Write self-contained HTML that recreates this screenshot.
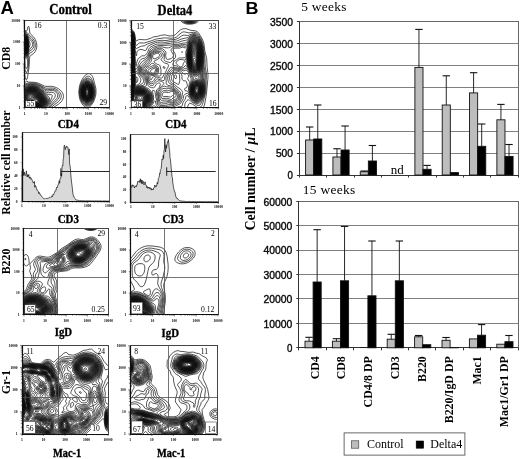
<!DOCTYPE html>
<html><head><meta charset="utf-8"><title>Figure</title>
<style>html,body{margin:0;padding:0;background:#fff}svg{display:block}</style>
</head><body>
<svg width="520" height="459" viewBox="0 0 520 459">
<defs><clipPath id="c1"><rect x="24.70" y="20.20" width="84.90" height="87.60"/></clipPath>
<clipPath id="c2"><rect x="131.00" y="20.60" width="87.70" height="87.00"/></clipPath>
<clipPath id="c3"><rect x="23.90" y="228.30" width="84.60" height="86.20"/></clipPath>
<clipPath id="c4"><rect x="130.80" y="228.60" width="87.20" height="85.90"/></clipPath>
<clipPath id="c5"><rect x="22.00" y="345.40" width="86.00" height="88.60"/></clipPath>
<clipPath id="c6"><rect x="130.10" y="345.80" width="86.90" height="88.20"/></clipPath></defs>
<rect width="520" height="459" fill="#fff"/>
<g clip-path="url(#c1)" fill="none" stroke="#111" stroke-width="0.72" stroke-linejoin="round">
<path d="M19.6 42.5 19.9 40.0 20.6 36.7 21.8 33.4 22.5 32.1 23.4 31.0 24.1 30.5 24.7 30.4 26.6 30.9 26.9 30.7 27.3 30.2 27.9 27.0 28.5 26.2 29.2 27.5 29.7 32.1 30.1 33.4 30.5 34.0 33.4 36.7 35.2 39.3 36.5 42.6 36.9 45.9 36.7 47.9 36.3 49.2 35.1 51.8 33.6 53.5 30.5 55.6 29.8 56.6 29.4 59.1 29.3 64.3 28.9 68.3 27.7 76.2 27.3 78.0 26.6 79.7 26.0 79.6 25.2 77.5 23.8 67.6 23.3 61.0 21.2 55.1 19.9 49.2 19.6 46.7M88.5 107.2 87.3 107.4 85.3 107.0 83.4 105.6 82.0 103.8 80.6 101.2 79.8 99.2 79.1 95.9 78.8 92.0 79.4 86.7 80.5 82.8 81.7 80.1 83.4 77.4 85.3 75.1 87.3 73.9 88.5 73.6 89.8 73.8 91.1 74.6 92.4 76.2 93.0 77.5 95.3 86.1 95.9 88.7 96.0 91.3 95.9 94.0 95.4 96.6 94.6 99.2 93.5 101.9 92.3 103.8 91.1 105.5 89.8 106.6 88.5 107.2zM19.6 87.0 20.9 85.9 24.2 83.4 26.0 81.4 26.6 81.1 26.9 81.4 28.5 82.1 34.3 82.3 37.5 82.9 39.4 83.6 44.5 86.1 45.8 86.4 51.5 86.3 54.7 87.0 56.6 87.7 58.5 88.8 60.1 90.0 61.4 91.3 62.4 92.6 63.0 94.0 63.4 95.3 63.5 96.6 63.3 97.9 62.8 99.2 62.1 100.5 61.1 101.9 58.5 104.1 49.6 110.1 45.8 112.1 42.6 113.1M31.0 113.1 28.5 112.6 24.7 111.4 22.2 110.1 19.6 108.1M26.6 72.8 26.0 72.6 25.0 69.6 24.4 66.3 24.1 61.0 23.7 59.7 21.9 55.8 21.3 53.8 20.5 49.8 20.1 45.9 20.1 43.3 20.4 40.0 21.3 36.0 21.8 34.7 22.8 32.7 23.4 31.9 24.1 31.5 24.7 31.3 26.0 31.7 27.2 32.7 28.5 34.0 29.4 35.4 31.7 37.3 33.0 38.6 34.6 41.3 35.2 43.3 35.4 44.6 35.2 47.2 34.8 48.5 34.2 49.8 33.6 50.6 32.4 51.7 29.8 53.1 29.2 54.0 28.8 55.1 28.4 57.7 28.5 63.0 28.4 66.3 27.6 70.3 26.6 72.8zM88.5 105.8 87.3 106.1 85.3 105.6 83.4 104.1 82.2 102.5 81.1 100.5 80.0 97.3 79.5 94.0 79.4 92.0 79.8 88.0 80.4 85.4 81.1 83.4 82.5 80.8 84.1 78.6 85.3 77.4 87.3 76.3 88.5 76.2 89.8 76.6 90.4 77.1 91.2 78.2 92.5 80.8 94.5 86.7 95.1 90.0 95.2 92.0 94.6 96.6 93.3 100.5 92.2 102.5 91.1 104.0 89.8 105.2 88.5 105.8zM19.6 88.4 22.2 86.0 26.0 83.6 27.3 83.2 31.7 83.0 34.9 83.2 36.8 83.7 38.8 84.4 44.1 87.4 45.8 88.1 47.0 88.2 52.2 88.0 54.1 88.3 56.0 89.1 57.9 90.3 59.6 92.0 60.9 94.0 61.3 95.9 61.2 97.3 60.5 99.2 59.5 100.5 58.2 101.9 54.7 104.5 50.2 108.3 48.3 109.6 45.1 111.3 42.6 112.2 40.0 112.6 36.8 112.8 33.6 112.6 29.2 111.9 26.6 111.2 24.1 110.2 21.5 108.6 19.6 106.9M26.6 68.4 26.0 68.3 25.3 66.7 25.1 65.0 24.9 60.4 22.9 57.1 21.8 54.5 21.1 51.8 20.4 46.6 20.5 41.9 21.3 37.3 21.9 35.4 22.8 33.5 24.1 32.2 24.7 32.1 25.3 32.2 26.1 32.7 27.2 34.0 29.2 37.2 31.1 38.7 32.3 40.0 33.4 41.9 34.0 44.6 33.8 46.6 33.0 48.4 31.7 49.7 29.8 50.7 29.2 51.5 28.5 53.3 27.3 58.4 27.7 63.0 27.6 65.6 27.3 67.2 26.6 68.4zM89.2 104.6 87.9 105.1 86.0 104.9 84.7 104.3 82.9 102.5 81.7 100.5 80.7 97.9 79.9 93.3 79.9 90.7 80.4 87.4 81.8 83.4 82.9 81.4 84.7 79.4 86.0 78.5 87.9 78.0 89.2 78.3 89.8 78.8 91.1 80.2 92.2 82.1 93.3 84.7 93.9 86.7 94.6 91.3 94.6 93.3 94.2 95.9 93.3 99.2 92.7 100.5 91.5 102.5 90.4 103.7 89.2 104.6zM19.6 89.6 22.2 87.0 24.1 85.6 26.0 84.6 27.3 84.2 30.5 83.8 34.3 83.9 36.8 84.4 38.8 85.2 40.7 86.2 44.5 88.8 45.8 89.5 47.7 89.7 52.2 89.3 54.1 89.7 55.3 90.2 57.0 91.3 58.2 92.6 59.0 94.0 59.4 95.9 59.0 97.9 57.9 99.6 54.1 103.1 50.1 107.1 47.7 109.0 45.8 110.1 41.9 111.5 38.8 112.0 35.6 112.0 31.1 111.5 27.9 110.9 25.3 110.0 23.4 109.0 21.5 107.7 19.6 105.9M26.0 58.8 25.3 58.9 24.1 58.1 22.6 55.8 21.9 53.8 21.2 51.2 20.6 45.9 20.6 43.3 21.0 40.0 21.7 36.7 22.9 34.0 24.1 32.8 24.7 32.7 25.3 32.8 26.6 34.0 29.2 38.8 31.6 41.3 32.3 42.6 32.6 44.6 32.4 45.9 31.8 47.2 29.8 48.8 29.2 49.7 27.2 56.4 26.6 57.8 26.0 58.8zM89.2 103.9 87.9 104.3 86.0 104.2 84.7 103.5 83.4 102.3 82.2 100.5 81.3 98.6 80.6 95.9 80.3 94.0 80.3 91.3 80.5 88.7 81.2 86.1 82.0 84.1 83.1 82.1 84.7 80.3 86.0 79.5 87.3 79.1 88.5 79.3 89.2 79.6 90.4 80.7 91.5 82.1 92.5 84.1 93.2 86.1 93.9 88.7 94.1 90.7 94.1 93.3 93.9 95.3 92.8 99.2 91.1 102.2 89.2 103.9zM19.6 90.7 20.7 89.4 22.2 87.9 24.1 86.4 26.0 85.4 27.3 84.9 30.5 84.4 34.3 84.5 36.8 85.1 38.8 85.9 40.7 87.0 44.5 89.9 46.4 90.9 47.7 91.0 52.2 90.5 53.4 90.7 54.7 91.2 56.0 92.1 57.0 93.3 57.6 94.6 57.7 95.9 57.4 97.3 56.7 98.6 53.4 101.9 50.7 105.2 48.9 107.1 45.8 109.4 43.9 110.3 41.9 110.9 38.8 111.4 35.6 111.4 31.1 111.0 27.9 110.3 25.3 109.4 23.4 108.3 21.5 106.9 19.6 105.0M26.0 57.2 25.3 57.6 24.7 57.6 24.1 57.2 23.0 55.8 21.8 52.5 21.0 47.2 21.0 41.9 21.9 37.3 23.0 34.7 24.1 33.6 24.7 33.4 25.3 33.6 26.0 34.1 26.9 35.4 29.6 41.9 30.1 43.9 30.1 44.6 29.2 47.0 27.6 53.8 26.8 55.8 26.0 57.2zM88.5 103.3 87.3 103.6 86.0 103.4 84.7 102.6 83.4 101.3 82.5 99.9 81.6 97.9 81.1 95.9 80.7 93.3 80.7 90.7 81.1 88.0 81.7 86.1 82.6 84.1 83.4 82.7 84.7 81.3 86.0 80.5 87.3 80.2 88.5 80.4 89.8 81.2 91.5 83.4 92.9 86.7 93.4 88.7 93.6 90.7 93.7 92.6 93.4 95.3 92.5 98.6 91.5 100.5 90.6 101.9 89.8 102.6 88.5 103.3zM19.6 92.3 20.6 90.7 22.2 88.9 24.1 87.4 26.0 86.3 27.9 85.6 29.8 85.2 31.7 85.1 33.6 85.1 36.2 85.7 38.8 86.8 41.3 88.6 44.5 91.4 46.4 92.5 48.3 92.8 51.5 92.3 53.4 92.6 54.4 93.3 55.0 94.0 55.4 95.3 55.3 95.9 54.8 97.3 52.2 100.7 49.8 104.5 48.2 106.5 46.6 107.8 45.1 108.8 43.2 109.7 41.3 110.3 38.8 110.7 35.6 110.7 31.1 110.3 27.9 109.6 26.0 108.9 23.4 107.5 21.4 105.8 19.6 103.7M25.3 56.8 24.7 56.9 24.1 56.5 23.0 55.1 22.5 53.8 21.6 50.5 21.1 45.9 21.2 41.9 21.9 38.0 22.6 36.0 23.4 34.7 24.1 34.2 24.7 34.0 25.3 34.2 26.0 34.7 27.2 36.7 28.3 40.0 29.0 43.9 28.8 46.6 27.6 52.5 26.6 55.3 26.0 56.3 25.3 56.8zM88.5 102.7 87.3 103.0 86.0 102.8 84.7 102.0 83.9 101.2 82.9 99.9 82.0 97.9 81.3 95.3 81.0 93.3 81.2 89.4 81.9 86.7 82.7 84.7 83.5 83.4 84.7 82.0 86.0 81.2 87.3 80.9 88.5 81.2 89.2 81.5 90.4 82.7 91.4 84.1 92.7 87.4 93.3 91.3 93.2 94.6 92.8 96.6 92.1 98.6 91.5 99.9 90.4 101.3 89.8 101.9 88.5 102.7zM19.6 93.6 20.5 92.0 22.0 90.0 23.4 88.6 25.3 87.3 27.3 86.4 29.2 85.9 31.1 85.7 33.0 85.7 35.6 86.1 38.1 87.1 40.4 88.7 44.5 92.5 46.4 93.9 48.3 94.6 51.5 94.7 52.3 95.3 52.4 95.9 49.8 102.5 48.8 104.5 47.7 105.8 45.8 107.6 43.9 108.8 41.9 109.5 40.0 110.0 37.5 110.2 34.3 110.1 30.5 109.6 27.3 108.8 24.7 107.6 22.8 106.3 20.9 104.5 19.6 102.6M25.3 56.2 24.7 56.3 24.1 56.0 23.4 55.1 22.5 53.1 21.7 49.8 21.2 45.2 21.3 42.6 21.7 40.0 22.3 37.3 23.4 35.2 24.1 34.6 24.7 34.4 25.3 34.6 26.0 35.2 27.2 37.3 28.3 41.3 28.5 43.9 28.3 47.9 27.6 51.8 26.6 54.6 26.0 55.7 25.3 56.2zM89.2 101.9 87.9 102.4 86.6 102.4 85.3 101.9 84.4 101.2 83.3 99.9 82.3 97.9 81.7 95.9 81.4 94.0 81.3 92.0 81.4 90.0 81.8 88.0 82.4 86.1 84.1 83.3 85.3 82.1 86.6 81.6 87.9 81.5 88.5 81.7 89.8 82.6 90.5 83.4 91.9 86.1 92.6 88.0 92.9 90.0 93.0 94.0 92.3 97.3 91.1 99.9 90.0 101.2 89.2 101.9zM19.6 95.0 20.7 92.6 22.1 90.7 23.4 89.3 25.3 87.9 27.3 87.0 29.2 86.4 31.7 86.1 33.6 86.2 36.8 87.1 38.1 87.7 40.0 89.1 45.1 94.0 48.6 96.6 49.4 97.9 49.6 99.2 49.3 101.2 48.7 103.2 47.5 105.2 46.3 106.5 44.5 107.8 42.6 108.8 40.7 109.4 38.1 109.7 34.9 109.7 31.7 109.4 29.2 108.9 26.6 108.0 24.1 106.7 22.2 105.2 20.5 103.2 19.6 101.4M24.7 55.9 24.1 55.5 23.4 54.8 22.4 52.5 21.7 49.2 21.4 44.6 21.7 40.6 22.5 37.3 23.4 35.6 24.1 35.0 24.7 34.8 25.3 35.0 26.0 35.6 26.9 37.3 27.6 39.3 28.0 41.3 28.3 44.6 28.2 47.2 27.8 49.8 27.0 53.1 26.0 55.2 25.3 55.7 24.7 55.9zM87.9 102.0 86.6 102.0 85.3 101.5 83.7 99.9 82.6 97.9 81.9 95.9 81.5 92.6 81.6 90.7 81.9 88.7 83.0 85.4 84.7 83.1 86.0 82.2 87.3 81.9 88.5 82.2 89.2 82.6 90.0 83.4 91.0 84.7 92.3 88.0 92.7 90.0 92.8 92.0 92.5 95.3 91.5 98.6 90.7 99.9 89.8 101.0 89.2 101.5 87.9 102.0zM19.6 96.8 20.2 94.6 21.2 92.6 22.8 90.6 24.7 88.9 26.6 87.7 28.5 87.0 31.1 86.6 33.6 86.6 35.6 87.0 37.5 87.9 40.4 90.0 47.5 97.3 48.3 98.6 48.6 100.5 48.2 102.5 47.3 104.5 46.2 105.8 44.7 107.1 42.6 108.3 40.7 109.0 38.8 109.3 36.2 109.4 33.6 109.2 29.8 108.6 27.9 108.1 25.3 107.0 23.4 105.7 21.5 103.8 20.3 101.9 19.6 99.8M25.3 55.3 24.7 55.5 24.1 55.1 23.4 54.3 22.9 53.1 22.0 49.8 21.6 45.9 21.7 41.3 22.5 38.0 23.4 36.0 24.1 35.4 24.7 35.2 25.3 35.4 26.0 36.0 27.0 38.0 27.7 40.6 28.1 43.9 28.1 46.6 27.5 50.5 26.5 53.8 26.0 54.7 25.3 55.3zM88.5 101.4 87.3 101.7 86.0 101.5 84.7 100.6 84.1 99.9 82.6 97.3 82.0 95.3 81.7 93.3 81.7 91.3 82.0 89.4 83.0 86.1 83.7 84.7 84.7 83.6 86.0 82.6 87.3 82.3 87.9 82.4 89.2 83.0 90.7 84.7 91.4 86.1 92.1 88.0 92.6 91.3 92.4 94.6 91.5 97.9 90.4 99.9 89.2 101.1 88.5 101.4zM40.7 108.6 38.1 109.0 35.6 109.0 32.4 108.7 29.2 108.1 27.3 107.5 25.3 106.5 23.4 105.2 22.0 103.8 21.0 102.5 20.2 100.5 19.9 99.2 19.9 97.3 20.4 95.3 21.3 93.3 22.7 91.3 24.1 89.9 26.6 88.2 29.8 87.1 33.0 86.9 35.6 87.5 37.5 88.3 39.8 90.0 46.0 96.6 47.4 98.6 47.8 99.9 47.8 101.2 47.4 103.2 46.2 105.2 44.9 106.5 43.2 107.6 40.7 108.6zM25.3 55.0 24.7 55.1 24.1 54.8 23.0 53.1 22.0 49.2 21.6 45.9 21.8 41.9 22.4 38.6 23.4 36.4 24.1 35.7 24.7 35.5 25.3 35.7 26.0 36.4 26.8 38.0 27.6 40.6 27.9 43.9 27.8 47.9 27.2 51.2 26.3 53.8 25.3 55.0zM87.9 101.3 87.3 101.4 86.0 101.1 84.7 100.2 83.9 99.2 83.1 97.9 82.4 95.9 81.9 92.6 82.0 90.7 82.3 88.7 83.4 85.7 84.1 84.7 85.3 83.4 86.0 83.0 87.3 82.7 88.5 83.0 89.2 83.4 90.8 85.4 91.4 86.7 92.0 88.7 92.4 92.0 92.1 95.3 91.3 97.9 89.8 100.2 89.2 100.7 87.9 101.3zM39.4 108.5 36.8 108.8 34.3 108.6 31.1 108.2 28.5 107.6 26.6 106.8 24.7 105.8 23.1 104.5 21.9 103.2 21.1 101.9 20.4 99.9 20.2 98.6 20.4 96.6 21.0 94.6 21.7 93.3 23.2 91.3 24.7 89.8 27.3 88.3 29.8 87.5 33.0 87.3 35.6 87.8 37.5 88.7 39.4 90.2 45.8 97.3 46.7 98.6 47.2 100.5 47.2 101.9 46.5 103.8 45.6 105.2 43.9 106.8 41.9 107.8 39.4 108.5zM25.3 54.6 24.7 54.8 24.1 54.4 23.2 53.1 22.3 50.5 21.7 45.9 21.9 41.9 22.5 38.6 23.4 36.7 24.1 36.0 24.7 35.8 25.3 36.0 26.0 36.7 26.9 38.6 27.6 41.3 27.8 43.9 27.7 47.9 27.1 51.2 26.4 53.1 26.0 53.9 25.3 54.6zM88.5 100.8 87.3 101.1 86.0 100.8 85.3 100.4 84.1 99.2 82.8 96.6 82.1 93.3 82.1 91.3 82.3 89.4 83.4 86.2 84.3 84.7 85.3 83.7 86.6 83.1 87.3 83.0 87.9 83.1 89.2 83.8 90.5 85.4 91.6 88.0 92.2 91.3 92.1 94.6 91.4 97.3 90.3 99.2 89.2 100.4 88.5 100.8zM37.5 108.5 34.9 108.4 32.4 108.1 29.8 107.6 27.3 106.8 25.3 105.8 23.6 104.5 22.3 103.2 21.4 101.9 20.7 99.9 20.6 98.6 20.6 97.3 21.1 95.3 22.1 93.3 23.4 91.5 25.1 90.0 26.6 89.0 29.2 88.0 31.7 87.6 34.3 87.8 36.2 88.4 38.1 89.6 40.1 91.3 44.7 96.6 46.1 98.6 46.6 99.9 46.7 101.9 46.1 103.8 45.1 105.2 43.7 106.5 41.9 107.5 40.0 108.1 37.5 108.5zM24.7 54.5 24.1 54.1 23.4 53.3 22.6 51.2 22.0 47.9 21.8 44.6 22.0 41.9 22.7 38.6 23.4 37.0 24.1 36.3 24.7 36.1 25.3 36.3 26.0 37.0 26.8 38.6 27.6 41.9 27.7 44.6 27.6 47.9 26.7 51.8 26.0 53.6 25.3 54.3 24.7 54.5zM87.9 100.7 86.6 100.7 86.0 100.5 85.1 99.9 84.1 98.8 83.2 97.3 82.8 95.9 82.2 92.6 82.5 89.4 83.1 87.4 83.7 86.1 84.6 84.7 85.3 84.1 86.0 83.7 87.3 83.4 88.5 83.7 89.2 84.1 90.7 86.1 91.6 88.7 92.1 92.0 91.8 95.3 90.9 97.9 89.4 99.9 87.9 100.7zM40.0 107.8 38.1 108.2 35.6 108.2 33.0 107.9 29.8 107.3 27.9 106.7 26.0 105.8 24.1 104.5 22.8 103.3 21.8 101.9 21.2 100.5 20.9 99.2 21.0 97.3 21.3 95.9 22.1 94.0 23.4 92.0 24.7 90.7 26.6 89.3 28.5 88.5 31.1 87.9 33.0 87.9 34.9 88.3 36.8 89.1 38.8 90.5 40.9 92.6 45.2 97.9 46.1 99.9 46.3 101.2 45.9 103.2 44.7 105.2 42.6 106.8 40.0 107.8zM25.3 54.0 24.7 54.2 24.1 53.8 23.2 52.5 22.4 49.8 21.9 45.9 22.0 42.6 22.6 39.3 23.4 37.3 24.1 36.6 24.7 36.4 25.3 36.6 26.0 37.3 26.6 38.6 27.3 41.3 27.6 43.9 27.5 47.2 27.0 50.5 26.4 52.5 25.3 54.0zM88.5 100.2 87.9 100.5 86.6 100.5 85.4 99.9 84.7 99.2 83.7 97.9 83.1 96.6 82.4 93.3 82.5 90.0 83.0 88.0 83.6 86.7 84.4 85.4 85.3 84.4 86.6 83.7 87.3 83.6 88.5 84.0 89.2 84.4 90.4 86.1 91.5 88.7 91.9 91.3 91.8 94.0 91.2 96.6 90.3 98.6 89.2 99.8 88.5 100.2zM38.8 107.8 36.8 108.0 34.3 107.8 29.2 106.9 27.3 106.2 25.3 105.1 24.1 104.2 22.8 102.8 21.8 101.2 21.3 99.9 21.2 98.6 21.4 96.6 21.8 95.3 22.9 93.3 24.1 91.8 25.3 90.6 27.3 89.4 29.8 88.4 32.4 88.2 34.9 88.6 36.8 89.5 38.8 90.9 41.0 93.3 44.3 97.3 45.5 99.2 45.8 100.5 45.7 102.5 45.2 103.8 44.2 105.2 42.6 106.5 40.7 107.4 38.8 107.8zM24.7 53.9 24.1 53.6 23.4 52.6 22.8 50.9 22.3 48.5 22.0 44.6 22.2 41.3 22.8 39.0 23.4 37.5 24.1 36.8 24.7 36.6 25.3 36.9 26.0 37.6 26.7 39.3 27.3 41.9 27.5 44.6 27.3 47.9 26.7 51.2 26.0 52.9 25.3 53.7 24.7 53.9zM88.5 99.9 87.9 100.2 86.6 100.2 85.3 99.6 84.7 99.0 83.3 96.6 82.6 93.3 82.7 90.0 83.2 88.0 83.8 86.7 84.6 85.4 85.3 84.7 86.0 84.2 87.3 83.9 88.5 84.3 89.2 84.8 90.2 86.1 91.3 88.7 91.7 91.3 91.7 94.0 91.0 96.6 90.0 98.6 88.5 99.9zM40.0 107.3 38.1 107.7 35.6 107.7 30.5 106.9 26.6 105.6 24.9 104.5 23.5 103.2 22.5 101.9 21.8 100.5 21.5 99.2 21.5 97.9 21.7 96.6 22.4 94.6 23.4 93.0 24.7 91.5 26.6 90.0 28.5 89.1 30.5 88.6 32.4 88.5 34.3 88.7 36.2 89.5 38.0 90.7 39.4 92.0 44.3 97.9 45.3 99.9 45.5 101.2 45.1 103.2 43.9 105.1 42.0 106.5 40.0 107.3zM25.3 53.4 24.7 53.6 24.1 53.3 23.2 51.8 22.5 49.2 22.1 45.2 22.2 41.9 22.8 39.3 23.4 37.8 24.1 37.1 24.7 36.8 25.3 37.1 26.4 38.6 27.0 40.6 27.4 43.9 27.4 46.6 26.9 49.8 26.1 52.5 25.3 53.4zM87.9 100.0 87.3 100.0 86.0 99.7 84.6 98.6 83.8 97.3 83.2 95.9 82.7 92.6 83.0 89.4 84.0 86.7 85.3 85.0 86.0 84.5 87.3 84.2 88.5 84.6 89.2 85.0 90.4 86.7 91.3 89.4 91.6 92.0 91.4 94.6 90.6 97.3 89.2 99.2 87.9 100.0zM39.4 107.2 37.5 107.5 34.9 107.5 29.8 106.5 27.9 105.9 26.0 104.9 24.5 103.8 23.4 102.7 22.4 101.2 21.9 99.9 21.8 98.6 21.9 97.3 22.4 95.3 23.1 94.0 24.1 92.6 25.3 91.4 27.3 90.0 29.2 89.2 31.1 88.8 33.0 88.8 34.9 89.2 36.8 90.2 38.3 91.3 40.2 93.3 43.0 96.6 44.4 98.6 44.9 99.9 45.1 101.9 44.4 103.8 43.4 105.2 41.5 106.5 39.4 107.2zM25.3 53.2 24.7 53.4 24.1 53.0 23.4 52.0 22.6 49.2 22.2 45.9 22.2 42.6 22.7 40.0 23.4 38.1 24.1 37.3 24.7 37.1 25.3 37.3 25.9 38.0 26.5 39.3 27.0 41.3 27.3 43.9 27.2 47.2 26.8 49.8 26.2 51.8 25.3 53.2zM88.5 99.4 87.9 99.7 86.6 99.7 86.0 99.5 84.9 98.6 83.6 96.6 83.2 95.3 82.8 93.3 83.0 90.0 83.8 87.4 84.6 86.1 85.3 85.2 86.0 84.8 87.3 84.4 88.5 84.8 89.2 85.4 90.2 86.7 91.0 88.7 91.5 91.3 91.4 94.0 90.7 96.6 89.8 98.3 88.5 99.4zM38.1 107.2 36.2 107.3 33.6 107.1 31.1 106.6 28.5 105.8 26.6 105.0 25.3 104.2 24.2 103.2 23.1 101.9 22.4 100.5 22.1 99.2 22.1 97.9 22.5 95.9 23.1 94.6 24.1 93.1 25.3 91.7 26.6 90.7 28.5 89.7 31.1 89.1 33.6 89.1 35.6 89.8 37.1 90.7 38.8 92.1 41.6 95.3 43.6 97.9 44.6 99.9 44.8 101.2 44.7 102.5 44.1 103.8 43.0 105.2 41.9 105.9 40.0 106.8 38.1 107.2zM25.3 52.9 24.7 53.1 24.1 52.8 23.4 51.8 22.6 49.2 22.2 45.9 22.3 42.6 22.8 40.0 23.4 38.3 24.1 37.5 24.7 37.3 25.3 37.6 26.4 39.3 26.9 41.3 27.2 43.9 27.2 46.6 26.9 49.2 26.1 51.8 25.3 52.9zM87.9 99.5 86.6 99.5 86.0 99.2 84.6 97.9 83.8 96.6 83.3 95.3 82.9 92.6 83.1 90.0 84.1 87.3 85.3 85.5 86.0 85.0 87.3 84.7 88.5 85.1 89.2 85.6 90.0 86.7 91.0 89.4 91.4 92.0 91.1 94.6 90.4 96.9 89.2 98.7 87.9 99.5zM40.0 106.6 38.1 107.0 36.2 107.1 31.7 106.5 27.9 105.3 26.0 104.3 24.7 103.3 23.0 101.2 22.5 99.9 22.3 98.6 22.4 97.3 23.1 95.3 24.8 92.6 26.3 91.3 27.9 90.3 29.8 89.6 31.7 89.3 33.6 89.4 34.9 89.8 36.6 90.7 38.1 91.9 40.1 94.0 42.8 97.3 44.0 99.2 44.4 100.5 44.4 102.5 43.8 103.8 43.2 104.5 41.9 105.6 40.0 106.6zM25.3 52.6 24.7 52.9 24.1 52.5 23.4 51.5 22.7 49.2 22.3 45.9 22.4 42.6 22.9 40.0 23.4 38.6 24.1 37.7 24.7 37.5 25.3 37.8 26.3 39.3 26.8 41.3 27.1 43.9 27.1 46.6 26.8 49.2 26.0 51.7 25.3 52.6zM87.9 99.2 87.3 99.3 86.0 99.0 84.7 97.8 84.0 96.6 83.5 95.3 83.1 92.6 83.3 90.0 84.2 87.4 85.3 85.8 86.0 85.3 87.3 84.9 88.5 85.4 89.8 86.7 90.9 89.4 91.2 92.0 91.0 94.6 90.4 96.6 89.2 98.5 87.9 99.2zM39.4 106.5 37.5 106.9 35.6 106.9 31.1 106.2 27.3 104.8 24.7 103.0 23.7 101.9 23.0 100.5 22.7 99.2 22.6 97.9 22.9 96.6 23.4 95.3 24.1 94.0 25.3 92.5 26.7 91.3 28.5 90.3 30.5 89.7 32.4 89.5 34.3 89.8 35.6 90.4 37.1 91.3 38.5 92.6 42.9 97.9 44.0 99.9 44.2 101.2 43.8 103.2 42.9 104.5 41.3 105.8 39.4 106.5zM24.7 52.6 24.1 52.3 23.8 51.8 23.0 49.8 22.5 47.2 22.3 44.6 22.5 41.9 23.0 40.0 23.4 38.8 24.0 38.0 24.7 37.7 25.3 38.0 26.0 38.9 26.4 40.0 27.0 42.6 27.1 45.2 26.9 47.9 26.3 50.5 26.0 51.5 25.3 52.4 24.7 52.6zM88.5 98.7 87.9 99.0 86.6 99.0 85.3 98.3 84.5 97.3 83.8 95.9 83.2 93.3 83.3 90.7 84.1 88.0 85.3 86.0 86.0 85.5 87.3 85.2 88.5 85.6 89.8 87.0 90.5 88.7 91.1 91.3 91.0 94.0 90.5 95.9 89.8 97.4 88.5 98.7zM38.8 106.5 36.8 106.7 34.9 106.6 30.5 105.8 27.3 104.5 26.0 103.7 24.6 102.5 23.3 100.5 22.9 99.2 22.9 97.9 23.1 96.6 23.7 95.3 24.7 93.6 26.0 92.3 27.3 91.3 29.2 90.3 31.1 89.8 33.0 89.8 34.9 90.4 36.2 91.0 37.5 92.0 39.4 93.9 41.7 96.6 43.0 98.6 43.8 100.5 43.9 101.9 43.5 103.2 42.6 104.5 40.7 105.8 38.8 106.5zM25.3 52.2 24.7 52.4 24.1 52.0 23.4 50.9 22.8 48.5 22.4 45.9 22.5 43.3 22.9 40.6 23.7 38.6 24.1 38.2 24.7 37.9 25.3 38.2 26.3 40.0 26.8 41.9 27.0 43.9 27.0 46.6 26.6 49.0 26.0 51.2 25.3 52.2zM87.9 98.8 86.6 98.8 86.0 98.5 84.7 97.3 83.8 95.3 83.3 92.6 83.5 90.0 84.5 87.4 85.3 86.3 86.0 85.8 87.3 85.4 88.5 85.9 89.8 87.4 90.6 89.4 91.0 92.0 90.7 94.6 90.1 96.6 89.2 98.0 87.9 98.8zM36.8 106.5 33.0 106.2 30.5 105.5 28.5 104.8 25.7 103.2 23.9 101.2 23.4 99.9 23.1 98.6 23.3 97.3 23.7 95.9 24.4 94.6 25.3 93.3 26.6 92.1 27.9 91.2 29.8 90.4 31.7 90.0 33.6 90.2 35.0 90.7 36.2 91.3 38.1 93.0 40.8 95.9 42.8 98.6 43.4 99.9 43.6 101.2 43.5 102.5 42.8 103.8 41.4 105.2 40.2 105.8 38.8 106.3 36.8 106.5zM25.3 51.9 24.7 52.2 24.1 51.8 23.4 50.6 22.8 48.5 22.5 45.9 22.5 43.3 23.0 40.6 23.4 39.3 23.9 38.6 24.7 38.1 25.3 38.4 26.2 40.0 26.7 41.9 26.9 43.9 26.9 46.6 26.6 48.5 26.0 50.9 25.3 51.9zM87.9 98.6 86.6 98.6 86.0 98.3 84.9 97.3 83.9 95.3 83.4 92.6 83.7 90.0 84.7 87.4 86.0 86.0 87.3 85.7 88.5 86.1 89.8 87.7 90.6 90.0 90.8 92.0 90.6 94.6 89.9 96.6 89.2 97.7 87.9 98.6zM39.4 105.9 38.1 106.2 36.2 106.3 34.3 106.2 31.7 105.7 27.9 104.3 25.3 102.5 23.9 100.5 23.5 99.2 23.4 97.9 24.1 95.7 25.7 93.3 27.2 92.0 28.5 91.2 29.8 90.7 31.7 90.3 33.6 90.5 34.9 90.9 36.2 91.7 37.5 92.7 41.6 97.3 42.8 99.2 43.3 100.5 43.2 102.5 42.5 103.8 41.0 105.2 39.4 105.9zM24.7 51.9 24.1 51.5 23.3 49.8 22.7 47.2 22.5 44.6 22.8 41.9 23.3 40.0 24.1 38.6 24.7 38.3 25.3 38.7 26.0 39.7 26.3 40.6 26.7 42.6 26.9 45.2 26.7 47.9 26.2 49.8 25.3 51.7 24.7 51.9zM88.5 98.0 87.9 98.4 86.6 98.4 85.3 97.5 84.3 95.9 83.6 93.3 83.7 90.7 84.5 88.0 85.3 86.8 86.0 86.3 87.3 85.9 88.5 86.4 89.4 87.4 90.3 89.4 90.7 91.3 90.7 93.3 90.3 95.3 89.7 96.6 88.5 98.0zM38.8 105.9 35.6 106.1 31.7 105.5 27.9 104.0 26.5 103.2 25.3 102.2 24.6 101.2 23.9 99.9 23.7 97.9 24.0 96.6 24.6 95.3 26.1 93.3 27.7 92.0 29.2 91.2 30.9 90.7 32.4 90.6 33.6 90.8 35.1 91.3 36.8 92.5 38.1 93.7 41.8 97.9 42.8 99.9 43.1 101.2 42.9 102.5 41.9 104.1 40.6 105.2 38.8 105.9zM25.3 51.4 24.7 51.7 24.1 51.3 23.6 50.5 23.0 48.5 22.6 45.9 22.7 43.3 23.1 40.6 23.4 39.8 24.1 38.8 24.7 38.5 25.3 38.9 26.0 40.0 26.5 41.9 26.8 43.9 26.7 46.6 26.5 48.5 26.0 50.3 25.3 51.4zM87.9 98.1 86.6 98.2 85.3 97.3 84.2 95.3 83.7 92.6 83.9 90.0 84.7 88.0 86.0 86.5 87.3 86.1 88.5 86.6 89.6 88.0 90.3 90.0 90.6 92.0 90.5 94.0 89.9 95.9 89.2 97.2 87.9 98.1zM37.5 105.9 35.6 105.9 33.6 105.7 29.8 104.6 26.9 103.2 26.0 102.4 24.9 101.2 24.1 99.2 24.1 97.3 24.6 95.9 25.3 94.6 27.3 92.6 28.5 91.8 30.5 91.0 32.4 90.8 34.3 91.2 35.7 92.0 37.4 93.3 41.0 97.3 41.9 98.6 42.6 99.9 42.8 101.2 42.6 102.5 41.9 103.8 40.7 104.9 39.4 105.5 37.5 105.9zM25.3 51.2 24.7 51.5 24.1 51.1 23.8 50.5 23.1 48.5 22.7 45.9 22.7 43.3 23.2 40.6 24.1 39.0 24.7 38.7 25.3 39.1 26.0 40.2 26.5 41.9 26.7 43.9 26.7 46.6 26.4 48.5 26.0 50.0 25.3 51.2zM87.9 97.9 86.6 97.9 85.3 97.0 84.3 95.3 83.8 92.6 83.9 90.7 84.7 88.4 86.0 86.8 87.3 86.4 88.5 86.9 89.4 88.0 90.2 90.0 90.5 92.0 90.3 94.0 89.8 95.8 89.2 96.9 87.9 97.9zM39.4 105.3 36.8 105.8 34.9 105.7 33.0 105.4 29.2 104.1 26.5 102.5 25.3 101.4 24.8 100.5 24.3 98.6 24.6 96.6 26.0 94.3 27.3 93.0 28.5 92.1 29.8 91.5 31.1 91.2 33.0 91.2 34.3 91.5 35.6 92.2 36.8 93.2 40.7 97.3 42.0 99.2 42.5 100.5 42.5 101.9 42.0 103.2 40.8 104.5 39.4 105.3zM24.7 51.3 24.1 50.8 23.3 49.2 22.8 46.6 22.7 44.6 22.9 42.6 23.4 40.3 24.1 39.2 24.7 38.9 25.3 39.3 26.0 40.6 26.5 42.6 26.7 45.2 26.4 47.9 26.0 49.7 25.3 50.9 24.7 51.3zM88.5 97.3 87.3 97.8 86.6 97.7 85.8 97.3 84.7 95.8 84.0 93.3 84.1 90.7 84.7 88.7 85.3 87.7 86.0 87.0 87.3 86.6 87.9 86.7 88.5 87.2 89.2 87.9 89.9 89.4 90.3 91.3 90.3 93.3 90.0 94.6 89.6 95.9 88.5 97.3zM38.8 105.3 37.5 105.5 35.6 105.6 32.4 105.0 29.1 103.8 27.3 102.8 26.2 101.9 25.3 100.9 24.9 99.9 24.6 97.9 25.2 95.9 26.7 94.0 27.9 92.9 29.4 92.0 31.1 91.5 32.4 91.4 33.6 91.6 34.9 92.1 37.5 94.1 39.9 96.6 41.3 98.4 42.0 99.9 42.3 101.2 42.1 102.5 41.3 103.8 40.0 104.7 38.8 105.3zM25.3 50.7 24.7 51.0 24.0 50.5 23.3 48.5 22.9 45.9 22.9 43.3 23.2 41.3 24.1 39.4 24.7 39.1 25.3 39.5 26.0 40.7 26.6 43.9 26.3 47.9 26.0 49.4 25.3 50.7zM87.9 97.5 86.6 97.5 85.3 96.5 84.4 94.6 84.1 92.6 84.2 90.7 84.9 88.7 86.0 87.3 87.3 86.9 88.5 87.4 89.2 88.2 89.9 90.0 90.2 92.0 90.1 94.0 89.7 95.3 89.0 96.6 87.9 97.5zM38.1 105.2 35.6 105.4 32.4 104.8 29.2 103.6 26.6 101.9 25.9 101.2 25.2 99.9 25.0 97.9 25.6 95.9 27.3 93.8 28.8 92.6 30.2 92.0 31.7 91.7 33.0 91.8 34.3 92.1 35.6 92.8 38.8 95.7 41.1 98.6 41.8 99.9 42.1 101.2 41.8 102.5 40.9 103.8 39.4 104.8 38.1 105.2zM24.7 50.8 24.1 50.3 23.4 48.9 23.0 46.6 22.9 44.6 23.0 42.6 23.4 40.8 24.1 39.6 24.7 39.3 25.3 39.7 26.0 41.0 26.4 43.3 26.5 45.2 26.0 49.1 25.3 50.5 24.7 50.8zM87.3 97.4 86.6 97.3 86.0 96.9 85.2 95.9 84.4 94.0 84.2 92.0 84.5 90.0 85.3 88.3 86.3 87.4 87.3 87.1 87.9 87.3 88.5 87.7 89.2 88.7 89.9 90.7 90.1 92.6 89.8 94.4 89.2 96.0 88.5 96.8 87.9 97.2 87.3 97.4zM36.8 105.2 33.6 104.9 30.3 103.8 27.8 102.5 26.0 100.7 25.3 99.2 25.4 97.3 26.0 95.9 26.6 95.0 28.5 93.2 29.8 92.5 31.7 92.0 33.0 92.1 34.3 92.5 35.6 93.2 37.5 94.8 39.4 96.7 40.9 98.6 41.5 99.9 41.8 101.2 41.6 102.5 41.2 103.2 40.6 103.8 39.4 104.6 38.1 105.0 36.8 105.2zM24.7 50.6 24.1 50.1 23.4 48.6 23.1 46.6 23.0 44.6 23.4 41.1 24.1 39.9 24.7 39.6 25.3 40.0 26.0 41.3 26.3 43.3 26.4 45.2 26.0 48.8 25.3 50.2 24.7 50.6zM87.9 97.0 87.3 97.1 86.6 97.0 86.0 96.6 85.3 95.9 84.7 94.6 84.3 92.6 84.5 90.7 85.3 88.7 86.0 87.9 86.6 87.5 87.3 87.4 87.9 87.5 88.5 88.0 89.2 88.9 89.8 90.7 89.9 92.0 89.8 93.8 89.4 95.3 88.5 96.5 87.9 97.0zM38.8 104.7 36.2 105.0 33.0 104.6 29.8 103.4 27.4 101.9 26.3 100.5 25.9 99.9 25.6 98.6 26.0 96.6 27.3 94.7 29.2 93.2 30.5 92.6 31.7 92.3 33.0 92.4 34.3 92.8 36.8 94.5 40.1 97.9 41.0 99.2 41.5 100.5 41.5 101.9 40.9 103.2 40.0 104.0 38.8 104.7zM25.3 49.9 24.7 50.3 24.1 49.8 23.4 48.3 23.1 45.9 23.1 43.3 23.4 41.4 24.1 40.1 24.7 39.8 25.3 40.2 25.8 41.3 26.3 43.9 26.3 45.9 26.1 47.9 25.3 49.9zM87.9 96.7 87.3 96.9 86.6 96.8 85.6 95.9 84.9 94.6 84.5 92.6 84.7 90.7 85.3 88.9 86.1 88.0 87.3 87.6 87.9 87.8 88.5 88.3 89.2 89.3 89.8 92.0 89.6 94.0 89.2 95.3 88.5 96.2 87.9 96.7zM38.1 104.6 35.6 104.8 32.4 104.1 29.2 102.7 27.3 101.3 26.3 99.9 26.1 99.2 26.0 97.9 26.6 96.3 27.9 94.6 29.2 93.6 30.5 92.9 31.7 92.7 33.0 92.7 34.3 93.1 35.6 93.9 38.1 96.1 39.8 97.9 40.7 99.1 41.0 99.9 41.3 101.2 41.0 102.5 40.6 103.2 39.4 104.1 38.1 104.6zM24.7 50.1 24.1 49.6 23.4 47.9 23.1 44.6 23.4 41.7 24.1 40.3 24.7 40.0 25.3 40.4 26.0 41.9 26.3 45.2 25.8 48.5 25.3 49.7 24.7 50.1zM87.3 96.6 86.6 96.5 86.0 96.1 85.3 95.3 84.7 93.4 84.6 92.0 84.8 90.7 85.3 89.3 86.0 88.5 86.6 88.0 87.3 87.9 87.9 88.1 88.5 88.6 89.0 89.4 89.4 90.7 89.6 92.6 89.4 94.0 89.0 95.3 88.5 95.9 87.9 96.4 87.3 96.6zM37.5 104.6 34.9 104.6 32.4 103.9 29.4 102.5 27.7 101.2 26.7 99.9 26.5 99.2 26.5 97.9 27.3 96.0 28.4 94.6 29.8 93.6 31.1 93.1 32.4 93.0 33.6 93.3 34.9 93.9 36.2 94.7 39.0 97.3 40.1 98.6 40.8 99.9 41.0 101.2 41.0 101.9 40.3 103.2 39.5 103.8 37.5 104.6zM25.3 49.4 24.7 49.8 24.1 49.3 23.4 47.5 23.2 45.9 23.2 43.9 23.4 42.1 24.1 40.6 24.7 40.2 25.3 40.7 25.6 41.3 26.0 42.5 26.2 43.9 26.0 47.2 25.3 49.4zM87.9 96.2 87.3 96.3 86.6 96.2 86.0 95.8 85.2 94.6 84.8 92.6 84.9 91.3 85.3 89.7 86.1 88.7 86.6 88.3 87.3 88.2 87.9 88.4 88.7 89.4 89.2 90.3 89.5 92.0 89.2 94.4 88.5 95.6 87.9 96.2zM38.8 104.0 36.8 104.4 34.3 104.2 31.1 103.2 28.9 101.9 27.6 100.5 27.0 99.2 26.9 97.9 27.3 96.9 27.8 95.9 28.5 95.1 29.8 94.1 31.7 93.5 33.6 93.7 36.2 95.1 39.4 98.1 40.2 99.2 40.7 100.5 40.7 101.9 40.4 102.5 39.9 103.2 38.8 104.0zM24.7 49.5 24.1 49.0 23.7 47.9 23.4 46.6 23.2 44.6 23.6 41.9 24.1 40.8 24.7 40.4 25.3 41.0 25.7 41.9 26.0 43.3 26.1 45.2 26.0 47.0 25.6 48.5 25.3 49.1 24.7 49.5zM87.3 96.1 86.6 95.9 85.9 95.3 85.3 94.4 85.0 92.6 85.1 91.3 85.5 90.0 86.0 89.2 86.6 88.7 87.3 88.5 87.9 88.8 88.5 89.4 89.2 91.0 89.3 92.6 89.1 94.0 88.5 95.2 87.9 95.9 87.3 96.1zM38.1 104.0 36.2 104.3 33.6 103.9 31.7 103.2 29.5 101.9 28.1 100.5 27.5 99.2 27.5 97.9 27.9 96.8 28.5 95.9 29.2 95.2 30.5 94.3 32.4 93.9 33.6 94.1 34.9 94.6 37.5 96.5 38.9 97.9 39.9 99.2 40.5 100.5 40.5 101.2 40.0 102.7 39.4 103.3 38.1 104.0zM24.7 49.3 24.1 48.7 23.8 47.9 23.4 46.5 23.3 44.6 23.4 43.0 23.7 41.9 24.1 41.1 24.7 40.7 25.3 41.2 25.6 41.9 26.0 43.6 26.1 45.2 26.0 46.6 25.4 48.5 24.7 49.3zM87.9 95.5 87.3 95.7 86.6 95.6 86.0 95.1 85.4 94.0 85.2 92.6 85.2 91.3 85.7 90.0 86.6 89.0 87.3 88.9 87.9 89.2 88.5 89.9 89.1 92.0 88.9 94.0 88.5 94.8 87.9 95.5zM37.5 103.9 35.6 104.0 33.6 103.6 31.1 102.5 29.3 101.2 28.3 99.9 28.0 98.6 28.3 97.3 29.3 95.9 31.1 94.6 33.0 94.4 34.3 94.8 35.6 95.4 38.1 97.4 39.6 99.2 40.0 100.0 40.2 101.2 40.0 102.1 39.4 103.0 38.8 103.5 37.5 103.9zM24.7 49.0 24.1 48.4 23.9 47.9 23.4 45.9 23.4 44.6 23.8 41.9 24.1 41.3 24.7 40.9 25.3 41.5 25.5 41.9 25.8 43.3 26.0 45.2 25.8 46.6 25.3 48.4 24.7 49.0zM87.3 95.4 86.6 95.2 86.0 94.6 85.4 92.6 85.5 91.3 86.0 90.1 86.6 89.5 87.3 89.3 87.9 89.6 88.5 90.5 88.9 92.6 88.5 94.3 87.9 95.1 87.3 95.4zM36.2 103.9 34.3 103.6 32.4 102.9 30.6 101.9 29.3 100.5 28.7 99.2 28.8 97.9 29.6 96.6 31.1 95.4 31.7 95.1 33.0 95.0 34.9 95.5 37.5 97.2 39.4 99.2 39.9 100.5 40.0 101.2 39.5 102.5 38.8 103.2 38.1 103.5 36.2 103.9zM24.7 48.7 24.0 47.9 23.6 45.9 23.5 44.6 24.0 41.9 24.1 41.7 24.7 41.2 25.3 41.9 25.6 42.6 25.8 45.2 25.3 48.1 24.7 48.7zM87.9 94.7 87.3 95.0 86.6 94.8 85.9 94.0 85.7 92.6 86.0 90.7 86.6 90.0 87.3 89.8 87.9 90.1 88.5 91.3 88.6 92.0 88.5 93.4 87.9 94.7zM38.1 103.3 36.8 103.6 34.9 103.5 33.0 102.9 31.2 101.9 30.5 101.2 29.6 99.9 29.5 98.6 29.8 97.8 31.1 96.4 32.4 95.7 33.0 95.6 34.3 95.7 36.2 96.6 38.5 98.6 39.4 99.8 39.6 100.5 39.7 101.2 39.4 102.1 38.8 102.9 38.1 103.3zM24.7 48.3 24.1 47.6 23.6 44.6 24.1 42.0 24.7 41.5 25.4 42.6 25.7 45.2 25.3 47.6 24.7 48.3zM87.9 94.0 87.3 94.4 86.6 94.2 86.0 92.8 86.0 92.0 86.2 91.3 86.6 90.7 87.3 90.5 87.9 90.9 88.2 92.0 88.2 93.3 87.9 94.0zM37.5 103.2 36.2 103.4 34.6 103.2 32.9 102.5 31.8 101.9 31.1 101.2 30.3 99.9 30.4 98.6 30.8 97.9 32.2 96.6 33.6 96.2 35.6 96.7 37.5 97.9 38.8 99.3 39.3 100.5 39.4 101.2 39.2 101.9 38.7 102.5 37.5 103.2zM24.7 47.9 24.1 47.2 23.7 44.6 24.1 42.4 24.7 41.8 25.3 42.7 25.6 44.6 25.3 47.2 24.7 47.9zM87.3 93.5 87.0 93.3 86.6 92.6 86.9 92.0 87.3 91.8 87.6 92.6 87.3 93.5zM38.1 102.6 36.8 103.1 35.6 103.1 34.3 102.8 33.0 102.2 31.7 101.2 31.2 100.5 31.0 99.2 31.3 98.6 32.4 97.4 33.6 96.8 34.9 96.9 36.2 97.4 37.8 98.6 38.8 99.9 39.0 101.2 38.8 101.9 38.1 102.6zM24.7 47.5 24.1 46.6 23.9 44.6 24.1 42.9 24.7 42.2 25.3 43.2 25.5 44.6 25.3 46.5 24.7 47.5zM37.5 102.6 35.6 102.8 34.3 102.5 33.0 101.9 31.9 100.5 31.7 99.9 31.8 99.2 32.1 98.6 33.0 97.7 34.3 97.3 35.6 97.5 36.8 98.2 38.0 99.2 38.6 100.5 38.7 101.2 38.4 101.9 37.5 102.6zM24.7 46.9 24.1 45.8 24.0 44.6 24.1 43.6 24.7 42.7 25.4 44.6 25.2 45.9 24.7 46.9zM36.2 102.5 34.9 102.4 33.7 101.9 33.0 101.2 32.5 100.5 32.4 99.9 32.6 99.2 33.0 98.6 33.6 98.1 34.3 97.9 35.6 98.0 36.8 98.6 38.0 99.9 38.2 100.5 38.2 101.2 37.9 101.9 36.8 102.5 36.2 102.5zM24.7 46.0 24.4 44.6 24.7 43.4 24.9 44.6 24.7 46.0zM36.8 102.0 36.2 102.1 34.9 102.0 33.6 101.2 33.2 100.5 33.1 99.9 33.4 99.2 34.3 98.6 34.9 98.5 35.7 98.6 36.8 99.2 37.5 99.9 37.8 100.5 37.7 101.2 37.5 101.6 36.8 102.0zM36.8 101.4 36.2 101.6 34.9 101.4 34.0 100.5 34.0 99.9 34.9 99.2 36.2 99.4 36.9 99.9 37.2 100.5 37.0 101.2 36.8 101.4z"/>
</g>
<line x1="66.50" y1="20.20" x2="66.50" y2="107.80" stroke="#505050" stroke-width="0.8"/>
<line x1="24.70" y1="73.50" x2="109.60" y2="73.50" stroke="#505050" stroke-width="0.8"/>
<rect x="24.50" y="20.50" width="85.00" height="87.00" fill="none" stroke="#444" stroke-width="1"/>
<line x1="24.50" y1="20.20" x2="24.50" y2="107.80" stroke="#111" stroke-width="1.2"/>
<line x1="24.70" y1="107.50" x2="109.60" y2="107.50" stroke="#111" stroke-width="1.1"/>
<line x1="24.70" y1="107.80" x2="24.70" y2="109.80" stroke="#111" stroke-width="0.5"/>
<line x1="31.09" y1="107.80" x2="31.09" y2="109.00" stroke="#111" stroke-width="0.5"/>
<line x1="34.83" y1="107.80" x2="34.83" y2="109.00" stroke="#111" stroke-width="0.5"/>
<line x1="37.48" y1="107.80" x2="37.48" y2="109.00" stroke="#111" stroke-width="0.5"/>
<line x1="39.54" y1="107.80" x2="39.54" y2="109.00" stroke="#111" stroke-width="0.5"/>
<line x1="41.22" y1="107.80" x2="41.22" y2="109.00" stroke="#111" stroke-width="0.5"/>
<line x1="42.64" y1="107.80" x2="42.64" y2="109.00" stroke="#111" stroke-width="0.5"/>
<line x1="43.87" y1="107.80" x2="43.87" y2="109.00" stroke="#111" stroke-width="0.5"/>
<line x1="44.95" y1="107.80" x2="44.95" y2="109.00" stroke="#111" stroke-width="0.5"/>
<line x1="45.92" y1="107.80" x2="45.92" y2="109.80" stroke="#111" stroke-width="0.5"/>
<line x1="52.31" y1="107.80" x2="52.31" y2="109.00" stroke="#111" stroke-width="0.5"/>
<line x1="56.05" y1="107.80" x2="56.05" y2="109.00" stroke="#111" stroke-width="0.5"/>
<line x1="58.70" y1="107.80" x2="58.70" y2="109.00" stroke="#111" stroke-width="0.5"/>
<line x1="60.76" y1="107.80" x2="60.76" y2="109.00" stroke="#111" stroke-width="0.5"/>
<line x1="62.44" y1="107.80" x2="62.44" y2="109.00" stroke="#111" stroke-width="0.5"/>
<line x1="63.86" y1="107.80" x2="63.86" y2="109.00" stroke="#111" stroke-width="0.5"/>
<line x1="65.09" y1="107.80" x2="65.09" y2="109.00" stroke="#111" stroke-width="0.5"/>
<line x1="66.18" y1="107.80" x2="66.18" y2="109.00" stroke="#111" stroke-width="0.5"/>
<line x1="67.15" y1="107.80" x2="67.15" y2="109.80" stroke="#111" stroke-width="0.5"/>
<line x1="73.54" y1="107.80" x2="73.54" y2="109.00" stroke="#111" stroke-width="0.5"/>
<line x1="77.28" y1="107.80" x2="77.28" y2="109.00" stroke="#111" stroke-width="0.5"/>
<line x1="79.93" y1="107.80" x2="79.93" y2="109.00" stroke="#111" stroke-width="0.5"/>
<line x1="81.99" y1="107.80" x2="81.99" y2="109.00" stroke="#111" stroke-width="0.5"/>
<line x1="83.67" y1="107.80" x2="83.67" y2="109.00" stroke="#111" stroke-width="0.5"/>
<line x1="85.09" y1="107.80" x2="85.09" y2="109.00" stroke="#111" stroke-width="0.5"/>
<line x1="86.32" y1="107.80" x2="86.32" y2="109.00" stroke="#111" stroke-width="0.5"/>
<line x1="87.40" y1="107.80" x2="87.40" y2="109.00" stroke="#111" stroke-width="0.5"/>
<line x1="88.38" y1="107.80" x2="88.38" y2="109.80" stroke="#111" stroke-width="0.5"/>
<line x1="94.76" y1="107.80" x2="94.76" y2="109.00" stroke="#111" stroke-width="0.5"/>
<line x1="98.50" y1="107.80" x2="98.50" y2="109.00" stroke="#111" stroke-width="0.5"/>
<line x1="101.15" y1="107.80" x2="101.15" y2="109.00" stroke="#111" stroke-width="0.5"/>
<line x1="103.21" y1="107.80" x2="103.21" y2="109.00" stroke="#111" stroke-width="0.5"/>
<line x1="104.89" y1="107.80" x2="104.89" y2="109.00" stroke="#111" stroke-width="0.5"/>
<line x1="106.31" y1="107.80" x2="106.31" y2="109.00" stroke="#111" stroke-width="0.5"/>
<line x1="107.54" y1="107.80" x2="107.54" y2="109.00" stroke="#111" stroke-width="0.5"/>
<line x1="108.63" y1="107.80" x2="108.63" y2="109.00" stroke="#111" stroke-width="0.5"/>
<line x1="109.60" y1="107.80" x2="109.60" y2="109.80" stroke="#111" stroke-width="0.5"/>
<line x1="22.70" y1="107.80" x2="24.70" y2="107.80" stroke="#111" stroke-width="0.5"/>
<line x1="23.50" y1="101.21" x2="24.70" y2="101.21" stroke="#111" stroke-width="0.5"/>
<line x1="23.50" y1="97.35" x2="24.70" y2="97.35" stroke="#111" stroke-width="0.5"/>
<line x1="23.50" y1="94.61" x2="24.70" y2="94.61" stroke="#111" stroke-width="0.5"/>
<line x1="23.50" y1="92.49" x2="24.70" y2="92.49" stroke="#111" stroke-width="0.5"/>
<line x1="23.50" y1="90.76" x2="24.70" y2="90.76" stroke="#111" stroke-width="0.5"/>
<line x1="23.50" y1="89.29" x2="24.70" y2="89.29" stroke="#111" stroke-width="0.5"/>
<line x1="23.50" y1="88.02" x2="24.70" y2="88.02" stroke="#111" stroke-width="0.5"/>
<line x1="23.50" y1="86.90" x2="24.70" y2="86.90" stroke="#111" stroke-width="0.5"/>
<line x1="22.70" y1="85.90" x2="24.70" y2="85.90" stroke="#111" stroke-width="0.5"/>
<line x1="23.50" y1="79.31" x2="24.70" y2="79.31" stroke="#111" stroke-width="0.5"/>
<line x1="23.50" y1="75.45" x2="24.70" y2="75.45" stroke="#111" stroke-width="0.5"/>
<line x1="23.50" y1="72.71" x2="24.70" y2="72.71" stroke="#111" stroke-width="0.5"/>
<line x1="23.50" y1="70.59" x2="24.70" y2="70.59" stroke="#111" stroke-width="0.5"/>
<line x1="23.50" y1="68.86" x2="24.70" y2="68.86" stroke="#111" stroke-width="0.5"/>
<line x1="23.50" y1="67.39" x2="24.70" y2="67.39" stroke="#111" stroke-width="0.5"/>
<line x1="23.50" y1="66.12" x2="24.70" y2="66.12" stroke="#111" stroke-width="0.5"/>
<line x1="23.50" y1="65.00" x2="24.70" y2="65.00" stroke="#111" stroke-width="0.5"/>
<line x1="22.70" y1="64.00" x2="24.70" y2="64.00" stroke="#111" stroke-width="0.5"/>
<line x1="23.50" y1="57.41" x2="24.70" y2="57.41" stroke="#111" stroke-width="0.5"/>
<line x1="23.50" y1="53.55" x2="24.70" y2="53.55" stroke="#111" stroke-width="0.5"/>
<line x1="23.50" y1="50.81" x2="24.70" y2="50.81" stroke="#111" stroke-width="0.5"/>
<line x1="23.50" y1="48.69" x2="24.70" y2="48.69" stroke="#111" stroke-width="0.5"/>
<line x1="23.50" y1="46.96" x2="24.70" y2="46.96" stroke="#111" stroke-width="0.5"/>
<line x1="23.50" y1="45.49" x2="24.70" y2="45.49" stroke="#111" stroke-width="0.5"/>
<line x1="23.50" y1="44.22" x2="24.70" y2="44.22" stroke="#111" stroke-width="0.5"/>
<line x1="23.50" y1="43.10" x2="24.70" y2="43.10" stroke="#111" stroke-width="0.5"/>
<line x1="22.70" y1="42.10" x2="24.70" y2="42.10" stroke="#111" stroke-width="0.5"/>
<line x1="23.50" y1="35.51" x2="24.70" y2="35.51" stroke="#111" stroke-width="0.5"/>
<line x1="23.50" y1="31.65" x2="24.70" y2="31.65" stroke="#111" stroke-width="0.5"/>
<line x1="23.50" y1="28.91" x2="24.70" y2="28.91" stroke="#111" stroke-width="0.5"/>
<line x1="23.50" y1="26.79" x2="24.70" y2="26.79" stroke="#111" stroke-width="0.5"/>
<line x1="23.50" y1="25.06" x2="24.70" y2="25.06" stroke="#111" stroke-width="0.5"/>
<line x1="23.50" y1="23.59" x2="24.70" y2="23.59" stroke="#111" stroke-width="0.5"/>
<line x1="23.50" y1="22.32" x2="24.70" y2="22.32" stroke="#111" stroke-width="0.5"/>
<line x1="23.50" y1="21.20" x2="24.70" y2="21.20" stroke="#111" stroke-width="0.5"/>
<line x1="22.70" y1="20.20" x2="24.70" y2="20.20" stroke="#111" stroke-width="0.5"/>
<text x="24.70" y="115.10" font-family='"Liberation Serif", serif' font-size="3.6" font-weight="bold" text-anchor="middle">1</text>
<text x="20.30" y="109.10" font-family='"Liberation Serif", serif' font-size="3.6" font-weight="bold" text-anchor="end">1</text>
<text x="45.92" y="115.10" font-family='"Liberation Serif", serif' font-size="3.6" font-weight="bold" text-anchor="middle">10</text>
<text x="20.30" y="87.20" font-family='"Liberation Serif", serif' font-size="3.6" font-weight="bold" text-anchor="end">10</text>
<text x="67.15" y="115.10" font-family='"Liberation Serif", serif' font-size="3.6" font-weight="bold" text-anchor="middle">100</text>
<text x="20.30" y="65.30" font-family='"Liberation Serif", serif' font-size="3.6" font-weight="bold" text-anchor="end">100</text>
<text x="88.38" y="115.10" font-family='"Liberation Serif", serif' font-size="3.6" font-weight="bold" text-anchor="middle">1000</text>
<text x="20.30" y="43.40" font-family='"Liberation Serif", serif' font-size="3.6" font-weight="bold" text-anchor="end">1000</text>
<text x="109.60" y="115.10" font-family='"Liberation Serif", serif' font-size="3.6" font-weight="bold" text-anchor="middle">10000</text>
<text x="20.30" y="21.50" font-family='"Liberation Serif", serif' font-size="3.6" font-weight="bold" text-anchor="end">10000</text>
<text x="33.90" y="28.10" font-family='"Liberation Serif", serif' font-size="7.6" font-weight="normal" text-anchor="start">16</text>
<text x="107.30" y="28.10" font-family='"Liberation Serif", serif' font-size="7.6" font-weight="normal" text-anchor="end">0.3</text>
<rect x="25.60" y="100.60" width="9.80" height="6.40" fill="#fff" stroke="#222" stroke-width="0.5"/>
<text x="30.50" y="106.30" font-family='"Liberation Serif", serif' font-size="7.6" font-weight="normal" text-anchor="middle">55</text>
<text x="107.10" y="104.80" font-family='"Liberation Serif", serif' font-size="7.6" font-weight="normal" text-anchor="end">29</text>
<g clip-path="url(#c2)" fill="none" stroke="#111" stroke-width="0.72" stroke-linejoin="round">
<path d="M192.3 24.0 189.7 24.2 187.0 24.1 185.1 23.6 183.1 22.8 181.8 21.9 180.8 20.6 180.6 19.3 180.9 18.6 182.2 17.3 183.7 16.5 186.4 15.7 188.4 15.5 191.0 15.4 193.6 15.7 195.6 16.3 197.4 17.3 198.2 18.0 198.8 19.3 198.7 20.6 198.3 21.3 197.6 21.9 196.3 22.8 194.3 23.6 192.3 24.0zM125.7 72.1 126.3 67.0 126.3 61.8 125.9 55.3 126.5 50.0 126.8 37.6 127.2 34.3 127.8 32.4 128.5 31.1 129.7 29.9 131.0 29.6 132.3 29.9 133.0 30.5 133.9 31.7 134.8 34.3 135.6 39.9 136.3 41.0 138.3 39.8 139.6 39.4 144.2 39.8 146.5 39.6 150.7 38.3 152.8 37.2 154.1 36.8 157.4 36.4 160.7 35.4 164.0 34.9 165.3 34.9 167.9 35.7 169.9 36.0 173.4 35.7 175.2 34.8 177.2 32.8 180.5 29.9 181.8 29.2 183.1 28.8 184.4 28.7 186.4 28.7 190.8 30.4 195.0 30.7 196.9 31.5 198.3 32.6 199.9 35.0 201.9 38.3 203.3 41.5 204.0 44.2 204.9 51.3 206.7 58.5 207.1 67.0 207.8 72.3 208.0 75.5 207.8 79.5 206.4 94.5 204.5 105.0 203.3 107.6 201.5 109.8 200.2 110.6 198.9 110.8 197.6 110.8 195.6 110.1 192.3 108.3 191.7 108.0 191.0 108.0 189.7 108.7 185.9 112.8M152.0 112.8 146.8 112.0 140.9 112.2 138.3 111.9 135.0 111.1 131.7 109.9 129.0 108.4 127.4 106.9 125.7 104.7M193.0 23.3 191.0 23.6 189.0 23.6 187.0 23.4 185.1 22.8 183.7 22.2 182.5 21.3 182.1 20.6 181.9 19.3 182.2 18.6 183.1 17.7 184.4 17.0 186.4 16.3 190.3 15.9 193.0 16.2 194.3 16.5 195.6 17.0 197.0 18.0 197.5 18.6 197.8 20.0 197.1 21.3 196.3 21.9 194.3 22.9 193.0 23.3zM125.7 92.8 126.2 89.9 126.4 83.8 126.4 75.5 126.7 67.0 126.6 54.6 127.2 37.6 127.5 35.0 128.0 33.0 128.6 31.7 129.7 30.6 131.0 30.1 132.3 30.6 133.4 31.7 134.0 33.0 134.7 35.7 135.6 44.2 136.3 45.4 136.9 45.2 138.9 43.2 139.6 42.9 143.5 43.0 144.9 42.8 151.1 40.9 155.4 39.3 157.4 38.8 164.0 37.9 171.2 38.2 174.5 37.9 176.5 37.0 178.6 35.0 181.8 32.5 183.1 31.9 184.4 31.9 189.0 32.9 193.6 32.3 195.6 32.5 196.9 33.2 197.6 33.8 199.1 35.7 200.8 38.3 202.5 42.2 203.4 46.1 205.1 59.2 205.1 63.8 205.4 67.7 206.5 73.6 206.2 80.8 206.2 84.7 205.9 90.6 205.4 93.9 202.5 104.3 201.9 105.6 200.9 106.9 199.6 107.6 198.9 107.7 197.6 107.5 196.3 106.8 192.6 104.3 191.0 103.5 189.7 103.2 189.0 103.7 187.5 106.9 185.4 110.2 184.4 111.6 183.1 112.8M137.2 82.1 137.8 80.1 137.9 78.8 136.9 77.1 136.3 76.8 136.0 78.8 136.3 82.6 136.9 82.5 137.2 82.1zM159.3 112.8 157.4 111.9 155.0 110.2 153.4 109.6 152.1 109.6 144.2 111.0 141.6 111.2 138.3 110.9 134.3 110.0 131.0 108.7 129.0 107.5 127.3 105.6 125.7 102.8M167.0 112.8 163.3 112.5 160.8 112.8M175.0 112.8 173.2 112.6 168.6 112.8M193.6 22.6 192.3 23.0 190.3 23.1 188.4 23.1 186.4 22.7 185.1 22.2 183.6 21.3 182.8 20.0 182.8 19.3 183.1 18.6 184.4 17.6 187.0 16.6 190.3 16.3 193.6 16.8 195.0 17.3 196.1 18.0 196.7 18.6 196.9 19.3 196.9 20.0 196.7 20.6 196.2 21.3 195.0 22.1 193.6 22.6zM125.7 95.7 126.4 92.6 126.7 89.3 127.4 38.3 128.1 33.7 128.6 32.4 129.7 31.1 130.4 30.7 131.0 30.6 131.7 30.7 132.3 31.1 133.4 32.4 133.9 33.7 134.6 37.6 135.0 43.5 135.4 46.8 135.6 48.1 136.3 48.6 140.2 46.6 141.6 46.2 144.2 45.8 147.5 44.0 156.1 41.0 157.4 40.7 162.0 40.3 166.0 40.6 169.9 39.8 175.2 39.5 178.2 38.3 181.8 35.8 183.1 35.2 185.1 35.2 187.7 35.5 189.0 35.2 192.3 33.8 194.3 33.4 196.3 34.0 198.3 35.8 200.0 38.3 201.0 40.2 202.0 42.8 202.7 45.5 203.2 48.7 204.1 56.6 204.2 59.8 204.0 64.4 204.2 67.0 205.4 73.6 205.2 79.5 205.4 86.0 205.3 89.9 205.0 92.5 204.5 95.2 203.8 97.1 201.2 103.0 200.0 105.0 198.9 105.5 198.3 105.5 196.9 105.1 193.0 102.9 189.7 100.3 188.4 99.9 187.7 100.1 187.0 100.5 185.5 102.4 185.0 103.7 184.7 106.9 184.1 108.9 183.1 110.4 181.8 111.2 180.5 111.3 177.8 110.6 173.9 110.4 169.2 110.9 164.0 110.5 160.0 110.9 158.7 110.6 155.4 108.3 153.4 107.7 152.1 107.9 148.2 109.3 145.5 110.0 142.9 110.5 140.2 110.5 135.6 109.8 132.3 108.7 129.7 107.4 128.4 106.3 127.4 105.0 126.2 102.4 125.7 100.6M137.9 84.7 139.1 84.0 140.1 82.7 140.8 80.8 140.8 79.5 140.4 78.2 138.7 75.5 136.9 71.9 136.3 71.0 135.6 71.4 135.4 72.9 135.4 83.4 135.6 84.8 136.3 85.1 137.9 84.7zM191.7 22.6 188.4 22.7 185.7 22.0 184.5 21.3 183.9 20.6 183.6 20.0 183.6 19.3 184.0 18.6 185.1 17.8 186.4 17.2 188.4 16.8 190.3 16.7 192.3 16.9 193.6 17.2 195.2 18.0 195.9 18.6 196.2 19.3 196.2 20.0 195.9 20.6 195.3 21.3 194.3 21.9 191.7 22.6zM144.2 109.6 141.6 109.9 138.3 109.8 135.0 109.0 130.4 107.3 129.0 106.4 127.9 105.0 126.7 102.4 126.2 100.4 126.1 97.1 127.0 91.2 127.1 89.3 127.2 55.3 127.5 39.6 128.0 35.0 128.6 33.0 129.0 32.3 129.7 31.5 130.4 31.1 131.0 31.0 131.7 31.1 132.3 31.5 133.0 32.3 133.8 34.3 134.5 39.6 135.0 48.3 135.4 50.7 135.6 53.5 136.3 55.8 136.7 54.6 136.9 52.0 137.2 51.3 138.3 50.4 139.6 49.7 140.9 49.4 142.2 49.6 144.9 50.6 145.5 50.5 146.2 50.0 147.5 47.1 148.2 46.1 152.1 44.1 155.4 42.8 157.4 42.3 162.0 42.0 164.6 42.4 166.0 42.3 170.6 41.4 176.5 41.0 177.8 40.6 181.8 38.9 187.7 37.6 191.0 35.4 193.0 34.6 195.0 34.5 196.3 35.0 197.6 36.1 199.3 38.3 200.4 40.2 201.3 42.2 202.6 47.4 203.4 54.0 203.6 59.8 203.3 67.0 204.3 72.9 204.1 77.5 204.8 84.7 204.8 89.9 204.4 93.2 203.7 95.8 202.5 98.4 200.6 101.7 199.6 103.0 198.9 103.6 198.3 103.8 196.9 103.6 195.0 102.9 193.6 102.2 192.2 101.0 189.7 98.4 187.9 95.8 187.7 95.6 187.0 95.5 186.4 95.8 185.9 96.5 185.3 99.1 183.1 102.2 182.1 105.6 181.8 106.2 181.1 106.6 178.5 106.8 175.8 107.9 169.9 109.3 164.0 109.0 160.7 109.4 159.4 109.2 154.7 106.1 154.1 105.9 153.4 105.9 148.2 108.5 144.2 109.6zM136.6 86.0 139.1 85.4 141.9 84.0 143.1 82.7 143.5 81.5 143.6 80.8 143.5 80.0 143.0 78.8 139.6 74.5 138.4 72.3 137.4 69.7 136.9 68.8 136.3 68.2 135.6 68.3 135.0 71.5 134.9 82.7 135.0 84.5 135.3 85.4 135.6 85.9 136.6 86.0zM175.9 78.8 176.5 77.6 176.6 76.2 176.4 75.5 175.8 75.0 175.2 74.9 174.3 75.5 174.2 76.2 174.3 76.9 175.2 78.5 175.9 78.8zM193.0 22.0 190.3 22.4 188.4 22.3 187.0 22.0 185.7 21.5 184.6 20.6 184.3 20.0 184.4 19.3 184.8 18.6 185.6 18.0 187.7 17.2 190.3 17.0 193.0 17.4 194.3 18.0 195.1 18.6 195.5 19.3 195.5 20.0 195.2 20.6 194.5 21.3 193.0 22.0zM144.9 109.0 141.6 109.4 138.3 109.3 135.0 108.6 131.0 107.2 129.7 106.5 128.3 105.0 127.3 103.0 126.8 101.0 126.5 97.8 127.3 89.3 127.5 55.3 127.8 38.9 128.2 35.0 128.6 33.7 129.3 32.4 130.4 31.4 131.0 31.3 131.7 31.4 132.3 31.9 133.4 33.7 134.1 37.0 135.5 63.8 135.4 65.7 135.0 67.9 134.7 71.6 134.7 83.4 135.0 86.0 135.6 86.7 136.5 86.7 143.0 85.4 144.2 84.8 144.7 84.0 145.1 81.4 144.8 79.5 143.5 77.3 140.9 74.7 139.7 72.9 138.0 68.4 136.7 65.7 136.5 65.1 136.4 63.8 137.6 59.8 138.3 58.6 141.6 56.0 142.2 55.8 144.2 55.9 145.5 55.1 147.5 52.5 149.1 48.7 150.1 47.3 152.1 46.1 156.1 44.4 157.4 44.1 164.6 44.0 173.9 42.8 177.2 42.9 182.4 40.9 185.7 40.4 186.4 40.1 187.7 39.2 190.3 36.8 191.7 35.9 193.0 35.4 195.0 35.3 196.3 35.9 197.6 37.0 199.2 38.9 199.9 40.2 201.0 42.8 201.8 45.5 202.4 48.7 203.1 54.6 203.2 59.8 202.7 67.7 203.3 72.3 203.2 77.5 204.4 85.4 204.5 89.9 204.0 93.2 203.3 95.8 202.3 97.8 200.9 100.1 199.6 101.7 198.3 102.6 196.9 102.7 195.0 102.1 193.0 100.8 191.2 99.1 189.9 97.1 188.4 94.0 187.7 93.4 187.0 93.3 185.1 94.1 184.0 95.2 183.7 95.8 183.1 99.1 180.5 103.5 179.1 104.4 175.2 106.1 171.2 107.5 169.9 107.7 160.0 108.0 158.7 107.4 156.6 105.6 156.0 104.3 155.4 101.0 154.7 100.7 154.1 101.5 152.7 104.3 151.5 105.6 148.2 107.8 144.9 109.0zM179.0 84.0 179.8 80.3 179.5 74.9 179.2 74.2 178.6 73.6 177.6 72.9 175.8 72.4 174.5 72.6 173.9 73.0 172.6 74.2 171.4 76.2 171.3 77.5 171.9 80.2 172.5 81.4 173.3 82.1 175.8 83.0 177.8 84.3 178.5 84.4 179.0 84.0zM191.7 21.9 189.0 22.0 187.0 21.6 185.4 20.6 185.0 20.0 185.1 19.3 185.5 18.6 186.4 18.1 188.4 17.5 191.0 17.4 193.0 17.8 194.4 18.6 194.8 19.3 194.8 20.0 194.5 20.6 193.6 21.3 191.7 21.9zM142.2 109.0 139.6 109.0 136.9 108.7 130.4 106.6 129.0 105.5 127.9 103.7 127.3 101.7 126.9 99.7 126.8 97.1 127.5 88.6 127.9 38.9 128.1 36.3 128.6 34.3 129.6 32.4 130.4 31.8 131.0 31.6 131.7 31.8 132.3 32.3 133.4 34.3 134.0 37.6 134.8 61.2 134.5 72.9 134.5 83.4 134.6 85.4 134.9 86.7 135.6 87.2 140.9 86.4 144.9 86.4 146.0 86.0 146.4 85.4 146.5 84.0 146.1 80.8 145.5 78.5 144.2 76.4 141.0 73.6 140.2 72.3 139.4 70.3 138.2 65.7 138.1 64.4 138.3 63.8 139.5 61.8 140.1 60.5 140.9 59.5 142.2 58.7 144.9 58.2 146.2 57.2 147.5 55.4 150.1 50.1 151.4 48.4 152.8 47.5 157.4 45.8 162.0 45.4 164.6 45.5 167.9 45.1 170.6 45.1 173.9 44.5 177.2 44.6 183.1 43.1 185.7 42.9 186.4 42.6 187.0 41.9 188.1 40.2 189.7 38.3 191.7 36.7 193.0 36.1 194.3 35.9 195.6 36.3 196.9 37.1 198.1 38.3 199.0 39.6 200.6 42.8 201.9 47.4 202.7 54.0 202.8 59.8 202.2 67.0 202.5 72.3 202.3 76.9 204.0 85.4 204.1 89.9 203.8 92.5 203.1 95.2 201.8 97.8 200.5 99.7 198.9 101.3 197.6 101.9 196.9 101.9 195.6 101.6 194.3 101.1 193.0 100.1 191.9 99.1 190.6 97.1 188.4 92.1 187.7 91.3 187.0 90.9 185.7 90.9 185.1 90.7 184.7 89.9 184.7 88.6 185.1 88.2 186.4 87.8 187.0 87.0 187.3 86.0 187.3 84.7 186.3 81.4 185.7 80.9 183.7 80.8 183.1 80.5 182.4 79.7 181.9 78.2 182.0 76.2 181.8 74.9 181.2 73.6 180.5 72.7 179.1 71.8 177.2 71.1 175.8 70.8 174.5 70.8 173.2 71.7 170.1 74.9 169.3 76.9 169.4 78.2 170.3 81.4 171.2 82.7 172.2 83.4 174.8 84.7 177.2 86.9 180.5 89.1 181.7 90.6 182.5 91.9 182.6 92.5 181.7 97.8 180.4 101.0 179.8 102.2 178.5 103.2 175.2 104.6 171.2 106.0 167.9 106.3 165.3 106.7 160.0 106.7 158.3 105.6 157.4 104.3 156.7 100.3 155.6 96.5 155.1 92.5 154.8 91.2 154.1 90.5 152.8 90.3 152.4 90.6 152.3 91.2 153.2 94.5 153.7 97.8 153.3 100.4 152.0 103.7 150.4 105.6 148.2 107.2 144.9 108.5 142.2 109.0zM192.3 21.4 190.3 21.7 187.7 21.4 186.1 20.6 185.7 20.0 185.8 19.3 186.4 18.6 188.4 17.8 190.3 17.6 192.3 18.0 193.7 18.6 194.2 19.3 194.2 20.0 193.6 20.7 192.3 21.4zM144.2 108.2 141.6 108.6 138.3 108.5 135.6 108.0 131.0 106.5 129.7 105.8 128.5 104.3 127.9 103.0 127.3 100.4 127.1 96.5 127.7 89.3 127.8 55.3 128.0 38.9 128.4 35.7 129.0 33.7 129.7 32.6 130.4 32.1 131.0 31.9 131.7 32.1 132.3 32.6 133.0 33.7 133.5 35.7 134.0 38.9 134.6 60.5 134.3 71.6 134.3 82.7 134.3 85.1 134.6 86.7 135.0 87.5 135.6 87.7 139.6 87.1 141.6 87.0 145.5 87.5 148.2 88.4 149.5 89.5 150.8 91.2 151.8 93.2 152.6 95.8 152.8 97.8 152.7 99.7 152.3 101.0 151.2 103.7 150.1 105.0 148.2 106.6 146.2 107.6 144.2 108.2zM161.3 105.7 160.0 105.4 159.4 105.0 158.3 103.7 157.9 102.4 157.4 99.1 156.8 96.5 156.4 93.2 156.4 91.2 156.6 89.9 158.7 88.2 159.4 87.3 160.3 84.7 160.4 84.0 160.1 83.4 159.4 83.0 158.7 83.0 157.4 83.5 156.0 84.7 154.5 87.3 153.4 87.8 151.4 87.6 149.5 86.9 148.8 86.5 148.1 85.4 146.3 78.2 145.7 76.9 144.6 75.5 141.6 73.1 140.6 71.6 140.0 69.7 139.6 67.0 139.5 65.7 139.8 64.4 142.6 61.2 145.5 59.5 146.8 58.3 148.2 56.5 149.4 53.3 150.1 52.0 152.1 49.8 154.1 48.5 157.4 47.2 160.0 46.9 162.7 47.0 166.0 47.9 168.6 47.8 169.2 47.7 172.5 46.1 173.9 45.8 177.8 45.7 182.4 44.6 185.7 44.6 186.4 44.3 187.0 43.7 189.4 39.6 191.0 37.9 192.3 37.0 193.6 36.6 195.0 36.7 195.6 36.9 196.9 37.8 198.1 38.9 199.0 40.2 200.0 42.2 201.3 46.1 202.3 52.0 202.6 59.2 201.9 67.0 201.9 72.3 201.6 76.9 203.6 85.4 203.9 88.6 203.8 90.6 203.4 93.2 202.5 95.8 201.4 97.8 200.2 99.4 198.9 100.6 198.3 101.0 196.9 101.3 195.6 101.1 194.3 100.5 193.0 99.5 192.0 98.4 190.8 96.5 189.4 93.2 188.5 89.9 188.5 88.0 189.5 82.7 189.2 81.4 187.6 78.8 187.7 78.2 188.4 77.2 188.6 76.2 188.4 74.9 188.0 74.2 187.0 73.4 186.4 73.5 185.1 74.1 184.4 74.1 183.7 73.9 181.5 71.6 180.5 71.0 175.8 69.6 173.9 69.7 172.7 70.3 171.1 72.3 169.2 73.9 168.3 75.5 167.8 76.9 167.6 78.2 168.3 81.4 168.9 82.7 169.5 83.4 173.9 85.7 175.8 87.8 177.6 89.3 180.0 91.9 180.5 93.2 180.7 95.2 180.7 96.5 180.4 97.8 179.3 100.4 178.5 101.6 174.5 103.7 171.2 104.7 168.6 104.6 165.3 105.4 161.3 105.7zM191.0 21.3 189.0 21.3 187.7 21.0 187.0 20.6 186.5 20.0 186.6 19.3 187.7 18.4 189.7 18.0 191.7 18.2 192.8 18.6 193.4 19.3 193.4 20.0 192.9 20.6 191.0 21.3zM140.9 108.3 136.9 107.9 130.4 105.9 129.3 105.0 128.5 103.7 128.0 102.4 127.4 99.7 127.3 96.5 127.7 92.6 127.9 88.6 127.9 55.9 128.2 39.6 128.5 36.3 128.9 34.3 129.7 33.0 130.4 32.4 131.0 32.2 131.7 32.4 132.3 33.0 133.0 34.3 133.5 36.3 133.8 39.6 134.3 57.2 134.1 82.7 134.3 86.7 135.0 88.0 135.6 88.2 138.9 87.6 141.6 87.6 144.9 88.2 146.8 88.9 148.8 90.2 150.3 91.9 151.3 93.9 152.1 96.5 152.2 98.4 151.7 101.0 150.5 103.7 149.4 105.0 147.5 106.4 145.5 107.4 143.5 108.0 140.9 108.3zM165.3 103.7 163.3 103.8 161.3 104.2 160.0 103.8 159.4 103.1 158.7 101.5 157.5 93.9 157.4 92.5 157.7 91.2 161.3 86.3 163.7 84.0 163.9 83.4 163.6 82.7 162.7 82.1 161.3 81.4 159.4 80.8 158.0 80.8 157.4 81.1 154.1 84.4 152.8 85.4 151.4 85.6 150.1 85.2 149.5 84.6 148.2 82.1 147.5 80.1 146.8 76.9 146.5 76.2 145.2 74.9 142.2 72.7 141.4 71.6 140.9 70.3 140.6 69.0 140.6 67.0 140.9 65.7 141.6 64.9 143.5 63.3 147.6 59.2 148.9 57.2 150.0 54.0 150.8 52.5 152.1 51.3 154.7 49.5 156.7 48.8 159.4 48.3 161.3 48.3 162.7 48.8 164.9 50.7 165.8 52.0 166.0 52.7 165.7 55.3 165.8 56.6 166.0 57.9 166.6 59.1 167.3 59.4 167.9 59.5 171.2 58.5 171.9 58.2 172.8 57.2 173.2 56.2 173.4 55.3 173.1 54.0 171.3 51.3 171.0 50.7 171.1 49.4 172.1 48.1 173.2 47.4 174.5 46.9 178.5 46.8 181.8 45.9 183.1 45.8 185.1 46.3 185.7 46.3 186.4 45.9 187.0 45.1 189.3 40.9 191.0 38.6 192.3 37.7 193.6 37.3 195.0 37.4 195.6 37.6 196.9 38.4 198.0 39.6 199.9 42.8 201.1 46.8 202.0 52.0 202.3 59.8 200.7 76.9 200.9 78.2 203.1 84.7 203.6 88.6 203.2 92.5 202.1 95.8 201.0 97.8 199.9 99.1 198.9 100.0 197.6 100.6 196.9 100.7 195.6 100.5 194.3 99.9 193.2 99.1 192.0 97.8 190.6 95.2 189.9 93.2 189.3 90.6 189.2 88.6 189.3 87.3 190.8 82.1 191.1 78.8 189.7 74.6 188.4 72.2 187.0 70.6 186.4 70.2 185.7 70.2 183.7 70.9 180.5 69.7 178.5 69.4 175.8 68.5 174.5 68.4 172.5 68.7 171.8 69.0 171.0 69.7 168.0 73.6 166.0 76.9 165.9 78.2 166.2 80.1 166.2 83.4 166.5 84.0 167.3 85.0 168.0 85.4 169.9 85.7 171.9 86.3 173.2 87.2 176.5 89.9 178.2 91.9 178.9 93.2 179.5 95.2 179.5 97.1 178.7 99.1 177.8 100.3 173.9 102.8 172.5 103.2 171.2 103.3 168.6 102.8 167.9 102.9 165.3 103.7zM191.7 20.7 190.3 21.0 188.4 20.7 187.3 20.0 187.4 19.3 188.4 18.7 189.0 18.5 190.3 18.4 191.7 18.6 192.6 19.3 192.6 20.0 191.7 20.7zM143.5 107.6 140.9 107.9 138.3 107.8 136.3 107.4 131.0 105.9 129.7 105.1 129.1 104.3 128.4 103.0 127.9 101.0 127.5 97.1 128.0 88.6 128.3 40.2 128.5 37.0 128.9 35.0 129.7 33.3 130.4 32.7 131.0 32.5 131.7 32.7 132.0 33.0 132.8 34.3 133.4 36.3 133.7 40.2 134.2 60.5 134.0 83.4 134.3 87.5 135.0 88.5 135.6 88.6 138.9 88.0 141.6 88.0 144.2 88.5 146.8 89.6 148.8 91.0 150.1 92.5 151.1 94.5 151.6 96.5 151.7 98.4 151.4 100.4 150.6 102.4 149.9 103.7 148.7 105.0 147.5 106.0 145.5 107.0 143.5 107.6zM198.3 99.8 197.6 100.1 196.3 100.2 194.3 99.5 192.3 97.6 190.7 94.5 189.9 91.2 189.7 88.0 190.5 84.7 192.2 80.1 192.4 78.8 192.0 77.5 189.7 73.0 187.7 69.8 186.4 68.3 185.7 68.2 183.7 69.1 183.1 69.2 178.5 68.5 175.8 67.4 171.2 67.3 170.6 67.5 169.9 68.2 166.6 73.6 165.2 75.5 164.7 76.9 164.6 79.5 164.4 80.1 164.0 80.5 162.7 80.5 157.4 78.9 156.7 79.1 156.3 79.5 154.7 81.9 153.4 83.1 152.1 83.7 151.4 83.8 150.8 83.7 150.1 83.4 148.8 81.6 148.2 80.1 147.8 76.9 147.5 76.1 146.4 74.9 142.9 72.3 142.3 71.6 141.6 70.1 141.3 68.4 141.6 67.0 142.2 66.2 144.9 64.1 148.5 59.8 149.6 57.9 150.7 54.0 151.4 52.8 154.1 51.0 155.4 50.3 160.0 49.7 161.7 50.0 162.7 50.7 163.9 52.0 164.4 53.3 164.5 56.6 164.0 59.2 164.1 59.8 164.5 60.5 165.4 61.2 166.6 61.6 169.9 62.6 170.6 62.5 171.2 62.0 173.0 59.8 175.2 57.9 175.5 57.2 175.6 55.9 174.9 53.3 174.5 52.5 173.1 50.7 173.0 50.0 173.2 49.4 173.8 48.7 174.5 48.4 175.8 48.1 179.8 48.1 182.4 47.2 183.1 47.2 185.1 47.9 185.7 47.8 186.4 47.4 187.0 46.5 189.8 40.9 190.8 39.6 191.7 38.7 193.0 38.0 194.3 37.8 195.6 38.2 196.9 39.0 198.5 40.9 200.0 44.2 201.1 48.1 201.8 52.0 202.1 57.2 201.9 61.2 200.7 72.3 199.7 76.9 200.0 78.2 201.5 81.2 202.6 84.0 203.2 86.7 203.3 88.6 203.1 91.9 202.1 95.2 201.4 96.5 200.2 98.2 198.3 99.8zM162.0 102.4 161.3 102.6 160.7 102.5 160.0 101.9 159.6 101.0 158.7 97.1 158.4 93.2 158.6 91.9 159.0 91.2 161.3 88.0 162.7 86.7 164.0 86.1 164.6 86.1 166.6 86.9 169.2 86.9 170.6 87.2 172.5 88.2 175.8 90.4 176.6 91.2 178.0 93.9 178.4 95.2 178.6 96.5 178.0 98.4 176.9 99.7 173.7 101.7 172.5 102.2 171.2 102.3 167.9 101.5 165.3 102.0 163.3 102.0 162.0 102.4zM191.0 20.1 190.3 20.3 189.0 20.1 188.7 20.0 188.8 19.3 189.7 19.1 191.0 19.2 191.2 19.3 191.3 20.0 191.0 20.1zM144.2 107.0 141.6 107.5 138.3 107.4 131.0 105.6 129.7 104.7 129.0 103.7 128.4 102.4 127.9 100.4 127.7 97.1 128.2 88.6 128.2 56.6 128.5 39.6 128.8 36.3 129.3 34.3 130.4 33.0 131.0 32.8 131.7 33.1 132.6 34.3 133.2 36.3 133.5 38.9 134.0 60.5 133.8 84.0 134.0 86.7 134.3 88.3 135.0 89.0 135.6 89.0 138.9 88.5 141.6 88.5 144.2 89.1 146.2 89.9 148.2 91.1 149.4 92.5 150.5 94.5 151.1 96.5 151.2 98.4 151.0 99.7 150.4 101.7 149.7 103.0 148.7 104.3 147.5 105.4 146.2 106.2 144.2 107.0zM198.3 99.3 197.6 99.6 196.3 99.7 194.3 98.9 193.0 97.8 192.3 96.9 190.9 93.9 190.2 90.6 190.2 88.0 190.6 86.0 191.3 84.0 193.5 79.5 193.6 78.2 188.0 69.0 186.4 65.7 185.7 65.3 185.1 65.8 184.1 67.0 183.1 67.7 181.8 67.9 179.8 67.8 178.5 67.5 176.5 65.9 175.8 65.6 173.9 65.6 173.2 65.4 172.9 65.1 172.7 64.4 173.4 62.5 174.2 61.2 174.9 60.5 176.5 59.8 178.5 58.3 179.8 57.9 181.8 58.0 184.4 57.7 185.1 57.6 185.4 57.2 185.7 56.7 185.9 55.9 185.8 52.7 186.1 50.7 188.2 45.5 190.0 41.5 190.9 40.2 192.3 39.0 193.6 38.5 195.0 38.6 196.3 39.2 197.6 40.4 198.8 42.2 199.7 44.2 200.5 46.8 201.2 50.0 201.6 53.3 201.7 59.8 200.4 70.3 199.9 72.9 198.4 76.2 198.2 77.5 198.5 78.2 200.9 81.1 202.0 83.4 202.9 86.7 203.0 89.9 202.6 92.5 201.8 95.2 200.2 97.6 198.3 99.3zM151.4 82.1 150.8 82.0 150.1 81.5 149.1 80.1 148.8 78.8 148.8 76.9 148.5 75.5 147.9 74.9 145.1 72.9 143.1 71.0 142.5 69.7 142.4 68.4 143.2 67.0 146.2 64.7 148.3 62.5 149.3 61.2 150.5 58.5 151.2 54.6 152.1 53.3 154.7 51.7 156.1 51.2 160.2 51.3 161.3 51.9 162.2 52.7 163.0 54.0 163.2 55.3 163.1 56.6 162.8 57.2 161.2 59.2 161.0 59.8 161.5 60.5 164.6 63.0 167.3 63.7 167.9 64.2 168.5 65.1 168.5 65.7 167.9 67.4 166.6 69.7 165.5 72.3 163.7 74.9 162.5 77.5 162.0 78.0 161.3 78.1 160.0 78.0 157.4 77.2 156.1 77.3 155.0 78.2 153.7 80.8 153.1 81.4 152.1 82.0 151.4 82.1zM182.4 52.2 181.5 52.0 182.4 51.9 182.6 52.0 182.4 52.2zM164.8 68.4 165.0 67.7 164.6 66.9 164.0 66.5 163.3 66.6 163.1 67.0 163.3 67.9 164.0 68.4 164.8 68.4zM171.2 101.1 167.3 100.0 164.0 100.1 161.3 100.4 160.7 99.9 160.1 98.4 159.8 97.1 159.5 94.5 159.6 93.2 160.5 91.2 162.0 89.3 162.7 88.8 164.0 88.3 166.6 88.9 168.6 88.4 169.9 88.5 171.9 89.1 173.9 90.1 175.2 91.0 176.0 91.9 176.6 93.2 177.4 95.8 177.4 97.1 177.1 97.8 176.5 98.6 175.8 99.0 172.5 100.8 171.2 101.1zM142.9 107.0 140.9 107.2 138.3 107.1 136.3 106.7 133.0 105.6 131.0 105.3 130.4 104.9 129.2 103.7 128.6 102.4 128.1 100.4 127.9 97.1 128.3 88.0 128.6 39.6 128.8 37.0 129.3 35.0 130.0 33.7 130.4 33.4 131.0 33.2 131.9 33.7 132.7 35.0 133.2 37.0 133.4 39.6 133.8 60.5 133.7 84.0 133.8 86.7 134.2 88.6 135.0 89.4 138.9 88.8 140.9 88.8 142.9 89.1 145.5 90.0 147.5 91.2 148.9 92.5 150.0 94.5 150.6 96.5 150.7 98.4 150.4 100.4 149.9 101.7 148.8 103.5 147.5 104.9 146.2 105.8 144.2 106.6 142.9 107.0zM195.6 77.1 194.3 76.6 193.0 75.5 190.5 72.3 188.0 67.7 186.4 63.0 185.7 61.8 185.1 61.2 184.4 61.7 183.5 63.1 183.2 63.8 182.8 65.7 182.4 66.3 181.1 66.9 179.8 66.8 178.9 66.4 176.5 63.8 176.0 63.1 176.0 62.5 176.3 61.8 177.1 61.2 179.1 59.7 179.8 59.5 181.1 59.5 185.1 60.2 185.7 59.2 186.4 57.3 186.7 52.7 187.1 50.0 188.2 46.8 189.2 44.2 190.5 41.5 191.6 40.2 193.0 39.3 194.3 39.1 195.6 39.4 196.9 40.4 198.3 42.0 199.3 44.2 200.0 46.1 200.8 49.4 201.3 52.7 201.5 55.9 201.3 61.8 199.7 71.6 198.9 73.6 198.3 74.7 196.9 76.2 195.6 77.1zM151.4 79.7 150.8 79.9 150.1 79.3 150.0 78.2 150.1 76.9 149.7 75.5 148.5 74.2 146.3 72.9 144.9 71.6 143.7 69.7 143.6 69.0 143.7 68.4 144.1 67.7 144.9 67.1 146.9 65.7 148.8 64.0 151.2 61.2 151.7 59.8 151.7 56.6 151.9 55.3 152.1 54.6 152.7 54.0 154.7 52.8 156.1 52.3 157.4 52.2 159.4 52.5 160.6 53.3 161.1 54.0 161.5 55.3 161.3 56.1 160.4 57.2 157.4 59.6 155.1 60.5 154.1 61.2 154.0 61.8 154.5 62.5 156.7 64.0 157.4 64.4 159.4 65.0 160.0 65.7 161.1 70.3 160.8 72.3 161.2 73.6 161.0 74.9 160.6 75.5 160.0 76.0 159.4 76.1 157.4 75.9 156.1 75.9 153.4 76.9 152.4 77.5 151.4 79.7zM196.9 99.2 195.6 99.1 194.3 98.4 193.5 97.8 192.5 96.5 191.2 93.9 190.7 91.9 190.5 89.9 190.7 87.3 191.2 85.4 192.0 83.4 193.0 81.7 195.0 79.1 195.6 78.6 196.3 78.5 197.6 79.1 198.9 79.9 200.2 81.1 200.9 82.1 202.3 85.4 202.6 86.7 202.8 88.6 202.3 92.5 201.7 94.5 201.1 95.8 200.2 97.1 198.9 98.4 198.3 98.8 196.9 99.2zM171.9 99.2 171.2 99.5 170.6 99.5 167.9 98.4 166.6 98.2 163.3 98.6 162.0 98.4 161.3 97.8 160.8 95.8 160.7 93.9 161.3 92.5 162.7 91.0 164.0 90.6 167.3 90.8 169.9 90.2 171.2 90.1 172.5 90.4 174.3 91.2 175.0 91.9 175.7 93.2 176.0 95.2 175.9 96.5 175.2 97.1 173.9 97.2 173.2 97.7 171.9 99.2zM143.5 106.5 140.9 106.9 138.3 106.7 136.3 106.3 133.6 105.5 131.0 105.0 130.0 104.3 129.1 103.0 128.6 101.7 128.2 99.7 128.0 97.1 128.4 88.6 128.7 40.2 128.9 37.6 129.5 35.0 130.4 33.7 131.0 33.4 131.7 33.7 132.5 35.0 133.1 37.6 133.3 40.2 133.7 60.5 133.6 84.7 133.6 86.8 134.0 88.6 134.3 89.4 135.0 89.9 138.3 89.2 140.2 89.1 142.9 89.5 145.5 90.5 147.5 91.7 148.8 93.2 149.6 94.5 150.2 96.5 150.3 98.4 150.1 99.7 149.7 101.0 148.7 103.0 146.7 105.0 145.5 105.7 143.5 106.5zM195.6 75.6 194.3 75.5 193.0 74.6 191.7 73.1 190.2 71.0 188.8 68.4 188.0 66.4 186.6 60.5 187.4 51.3 188.8 46.1 190.3 42.8 191.6 40.9 193.0 39.9 194.3 39.6 195.6 40.0 196.9 41.0 198.3 42.7 199.3 44.8 200.1 47.4 200.7 50.0 201.1 52.7 201.3 56.6 201.1 61.8 199.4 71.0 198.7 72.9 197.7 74.2 196.9 75.0 195.6 75.6zM155.4 58.6 154.1 58.8 153.4 58.5 152.7 57.2 152.7 55.9 152.9 55.3 153.5 54.6 156.1 53.5 157.4 53.3 158.7 53.7 159.5 54.6 159.7 55.3 159.4 56.2 158.0 57.4 155.4 58.6zM152.8 75.6 151.4 75.6 150.8 75.3 148.8 73.6 146.6 72.3 145.5 71.0 145.1 69.7 145.1 69.0 145.3 68.4 146.0 67.7 149.9 65.1 151.4 63.6 152.1 63.4 152.8 63.4 154.1 64.0 158.0 67.0 158.5 67.7 158.7 69.0 158.4 72.3 158.0 73.7 157.6 74.2 156.7 74.6 152.8 75.6zM197.6 98.6 196.9 98.8 195.6 98.6 194.3 98.0 193.4 97.1 192.4 95.8 191.5 93.9 190.8 90.6 190.9 88.0 191.3 86.0 192.1 84.0 193.0 82.5 194.3 81.0 195.0 80.4 196.3 79.8 196.9 79.8 198.3 80.3 199.6 81.2 200.2 81.9 201.8 84.7 202.3 86.7 202.5 88.0 202.3 91.2 201.4 94.5 200.7 95.8 199.6 97.3 198.9 97.9 197.6 98.6zM171.2 96.7 170.6 97.0 169.9 97.0 166.0 96.4 163.3 96.7 162.7 96.3 162.4 95.8 162.2 95.2 162.3 93.9 163.3 92.6 164.6 92.1 168.6 92.5 169.2 92.4 171.2 91.5 171.9 91.4 173.2 91.7 174.3 92.5 174.6 93.2 174.5 94.0 174.2 94.5 172.5 95.5 171.2 96.7zM142.9 106.3 140.9 106.6 138.3 106.4 136.3 106.0 133.6 105.1 131.0 104.8 130.3 104.3 129.3 103.0 128.5 100.4 128.2 97.1 128.5 88.6 128.5 65.1 128.8 40.2 129.0 37.6 129.4 35.7 129.7 34.9 130.4 34.0 131.0 33.7 131.7 34.0 132.6 35.7 133.0 37.6 133.2 40.2 133.6 60.5 133.5 84.7 133.6 87.3 133.8 88.6 134.3 89.8 135.0 90.2 138.3 89.6 140.2 89.5 142.9 89.9 145.5 90.9 147.1 91.9 148.4 93.2 149.2 94.5 149.8 96.5 150.0 98.4 149.8 99.7 149.0 101.7 148.2 103.0 147.5 103.9 146.1 105.0 144.2 105.9 142.9 106.3zM196.3 74.6 195.0 74.8 193.6 74.3 192.3 73.2 190.6 71.0 189.5 69.0 188.6 67.0 187.4 62.5 187.1 60.5 187.6 52.7 188.0 50.0 189.2 46.1 190.7 42.8 191.7 41.4 193.0 40.4 194.3 40.1 195.6 40.5 196.9 41.5 197.9 42.8 198.9 44.7 199.7 46.8 200.3 49.4 200.8 52.0 201.1 55.3 201.1 58.5 201.0 61.2 199.4 69.7 198.9 71.3 198.3 72.7 197.5 73.6 196.3 74.6zM154.7 74.3 153.4 74.7 152.1 74.8 150.8 74.3 146.8 71.4 146.4 70.3 146.4 69.7 146.7 69.0 147.5 68.3 149.5 67.2 152.8 65.7 154.1 65.7 155.4 66.3 157.1 67.7 157.5 69.0 157.5 70.3 157.2 72.3 156.9 72.9 156.3 73.6 154.7 74.3zM198.3 97.9 196.9 98.4 195.6 98.3 194.3 97.6 193.6 97.0 192.7 95.8 192.0 94.5 191.4 92.5 191.1 91.2 191.1 88.0 192.1 84.7 193.0 83.2 194.3 81.6 195.0 81.1 196.3 80.6 196.9 80.5 198.3 80.9 199.9 82.1 200.8 83.4 201.5 84.7 202.2 87.3 202.2 90.6 201.4 93.9 200.2 96.1 199.3 97.1 198.3 97.9zM140.2 106.3 137.6 106.0 133.6 104.8 131.0 104.5 130.4 104.2 129.4 103.0 128.9 101.7 128.5 99.7 128.3 96.5 128.6 88.6 128.6 65.1 128.9 40.9 129.1 37.6 129.5 35.7 130.4 34.3 131.0 34.0 131.7 34.3 132.4 35.7 132.9 37.6 133.1 40.9 133.5 60.5 133.4 84.7 133.6 88.7 134.3 90.3 135.0 90.6 138.3 89.9 140.2 89.8 142.9 90.2 145.5 91.2 147.3 92.5 148.4 93.9 149.1 95.2 149.6 97.1 149.6 98.4 149.2 100.4 148.3 102.4 147.2 103.7 146.2 104.6 144.2 105.6 142.2 106.1 140.2 106.3zM196.3 73.9 195.0 74.2 193.6 73.7 192.3 72.6 190.6 70.3 189.5 68.4 188.5 65.7 187.9 63.1 187.4 59.8 188.0 52.0 188.7 48.7 189.5 46.1 190.7 43.5 191.7 42.0 193.0 40.9 194.3 40.6 195.6 41.0 196.9 42.1 198.0 43.5 198.6 44.8 199.4 46.8 200.1 49.4 200.8 54.6 200.9 57.9 200.8 61.2 199.3 69.0 198.3 71.8 197.5 72.9 196.3 73.9zM154.1 73.7 152.8 74.0 151.4 73.8 148.6 71.6 148.0 71.0 147.9 70.3 148.4 69.7 149.4 69.0 153.4 67.2 154.7 67.1 155.4 67.4 156.1 67.9 156.5 69.0 156.4 71.0 156.0 72.3 155.5 72.9 154.1 73.7zM197.6 97.9 196.9 98.0 195.6 97.9 194.3 97.2 193.6 96.6 192.6 95.2 192.0 93.9 191.3 90.6 191.4 88.0 192.5 84.7 193.2 83.4 194.3 82.2 195.0 81.6 196.3 81.1 196.9 81.1 198.3 81.4 198.9 81.8 200.0 82.7 201.5 85.4 202.1 88.0 201.9 91.2 201.2 93.9 200.5 95.2 199.6 96.5 198.3 97.6 197.6 97.9zM142.9 105.7 140.9 106.0 138.3 105.9 136.3 105.4 133.6 104.5 131.0 104.3 130.4 103.9 129.6 103.0 128.7 100.4 128.4 96.5 128.7 88.6 128.7 65.1 129.0 40.9 129.5 36.3 130.4 34.5 131.0 34.3 131.7 34.6 132.5 36.3 132.8 38.3 133.0 40.9 133.4 60.5 133.3 84.7 133.6 89.3 134.3 90.6 135.0 90.9 137.6 90.2 139.6 90.0 142.2 90.3 144.2 90.9 146.2 92.0 147.5 93.2 148.5 94.5 149.2 96.5 149.3 98.4 149.1 99.7 148.6 101.0 147.9 102.4 146.0 104.3 144.2 105.3 142.9 105.7zM195.0 73.6 193.6 73.2 192.3 72.1 191.0 70.4 189.9 68.4 188.5 64.4 187.9 61.8 187.7 59.2 188.2 52.0 188.8 49.4 189.8 46.1 191.0 43.6 192.0 42.2 193.0 41.4 194.3 41.1 195.6 41.5 196.9 42.6 198.0 44.2 198.9 46.1 199.7 48.7 200.3 51.3 200.8 57.2 200.7 59.8 200.4 62.5 198.8 69.7 197.9 71.6 196.9 72.8 196.3 73.3 195.0 73.6zM153.4 73.0 152.1 73.1 151.4 72.8 150.5 71.6 150.4 71.0 150.8 70.3 152.6 69.0 154.1 68.3 154.7 68.3 155.4 69.0 155.5 69.7 155.3 71.0 154.6 72.3 153.4 73.0zM198.3 97.2 197.6 97.5 196.3 97.7 195.0 97.3 194.3 96.8 193.4 95.8 192.6 94.5 192.0 93.2 191.6 91.2 191.5 89.3 191.6 88.0 191.9 86.7 192.7 84.7 194.3 82.6 195.6 81.8 196.3 81.6 197.6 81.6 198.3 81.8 199.6 82.8 200.9 84.7 201.8 87.3 201.9 89.9 201.2 93.2 200.6 94.5 199.8 95.8 198.3 97.2zM141.6 105.7 138.3 105.6 136.3 105.2 133.6 104.2 131.0 104.1 130.4 103.7 129.7 102.8 129.2 101.7 128.7 99.7 128.5 96.5 128.8 88.6 128.8 65.1 129.1 40.9 129.2 38.3 129.6 36.3 130.4 34.8 131.0 34.5 131.7 34.9 132.3 36.3 132.9 40.2 133.3 60.5 133.2 84.7 133.3 87.3 133.6 89.8 134.3 91.0 135.0 91.2 138.3 90.4 140.2 90.3 142.9 90.8 144.9 91.6 146.4 92.5 147.7 93.9 148.4 95.2 149.0 97.1 149.0 98.4 148.6 100.4 148.0 101.7 147.0 103.0 146.2 103.8 144.9 104.7 143.5 105.2 141.6 105.7zM195.6 73.0 194.3 73.0 193.0 72.2 191.7 70.8 190.5 69.0 189.6 67.0 188.9 65.1 188.2 61.8 188.0 59.8 188.1 55.9 188.4 52.7 188.8 50.7 189.9 46.8 191.0 44.2 191.9 42.8 193.0 41.9 194.3 41.6 195.6 42.0 196.7 42.8 197.6 44.1 198.6 46.1 199.3 48.1 200.0 50.7 200.6 56.6 200.6 59.2 200.3 61.8 198.7 69.0 197.6 71.5 196.9 72.3 195.6 73.0zM197.6 97.2 196.9 97.3 195.6 97.2 194.3 96.5 193.7 95.8 192.8 94.5 192.2 93.2 191.7 90.6 191.8 88.6 192.0 87.3 193.0 84.7 194.0 83.4 195.0 82.5 195.6 82.2 196.9 81.9 198.3 82.2 198.9 82.6 200.2 84.1 201.2 86.0 201.7 88.6 201.5 91.2 200.7 93.9 199.5 95.8 198.3 96.9 197.6 97.2zM142.9 105.2 140.9 105.5 138.9 105.4 136.9 105.1 133.6 103.9 131.7 104.0 131.0 103.9 130.4 103.4 129.7 102.6 128.8 99.7 128.6 96.5 128.9 89.9 129.0 80.1 128.9 65.7 129.2 40.9 129.3 38.3 129.7 36.5 130.4 35.1 131.0 34.8 131.7 35.2 132.3 36.7 132.8 40.9 133.2 60.5 133.1 85.4 133.2 88.0 133.6 90.3 134.3 91.4 135.0 91.6 137.6 90.8 139.6 90.6 142.2 90.9 144.2 91.5 145.9 92.5 147.3 93.9 148.1 95.2 148.7 97.1 148.7 98.4 148.5 99.7 148.0 101.0 147.2 102.4 145.5 104.0 144.2 104.7 142.9 105.2zM195.6 72.5 194.3 72.5 193.0 71.7 191.7 70.3 190.8 69.0 189.6 66.4 188.9 64.4 188.4 61.8 188.2 59.2 188.6 52.7 189.2 50.0 190.2 46.8 191.0 44.8 192.3 42.9 193.0 42.4 194.3 42.0 195.1 42.2 196.3 42.9 197.3 44.2 198.3 46.1 199.1 48.1 199.7 50.7 200.4 56.6 200.4 59.2 200.1 61.8 198.7 68.4 197.5 71.0 196.9 71.7 195.6 72.5zM198.3 96.5 197.6 96.9 196.3 97.0 195.0 96.6 194.3 96.1 193.5 95.2 192.7 93.9 192.0 91.2 191.9 89.3 192.1 88.0 193.0 85.4 194.3 83.4 195.0 82.9 196.3 82.3 197.6 82.4 198.3 82.6 199.3 83.4 200.7 85.4 201.4 87.3 201.5 89.9 200.9 92.9 199.7 95.2 198.3 96.5zM142.2 105.1 138.9 105.2 136.9 104.8 133.6 103.6 131.7 103.8 131.0 103.7 130.4 103.2 129.7 102.3 129.0 99.7 128.7 96.5 129.0 88.0 129.0 65.7 129.2 41.5 129.7 36.9 130.4 35.4 131.0 35.1 131.7 35.5 132.3 37.0 132.7 40.9 133.1 60.5 133.0 85.4 133.1 88.0 133.6 90.6 134.3 91.7 135.0 91.9 137.6 91.0 139.6 90.8 142.2 91.1 144.2 91.8 145.5 92.6 146.9 93.9 147.8 95.2 148.4 97.1 148.4 98.4 148.2 99.7 147.7 101.0 146.8 102.4 144.9 104.1 142.2 105.1zM196.3 71.7 195.0 72.2 193.6 71.8 192.3 70.7 191.5 69.7 190.3 67.6 189.4 65.1 188.7 62.5 188.4 59.8 188.4 57.2 188.8 53.3 189.3 50.7 190.2 47.4 191.0 45.5 192.3 43.4 193.0 42.8 194.3 42.5 195.5 42.8 196.3 43.5 197.3 44.8 198.3 46.6 199.5 50.7 200.1 55.3 200.1 60.5 199.3 65.1 197.9 69.7 197.1 71.0 196.3 71.7zM197.6 96.5 196.9 96.7 195.6 96.6 194.3 95.7 193.3 94.5 192.7 93.2 192.1 90.6 192.2 88.6 192.4 87.3 193.6 84.7 195.0 83.3 195.6 82.9 196.9 82.6 198.3 83.0 198.9 83.4 200.0 84.7 201.0 86.7 201.3 88.6 201.1 91.2 200.3 93.9 198.9 95.7 197.6 96.5zM140.2 105.0 137.6 104.7 133.6 103.3 131.7 103.6 131.0 103.5 130.4 103.0 129.7 102.0 129.0 99.1 128.8 96.5 129.1 88.6 129.1 65.1 129.3 41.5 129.5 38.9 129.8 37.0 130.4 35.7 131.0 35.3 131.7 35.8 132.1 37.0 132.7 40.9 133.0 60.5 132.9 85.4 133.0 88.0 133.5 90.6 133.6 91.1 134.3 92.1 135.0 92.2 137.6 91.3 139.6 91.1 141.6 91.2 143.7 91.9 145.5 92.9 146.6 93.9 147.5 95.2 148.1 97.1 148.1 98.4 147.9 99.7 147.4 101.0 146.2 102.7 144.9 103.8 143.5 104.4 142.2 104.8 140.2 105.0zM195.6 71.6 195.0 71.8 193.6 71.4 192.3 70.2 191.0 68.3 190.1 66.4 189.4 64.4 188.9 61.8 188.6 59.2 189.0 53.3 189.5 50.7 190.3 48.0 191.4 45.5 192.3 44.0 193.0 43.4 194.3 43.0 195.6 43.4 196.3 44.0 197.4 45.5 198.3 47.2 199.5 51.3 200.0 56.6 199.9 61.2 198.6 67.0 197.9 69.0 197.2 70.3 196.3 71.3 195.6 71.6zM198.3 95.9 197.6 96.2 196.3 96.4 194.8 95.8 194.1 95.2 193.2 93.9 192.4 91.2 192.4 88.6 193.1 86.0 194.5 84.0 195.6 83.2 196.3 83.0 197.6 83.1 198.3 83.3 199.2 84.0 200.5 86.0 201.1 88.0 201.1 89.9 200.6 92.5 199.6 94.6 198.3 95.9zM142.9 104.4 140.9 104.7 138.9 104.7 136.9 104.3 133.6 103.1 131.7 103.4 131.0 103.3 130.4 102.8 129.7 101.7 129.2 99.7 128.9 96.5 129.2 88.6 129.1 65.1 129.4 41.5 129.8 37.6 130.4 36.0 131.0 35.6 131.7 36.1 132.2 37.6 132.6 41.5 132.9 60.5 132.8 85.4 133.1 89.3 133.6 91.5 134.3 92.4 135.0 92.5 137.6 91.6 138.9 91.3 141.6 91.5 143.5 92.1 144.9 92.8 146.2 93.8 146.8 94.6 147.5 95.8 147.8 97.1 147.8 99.1 147.4 100.4 146.6 101.7 145.5 102.9 144.2 103.8 142.9 104.4zM195.6 71.2 194.3 71.3 193.0 70.5 192.2 69.7 191.0 67.8 190.0 65.7 189.4 63.8 188.8 59.2 188.8 56.6 189.2 53.3 190.3 48.7 191.4 46.1 192.3 44.6 193.0 43.9 193.6 43.5 194.3 43.4 195.6 43.9 196.3 44.5 197.4 46.1 198.3 47.9 199.4 52.0 199.9 56.6 199.8 61.2 198.6 66.4 197.3 69.7 196.3 70.8 195.6 71.2zM197.6 95.9 196.3 96.1 195.6 95.9 194.3 95.0 193.1 93.2 192.5 90.6 192.7 88.0 193.6 85.5 195.0 84.0 195.6 83.6 196.9 83.3 198.3 83.7 199.6 84.8 200.6 86.7 200.9 88.6 200.7 91.2 200.1 93.2 198.9 95.0 197.6 95.9zM141.6 104.4 139.6 104.5 137.6 104.2 133.6 102.7 131.7 103.2 131.0 103.1 130.4 102.6 129.8 101.7 129.2 99.7 129.0 96.5 129.3 80.1 129.2 65.7 129.5 42.2 129.9 37.6 130.4 36.3 131.0 35.9 131.7 36.5 132.1 37.6 132.5 41.5 132.8 60.5 132.7 85.4 132.9 88.6 133.3 90.6 133.6 91.9 134.3 92.7 135.0 92.8 137.6 91.8 139.6 91.5 141.6 91.7 143.5 92.3 145.0 93.2 146.4 94.5 147.2 95.8 147.5 97.1 147.6 98.4 147.3 99.7 146.2 101.9 145.5 102.6 144.2 103.5 142.9 104.1 141.6 104.4zM196.3 70.4 195.6 70.8 194.3 70.9 193.0 70.1 191.7 68.5 190.5 66.4 189.8 64.4 189.3 62.5 189.0 59.8 189.0 57.2 189.3 54.0 190.3 49.5 191.4 46.8 192.3 45.2 193.0 44.5 193.6 44.1 194.3 44.0 195.1 44.2 196.3 45.1 197.8 47.4 199.1 51.3 199.7 55.9 199.7 59.8 199.1 63.8 197.7 68.4 196.9 69.7 196.3 70.4zM198.3 95.2 197.6 95.6 196.3 95.8 195.0 95.3 193.6 93.8 193.1 92.5 192.8 91.2 192.7 88.6 193.3 86.7 194.5 84.7 195.6 83.9 196.3 83.6 197.6 83.7 198.9 84.5 200.1 86.0 200.7 88.0 200.7 89.9 200.2 92.4 199.5 93.9 198.3 95.2zM142.9 103.8 141.6 104.2 139.6 104.2 136.9 103.8 134.3 102.5 133.6 102.4 131.7 103.0 131.0 102.9 130.4 102.3 130.0 101.7 129.3 99.7 129.1 96.5 129.4 80.1 129.3 65.7 129.6 42.2 129.7 39.6 130.0 37.6 130.4 36.7 131.0 36.2 131.7 36.8 131.9 37.6 132.4 41.5 132.7 60.5 132.7 85.4 133.0 90.0 133.6 92.3 134.3 93.1 135.0 93.1 138.3 91.9 140.9 91.8 142.9 92.3 144.2 93.0 145.5 93.9 146.2 94.6 146.9 95.8 147.3 97.1 147.3 98.4 147.0 99.7 146.4 101.0 145.4 102.4 144.2 103.2 142.9 103.8zM195.6 70.4 195.0 70.6 193.6 70.2 192.4 69.0 191.5 67.7 190.5 65.7 189.8 63.8 189.2 59.2 189.4 54.6 190.3 50.3 191.5 47.4 192.3 45.8 193.4 44.8 194.3 44.5 195.2 44.8 196.3 45.7 197.1 46.8 198.0 48.7 199.0 52.0 199.6 57.2 199.4 61.2 198.3 66.2 196.9 69.2 196.3 70.0 195.6 70.4zM197.6 95.3 196.3 95.5 195.6 95.3 194.5 94.5 193.3 92.5 192.9 90.6 193.1 88.0 193.8 86.0 195.0 84.6 195.6 84.2 196.9 83.9 198.3 84.3 199.6 85.6 200.2 86.9 200.6 88.6 200.5 90.6 199.9 92.5 198.9 94.3 197.6 95.3zM142.2 103.8 140.2 104.0 138.3 103.8 136.3 103.2 134.3 102.2 133.6 102.1 131.7 102.8 131.0 102.7 130.1 101.7 129.6 100.4 129.3 99.1 129.2 95.8 129.5 80.1 129.4 65.7 129.6 42.2 130.0 38.3 130.4 37.0 131.0 36.5 131.7 37.2 131.8 37.6 132.3 41.5 132.7 60.5 132.6 85.4 133.0 90.5 133.6 92.7 134.3 93.5 135.0 93.5 136.9 92.5 138.3 92.2 140.9 92.1 142.7 92.5 144.1 93.2 145.5 94.3 146.2 95.2 146.8 96.5 147.1 97.8 146.9 99.1 146.5 100.4 145.6 101.7 144.9 102.5 143.5 103.3 142.2 103.8zM195.6 70.0 195.0 70.2 193.6 69.8 192.3 68.5 191.4 67.0 190.0 63.8 189.3 59.2 189.6 54.6 190.5 50.7 191.7 47.7 192.3 46.5 193.3 45.5 194.3 45.1 195.3 45.5 196.3 46.3 197.8 48.7 198.9 52.5 199.4 57.2 199.3 61.2 198.3 65.6 196.9 68.7 196.3 69.5 195.6 70.0zM196.9 95.2 195.6 95.0 194.3 93.9 193.3 91.9 193.0 89.9 193.3 88.0 194.3 85.7 195.6 84.5 196.9 84.2 198.3 84.6 199.6 86.0 200.2 87.3 200.4 89.3 200.1 91.2 199.4 93.2 198.3 94.6 196.9 95.2zM140.9 103.7 138.9 103.7 137.6 103.4 136.3 102.9 134.3 101.8 133.6 101.8 131.7 102.6 131.0 102.5 130.4 101.9 129.9 101.0 129.4 99.1 129.2 95.8 129.6 80.1 129.4 65.7 129.7 42.8 130.1 38.3 130.4 37.4 131.0 36.8 131.7 37.6 131.9 38.3 132.3 42.2 132.6 61.2 132.5 85.4 132.7 88.6 133.0 91.0 133.6 93.1 134.3 93.8 135.0 93.8 136.9 92.8 138.9 92.3 140.9 92.3 142.9 92.9 144.2 93.6 145.4 94.5 146.3 95.8 146.7 97.1 146.8 98.4 146.5 99.7 145.3 101.7 143.5 103.0 142.2 103.5 140.9 103.7zM195.0 69.8 194.2 69.7 193.0 68.8 191.7 67.1 191.0 65.9 190.0 63.1 189.5 58.5 189.9 54.0 190.3 52.0 191.0 49.9 191.7 48.4 192.7 46.8 193.6 45.9 194.3 45.7 195.0 45.9 196.3 46.9 197.6 49.0 198.7 52.7 199.3 57.9 199.0 61.8 197.8 66.4 196.9 68.2 196.3 69.0 195.6 69.6 195.0 69.8zM197.6 94.7 196.3 94.9 195.0 94.3 193.7 92.5 193.3 90.6 193.3 88.6 194.0 86.7 195.0 85.3 196.3 84.5 197.6 84.6 198.7 85.4 199.6 86.4 200.1 88.0 200.2 89.9 199.6 92.4 198.9 93.5 197.6 94.7zM142.9 103.0 140.9 103.5 138.3 103.3 136.3 102.6 134.3 101.4 133.6 101.4 131.7 102.4 131.0 102.3 130.4 101.7 130.0 101.0 129.5 99.1 129.3 95.8 129.7 80.1 129.5 65.7 129.8 42.8 130.2 38.3 130.4 37.8 131.0 37.1 131.7 38.3 132.2 42.2 132.5 61.2 132.4 85.4 132.8 90.6 133.6 93.5 134.3 94.2 135.0 94.2 137.6 92.9 138.9 92.6 140.2 92.5 141.6 92.7 143.0 93.2 144.2 93.9 145.5 95.1 146.0 95.8 146.4 97.1 146.5 98.4 146.2 99.7 144.9 101.7 144.1 102.4 142.9 103.0zM195.6 69.1 195.0 69.3 194.3 69.3 193.6 69.0 192.9 68.4 191.7 66.6 190.9 65.1 190.3 63.5 189.7 59.2 189.9 54.6 190.3 52.6 191.0 50.7 191.7 49.1 193.0 47.1 193.6 46.6 194.3 46.4 195.0 46.5 196.3 47.6 197.6 49.7 198.5 52.7 199.1 57.2 199.0 60.5 198.3 64.2 196.9 67.7 196.3 68.6 195.6 69.1zM196.9 94.6 195.6 94.3 194.4 93.2 193.6 91.6 193.4 89.9 193.6 88.1 194.3 86.5 195.6 85.1 196.9 84.8 198.3 85.3 199.0 86.0 199.7 87.3 200.0 89.3 199.7 91.2 198.9 93.1 198.3 93.9 196.9 94.6zM141.6 103.1 139.6 103.2 137.6 102.9 136.3 102.3 134.3 101.0 133.6 101.0 131.7 102.2 131.0 102.1 130.2 101.0 129.6 99.1 129.4 95.8 129.7 79.5 129.6 65.1 129.9 42.8 130.2 38.9 130.4 38.3 131.0 37.4 131.7 38.5 132.1 42.2 132.4 61.2 132.4 86.0 132.7 90.6 133.6 93.9 134.3 94.7 135.0 94.6 137.6 93.1 138.9 92.8 140.2 92.8 141.6 93.0 142.9 93.4 144.2 94.2 145.2 95.2 145.7 95.8 146.1 97.1 146.2 98.4 145.9 99.7 145.1 101.0 144.2 102.0 142.9 102.7 141.6 103.1zM195.6 68.7 195.0 68.9 194.3 68.8 193.6 68.5 193.0 67.9 191.7 66.2 191.0 64.9 190.4 63.1 189.9 59.2 189.9 57.2 190.1 54.6 191.0 51.3 191.7 49.8 193.0 47.9 193.6 47.3 194.3 47.1 195.0 47.2 196.3 48.2 197.6 50.5 198.4 53.3 198.9 57.2 198.9 60.5 198.3 63.6 196.9 67.1 196.3 68.1 195.6 68.7zM197.6 94.0 196.3 94.2 195.0 93.5 194.2 92.5 193.6 90.6 193.7 88.6 194.3 87.0 195.0 86.0 196.3 85.2 197.6 85.2 198.3 85.6 199.2 86.7 199.7 88.0 199.8 89.3 199.5 91.2 198.9 92.7 198.3 93.5 197.6 94.0zM142.9 102.4 140.9 102.9 138.3 102.7 136.3 101.9 134.3 100.5 133.6 100.6 132.3 101.7 131.7 102.0 131.0 101.9 130.3 101.0 129.7 99.1 129.4 95.8 129.8 79.5 129.6 65.1 130.0 43.5 130.3 38.9 131.0 37.8 131.7 39.0 132.0 42.2 132.0 50.0 132.4 61.2 132.3 86.0 132.8 91.2 133.6 94.3 134.3 95.2 135.0 95.1 136.7 93.9 137.6 93.4 139.6 93.0 140.9 93.1 142.2 93.4 143.5 94.1 144.9 95.2 145.5 96.2 145.8 97.1 145.8 99.1 144.8 101.0 144.1 101.7 142.9 102.4zM195.0 68.5 194.3 68.4 193.0 67.5 191.3 65.1 190.5 62.5 190.0 58.5 190.3 54.6 191.0 52.0 192.3 49.4 193.6 48.1 194.3 47.9 195.0 48.0 196.3 48.9 197.6 51.2 198.3 54.0 198.8 57.9 198.6 61.2 197.6 65.0 196.3 67.6 195.6 68.2 195.0 68.5zM196.9 93.9 196.3 93.9 195.6 93.6 195.0 93.1 194.2 91.9 193.8 89.9 194.1 88.0 194.8 86.7 195.6 85.8 196.9 85.4 198.3 86.0 198.9 86.7 199.5 88.0 199.6 89.3 199.4 90.6 198.9 92.1 198.1 93.2 196.9 93.9zM142.2 102.4 140.2 102.7 138.0 102.4 136.5 101.7 134.3 99.9 133.6 100.1 132.3 101.5 131.7 101.8 131.0 101.7 130.4 101.0 129.8 99.1 129.5 95.8 129.9 79.5 129.7 65.7 130.1 50.0 130.1 43.5 130.4 39.5 131.0 38.2 131.7 39.7 131.9 42.8 131.9 50.0 132.3 61.2 132.2 86.0 132.7 91.2 133.6 94.9 134.3 95.8 135.0 95.6 136.2 94.5 137.3 93.9 139.6 93.3 140.9 93.4 142.2 93.7 143.5 94.4 144.4 95.2 145.0 95.8 145.5 97.1 145.5 99.1 144.9 100.4 144.4 101.0 143.5 101.7 142.2 102.4zM195.6 67.7 195.0 68.0 194.3 67.9 193.6 67.6 192.0 65.7 190.8 63.1 190.2 59.2 190.3 55.9 191.0 52.7 192.3 50.1 193.0 49.3 193.6 48.8 194.3 48.6 195.0 48.7 195.6 49.0 196.9 50.6 197.9 53.3 198.6 57.2 198.6 59.8 198.2 62.5 196.9 66.0 196.3 67.1 195.6 67.7zM197.6 93.2 196.9 93.5 196.3 93.5 195.6 93.2 195.0 92.7 194.5 91.9 194.1 90.6 194.1 89.3 194.4 88.0 195.1 86.7 196.3 85.8 196.9 85.7 197.6 85.9 198.3 86.3 199.0 87.3 199.3 88.6 199.3 89.9 198.9 91.5 198.3 92.6 197.6 93.2zM140.2 102.4 138.3 102.1 136.9 101.6 135.6 100.4 134.3 98.9 132.3 101.2 131.7 101.6 131.0 101.5 130.2 100.4 129.7 98.4 129.6 95.8 129.9 89.3 130.0 78.8 129.8 64.4 130.2 50.0 130.2 43.5 130.4 40.3 131.0 38.7 131.7 40.6 131.8 42.8 131.8 50.0 132.2 61.2 132.1 86.0 132.5 90.6 133.6 95.5 134.3 96.8 135.0 96.4 136.0 95.2 136.9 94.4 138.3 93.8 139.6 93.6 140.9 93.7 142.2 94.0 143.5 94.8 144.6 95.8 145.0 96.5 145.3 97.8 145.1 99.1 144.5 100.4 142.9 101.8 141.6 102.2 140.2 102.4zM195.6 67.2 195.0 67.5 194.3 67.5 193.0 66.6 192.3 65.7 191.7 64.7 191.1 63.1 190.4 59.2 190.5 55.9 191.3 52.7 192.3 50.8 193.0 50.1 193.6 49.6 194.3 49.4 195.0 49.5 195.6 49.8 196.9 51.4 197.7 53.3 198.4 57.2 198.4 59.8 198.0 62.5 196.9 65.4 196.3 66.5 195.6 67.2zM197.6 92.8 196.9 93.1 196.3 93.1 195.6 92.8 194.8 91.9 194.3 90.6 194.3 89.3 194.6 88.0 195.5 86.7 196.3 86.2 196.9 86.1 197.6 86.3 198.3 86.7 199.0 88.0 199.1 89.3 198.9 90.7 198.3 92.1 197.6 92.8zM131.7 101.4 131.0 101.3 130.3 100.4 129.8 98.4 129.7 96.5 130.1 79.5 129.9 65.1 130.3 50.0 130.3 43.5 130.4 41.5 131.0 39.3 131.7 42.0 131.7 50.7 132.1 58.5 132.0 87.3 132.5 91.2 133.9 97.8 133.2 99.7 132.3 100.9 131.7 101.4zM195.6 66.7 195.0 67.0 194.3 67.0 193.0 66.1 192.3 65.3 191.7 64.1 191.1 62.5 190.6 59.2 190.6 57.2 190.8 55.3 191.6 52.7 193.0 50.8 194.3 50.2 195.0 50.2 195.6 50.6 196.3 51.2 196.9 52.2 197.6 54.0 198.3 57.8 198.2 60.5 197.6 63.1 196.8 65.1 196.3 66.0 195.6 66.7zM196.9 92.6 196.3 92.6 195.2 91.9 194.8 91.2 194.6 89.9 194.7 88.6 195.3 87.3 196.3 86.6 196.9 86.5 197.6 86.6 198.3 87.3 198.6 88.0 198.8 89.3 198.3 91.5 197.6 92.2 196.9 92.6zM142.2 101.7 140.9 102.0 138.9 101.9 137.6 101.5 136.1 100.4 135.3 99.1 135.1 97.8 135.5 96.5 136.5 95.2 138.3 94.2 140.2 93.9 141.6 94.1 142.5 94.5 144.2 95.8 144.8 97.1 144.9 98.4 144.8 99.1 144.1 100.4 143.4 101.0 142.2 101.7zM131.7 101.1 131.0 101.1 130.4 100.2 129.9 98.4 129.7 95.8 130.1 88.0 130.2 78.2 130.0 64.4 130.1 56.6 130.5 49.4 130.4 44.2 130.6 41.5 131.0 39.9 131.4 41.5 131.6 43.5 131.5 49.4 132.0 59.2 132.0 87.3 132.3 90.6 133.5 97.1 133.3 99.1 132.6 100.4 131.7 101.1zM195.0 66.5 194.3 66.5 193.6 66.2 193.0 65.7 192.1 64.4 191.2 61.8 190.8 58.5 191.0 55.6 191.7 53.4 192.3 52.2 193.0 51.5 194.3 50.9 195.6 51.3 196.3 52.0 196.9 53.1 197.6 55.3 198.1 58.5 197.9 61.2 196.9 64.2 196.3 65.4 195.6 66.2 195.0 66.5zM196.9 92.0 196.3 92.1 195.6 91.7 195.0 90.6 194.9 89.9 195.0 88.6 195.6 87.5 196.3 87.0 196.9 86.9 197.6 87.1 198.3 87.9 198.5 89.3 198.3 90.6 197.6 91.6 196.9 92.0zM140.2 101.7 138.9 101.6 137.5 101.0 136.2 99.7 135.7 98.4 135.8 97.1 136.5 95.8 137.6 94.9 138.3 94.5 139.6 94.3 141.6 94.5 143.0 95.2 144.2 96.5 144.5 97.8 144.4 99.1 143.5 100.4 142.2 101.3 140.2 101.7zM131.7 100.9 131.0 100.8 130.4 99.9 129.9 97.8 129.8 95.8 130.1 89.3 130.3 79.5 130.1 67.7 130.2 58.5 130.4 53.5 130.7 50.0 130.7 43.5 131.0 40.8 131.3 43.5 131.3 50.0 131.7 53.7 131.9 59.8 131.9 87.3 132.2 90.6 133.3 97.1 133.2 98.4 132.7 99.7 132.3 100.4 131.7 100.9zM195.0 66.0 194.3 66.0 193.6 65.7 192.3 64.2 191.4 61.8 191.0 58.5 191.2 55.9 191.8 54.0 192.3 52.9 193.0 52.2 194.3 51.7 195.6 52.1 196.3 52.8 196.9 54.0 197.6 56.3 197.9 58.5 197.7 61.2 196.9 63.5 196.1 65.1 195.6 65.6 195.0 66.0zM196.9 91.3 196.3 91.3 195.6 90.8 195.3 89.3 195.9 88.0 196.3 87.6 196.9 87.4 197.7 88.0 198.1 89.3 197.7 90.6 196.9 91.3zM141.6 101.1 140.2 101.3 138.9 101.1 137.6 100.6 136.8 99.7 136.2 98.4 136.3 97.1 136.9 96.0 137.9 95.2 139.6 94.6 140.9 94.7 142.3 95.2 143.7 96.5 144.1 97.8 143.9 99.1 143.0 100.4 141.6 101.1zM131.0 48.7 130.9 44.8 131.0 42.3 131.0 48.7zM131.7 100.7 131.0 100.6 130.4 99.6 130.0 97.8 129.9 95.8 130.2 89.3 130.4 78.8 130.1 67.7 130.3 57.9 130.4 55.2 130.9 51.3 131.0 49.1 131.1 51.3 131.7 55.2 131.8 59.2 131.8 88.0 133.1 97.1 132.8 99.1 132.3 100.1 131.7 100.7zM195.0 65.4 194.3 65.5 193.6 65.2 193.0 64.6 192.3 63.6 191.7 61.7 191.3 58.5 191.5 55.9 192.2 54.0 193.0 52.9 193.6 52.6 194.3 52.5 195.0 52.6 195.6 53.0 196.3 53.8 197.2 55.9 197.6 58.5 197.6 60.5 196.9 62.8 196.1 64.4 195.6 65.0 195.0 65.4zM196.3 90.0 196.1 89.3 196.2 88.6 196.9 88.4 197.2 88.6 197.2 89.3 196.9 89.9 196.3 90.0zM141.6 100.6 139.6 100.8 138.3 100.4 137.5 99.7 136.9 98.9 136.8 97.8 137.2 96.5 137.8 95.8 139.2 95.2 140.9 95.1 142.2 95.7 143.1 96.5 143.6 97.8 143.4 99.1 142.9 99.8 141.6 100.6zM131.7 100.4 131.0 100.4 130.4 99.2 130.0 95.8 130.6 78.8 130.2 69.0 130.3 58.5 130.5 55.9 131.0 52.4 131.7 56.9 131.8 59.8 131.5 78.2 131.7 88.0 132.0 90.6 132.8 95.2 132.9 97.1 132.6 99.1 132.3 99.7 131.7 100.4zM195.6 64.4 195.0 64.9 194.3 64.9 193.6 64.6 193.0 64.0 192.3 62.8 191.7 60.3 191.5 57.9 191.8 55.9 192.3 54.5 193.0 53.7 193.6 53.4 195.0 53.5 195.6 54.0 196.3 54.8 197.2 57.2 197.4 59.2 197.2 61.2 196.3 63.5 195.6 64.4zM141.6 100.0 140.9 100.2 139.6 100.1 138.3 99.5 137.6 98.5 137.5 97.8 137.7 97.1 138.3 96.3 139.1 95.8 140.2 95.6 141.3 95.8 142.3 96.5 142.9 97.3 143.0 98.4 142.2 99.6 141.6 100.0zM131.7 100.2 131.0 100.1 130.4 98.8 130.1 95.8 130.5 88.0 130.8 78.8 130.4 70.8 130.4 61.1 130.6 56.6 131.0 53.9 131.5 57.2 131.7 61.2 131.6 70.3 131.3 78.2 131.4 86.7 131.9 90.6 132.8 96.5 132.6 98.4 132.3 99.3 131.7 100.2zM195.0 64.2 194.3 64.3 193.6 64.0 193.0 63.2 192.3 61.8 191.9 59.8 191.8 57.9 192.2 55.9 193.0 54.6 193.6 54.3 195.0 54.5 195.6 55.0 196.3 55.9 197.0 57.9 197.1 59.8 196.9 61.2 196.3 62.8 195.6 63.7 195.0 64.2zM140.9 99.2 139.6 99.1 139.0 98.4 138.9 97.5 139.1 97.1 139.6 96.7 140.2 96.5 140.9 96.6 141.7 97.1 142.0 97.8 141.9 98.4 141.6 98.9 140.9 99.2zM195.0 63.5 194.3 63.5 193.6 63.1 193.0 62.3 192.3 60.3 192.2 58.5 192.3 57.0 193.0 55.6 193.6 55.3 194.3 55.4 195.6 56.1 196.3 57.1 196.7 58.5 196.7 59.8 196.3 61.8 195.6 62.9 195.0 63.5zM131.7 99.9 131.0 99.8 130.4 98.4 130.1 95.8 130.8 88.0 131.0 79.5 130.4 65.7 130.6 59.2 131.0 55.3 131.5 62.5 131.4 70.3 131.0 78.2 131.2 86.7 131.4 88.6 132.5 94.5 132.7 96.5 132.5 98.4 131.7 99.9zM195.0 62.5 194.3 62.6 193.6 62.1 192.9 60.5 192.7 59.2 192.8 57.9 193.0 57.1 193.6 56.5 195.0 56.9 195.6 57.4 196.3 58.9 196.3 60.2 196.0 61.2 195.6 61.9 195.0 62.5zM131.0 73.9 130.7 65.1 131.0 57.0 131.3 63.8 131.0 73.9zM131.7 99.6 131.0 99.6 130.8 99.1 130.4 97.9 130.2 96.5 130.4 92.8 131.0 87.0 131.2 89.3 131.7 90.8 132.5 95.8 132.3 98.4 131.7 99.6zM195.0 61.2 194.3 61.2 193.7 60.5 193.5 59.8 193.6 58.5 194.3 58.2 195.0 58.4 195.4 59.2 195.5 59.8 195.0 61.2zM131.0 70.7 130.9 64.4 131.0 59.9 131.1 64.4 131.0 70.7zM131.7 99.3 131.0 99.3 130.4 97.1 130.4 93.9 131.0 89.6 131.7 91.5 132.4 95.8 132.3 97.8 131.7 99.3zM131.7 98.9 131.0 98.9 130.4 96.5 130.5 93.9 131.0 90.8 131.7 92.1 132.3 95.8 132.1 97.8 131.7 98.9zM131.7 98.5 131.0 98.5 130.6 96.5 130.6 94.5 131.0 91.7 131.7 92.8 132.0 95.2 132.1 97.1 131.7 98.5zM131.7 98.0 131.0 98.1 130.7 96.5 130.7 94.5 131.0 92.5 131.7 93.5 131.8 94.5 132.0 96.5 131.7 98.0zM131.7 97.4 131.0 97.5 130.9 97.1 130.8 95.2 131.0 93.4 131.7 94.4 131.8 95.8 131.7 97.4z"/>
</g>
<line x1="173.50" y1="20.60" x2="173.50" y2="107.60" stroke="#505050" stroke-width="0.8"/>
<line x1="131.00" y1="73.50" x2="218.70" y2="73.50" stroke="#505050" stroke-width="0.8"/>
<rect x="131.50" y="20.50" width="87.00" height="87.00" fill="none" stroke="#444" stroke-width="1"/>
<line x1="131.50" y1="20.60" x2="131.50" y2="107.60" stroke="#111" stroke-width="1.2"/>
<line x1="131.00" y1="107.50" x2="218.70" y2="107.50" stroke="#111" stroke-width="1.1"/>
<line x1="131.00" y1="107.60" x2="131.00" y2="109.60" stroke="#111" stroke-width="0.5"/>
<line x1="137.60" y1="107.60" x2="137.60" y2="108.80" stroke="#111" stroke-width="0.5"/>
<line x1="141.46" y1="107.60" x2="141.46" y2="108.80" stroke="#111" stroke-width="0.5"/>
<line x1="144.20" y1="107.60" x2="144.20" y2="108.80" stroke="#111" stroke-width="0.5"/>
<line x1="146.32" y1="107.60" x2="146.32" y2="108.80" stroke="#111" stroke-width="0.5"/>
<line x1="148.06" y1="107.60" x2="148.06" y2="108.80" stroke="#111" stroke-width="0.5"/>
<line x1="149.53" y1="107.60" x2="149.53" y2="108.80" stroke="#111" stroke-width="0.5"/>
<line x1="150.80" y1="107.60" x2="150.80" y2="108.80" stroke="#111" stroke-width="0.5"/>
<line x1="151.92" y1="107.60" x2="151.92" y2="108.80" stroke="#111" stroke-width="0.5"/>
<line x1="152.93" y1="107.60" x2="152.93" y2="109.60" stroke="#111" stroke-width="0.5"/>
<line x1="159.53" y1="107.60" x2="159.53" y2="108.80" stroke="#111" stroke-width="0.5"/>
<line x1="163.39" y1="107.60" x2="163.39" y2="108.80" stroke="#111" stroke-width="0.5"/>
<line x1="166.13" y1="107.60" x2="166.13" y2="108.80" stroke="#111" stroke-width="0.5"/>
<line x1="168.25" y1="107.60" x2="168.25" y2="108.80" stroke="#111" stroke-width="0.5"/>
<line x1="169.99" y1="107.60" x2="169.99" y2="108.80" stroke="#111" stroke-width="0.5"/>
<line x1="171.45" y1="107.60" x2="171.45" y2="108.80" stroke="#111" stroke-width="0.5"/>
<line x1="172.73" y1="107.60" x2="172.73" y2="108.80" stroke="#111" stroke-width="0.5"/>
<line x1="173.85" y1="107.60" x2="173.85" y2="108.80" stroke="#111" stroke-width="0.5"/>
<line x1="174.85" y1="107.60" x2="174.85" y2="109.60" stroke="#111" stroke-width="0.5"/>
<line x1="181.45" y1="107.60" x2="181.45" y2="108.80" stroke="#111" stroke-width="0.5"/>
<line x1="185.31" y1="107.60" x2="185.31" y2="108.80" stroke="#111" stroke-width="0.5"/>
<line x1="188.05" y1="107.60" x2="188.05" y2="108.80" stroke="#111" stroke-width="0.5"/>
<line x1="190.17" y1="107.60" x2="190.17" y2="108.80" stroke="#111" stroke-width="0.5"/>
<line x1="191.91" y1="107.60" x2="191.91" y2="108.80" stroke="#111" stroke-width="0.5"/>
<line x1="193.38" y1="107.60" x2="193.38" y2="108.80" stroke="#111" stroke-width="0.5"/>
<line x1="194.65" y1="107.60" x2="194.65" y2="108.80" stroke="#111" stroke-width="0.5"/>
<line x1="195.77" y1="107.60" x2="195.77" y2="108.80" stroke="#111" stroke-width="0.5"/>
<line x1="196.77" y1="107.60" x2="196.77" y2="109.60" stroke="#111" stroke-width="0.5"/>
<line x1="203.38" y1="107.60" x2="203.38" y2="108.80" stroke="#111" stroke-width="0.5"/>
<line x1="207.24" y1="107.60" x2="207.24" y2="108.80" stroke="#111" stroke-width="0.5"/>
<line x1="209.98" y1="107.60" x2="209.98" y2="108.80" stroke="#111" stroke-width="0.5"/>
<line x1="212.10" y1="107.60" x2="212.10" y2="108.80" stroke="#111" stroke-width="0.5"/>
<line x1="213.84" y1="107.60" x2="213.84" y2="108.80" stroke="#111" stroke-width="0.5"/>
<line x1="215.30" y1="107.60" x2="215.30" y2="108.80" stroke="#111" stroke-width="0.5"/>
<line x1="216.58" y1="107.60" x2="216.58" y2="108.80" stroke="#111" stroke-width="0.5"/>
<line x1="217.70" y1="107.60" x2="217.70" y2="108.80" stroke="#111" stroke-width="0.5"/>
<line x1="218.70" y1="107.60" x2="218.70" y2="109.60" stroke="#111" stroke-width="0.5"/>
<line x1="129.00" y1="107.60" x2="131.00" y2="107.60" stroke="#111" stroke-width="0.5"/>
<line x1="129.80" y1="101.05" x2="131.00" y2="101.05" stroke="#111" stroke-width="0.5"/>
<line x1="129.80" y1="97.22" x2="131.00" y2="97.22" stroke="#111" stroke-width="0.5"/>
<line x1="129.80" y1="94.51" x2="131.00" y2="94.51" stroke="#111" stroke-width="0.5"/>
<line x1="129.80" y1="92.40" x2="131.00" y2="92.40" stroke="#111" stroke-width="0.5"/>
<line x1="129.80" y1="90.68" x2="131.00" y2="90.68" stroke="#111" stroke-width="0.5"/>
<line x1="129.80" y1="89.22" x2="131.00" y2="89.22" stroke="#111" stroke-width="0.5"/>
<line x1="129.80" y1="87.96" x2="131.00" y2="87.96" stroke="#111" stroke-width="0.5"/>
<line x1="129.80" y1="86.85" x2="131.00" y2="86.85" stroke="#111" stroke-width="0.5"/>
<line x1="129.00" y1="85.85" x2="131.00" y2="85.85" stroke="#111" stroke-width="0.5"/>
<line x1="129.80" y1="79.30" x2="131.00" y2="79.30" stroke="#111" stroke-width="0.5"/>
<line x1="129.80" y1="75.47" x2="131.00" y2="75.47" stroke="#111" stroke-width="0.5"/>
<line x1="129.80" y1="72.76" x2="131.00" y2="72.76" stroke="#111" stroke-width="0.5"/>
<line x1="129.80" y1="70.65" x2="131.00" y2="70.65" stroke="#111" stroke-width="0.5"/>
<line x1="129.80" y1="68.93" x2="131.00" y2="68.93" stroke="#111" stroke-width="0.5"/>
<line x1="129.80" y1="67.47" x2="131.00" y2="67.47" stroke="#111" stroke-width="0.5"/>
<line x1="129.80" y1="66.21" x2="131.00" y2="66.21" stroke="#111" stroke-width="0.5"/>
<line x1="129.80" y1="65.10" x2="131.00" y2="65.10" stroke="#111" stroke-width="0.5"/>
<line x1="129.00" y1="64.10" x2="131.00" y2="64.10" stroke="#111" stroke-width="0.5"/>
<line x1="129.80" y1="57.55" x2="131.00" y2="57.55" stroke="#111" stroke-width="0.5"/>
<line x1="129.80" y1="53.72" x2="131.00" y2="53.72" stroke="#111" stroke-width="0.5"/>
<line x1="129.80" y1="51.01" x2="131.00" y2="51.01" stroke="#111" stroke-width="0.5"/>
<line x1="129.80" y1="48.90" x2="131.00" y2="48.90" stroke="#111" stroke-width="0.5"/>
<line x1="129.80" y1="47.18" x2="131.00" y2="47.18" stroke="#111" stroke-width="0.5"/>
<line x1="129.80" y1="45.72" x2="131.00" y2="45.72" stroke="#111" stroke-width="0.5"/>
<line x1="129.80" y1="44.46" x2="131.00" y2="44.46" stroke="#111" stroke-width="0.5"/>
<line x1="129.80" y1="43.35" x2="131.00" y2="43.35" stroke="#111" stroke-width="0.5"/>
<line x1="129.00" y1="42.35" x2="131.00" y2="42.35" stroke="#111" stroke-width="0.5"/>
<line x1="129.80" y1="35.80" x2="131.00" y2="35.80" stroke="#111" stroke-width="0.5"/>
<line x1="129.80" y1="31.97" x2="131.00" y2="31.97" stroke="#111" stroke-width="0.5"/>
<line x1="129.80" y1="29.26" x2="131.00" y2="29.26" stroke="#111" stroke-width="0.5"/>
<line x1="129.80" y1="27.15" x2="131.00" y2="27.15" stroke="#111" stroke-width="0.5"/>
<line x1="129.80" y1="25.43" x2="131.00" y2="25.43" stroke="#111" stroke-width="0.5"/>
<line x1="129.80" y1="23.97" x2="131.00" y2="23.97" stroke="#111" stroke-width="0.5"/>
<line x1="129.80" y1="22.71" x2="131.00" y2="22.71" stroke="#111" stroke-width="0.5"/>
<line x1="129.80" y1="21.60" x2="131.00" y2="21.60" stroke="#111" stroke-width="0.5"/>
<line x1="129.00" y1="20.60" x2="131.00" y2="20.60" stroke="#111" stroke-width="0.5"/>
<text x="131.00" y="114.90" font-family='"Liberation Serif", serif' font-size="3.6" font-weight="bold" text-anchor="middle">1</text>
<text x="126.60" y="108.90" font-family='"Liberation Serif", serif' font-size="3.6" font-weight="bold" text-anchor="end">1</text>
<text x="152.93" y="114.90" font-family='"Liberation Serif", serif' font-size="3.6" font-weight="bold" text-anchor="middle">10</text>
<text x="126.60" y="87.15" font-family='"Liberation Serif", serif' font-size="3.6" font-weight="bold" text-anchor="end">10</text>
<text x="174.85" y="114.90" font-family='"Liberation Serif", serif' font-size="3.6" font-weight="bold" text-anchor="middle">100</text>
<text x="126.60" y="65.40" font-family='"Liberation Serif", serif' font-size="3.6" font-weight="bold" text-anchor="end">100</text>
<text x="196.77" y="114.90" font-family='"Liberation Serif", serif' font-size="3.6" font-weight="bold" text-anchor="middle">1000</text>
<text x="126.60" y="43.65" font-family='"Liberation Serif", serif' font-size="3.6" font-weight="bold" text-anchor="end">1000</text>
<text x="218.70" y="114.90" font-family='"Liberation Serif", serif' font-size="3.6" font-weight="bold" text-anchor="middle">10000</text>
<text x="126.60" y="21.90" font-family='"Liberation Serif", serif' font-size="3.6" font-weight="bold" text-anchor="end">10000</text>
<text x="136.20" y="29.00" font-family='"Liberation Serif", serif' font-size="7.6" font-weight="normal" text-anchor="start">15</text>
<text x="216.40" y="29.20" font-family='"Liberation Serif", serif' font-size="7.6" font-weight="normal" text-anchor="end">33</text>
<rect x="131.50" y="100.90" width="11.10" height="6.10" fill="#fff" stroke="#222" stroke-width="0.5"/>
<text x="137.50" y="106.60" font-family='"Liberation Serif", serif' font-size="7.6" font-weight="normal" text-anchor="middle">36</text>
<text x="216.60" y="106.00" font-family='"Liberation Serif", serif' font-size="7.6" font-weight="normal" text-anchor="end">16</text>
<g clip-path="url(#c3)" fill="none" stroke="#111" stroke-width="0.72" stroke-linejoin="round">
<path d="M92.6 230.3 90.0 230.4 87.5 230.1 86.2 229.7 85.0 229.2 83.8 228.3 83.5 227.7 83.5 227.0 84.3 226.1 85.6 225.4 87.5 224.8 90.0 224.5 93.9 224.7 95.8 225.3 97.4 226.4 97.8 227.0 97.8 227.7 97.5 228.3 97.0 228.8 95.1 229.8 92.6 230.3zM18.8 296.2 20.7 294.4 24.7 291.2 25.8 289.9 26.5 288.6 28.0 284.7 31.3 279.5 31.7 278.2 31.6 276.3 29.7 271.1 29.7 270.4 30.3 269.1 30.5 267.8 29.9 264.6 29.9 263.9 34.6 258.8 36.0 257.5 37.3 256.6 39.2 256.1 40.4 256.1 46.8 257.2 48.7 257.1 50.0 256.8 56.4 252.9 62.1 248.2 67.2 245.1 72.9 240.9 74.8 239.8 76.1 239.3 78.0 239.0 81.8 239.5 83.7 239.5 85.0 239.1 89.4 237.2 91.3 236.9 93.2 237.1 95.8 238.3 97.0 239.3 98.2 240.6 100.4 243.9 101.1 245.8 101.0 247.7 100.5 249.7 99.5 251.6 95.1 258.1 90.0 264.6 87.5 266.1 84.3 267.4 80.5 267.9 74.8 267.9 72.9 268.1 71.6 268.6 68.4 270.2 67.2 270.7 59.5 271.7 56.6 272.4 55.3 273.0 54.4 274.0 54.1 275.6 54.4 276.9 56.3 280.1 56.8 282.1 56.8 285.3 57.0 289.9 56.6 291.2 55.7 293.1 55.3 295.1 55.7 297.5 57.2 302.8 57.6 308.7 57.5 311.9 57.1 314.5 56.4 317.1 55.3 319.7M27.1 265.6 26.5 265.9 25.8 265.8 24.5 264.7 23.3 262.7 22.5 260.1 22.7 258.1 23.5 256.2 24.5 255.0 25.8 254.5 26.5 254.6 27.1 255.0 28.0 256.2 28.5 257.5 28.9 259.4 29.2 263.3 29.0 263.9 28.4 264.6 27.1 265.6zM93.9 229.7 92.0 230.0 90.0 230.0 86.9 229.5 85.7 229.0 84.8 228.3 84.4 227.7 84.5 227.0 85.0 226.4 86.1 225.7 88.8 225.0 92.0 224.8 94.5 225.3 96.4 226.4 96.9 227.0 97.0 227.7 96.6 228.3 95.8 228.9 93.9 229.7zM18.8 297.5 21.4 294.9 25.4 291.8 26.8 290.5 27.7 289.2 30.0 284.0 32.9 279.5 33.5 277.6 33.3 274.3 33.5 273.1 35.2 270.4 35.4 269.8 35.2 268.5 33.7 265.2 33.7 263.3 34.9 260.7 36.6 258.6 37.9 257.8 39.8 257.4 46.8 258.6 48.7 258.6 50.4 258.1 51.9 257.2 62.7 249.2 66.8 246.5 71.6 242.9 75.4 241.0 78.0 240.4 82.4 240.6 84.3 240.4 85.7 240.0 88.8 238.5 90.7 238.0 93.2 238.3 95.1 239.2 96.1 240.0 97.2 241.3 99.1 244.5 99.8 246.5 99.7 248.4 99.2 249.7 98.5 251.0 96.4 253.6 94.3 256.8 89.6 262.7 88.3 263.9 85.6 265.5 83.1 266.4 79.2 267.0 74.1 266.9 72.2 267.1 70.3 267.8 67.8 269.3 66.5 269.8 64.6 270.2 60.2 270.6 55.7 271.4 54.4 271.8 53.6 272.4 53.1 273.0 52.5 274.7 52.6 276.9 53.1 278.9 54.7 282.1 55.3 288.6 55.2 289.9 53.9 293.1 53.8 294.4 54.4 297.0 56.2 302.8 56.8 308.7 56.7 311.9 56.1 315.1 55.5 317.1 54.1 319.7M25.8 259.5 25.2 259.9 24.9 259.4 25.2 258.3 25.8 258.5 25.8 259.5zM23.5 319.7 21.4 318.3 18.8 316.2M92.0 229.6 89.4 229.6 86.9 229.0 85.7 228.3 85.2 227.7 85.3 227.0 85.9 226.4 87.5 225.6 88.8 225.3 90.7 225.1 92.6 225.2 93.9 225.5 95.6 226.4 96.1 227.0 96.2 227.7 95.8 228.3 95.1 228.8 93.9 229.3 92.0 229.6zM18.8 298.6 22.0 295.3 26.8 291.8 28.2 290.5 29.4 288.6 31.2 284.0 34.9 278.9 35.2 277.6 35.5 275.0 36.0 273.8 37.3 272.1 37.8 270.4 37.6 268.5 35.9 264.6 35.7 263.3 36.1 261.4 36.9 260.1 37.6 259.4 38.5 258.8 39.8 258.6 41.1 258.7 44.9 259.5 46.8 259.7 49.3 259.5 51.3 258.8 52.5 258.0 55.7 255.2 65.9 248.1 71.0 244.2 72.9 243.0 74.8 242.2 78.0 241.3 83.7 241.3 85.0 241.1 86.2 240.7 88.8 239.4 90.7 238.9 92.6 239.1 94.5 239.9 95.4 240.6 96.4 241.9 98.0 245.2 98.6 247.1 98.4 249.0 97.8 250.3 95.8 252.9 92.7 257.5 89.4 261.3 87.5 263.1 85.6 264.3 82.4 265.6 79.2 266.2 73.5 266.1 71.6 266.3 70.3 266.7 67.2 268.4 65.2 269.1 60.0 269.8 54.4 270.8 53.2 271.3 52.5 271.7 51.9 272.5 51.4 273.7 51.2 275.0 51.1 282.1 51.5 283.4 53.1 286.0 53.6 287.9 53.7 289.2 52.6 292.5 52.5 294.4 53.1 296.3 54.6 300.2 55.4 302.8 55.8 305.4 56.0 309.3 55.9 312.5 55.4 315.1 54.3 317.7 53.0 319.7M24.8 319.7 21.4 317.5 18.8 315.2M93.2 229.1 90.7 229.4 88.1 229.1 86.5 228.3 86.0 227.7 86.1 227.0 86.8 226.4 87.5 226.0 89.4 225.5 91.3 225.4 93.2 225.7 94.8 226.4 95.4 227.0 95.5 227.7 95.0 228.3 93.2 229.1zM18.8 299.5 20.7 297.4 22.6 295.6 28.2 291.8 29.6 290.5 30.3 289.2 31.6 285.3 32.7 283.4 34.1 281.8 37.0 279.5 38.0 278.2 38.4 275.6 39.2 272.8 39.4 271.1 39.2 267.8 37.7 263.9 37.5 262.7 37.8 261.4 38.5 260.4 39.2 260.0 40.4 259.9 44.3 260.5 47.4 260.6 49.3 260.4 51.3 259.8 52.9 258.8 57.0 255.0 64.6 250.1 71.0 244.9 72.9 243.8 74.8 242.9 76.7 242.3 78.6 242.0 85.0 241.8 86.9 241.3 89.4 240.1 90.7 239.8 92.6 240.0 93.9 240.6 95.3 241.9 96.7 244.5 97.5 247.1 97.3 249.0 96.7 250.3 91.9 257.5 89.4 260.3 86.9 262.5 83.7 264.3 81.1 265.2 78.6 265.6 72.9 265.4 71.0 265.5 69.7 265.9 66.5 267.7 64.6 268.4 53.8 270.1 52.7 270.4 51.7 271.1 50.6 272.4 50.2 273.7 49.6 277.6 48.0 281.4 47.7 283.4 48.1 284.7 48.7 285.3 51.3 287.2 52.0 288.6 52.0 289.9 51.2 293.1 51.3 294.4 52.0 296.3 54.1 300.9 54.7 302.8 55.1 305.4 55.4 309.3 55.3 312.5 54.7 315.1 53.4 317.7 51.7 319.7M44.0 292.5 45.0 291.2 45.5 289.9 45.7 288.6 45.4 287.3 44.9 286.9 44.3 286.8 43.0 287.2 41.7 288.2 40.9 289.2 40.4 290.5 40.4 291.2 40.7 291.8 41.7 292.6 43.0 292.9 44.0 292.5zM26.1 319.7 23.9 318.6 22.0 317.3 20.2 315.8 18.8 314.3M92.0 229.0 90.0 229.1 88.1 228.7 87.3 228.3 86.7 227.7 86.8 227.0 88.1 226.2 90.7 225.7 93.2 226.0 94.0 226.4 94.7 227.0 94.8 227.7 94.2 228.3 92.0 229.0zM46.8 277.6 45.5 277.5 43.6 276.6 42.3 275.6 41.3 274.3 40.8 271.7 40.6 265.9 40.0 262.7 40.3 262.0 41.1 261.8 43.6 261.7 48.7 261.2 50.6 260.8 51.9 260.3 53.2 259.4 56.4 256.2 57.6 255.1 59.5 253.9 64.6 251.1 71.0 245.6 72.9 244.3 74.8 243.5 76.7 242.9 79.2 242.4 85.6 242.3 87.0 241.9 89.4 240.8 90.7 240.6 92.0 240.6 93.2 241.1 94.8 242.6 95.8 244.5 96.4 247.1 96.5 248.4 96.0 249.7 91.7 256.8 89.4 259.5 86.9 261.8 83.7 263.6 80.5 264.7 78.0 265.1 72.2 264.7 70.3 264.8 68.9 265.2 65.9 267.0 64.0 267.7 57.6 268.9 53.8 269.4 52.3 269.8 51.0 270.4 49.7 271.7 49.1 273.0 48.2 276.3 47.4 277.3 46.8 277.6zM18.8 300.4 21.2 297.6 23.3 295.8 25.8 294.0 28.6 292.5 30.4 291.2 30.9 290.5 31.4 289.2 32.5 285.3 33.1 284.0 34.1 282.9 35.4 282.0 37.3 281.3 39.2 281.3 40.4 281.7 41.7 282.7 42.2 283.4 42.3 284.7 41.7 286.0 39.3 289.9 39.1 291.2 39.7 292.5 40.4 293.1 41.7 293.8 43.0 294.2 44.3 294.0 45.6 293.1 48.1 289.5 48.7 289.0 49.3 289.0 50.0 289.9 49.6 292.5 49.9 294.4 53.1 300.2 54.1 302.8 54.6 305.4 54.8 308.7 54.8 311.2 54.6 313.2 54.0 315.1 53.2 316.9 51.9 318.5 50.4 319.7M27.5 319.7 25.2 318.7 22.6 317.2 20.3 315.1 18.8 313.4M92.6 228.4 90.7 228.6 88.9 228.3 88.0 227.7 88.1 227.0 89.4 226.4 90.0 226.3 92.3 226.4 93.5 227.0 93.6 227.7 92.6 228.4zM46.2 272.6 45.5 272.8 44.3 272.5 43.4 271.7 43.0 270.4 43.0 269.1 43.3 267.8 44.4 265.2 45.2 263.9 46.0 263.3 46.8 262.9 51.3 261.8 53.4 260.7 54.4 259.8 56.8 256.8 58.3 255.6 60.2 254.4 64.0 253.1 65.2 252.3 69.6 247.7 72.2 245.6 74.8 244.3 78.0 243.4 80.5 243.1 86.2 243.1 90.7 241.9 92.0 242.0 92.6 242.3 93.9 243.6 94.7 245.8 94.9 247.7 94.7 249.0 93.7 251.6 92.1 254.9 90.2 257.5 88.1 259.7 85.6 261.6 81.8 263.5 78.6 264.3 76.1 264.2 70.3 263.5 68.4 263.6 67.2 264.3 64.9 265.9 62.7 266.8 57.6 268.0 52.9 268.5 50.4 269.1 48.2 270.4 46.2 272.6zM18.8 301.7 21.4 298.6 24.5 295.8 26.5 294.6 30.0 293.1 32.3 291.8 33.2 290.5 33.3 287.3 33.5 286.0 34.1 284.9 34.7 284.1 35.4 283.7 36.6 283.3 37.9 283.3 38.5 283.6 39.2 284.1 39.7 285.3 39.4 286.6 37.3 290.5 37.3 291.2 37.9 292.5 39.3 293.8 41.7 295.2 44.3 295.9 47.4 296.2 48.7 296.8 50.6 298.7 51.9 300.4 52.8 302.2 53.4 304.1 53.8 307.4 54.0 310.6 53.8 312.5 53.3 314.5 52.5 316.0 51.3 317.5 49.3 318.9 47.5 319.7M30.5 319.7 26.5 318.5 23.3 316.8 20.7 314.5 18.8 311.9M92.0 227.8 90.7 228.0 89.4 227.7 89.6 227.0 91.3 226.8 92.1 227.0 92.3 227.7 92.0 227.8zM50.0 267.9 47.4 268.2 46.7 267.8 46.4 266.5 46.8 265.2 47.2 264.6 48.1 263.9 52.5 262.3 54.1 261.4 55.1 260.5 57.7 256.8 59.5 255.4 60.8 254.8 62.1 254.5 64.6 254.5 65.2 254.3 65.9 253.7 68.1 250.3 69.8 248.4 71.6 246.7 73.5 245.5 76.7 244.2 80.5 243.6 86.2 243.9 90.7 243.1 92.0 243.5 92.9 244.5 93.5 246.5 93.6 248.4 93.0 251.0 91.7 254.2 90.5 256.2 88.3 258.8 86.2 260.5 84.3 261.7 81.1 263.1 79.2 263.6 77.3 263.7 72.2 262.9 70.3 262.4 67.8 261.4 67.2 261.4 65.8 263.3 64.6 264.6 62.3 265.9 57.0 267.3 50.0 267.9zM36.0 288.7 35.4 288.6 34.8 287.9 34.7 286.5 35.3 285.3 36.0 284.9 36.6 284.8 37.3 284.9 37.9 285.7 37.9 286.6 37.3 287.8 36.6 288.4 36.0 288.7zM18.8 302.9 19.7 301.5 21.4 299.5 23.3 297.6 25.2 296.1 27.7 294.8 34.7 292.5 36.0 292.6 39.8 295.1 42.4 296.4 47.4 298.1 48.7 298.8 50.0 299.7 51.0 300.9 52.4 303.5 52.9 305.4 53.1 307.4 53.2 310.6 53.1 312.5 52.7 313.8 52.1 315.1 50.6 316.9 48.7 318.2 45.2 319.7M33.1 319.7 29.0 318.8 27.1 318.2 23.9 316.5 22.1 315.1 20.9 313.8 19.9 312.5 18.8 310.5M80.5 262.8 78.0 263.2 74.8 262.9 71.6 262.0 69.3 260.7 67.7 258.8 67.0 257.5 66.7 256.2 66.9 254.2 68.0 251.6 69.9 249.0 71.6 247.4 73.5 246.0 76.7 244.7 79.2 244.2 81.1 244.0 86.9 244.5 90.0 244.4 91.3 244.9 92.0 245.7 92.3 246.5 92.5 249.0 91.9 252.3 90.7 254.9 88.9 257.5 86.2 259.9 83.1 261.8 80.5 262.8zM57.0 266.6 55.1 266.7 51.3 266.5 49.6 265.9 49.6 265.2 50.3 264.6 53.2 263.1 55.1 261.8 56.0 260.7 57.9 257.5 59.3 256.2 60.2 255.7 61.4 255.3 62.7 255.3 63.3 255.6 64.1 256.2 64.5 256.8 65.0 258.1 65.2 260.7 64.8 262.7 64.0 263.7 62.7 264.7 59.7 265.9 57.0 266.6zM18.8 304.4 19.5 302.8 20.8 300.9 23.2 298.3 25.2 296.7 27.7 295.4 34.7 293.6 36.6 294.0 43.0 297.4 48.7 300.0 50.0 301.0 50.9 302.2 51.6 303.5 52.1 304.8 52.4 306.7 52.6 310.0 52.2 313.2 51.3 315.1 50.0 316.5 48.1 317.7 43.6 319.7M35.0 319.7 27.7 317.9 25.8 317.1 23.9 316.0 22.1 314.5 20.5 312.5 19.5 310.6 18.8 308.8M78.6 262.7 76.1 262.6 72.9 261.8 71.0 261.0 69.2 259.4 68.1 257.5 67.7 256.2 67.7 254.9 68.1 252.9 69.5 250.3 71.1 248.4 72.9 246.9 75.4 245.6 78.0 244.8 80.5 244.5 82.4 244.5 88.8 245.3 90.2 245.8 90.9 246.5 91.3 247.3 91.7 249.0 91.7 250.3 91.1 252.9 89.8 255.5 87.5 258.3 85.0 260.3 81.1 262.2 78.6 262.7zM58.9 265.3 57.0 265.7 55.7 265.8 53.8 265.2 53.6 264.6 56.3 261.7 57.7 258.8 58.9 257.2 59.5 256.6 60.8 256.0 62.1 256.0 62.6 256.2 63.4 256.8 64.1 258.8 64.3 260.7 64.0 262.0 63.3 263.1 62.3 263.9 58.9 265.3zM36.9 319.7 29.0 317.9 27.1 317.2 25.2 316.3 23.5 315.1 22.0 313.7 20.6 311.9 19.7 310.0 19.1 308.0 19.0 306.1 19.2 304.8 20.0 302.8 21.3 300.9 23.3 298.8 25.2 297.2 27.1 296.2 29.0 295.6 34.1 294.5 35.4 294.4 36.6 294.6 43.6 298.4 48.1 300.6 49.3 301.5 50.5 302.8 51.4 304.8 51.9 308.0 52.0 311.2 51.8 312.5 51.3 313.8 50.4 315.1 48.7 316.6 44.3 318.9 42.0 319.7M79.9 262.2 77.3 262.4 74.1 261.8 71.6 260.7 70.0 259.4 68.8 257.5 68.3 255.5 68.4 254.2 68.7 252.9 69.6 251.0 71.0 249.0 72.9 247.4 75.4 246.0 78.0 245.2 80.5 244.8 83.1 244.9 87.5 245.7 89.4 246.4 90.5 247.7 90.9 249.0 91.1 250.3 90.8 252.3 89.7 254.9 87.8 257.5 85.6 259.4 83.1 261.0 79.9 262.2zM60.2 264.0 57.6 264.4 57.0 264.2 56.7 263.9 58.1 259.4 58.8 258.1 60.2 256.9 61.4 256.6 62.2 256.8 62.9 257.5 63.4 258.8 63.5 260.7 63.1 262.0 62.6 262.7 61.4 263.5 60.2 264.0zM42.4 319.2 40.4 319.6 37.9 319.5 29.0 317.5 27.1 316.8 25.2 315.9 22.6 313.8 21.1 311.9 20.1 310.0 19.5 308.0 19.4 306.1 19.8 304.1 20.4 302.8 21.8 300.9 23.3 299.4 25.8 297.3 27.7 296.4 33.5 295.2 35.4 295.0 36.6 295.2 38.5 296.1 47.4 301.0 49.3 302.5 50.5 304.1 51.2 306.7 51.4 310.6 50.9 313.2 50.2 314.5 48.7 315.8 44.9 318.0 42.4 319.2zM78.6 262.0 76.1 261.8 73.5 261.1 71.6 260.1 70.2 258.8 69.2 256.8 68.8 254.9 69.4 252.3 70.5 250.3 71.6 249.0 73.5 247.4 76.1 246.1 78.6 245.4 81.1 245.1 83.7 245.3 86.9 246.0 88.8 246.9 89.4 247.4 90.0 248.4 90.4 249.7 90.5 251.0 90.2 252.9 88.9 255.5 86.7 258.1 84.3 259.9 81.1 261.4 78.6 262.0zM60.8 262.8 59.5 263.0 58.9 262.8 58.5 262.0 58.5 260.7 58.8 259.4 59.5 258.1 60.3 257.5 61.4 257.3 62.1 257.6 62.4 258.1 62.7 258.8 62.9 260.1 62.7 261.0 62.1 262.0 60.8 262.8zM41.1 319.1 39.2 319.3 36.6 319.0 28.4 316.9 26.5 316.2 24.5 315.0 23.1 313.8 22.0 312.5 20.8 310.6 20.1 308.7 19.8 306.7 20.0 304.8 20.5 303.5 21.7 301.5 23.3 299.9 25.2 298.2 26.5 297.4 28.4 296.6 34.1 295.6 36.0 295.5 38.5 296.5 46.8 301.3 48.1 302.2 49.4 303.5 50.4 305.4 50.8 308.0 50.8 311.2 50.3 313.2 49.3 314.6 47.8 315.8 43.6 318.2 41.1 319.1zM79.9 261.5 77.3 261.7 74.8 261.2 72.4 260.1 71.0 258.9 70.0 257.5 69.3 255.5 69.4 253.6 70.1 251.6 71.4 249.7 72.9 248.2 74.8 247.0 77.3 246.0 79.9 245.5 82.4 245.5 85.0 245.9 87.5 246.8 88.9 247.7 89.4 248.5 89.9 249.7 90.0 251.6 89.8 252.9 89.2 254.2 87.5 256.8 85.4 258.8 82.4 260.6 79.9 261.5zM61.4 261.4 60.8 261.7 60.2 261.7 59.7 261.4 59.4 260.7 59.5 259.4 60.2 258.5 60.8 258.1 61.4 258.2 61.9 258.8 62.1 259.4 61.9 260.7 61.4 261.4zM42.4 318.4 41.1 318.8 39.2 318.9 37.3 318.8 34.7 318.3 27.7 316.3 25.8 315.5 23.9 314.1 22.6 312.8 21.5 311.2 20.6 309.3 20.2 307.4 20.2 305.4 20.6 304.1 21.2 302.8 22.2 301.5 24.5 299.1 27.1 297.5 29.6 296.7 35.4 295.9 36.6 296.1 38.5 297.0 46.8 301.9 48.1 302.8 49.6 304.8 50.2 306.7 50.4 310.0 50.0 312.5 49.2 313.8 48.1 315.0 44.3 317.4 42.4 318.4zM78.6 261.4 76.7 261.3 74.1 260.5 72.2 259.5 70.9 258.1 70.1 256.8 69.7 254.9 70.0 252.9 70.9 251.0 72.4 249.0 74.1 247.7 76.1 246.8 78.6 246.0 81.1 245.7 83.1 245.8 85.6 246.4 87.5 247.3 88.8 248.4 89.6 250.3 89.5 252.3 89.1 253.6 88.5 254.9 86.4 257.5 84.3 259.2 81.1 260.8 78.6 261.4zM41.1 318.4 39.2 318.7 37.3 318.5 29.6 316.6 27.7 316.0 25.8 315.1 24.5 314.3 23.3 313.1 21.9 311.2 21.0 309.3 20.5 307.4 20.5 306.1 20.9 304.1 21.6 302.8 22.6 301.5 24.5 299.6 26.5 298.2 28.4 297.3 34.1 296.4 36.0 296.4 37.3 296.7 39.2 297.7 46.4 302.2 48.1 303.5 49.3 305.4 49.8 307.4 49.9 310.6 49.4 312.5 48.5 313.8 47.0 315.1 43.6 317.4 41.1 318.4zM80.5 260.7 78.6 261.1 76.7 261.0 74.1 260.2 72.2 259.0 71.0 257.5 70.4 256.2 70.1 254.2 70.6 252.3 71.7 250.3 72.9 249.0 74.7 247.7 76.7 246.8 79.2 246.2 81.1 246.0 83.1 246.1 85.6 246.8 87.5 247.7 88.7 249.0 89.2 251.0 89.0 252.9 87.7 255.5 85.6 257.9 83.1 259.6 80.5 260.7zM41.7 317.9 40.4 318.3 38.5 318.4 34.1 317.6 27.7 315.7 25.8 314.8 24.5 313.8 23.2 312.5 22.3 311.2 21.3 309.3 20.8 307.4 20.9 305.4 21.3 304.1 22.0 302.8 23.0 301.5 25.2 299.4 27.7 297.9 30.3 297.3 35.4 296.7 36.6 296.9 38.5 297.8 45.7 302.2 47.4 303.5 48.5 304.8 49.2 306.7 49.4 309.3 49.1 311.9 48.4 313.2 47.1 314.5 43.6 317.0 41.7 317.9zM79.2 260.8 77.3 260.8 75.4 260.3 73.4 259.4 71.9 258.1 71.0 256.8 70.5 254.9 70.6 253.6 71.3 251.6 72.6 249.7 74.1 248.4 76.1 247.4 78.0 246.7 80.5 246.3 82.4 246.3 84.3 246.7 86.2 247.4 87.6 248.4 88.2 249.0 88.7 250.3 88.8 252.3 88.1 254.2 86.2 256.8 84.3 258.5 81.8 260.0 79.2 260.8zM41.1 317.8 39.8 318.1 37.9 318.1 35.4 317.6 32.2 316.8 27.1 315.1 25.2 314.0 24.2 313.2 23.0 311.9 21.9 310.0 21.3 308.0 21.1 306.7 21.2 305.4 21.6 304.1 22.3 302.8 23.4 301.5 25.8 299.3 27.7 298.2 30.3 297.6 35.4 297.0 36.6 297.2 38.5 298.1 46.8 303.5 47.9 304.8 48.7 306.7 49.0 309.3 48.6 311.9 47.8 313.2 46.5 314.5 43.0 317.0 41.1 317.8zM80.5 260.2 78.6 260.6 76.7 260.4 74.8 259.8 73.1 258.8 71.8 257.5 71.1 256.2 70.9 254.9 71.1 252.9 72.0 251.0 72.9 249.9 74.1 248.7 76.1 247.7 78.6 246.8 80.5 246.6 82.4 246.6 84.3 247.0 86.2 247.8 87.7 249.0 88.1 249.8 88.5 251.0 88.3 252.9 87.7 254.2 86.9 255.5 85.2 257.5 83.1 259.0 80.5 260.2zM39.8 317.8 37.9 317.8 35.4 317.4 28.4 315.3 25.4 313.8 23.4 311.9 22.5 310.6 21.7 308.7 21.4 306.7 21.5 305.4 21.9 304.1 22.6 302.8 25.2 300.1 27.1 298.8 29.0 298.1 34.1 297.4 36.0 297.4 37.3 297.8 38.5 298.5 45.4 302.8 46.9 304.1 47.8 305.4 48.4 307.4 48.5 310.0 48.1 311.9 46.6 313.8 43.6 316.2 41.7 317.3 39.8 317.8zM79.9 260.1 78.0 260.3 76.1 260.0 74.1 259.1 72.9 258.1 71.8 256.8 71.3 255.5 71.2 254.2 71.6 252.3 72.3 251.0 73.5 249.6 74.8 248.7 76.7 247.7 79.2 247.0 81.1 246.8 83.1 247.0 85.0 247.5 86.6 248.4 87.7 249.7 88.1 251.6 87.7 253.6 86.6 255.5 84.8 257.5 82.4 259.1 79.9 260.1zM41.1 317.2 39.8 317.5 37.9 317.6 34.1 316.9 27.7 314.8 25.0 313.2 23.7 311.9 22.9 310.6 22.2 309.3 21.7 307.4 21.7 306.1 22.0 304.8 22.6 303.5 23.5 302.2 25.8 300.0 27.1 299.1 28.4 298.6 30.9 298.1 35.4 297.7 36.6 297.9 37.9 298.5 45.7 303.5 47.0 304.8 47.9 306.7 48.1 309.3 47.8 311.2 47.2 312.5 46.0 313.8 43.0 316.3 41.1 317.2zM78.6 260.1 77.3 260.0 75.4 259.4 74.1 258.7 72.7 257.5 71.9 256.2 71.6 254.9 71.7 252.9 72.3 251.6 73.2 250.3 74.7 249.0 76.1 248.3 78.0 247.6 79.9 247.2 81.8 247.1 83.7 247.4 85.6 248.1 86.9 249.2 87.5 250.2 87.7 251.0 87.7 252.3 87.0 254.2 85.6 256.3 83.5 258.1 81.1 259.5 78.6 260.1zM40.4 317.1 39.2 317.3 37.3 317.3 32.8 316.3 27.1 314.2 25.8 313.5 24.6 312.5 23.6 311.2 22.8 310.0 22.1 308.0 22.0 306.7 22.1 305.4 22.5 304.1 23.9 302.1 26.5 299.8 28.4 298.9 30.9 298.3 35.4 298.0 36.6 298.2 38.2 298.9 44.3 302.9 45.9 304.1 46.9 305.4 47.6 307.4 47.8 309.3 47.4 311.2 46.7 312.5 44.8 314.5 42.4 316.3 40.4 317.1zM80.5 259.4 78.6 259.8 77.3 259.7 75.4 259.1 73.8 258.1 72.6 256.8 72.0 255.5 71.9 254.2 72.1 252.9 72.6 251.6 73.6 250.3 74.8 249.3 76.1 248.6 78.0 247.9 79.9 247.4 81.8 247.4 83.7 247.7 85.6 248.5 86.8 249.7 87.4 251.0 87.2 252.9 86.3 254.9 84.7 256.8 82.4 258.5 80.5 259.4zM39.2 317.1 37.3 317.0 35.4 316.7 29.6 315.0 26.5 313.6 24.4 311.9 23.5 310.6 22.8 309.3 22.3 307.4 22.3 306.1 22.5 304.8 23.2 303.5 24.2 302.2 25.8 300.6 27.7 299.4 29.6 298.8 34.1 298.3 36.0 298.4 37.3 298.8 38.5 299.5 44.6 303.5 46.0 304.8 46.9 306.1 47.3 308.0 47.3 310.0 46.6 311.9 45.0 313.8 42.7 315.8 41.1 316.7 39.2 317.1zM79.2 259.5 78.0 259.5 76.1 259.1 74.8 258.4 73.5 257.4 72.6 256.2 72.2 254.9 72.2 253.6 72.6 252.3 73.4 251.0 74.7 249.7 76.1 248.9 78.0 248.1 79.9 247.7 81.8 247.6 83.1 247.8 84.8 248.4 86.4 249.7 87.0 251.0 87.0 252.3 86.3 254.2 85.0 256.1 83.5 257.5 81.1 258.9 79.2 259.5zM40.4 316.6 37.9 316.9 34.1 316.2 27.7 314.0 26.5 313.3 25.2 312.4 24.2 311.2 23.4 310.0 22.7 308.0 22.5 306.7 22.7 305.4 23.1 304.1 24.5 302.2 26.5 300.5 28.4 299.4 30.9 298.8 35.4 298.6 36.6 298.9 37.9 299.5 44.9 304.1 46.1 305.4 46.9 307.4 47.0 309.3 46.5 311.2 45.8 312.5 43.9 314.5 42.2 315.8 40.4 316.6zM80.5 258.9 79.2 259.2 78.0 259.3 76.1 258.8 74.8 258.1 73.4 256.8 72.7 255.5 72.5 254.2 72.7 252.9 73.3 251.6 74.1 250.6 76.4 249.0 78.0 248.4 79.9 248.0 81.8 247.9 83.1 248.1 85.0 248.8 86.0 249.7 86.6 251.0 86.5 252.9 85.6 254.8 84.3 256.3 82.4 257.9 80.5 258.9zM39.8 316.5 37.3 316.6 33.5 315.8 27.7 313.7 26.5 313.0 25.2 312.0 24.1 310.6 23.4 309.3 23.0 308.0 22.8 306.7 22.9 305.4 23.4 304.1 24.9 302.2 27.1 300.3 29.0 299.5 32.2 299.0 35.4 298.9 36.6 299.2 37.9 299.8 43.6 303.6 45.1 304.8 46.1 306.1 46.6 308.0 46.6 310.0 46.2 311.2 44.8 313.2 43.0 314.9 41.1 316.1 39.8 316.5zM79.9 258.9 78.6 259.0 77.3 258.9 76.1 258.5 74.5 257.5 73.5 256.4 73.1 255.5 72.8 254.2 73.0 252.9 73.6 251.6 74.8 250.4 77.1 249.0 80.5 248.2 82.4 248.3 83.7 248.6 85.0 249.2 86.0 250.3 86.3 251.6 86.1 252.9 85.1 254.9 83.4 256.8 81.6 258.1 79.9 258.9zM41.1 315.8 39.8 316.3 38.5 316.4 35.4 316.1 29.0 314.0 26.2 312.5 25.2 311.6 24.4 310.6 23.7 309.3 23.2 308.0 23.1 306.7 23.2 305.4 24.1 303.5 25.9 301.5 28.4 300.0 30.9 299.3 34.7 299.1 36.0 299.3 37.3 299.7 43.9 304.1 45.3 305.4 46.0 306.7 46.3 308.0 46.2 310.0 45.4 311.9 44.4 313.2 43.0 314.5 41.1 315.8zM78.6 258.8 77.3 258.6 76.1 258.2 74.1 256.7 73.5 255.7 73.2 254.9 73.2 253.6 73.6 252.3 74.1 251.5 75.3 250.3 78.0 249.0 79.9 248.6 81.8 248.5 83.1 248.7 84.3 249.2 85.5 250.3 85.9 251.6 85.7 252.9 85.1 254.2 83.6 256.2 82.1 257.5 80.5 258.4 78.6 258.8zM40.4 315.8 39.2 316.1 37.9 316.2 34.7 315.7 28.4 313.4 25.8 311.9 24.3 310.0 23.7 308.7 23.4 307.4 23.4 306.1 23.7 304.8 24.9 302.8 27.1 300.9 29.0 300.0 32.2 299.4 35.4 299.4 37.6 300.2 44.2 304.8 45.3 306.1 45.8 307.4 46.0 309.3 45.7 310.6 45.1 311.9 43.6 313.6 41.8 315.1 40.4 315.8zM79.9 258.3 78.6 258.5 77.3 258.4 76.1 257.8 74.8 256.9 74.1 256.2 73.6 254.9 73.5 253.9 73.7 252.9 74.1 252.0 75.0 251.0 77.2 249.7 79.2 249.0 80.5 248.8 81.8 248.8 83.1 249.0 84.3 249.6 85.0 250.3 85.5 251.6 85.3 252.9 84.3 254.8 83.2 256.2 81.6 257.5 79.9 258.3zM39.2 315.9 36.6 315.9 33.4 315.1 27.7 312.9 26.5 312.1 25.5 311.2 24.2 309.3 23.8 308.0 23.6 306.7 24.0 304.8 24.7 303.5 25.8 302.3 27.7 300.8 29.6 300.1 32.8 299.6 35.4 299.7 36.6 300.1 37.9 300.8 44.3 305.2 45.3 306.7 45.6 308.0 45.5 310.0 45.1 311.2 44.2 312.5 42.4 314.4 41.1 315.3 39.2 315.9zM79.2 258.2 78.0 258.2 76.7 257.8 75.4 257.1 74.6 256.2 74.1 255.5 73.9 254.2 74.1 252.9 74.4 252.3 74.8 251.6 76.1 250.6 78.6 249.6 81.1 249.2 82.4 249.3 83.7 249.7 84.5 250.3 85.0 251.2 85.0 252.3 84.6 253.6 83.3 255.5 82.0 256.8 80.5 257.7 79.2 258.2zM40.4 315.3 39.2 315.7 37.9 315.8 34.7 315.3 29.0 313.2 26.5 311.8 24.9 310.0 24.2 308.7 23.9 307.4 24.1 305.4 25.1 303.5 27.1 301.5 29.0 300.5 31.5 300.0 34.7 299.9 36.0 300.1 37.3 300.7 43.3 304.8 44.3 305.7 44.9 306.7 45.3 308.0 45.2 310.0 44.7 311.2 43.6 312.8 41.8 314.5 40.4 315.3zM79.9 257.7 78.0 257.9 76.7 257.5 75.6 256.8 74.8 255.9 74.3 254.9 74.2 254.2 74.5 252.9 75.4 251.6 77.5 250.3 80.5 249.6 81.8 249.6 83.1 249.9 83.8 250.3 84.4 251.0 84.5 252.3 84.3 253.1 83.7 254.3 82.2 256.2 81.1 257.0 79.9 257.7zM39.8 315.3 37.3 315.5 34.7 315.1 29.0 312.9 26.5 311.4 25.2 310.0 24.5 308.7 24.2 307.4 24.3 305.4 25.4 303.5 27.1 301.8 29.0 300.8 31.5 300.2 34.7 300.1 36.0 300.4 37.3 301.0 43.6 305.4 44.6 306.7 45.0 308.0 45.0 309.3 44.7 310.6 44.0 311.9 43.0 313.2 41.4 314.5 39.8 315.3zM79.2 257.5 77.3 257.4 76.2 256.8 75.5 256.2 74.7 254.9 74.7 253.6 74.9 252.9 76.1 251.6 78.0 250.6 81.1 250.0 82.9 250.3 83.7 251.0 83.9 251.6 84.0 252.3 83.5 253.6 82.7 254.9 81.6 256.2 80.5 257.0 79.2 257.5zM39.2 315.2 36.6 315.3 34.1 314.7 28.8 312.5 26.5 311.1 25.1 309.3 24.5 307.4 24.6 305.4 25.8 303.4 27.7 301.7 29.6 300.8 32.2 300.4 34.7 300.4 36.0 300.7 37.3 301.4 43.1 305.4 44.2 306.7 44.7 308.0 44.7 309.3 44.4 310.6 43.7 311.9 42.4 313.4 40.9 314.5 39.2 315.2zM79.9 256.9 78.6 257.2 78.0 257.1 77.0 256.8 76.1 256.2 75.2 254.9 75.1 254.2 75.4 252.9 76.7 251.7 78.5 251.0 81.1 250.6 82.4 250.9 83.2 251.6 83.2 252.3 83.1 253.1 81.6 255.5 79.9 256.9zM39.8 314.7 38.5 315.0 37.3 315.1 34.7 314.7 29.4 312.5 27.1 311.2 26.3 310.6 25.4 309.3 24.8 307.4 25.0 305.4 26.1 303.5 27.7 302.0 29.6 301.1 32.2 300.6 34.7 300.7 36.0 301.0 37.0 301.5 42.6 305.4 43.6 306.4 44.2 307.4 44.4 308.7 44.3 310.0 43.8 311.2 42.9 312.5 41.5 313.8 39.8 314.7zM79.9 256.3 78.6 256.7 78.0 256.7 76.7 256.1 76.1 255.5 75.8 254.9 75.8 253.6 76.1 252.9 76.8 252.3 78.6 251.6 80.5 251.5 81.8 251.8 82.1 252.3 81.9 253.6 80.8 255.5 79.9 256.3zM39.2 314.7 37.3 314.9 34.7 314.4 29.0 312.1 27.1 310.9 25.7 309.3 25.1 307.4 25.3 305.4 26.4 303.5 27.9 302.2 29.6 301.3 32.2 300.9 34.7 301.0 36.6 301.7 42.9 306.1 43.6 307.0 44.0 308.0 44.1 309.3 43.8 310.6 43.1 311.9 41.9 313.2 40.4 314.2 39.2 314.7zM79.2 255.9 78.6 256.1 78.0 256.1 76.9 255.5 76.5 254.9 76.4 254.2 76.7 253.4 77.3 252.9 78.0 252.8 79.2 252.9 79.9 253.2 80.2 253.6 80.4 254.2 79.9 255.4 79.2 255.9zM38.5 314.6 36.6 314.6 34.1 314.0 29.2 311.9 27.1 310.5 26.5 309.9 25.7 308.7 25.4 306.7 25.8 304.9 26.8 303.5 28.4 302.2 30.3 301.4 32.8 301.1 34.7 301.3 36.6 302.0 42.4 306.1 43.1 306.7 43.7 308.0 43.8 309.3 43.5 310.6 42.7 311.9 41.5 313.2 39.8 314.2 38.5 314.6zM39.8 313.9 38.5 314.3 37.3 314.4 34.7 314.0 29.9 311.9 27.7 310.7 26.4 309.3 25.7 307.4 25.8 305.8 26.7 304.1 27.9 302.8 29.6 301.9 31.5 301.4 34.1 301.4 35.4 301.7 36.3 302.2 41.9 306.1 43.0 307.2 43.4 308.0 43.4 310.0 42.4 312.0 41.1 313.2 39.8 313.9zM39.2 313.9 37.3 314.1 34.7 313.7 30.5 311.9 27.7 310.3 26.5 308.7 26.1 307.4 26.3 305.4 27.0 304.1 28.4 302.9 29.6 302.2 31.5 301.7 34.1 301.7 36.0 302.4 41.7 306.3 42.4 306.9 43.0 308.0 43.2 309.3 43.0 310.3 42.5 311.2 41.5 312.5 40.4 313.3 39.2 313.9zM37.9 313.9 36.0 313.8 34.0 313.2 29.9 311.2 27.7 309.8 26.9 308.7 26.4 306.7 26.7 305.4 27.7 303.8 29.0 302.8 30.3 302.3 32.2 302.0 34.1 302.0 36.0 302.7 41.7 306.7 42.4 307.4 42.8 308.7 42.8 310.0 42.4 311.0 41.7 311.9 40.4 313.0 39.2 313.6 37.9 313.9zM39.2 313.3 37.3 313.6 34.8 313.2 30.6 311.2 28.4 310.0 27.3 308.7 26.8 307.4 26.9 306.1 27.7 304.4 29.0 303.2 30.3 302.6 32.2 302.3 34.1 302.4 36.0 303.1 41.2 306.7 42.3 308.0 42.5 308.7 42.5 310.0 41.9 311.2 41.4 311.9 40.4 312.7 39.2 313.3zM38.5 313.2 36.6 313.3 34.1 312.6 30.1 310.6 28.4 309.4 27.5 308.0 27.2 306.7 27.5 305.4 28.4 304.2 29.6 303.2 30.9 302.8 32.8 302.6 34.1 302.7 36.0 303.5 41.1 307.0 41.7 307.7 42.1 308.7 42.2 309.3 41.9 310.6 41.1 311.8 40.4 312.3 38.5 313.2zM39.2 312.7 37.3 313.0 35.4 312.8 33.2 311.9 29.6 309.9 28.3 308.7 27.8 307.4 27.8 306.1 28.4 304.8 29.0 304.1 30.3 303.4 31.5 303.0 33.5 303.0 35.4 303.6 40.4 307.0 41.1 307.5 41.7 308.5 41.8 310.0 41.1 311.3 40.4 312.0 39.2 312.7zM38.5 312.6 36.6 312.7 34.7 312.2 32.7 311.2 29.7 309.3 29.0 308.7 28.3 307.4 28.4 306.1 29.1 304.8 29.8 304.1 30.9 303.6 32.2 303.4 33.7 303.5 35.4 304.1 40.4 307.4 41.4 308.7 41.4 310.0 41.2 310.6 40.4 311.5 39.8 312.0 38.5 312.6zM39.2 312.0 37.3 312.4 35.4 312.1 33.4 311.2 31.4 310.0 29.8 308.7 29.3 308.0 29.0 306.7 29.4 305.4 29.9 304.8 31.0 304.1 32.2 303.9 33.5 303.9 35.4 304.6 39.8 307.4 40.9 308.7 41.0 310.0 40.3 311.2 39.2 312.0zM37.9 312.0 36.1 311.9 34.7 311.4 33.2 310.6 31.5 309.3 30.3 308.0 30.0 307.4 30.1 306.1 30.5 305.4 31.4 304.8 32.2 304.6 34.1 304.7 36.0 305.5 39.8 307.9 40.5 308.7 40.6 309.3 40.4 310.3 39.7 311.2 37.9 312.0zM38.5 311.4 37.3 311.6 36.0 311.4 34.7 310.9 33.2 310.0 31.9 308.7 31.5 308.0 31.5 306.7 31.9 306.1 32.8 305.5 33.5 305.4 34.7 305.6 37.3 306.8 39.3 308.0 39.9 308.7 40.1 309.3 40.1 310.0 39.7 310.6 38.5 311.4zM38.5 310.8 37.9 311.1 36.6 311.1 34.7 310.3 33.5 309.3 33.1 308.7 32.9 308.0 33.1 307.4 33.7 306.7 34.7 306.5 36.0 306.8 38.5 308.0 39.2 308.7 39.5 309.3 39.4 310.0 38.5 310.8zM37.9 310.3 36.6 310.4 35.4 310.0 34.7 309.3 34.4 308.7 34.5 308.0 35.4 307.6 36.0 307.6 37.2 308.0 37.9 308.4 38.7 309.3 38.5 310.0 37.9 310.3z"/>
</g>
<line x1="57.50" y1="228.30" x2="57.50" y2="314.50" stroke="#505050" stroke-width="0.8"/>
<line x1="23.90" y1="277.50" x2="108.50" y2="277.50" stroke="#505050" stroke-width="0.8"/>
<rect x="23.50" y="228.50" width="85.00" height="86.00" fill="none" stroke="#444" stroke-width="1"/>
<line x1="23.50" y1="228.30" x2="23.50" y2="314.50" stroke="#111" stroke-width="1.2"/>
<line x1="23.90" y1="314.50" x2="108.50" y2="314.50" stroke="#111" stroke-width="1.1"/>
<line x1="23.90" y1="314.50" x2="23.90" y2="316.50" stroke="#111" stroke-width="0.5"/>
<line x1="30.27" y1="314.50" x2="30.27" y2="315.70" stroke="#111" stroke-width="0.5"/>
<line x1="33.99" y1="314.50" x2="33.99" y2="315.70" stroke="#111" stroke-width="0.5"/>
<line x1="36.63" y1="314.50" x2="36.63" y2="315.70" stroke="#111" stroke-width="0.5"/>
<line x1="38.68" y1="314.50" x2="38.68" y2="315.70" stroke="#111" stroke-width="0.5"/>
<line x1="40.36" y1="314.50" x2="40.36" y2="315.70" stroke="#111" stroke-width="0.5"/>
<line x1="41.77" y1="314.50" x2="41.77" y2="315.70" stroke="#111" stroke-width="0.5"/>
<line x1="43.00" y1="314.50" x2="43.00" y2="315.70" stroke="#111" stroke-width="0.5"/>
<line x1="44.08" y1="314.50" x2="44.08" y2="315.70" stroke="#111" stroke-width="0.5"/>
<line x1="45.05" y1="314.50" x2="45.05" y2="316.50" stroke="#111" stroke-width="0.5"/>
<line x1="51.42" y1="314.50" x2="51.42" y2="315.70" stroke="#111" stroke-width="0.5"/>
<line x1="55.14" y1="314.50" x2="55.14" y2="315.70" stroke="#111" stroke-width="0.5"/>
<line x1="57.78" y1="314.50" x2="57.78" y2="315.70" stroke="#111" stroke-width="0.5"/>
<line x1="59.83" y1="314.50" x2="59.83" y2="315.70" stroke="#111" stroke-width="0.5"/>
<line x1="61.51" y1="314.50" x2="61.51" y2="315.70" stroke="#111" stroke-width="0.5"/>
<line x1="62.92" y1="314.50" x2="62.92" y2="315.70" stroke="#111" stroke-width="0.5"/>
<line x1="64.15" y1="314.50" x2="64.15" y2="315.70" stroke="#111" stroke-width="0.5"/>
<line x1="65.23" y1="314.50" x2="65.23" y2="315.70" stroke="#111" stroke-width="0.5"/>
<line x1="66.20" y1="314.50" x2="66.20" y2="316.50" stroke="#111" stroke-width="0.5"/>
<line x1="72.57" y1="314.50" x2="72.57" y2="315.70" stroke="#111" stroke-width="0.5"/>
<line x1="76.29" y1="314.50" x2="76.29" y2="315.70" stroke="#111" stroke-width="0.5"/>
<line x1="78.93" y1="314.50" x2="78.93" y2="315.70" stroke="#111" stroke-width="0.5"/>
<line x1="80.98" y1="314.50" x2="80.98" y2="315.70" stroke="#111" stroke-width="0.5"/>
<line x1="82.66" y1="314.50" x2="82.66" y2="315.70" stroke="#111" stroke-width="0.5"/>
<line x1="84.07" y1="314.50" x2="84.07" y2="315.70" stroke="#111" stroke-width="0.5"/>
<line x1="85.30" y1="314.50" x2="85.30" y2="315.70" stroke="#111" stroke-width="0.5"/>
<line x1="86.38" y1="314.50" x2="86.38" y2="315.70" stroke="#111" stroke-width="0.5"/>
<line x1="87.35" y1="314.50" x2="87.35" y2="316.50" stroke="#111" stroke-width="0.5"/>
<line x1="93.72" y1="314.50" x2="93.72" y2="315.70" stroke="#111" stroke-width="0.5"/>
<line x1="97.44" y1="314.50" x2="97.44" y2="315.70" stroke="#111" stroke-width="0.5"/>
<line x1="100.08" y1="314.50" x2="100.08" y2="315.70" stroke="#111" stroke-width="0.5"/>
<line x1="102.13" y1="314.50" x2="102.13" y2="315.70" stroke="#111" stroke-width="0.5"/>
<line x1="103.81" y1="314.50" x2="103.81" y2="315.70" stroke="#111" stroke-width="0.5"/>
<line x1="105.22" y1="314.50" x2="105.22" y2="315.70" stroke="#111" stroke-width="0.5"/>
<line x1="106.45" y1="314.50" x2="106.45" y2="315.70" stroke="#111" stroke-width="0.5"/>
<line x1="107.53" y1="314.50" x2="107.53" y2="315.70" stroke="#111" stroke-width="0.5"/>
<line x1="108.50" y1="314.50" x2="108.50" y2="316.50" stroke="#111" stroke-width="0.5"/>
<line x1="21.90" y1="314.50" x2="23.90" y2="314.50" stroke="#111" stroke-width="0.5"/>
<line x1="22.70" y1="308.01" x2="23.90" y2="308.01" stroke="#111" stroke-width="0.5"/>
<line x1="22.70" y1="304.22" x2="23.90" y2="304.22" stroke="#111" stroke-width="0.5"/>
<line x1="22.70" y1="301.53" x2="23.90" y2="301.53" stroke="#111" stroke-width="0.5"/>
<line x1="22.70" y1="299.44" x2="23.90" y2="299.44" stroke="#111" stroke-width="0.5"/>
<line x1="22.70" y1="297.73" x2="23.90" y2="297.73" stroke="#111" stroke-width="0.5"/>
<line x1="22.70" y1="296.29" x2="23.90" y2="296.29" stroke="#111" stroke-width="0.5"/>
<line x1="22.70" y1="295.04" x2="23.90" y2="295.04" stroke="#111" stroke-width="0.5"/>
<line x1="22.70" y1="293.94" x2="23.90" y2="293.94" stroke="#111" stroke-width="0.5"/>
<line x1="21.90" y1="292.95" x2="23.90" y2="292.95" stroke="#111" stroke-width="0.5"/>
<line x1="22.70" y1="286.46" x2="23.90" y2="286.46" stroke="#111" stroke-width="0.5"/>
<line x1="22.70" y1="282.67" x2="23.90" y2="282.67" stroke="#111" stroke-width="0.5"/>
<line x1="22.70" y1="279.98" x2="23.90" y2="279.98" stroke="#111" stroke-width="0.5"/>
<line x1="22.70" y1="277.89" x2="23.90" y2="277.89" stroke="#111" stroke-width="0.5"/>
<line x1="22.70" y1="276.18" x2="23.90" y2="276.18" stroke="#111" stroke-width="0.5"/>
<line x1="22.70" y1="274.74" x2="23.90" y2="274.74" stroke="#111" stroke-width="0.5"/>
<line x1="22.70" y1="273.49" x2="23.90" y2="273.49" stroke="#111" stroke-width="0.5"/>
<line x1="22.70" y1="272.39" x2="23.90" y2="272.39" stroke="#111" stroke-width="0.5"/>
<line x1="21.90" y1="271.40" x2="23.90" y2="271.40" stroke="#111" stroke-width="0.5"/>
<line x1="22.70" y1="264.91" x2="23.90" y2="264.91" stroke="#111" stroke-width="0.5"/>
<line x1="22.70" y1="261.12" x2="23.90" y2="261.12" stroke="#111" stroke-width="0.5"/>
<line x1="22.70" y1="258.43" x2="23.90" y2="258.43" stroke="#111" stroke-width="0.5"/>
<line x1="22.70" y1="256.34" x2="23.90" y2="256.34" stroke="#111" stroke-width="0.5"/>
<line x1="22.70" y1="254.63" x2="23.90" y2="254.63" stroke="#111" stroke-width="0.5"/>
<line x1="22.70" y1="253.19" x2="23.90" y2="253.19" stroke="#111" stroke-width="0.5"/>
<line x1="22.70" y1="251.94" x2="23.90" y2="251.94" stroke="#111" stroke-width="0.5"/>
<line x1="22.70" y1="250.84" x2="23.90" y2="250.84" stroke="#111" stroke-width="0.5"/>
<line x1="21.90" y1="249.85" x2="23.90" y2="249.85" stroke="#111" stroke-width="0.5"/>
<line x1="22.70" y1="243.36" x2="23.90" y2="243.36" stroke="#111" stroke-width="0.5"/>
<line x1="22.70" y1="239.57" x2="23.90" y2="239.57" stroke="#111" stroke-width="0.5"/>
<line x1="22.70" y1="236.88" x2="23.90" y2="236.88" stroke="#111" stroke-width="0.5"/>
<line x1="22.70" y1="234.79" x2="23.90" y2="234.79" stroke="#111" stroke-width="0.5"/>
<line x1="22.70" y1="233.08" x2="23.90" y2="233.08" stroke="#111" stroke-width="0.5"/>
<line x1="22.70" y1="231.64" x2="23.90" y2="231.64" stroke="#111" stroke-width="0.5"/>
<line x1="22.70" y1="230.39" x2="23.90" y2="230.39" stroke="#111" stroke-width="0.5"/>
<line x1="22.70" y1="229.29" x2="23.90" y2="229.29" stroke="#111" stroke-width="0.5"/>
<line x1="21.90" y1="228.30" x2="23.90" y2="228.30" stroke="#111" stroke-width="0.5"/>
<text x="23.90" y="321.80" font-family='"Liberation Serif", serif' font-size="3.6" font-weight="bold" text-anchor="middle">1</text>
<text x="19.50" y="315.80" font-family='"Liberation Serif", serif' font-size="3.6" font-weight="bold" text-anchor="end">1</text>
<text x="45.05" y="321.80" font-family='"Liberation Serif", serif' font-size="3.6" font-weight="bold" text-anchor="middle">10</text>
<text x="19.50" y="294.25" font-family='"Liberation Serif", serif' font-size="3.6" font-weight="bold" text-anchor="end">10</text>
<text x="66.20" y="321.80" font-family='"Liberation Serif", serif' font-size="3.6" font-weight="bold" text-anchor="middle">100</text>
<text x="19.50" y="272.70" font-family='"Liberation Serif", serif' font-size="3.6" font-weight="bold" text-anchor="end">100</text>
<text x="87.35" y="321.80" font-family='"Liberation Serif", serif' font-size="3.6" font-weight="bold" text-anchor="middle">1000</text>
<text x="19.50" y="251.15" font-family='"Liberation Serif", serif' font-size="3.6" font-weight="bold" text-anchor="end">1000</text>
<text x="108.50" y="321.80" font-family='"Liberation Serif", serif' font-size="3.6" font-weight="bold" text-anchor="middle">10000</text>
<text x="19.50" y="229.60" font-family='"Liberation Serif", serif' font-size="3.6" font-weight="bold" text-anchor="end">10000</text>
<text x="28.70" y="236.60" font-family='"Liberation Serif", serif' font-size="7.6" font-weight="normal" text-anchor="start">4</text>
<text x="105.00" y="236.20" font-family='"Liberation Serif", serif' font-size="7.6" font-weight="normal" text-anchor="end">29</text>
<rect x="24.80" y="304.80" width="10.60" height="9.00" fill="#fff" stroke="#222" stroke-width="0.5"/>
<text x="30.80" y="311.80" font-family='"Liberation Serif", serif' font-size="7.6" font-weight="normal" text-anchor="middle">65</text>
<text x="104.80" y="311.60" font-family='"Liberation Serif", serif' font-size="7.6" font-weight="normal" text-anchor="end">0.25</text>
<g clip-path="url(#c4)" fill="none" stroke="#111" stroke-width="0.72" stroke-linejoin="round">
<path d="M125.6 274.6 126.5 271.2 127.1 264.8 128.0 262.2 129.2 260.3 132.5 256.4 135.9 251.9 137.4 250.4 139.3 248.9 142.0 247.4 144.6 246.4 147.2 245.9 149.8 245.8 155.7 246.4 160.3 247.2 162.9 248.3 164.7 249.9 166.1 252.5 167.1 256.4 168.1 264.1 168.2 268.6 167.8 272.5 167.0 276.4 166.0 279.0 164.2 282.6 163.7 284.8 163.8 287.4 165.2 294.5 165.4 297.7 165.4 300.9 163.4 314.5 162.8 317.1 161.9 319.7M185.2 263.5 183.2 263.8 180.6 263.8 178.7 263.4 176.7 262.4 175.7 261.5 175.0 260.3 174.8 259.0 175.3 257.0 176.7 254.4 178.7 251.9 180.6 250.0 182.6 248.6 184.6 247.8 186.5 247.5 189.1 247.6 191.1 248.2 193.1 249.3 193.8 249.9 194.7 251.2 195.2 253.1 195.1 254.4 194.8 255.7 194.1 257.0 193.2 258.3 191.1 260.3 187.8 262.5 185.2 263.5zM125.6 294.2 128.0 291.9 128.8 290.6 128.7 289.3 126.9 283.7 126.6 280.9 126.8 279.6 128.1 275.1 128.5 273.2 129.2 264.8 129.9 262.8 131.2 260.9 134.7 257.3 137.5 253.8 139.3 252.0 142.0 250.1 144.6 248.9 147.9 248.1 151.1 248.1 159.0 249.6 160.3 250.0 161.6 250.7 162.3 251.2 163.2 252.5 163.9 254.4 164.0 256.4 163.7 261.5 164.7 266.1 164.8 268.0 164.6 269.9 163.0 277.0 161.1 282.8 161.0 284.8 161.5 287.4 163.2 291.9 163.8 293.8 164.2 296.4 164.3 299.6 164.0 303.5 162.1 314.5 161.4 317.1 160.3 319.7M183.2 262.2 181.3 262.1 179.8 261.5 178.7 260.7 177.9 259.6 177.6 258.3 177.9 257.0 178.3 255.7 179.4 253.8 180.6 252.2 181.9 250.9 183.2 250.0 184.6 249.5 185.9 249.2 187.8 249.2 189.8 249.7 191.1 250.4 192.4 251.7 193.1 253.1 193.0 255.1 192.1 257.0 190.4 259.0 187.8 260.9 185.9 261.7 183.2 262.2zM130.4 319.7 128.2 318.8 125.6 317.2M125.6 295.2 128.8 292.8 133.2 290.6 134.1 290.0 134.4 289.3 134.1 288.0 133.0 285.4 130.5 280.9 130.1 279.0 130.7 266.1 131.2 264.1 132.4 262.2 136.6 258.3 140.6 253.5 142.6 252.0 145.2 250.7 147.9 250.0 151.1 250.2 153.8 250.8 156.6 251.9 159.0 253.1 159.7 253.8 160.0 254.4 160.2 255.7 158.8 260.9 158.4 266.1 158.1 267.4 157.3 268.6 156.4 269.4 153.8 269.8 153.1 270.1 152.2 271.2 151.7 273.2 151.8 273.8 152.4 275.0 153.1 275.1 155.7 273.5 156.4 273.5 157.0 273.9 157.7 274.8 158.2 276.4 158.4 277.7 157.7 282.2 157.8 284.1 158.8 286.7 161.8 291.9 162.6 293.8 163.1 296.4 163.4 299.0 163.2 302.2 161.3 313.2 160.1 317.1 158.6 319.7M185.2 260.3 183.2 260.4 181.9 260.0 181.3 259.6 180.6 258.8 180.3 257.7 180.6 255.7 181.2 254.4 182.1 253.1 183.9 251.5 185.9 250.8 187.2 250.8 188.5 251.1 189.8 251.9 190.8 253.1 191.1 254.4 190.8 255.7 190.1 257.0 188.5 258.7 187.1 259.6 185.2 260.3zM149.8 295.1 150.3 293.8 150.4 292.5 150.2 290.6 149.8 289.1 149.2 288.8 148.5 288.9 144.6 290.8 143.9 291.2 143.5 291.9 143.6 292.5 144.1 293.2 146.9 295.1 148.5 295.6 149.2 295.5 149.8 295.1zM132.2 319.7 128.2 318.2 125.6 316.5M141.3 286.7 140.0 286.2 139.3 285.5 137.6 282.8 134.1 279.3 133.0 277.7 132.4 275.7 132.2 272.5 132.1 268.0 132.5 265.4 133.1 264.1 134.1 262.8 138.4 259.6 139.3 258.5 141.7 255.1 143.3 253.7 144.6 252.9 146.5 252.1 148.5 251.8 150.5 252.1 152.8 253.1 153.8 253.9 154.8 255.1 155.2 257.0 154.8 259.6 153.7 262.2 152.5 263.5 150.2 265.4 148.9 267.4 147.9 271.3 146.2 279.6 144.6 284.3 143.3 286.0 142.0 286.7 141.3 286.7zM186.5 257.7 185.2 258.0 184.6 258.0 183.9 257.7 183.5 257.0 183.3 256.4 183.6 255.1 184.5 253.8 185.6 253.1 186.5 253.0 187.3 253.1 188.2 253.8 188.6 254.4 188.6 255.1 188.1 256.4 187.6 257.0 186.5 257.7zM125.6 295.9 128.2 294.0 130.8 292.7 133.4 292.0 136.7 291.7 138.7 292.0 140.0 292.4 142.0 293.3 147.2 296.4 148.5 296.9 149.8 297.1 150.5 296.9 151.1 296.4 151.5 295.8 153.1 291.6 154.4 289.7 155.1 289.2 156.4 288.8 157.0 288.9 158.3 289.7 160.3 291.8 161.7 294.5 162.4 297.7 162.5 301.6 162.0 304.8 159.7 315.1 158.3 317.9 157.3 319.0 156.3 319.7M133.9 319.7 130.8 318.8 128.8 318.0 126.9 316.9 125.6 315.9M146.5 261.7 145.2 261.7 144.3 260.9 143.9 259.6 144.1 257.7 144.8 256.4 145.9 255.5 147.2 255.0 148.5 255.1 149.5 255.7 150.0 256.4 150.3 257.7 150.1 259.0 149.2 260.3 148.5 260.8 146.5 261.7zM141.3 275.8 139.3 276.0 137.4 275.4 136.1 274.3 135.4 273.3 134.9 271.9 134.6 269.3 134.9 266.7 135.4 265.6 136.1 264.9 138.0 263.9 140.0 263.6 142.6 263.8 143.3 264.0 143.9 264.6 144.6 266.2 144.8 268.0 144.8 269.3 144.3 271.9 143.8 273.2 143.0 274.5 142.0 275.4 141.3 275.8zM125.6 296.7 128.2 294.8 130.8 293.6 134.1 292.9 136.7 292.9 139.3 293.4 141.3 294.1 147.7 297.7 149.2 298.3 150.5 298.6 151.1 298.5 151.8 298.3 152.4 297.7 154.4 294.4 155.7 292.9 157.0 292.4 158.3 292.8 159.0 293.3 159.9 294.5 160.8 296.4 161.2 298.3 161.4 300.9 161.0 304.2 159.0 312.6 158.1 315.1 156.8 317.1 155.1 318.3 151.8 319.7M136.2 319.7 130.2 317.9 127.5 316.6 125.6 315.1M125.6 297.4 128.2 295.4 130.8 294.2 134.1 293.6 136.7 293.6 139.3 294.1 141.3 294.9 143.9 296.2 148.6 299.0 150.5 299.7 151.8 299.9 152.5 299.6 153.4 299.0 155.7 296.3 156.4 295.8 157.0 295.6 157.7 295.6 158.3 295.9 159.0 296.6 159.8 298.3 160.2 300.3 160.2 302.2 159.8 304.8 157.4 313.2 156.4 315.1 155.1 316.6 153.1 318.0 149.7 319.7M138.1 319.7 130.2 317.4 127.5 316.0 125.6 314.4M125.6 298.0 127.5 296.4 130.2 295.0 132.8 294.2 135.4 294.0 138.0 294.4 141.3 295.4 143.9 296.8 148.5 299.7 150.5 300.6 151.8 301.0 153.1 301.0 153.8 300.7 156.4 298.7 157.0 298.5 157.7 298.7 158.0 299.0 158.5 299.6 158.9 300.9 158.9 302.9 158.5 304.8 156.1 313.2 154.9 315.1 152.9 317.1 150.5 318.6 148.0 319.7M139.9 319.7 132.1 317.6 130.2 316.9 127.5 315.5 125.6 313.8M125.6 299.1 126.9 297.7 128.2 296.7 129.5 296.0 131.5 295.2 133.4 294.8 135.4 294.8 137.4 295.0 139.3 295.4 141.3 296.2 143.3 297.2 149.8 301.5 154.3 304.2 154.9 304.8 155.2 305.4 155.4 308.0 155.3 310.0 154.9 311.9 154.1 313.8 153.2 315.1 151.8 316.5 149.8 317.9 147.9 318.8 145.9 319.3 143.9 319.5 142.0 319.3 131.5 316.8 129.5 315.9 128.2 315.2 126.9 314.2 125.6 312.8M125.6 299.9 126.9 298.4 128.2 297.3 129.5 296.5 131.5 295.8 133.4 295.4 135.4 295.3 137.4 295.5 139.3 296.0 141.3 296.8 143.9 298.3 152.0 304.2 153.5 306.1 154.0 307.4 154.2 309.3 154.0 311.3 153.3 313.2 152.6 314.5 151.4 315.8 149.8 317.0 147.9 318.1 145.9 318.6 144.6 318.8 141.3 318.5 131.5 316.2 129.5 315.4 128.2 314.5 126.6 313.2 125.6 311.9M125.6 300.7 126.9 299.0 128.2 297.9 130.2 296.7 131.5 296.2 133.4 295.8 135.4 295.8 137.4 296.0 139.3 296.5 141.3 297.3 143.9 298.8 150.9 304.2 152.0 305.4 152.8 306.7 153.3 308.7 153.3 310.0 153.0 311.9 152.5 313.2 151.7 314.5 150.5 315.8 149.2 316.8 147.9 317.4 145.9 318.0 143.9 318.2 141.3 318.0 134.7 316.7 130.8 315.5 128.9 314.5 127.5 313.5 125.6 311.0M125.6 301.5 126.3 300.3 127.5 298.9 128.8 297.8 130.8 296.8 132.8 296.3 134.7 296.1 136.7 296.2 138.7 296.7 140.6 297.4 143.3 298.9 147.0 301.6 150.0 304.2 151.2 305.4 152.0 306.7 152.6 308.7 152.7 310.0 152.4 311.9 151.8 313.2 151.0 314.5 149.8 315.6 148.5 316.5 147.2 317.1 145.9 317.5 143.9 317.8 140.6 317.5 134.1 316.2 131.5 315.4 129.5 314.5 127.8 313.2 126.6 311.9 125.6 310.2M125.6 302.4 126.3 300.9 127.3 299.6 128.7 298.3 130.2 297.5 132.1 296.8 134.1 296.5 136.1 296.5 138.0 296.8 140.0 297.5 142.6 298.8 145.9 301.2 149.4 304.2 150.5 305.4 151.4 306.7 152.0 308.7 152.1 310.0 152.0 311.3 151.6 312.6 150.8 313.8 149.7 315.1 148.5 316.0 146.5 316.9 145.2 317.2 143.3 317.3 141.3 317.2 134.7 316.0 132.8 315.5 130.8 314.8 128.8 313.6 127.6 312.6 126.6 311.3 125.6 309.3M125.6 303.4 126.3 301.6 127.5 299.8 128.8 298.6 130.8 297.5 132.8 296.9 134.7 296.7 136.7 296.9 138.7 297.3 140.6 298.1 143.3 299.7 146.6 302.2 149.2 304.6 150.4 306.1 151.1 307.4 151.5 308.7 151.6 310.6 151.3 311.9 150.7 313.2 149.7 314.5 148.5 315.5 147.2 316.2 145.2 316.8 142.0 316.9 134.1 315.6 132.1 315.0 130.2 314.1 128.8 313.2 127.5 311.9 126.2 310.0 125.6 308.3M125.6 305.3 125.8 303.5 126.6 301.6 128.1 299.6 129.5 298.5 130.8 297.8 132.8 297.2 134.7 297.0 137.4 297.3 140.0 298.1 142.6 299.6 146.1 302.2 148.9 304.8 150.3 306.7 150.9 308.0 151.2 310.0 151.0 311.3 150.2 313.2 149.2 314.4 147.9 315.4 145.9 316.3 143.9 316.6 142.0 316.5 134.7 315.4 132.8 314.9 130.8 314.1 129.5 313.4 128.2 312.2 126.9 310.6 126.2 309.3 125.8 308.0 125.6 306.4M145.9 315.9 144.6 316.2 142.6 316.2 135.4 315.3 133.4 314.8 131.5 314.2 128.9 312.6 127.7 311.3 126.9 310.0 126.3 308.7 125.9 306.7 125.9 304.8 126.1 303.5 127.0 301.6 127.9 300.3 129.5 298.8 131.5 297.9 133.4 297.4 136.1 297.4 138.7 297.9 140.6 298.7 142.6 299.9 145.6 302.2 147.7 304.2 149.4 306.1 150.4 308.0 150.7 310.0 150.4 311.9 149.2 313.8 147.9 315.0 145.9 315.9zM144.6 315.8 141.3 315.8 134.1 314.8 130.8 313.5 128.8 312.1 127.6 310.6 126.8 309.3 126.4 308.0 126.1 306.1 126.3 304.2 126.6 302.9 127.3 301.6 128.2 300.3 130.2 298.7 132.1 297.9 134.1 297.6 136.7 297.7 138.7 298.2 141.3 299.4 143.6 300.9 146.6 303.5 148.5 305.4 149.7 307.4 150.2 308.7 150.3 310.6 149.6 312.6 148.5 314.0 146.5 315.3 144.6 315.8zM145.9 315.2 144.6 315.5 142.6 315.6 135.4 314.8 132.1 313.9 129.5 312.4 128.4 311.3 127.5 310.0 126.7 308.0 126.4 306.7 126.4 304.8 126.7 303.5 127.2 302.2 128.0 300.9 129.5 299.5 131.5 298.4 133.4 297.9 135.4 297.8 137.4 298.1 139.3 298.7 142.0 300.0 143.9 301.5 146.9 304.2 148.6 306.1 149.4 307.4 149.9 309.3 149.8 311.3 149.2 312.6 147.9 314.1 145.9 315.2zM144.6 315.2 141.3 315.3 134.7 314.4 131.5 313.4 129.3 311.9 128.2 310.6 127.4 309.3 126.9 308.0 126.6 306.1 126.8 304.2 127.2 302.9 127.9 301.6 128.8 300.4 130.2 299.3 132.1 298.4 134.1 298.0 136.7 298.2 138.7 298.7 141.3 299.9 143.3 301.3 145.8 303.5 147.7 305.4 149.0 307.4 149.5 309.3 149.5 310.6 148.8 312.6 147.9 313.6 146.5 314.5 144.6 315.2zM145.9 314.5 144.6 314.9 142.6 315.1 136.7 314.5 132.8 313.7 130.2 312.3 129.0 311.3 128.0 310.0 127.4 308.7 126.9 306.7 126.9 304.8 127.2 303.5 127.8 302.2 128.6 300.9 130.1 299.6 131.5 298.9 133.4 298.3 135.4 298.2 137.4 298.5 139.3 299.2 141.3 300.2 143.3 301.6 147.3 305.4 148.6 307.4 149.1 308.7 149.2 310.6 148.8 311.9 147.8 313.2 145.9 314.5zM144.6 314.6 141.3 314.8 135.4 314.1 132.2 313.2 130.0 311.9 128.8 310.6 127.9 309.3 127.2 306.7 127.2 304.8 127.5 303.5 128.0 302.2 128.9 300.9 130.5 299.6 132.1 298.9 134.1 298.5 136.1 298.5 138.0 298.9 140.0 299.7 142.0 300.9 143.7 302.2 145.7 304.2 147.4 306.1 148.2 307.4 148.8 309.3 148.6 311.3 147.9 312.6 146.5 313.8 144.6 314.6zM143.3 314.5 138.7 314.4 134.1 313.6 131.5 312.6 129.7 311.3 128.6 310.0 127.9 308.7 127.3 306.1 127.7 303.5 128.3 302.2 129.3 300.9 130.8 299.7 132.8 298.9 134.7 298.6 136.7 298.8 138.7 299.3 140.6 300.3 142.6 301.6 144.8 303.5 146.6 305.4 147.9 307.4 148.5 309.3 148.4 310.6 148.0 311.9 146.9 313.2 145.2 314.1 143.3 314.5zM144.6 314.0 143.3 314.3 141.3 314.3 135.4 313.7 132.1 312.7 130.2 311.4 128.5 309.3 127.9 308.0 127.6 306.7 127.8 304.2 128.2 302.9 129.0 301.6 130.2 300.4 131.5 299.6 133.4 299.0 135.4 298.9 137.4 299.2 139.3 299.8 140.6 300.5 142.6 301.9 145.1 304.2 146.8 306.1 147.9 308.0 148.2 309.3 147.9 311.3 147.2 312.4 145.9 313.5 144.6 314.0zM143.9 313.9 140.6 314.1 135.4 313.5 132.8 312.8 130.3 311.3 128.7 309.3 128.2 308.0 127.9 306.7 127.8 305.4 128.0 304.2 128.5 302.9 129.3 301.6 130.7 300.3 132.1 299.5 133.4 299.2 135.4 299.1 137.4 299.4 139.3 300.1 140.9 300.9 142.7 302.2 144.8 304.2 146.4 306.1 147.5 308.0 147.8 309.3 147.7 310.6 147.2 311.9 145.9 313.1 143.9 313.9zM141.3 313.8 137.4 313.6 134.1 313.0 131.5 311.9 130.0 310.6 129.0 309.3 128.4 308.0 128.1 306.7 128.0 305.4 128.2 304.2 128.7 302.9 130.2 300.9 131.5 300.1 133.4 299.4 135.4 299.3 137.4 299.6 139.3 300.3 141.3 301.4 143.1 302.9 145.0 304.8 146.5 306.7 147.2 308.0 147.5 310.0 147.2 311.3 146.1 312.6 145.1 313.2 143.3 313.7 141.3 313.8zM143.9 313.3 140.6 313.6 136.1 313.2 133.3 312.6 131.0 311.3 129.3 309.3 128.6 308.0 128.3 306.7 128.3 305.4 128.5 304.2 129.5 302.0 130.5 300.9 131.5 300.3 132.8 299.8 134.7 299.5 136.7 299.6 138.7 300.2 140.2 300.9 142.0 302.1 143.5 303.5 145.3 305.4 146.6 307.4 147.1 308.7 147.2 310.0 146.5 311.6 145.6 312.6 143.9 313.3zM142.6 313.3 138.7 313.3 134.7 312.8 132.4 311.9 130.6 310.6 129.2 308.7 128.7 307.4 128.5 306.1 128.6 304.8 128.9 303.5 130.1 301.6 131.5 300.5 132.8 300.0 134.1 299.7 136.1 299.7 138.0 300.2 139.8 300.9 141.3 301.9 143.2 303.5 145.0 305.4 146.3 307.4 146.7 308.7 146.8 310.0 146.4 311.3 145.2 312.4 143.9 313.0 142.6 313.3zM143.9 312.7 141.3 313.2 136.7 312.9 133.4 312.2 131.5 311.1 129.8 309.3 129.1 308.0 128.8 306.7 128.7 305.4 128.9 304.2 129.9 302.2 130.8 301.3 132.1 300.4 133.4 300.0 134.7 299.9 136.1 299.9 138.0 300.4 140.0 301.3 141.3 302.1 142.9 303.5 144.7 305.4 146.0 307.4 146.4 308.7 146.5 310.0 146.0 311.3 145.2 312.0 143.9 312.7zM143.3 312.6 140.0 313.0 136.1 312.6 133.4 311.9 131.5 310.8 130.6 310.0 129.7 308.7 129.0 306.7 129.0 305.4 129.2 304.2 130.2 302.2 130.8 301.5 132.1 300.7 133.4 300.2 135.4 300.1 137.0 300.3 138.7 300.8 141.3 302.4 142.6 303.5 144.4 305.4 145.6 307.4 146.1 308.7 146.1 310.0 145.5 311.3 144.6 312.1 143.3 312.6zM142.0 312.6 138.7 312.7 135.4 312.3 132.8 311.4 130.9 310.0 129.6 308.0 129.2 306.1 129.5 304.0 130.0 302.9 130.8 301.9 132.1 300.9 133.4 300.4 136.1 300.3 138.0 300.8 139.3 301.4 140.8 302.2 142.3 303.5 143.6 304.8 145.0 306.7 145.6 308.0 145.8 309.3 145.5 310.6 144.6 311.7 143.3 312.4 142.0 312.6zM143.3 312.1 140.6 312.5 137.4 312.4 134.6 311.9 132.1 310.7 131.2 310.0 130.2 308.7 129.5 306.7 129.5 304.8 130.3 302.9 130.8 302.2 132.1 301.2 133.4 300.7 134.7 300.5 136.1 300.5 137.8 300.9 139.3 301.6 140.6 302.4 142.0 303.5 143.8 305.4 144.7 306.7 145.3 308.0 145.5 309.3 145.1 310.6 144.6 311.3 143.3 312.1zM142.6 312.0 140.0 312.3 136.7 312.1 134.1 311.5 132.1 310.5 130.5 308.7 129.8 306.7 129.8 304.8 130.2 303.5 130.8 302.6 131.9 301.6 132.8 301.1 134.1 300.8 135.4 300.7 138.0 301.2 139.3 301.8 141.0 302.9 142.4 304.2 144.0 306.1 144.7 307.4 145.1 308.7 145.0 310.0 144.7 310.6 143.9 311.4 142.6 312.0zM141.3 312.0 138.0 312.1 135.4 311.7 132.8 310.6 131.5 309.5 130.5 308.0 130.0 306.1 130.2 304.2 130.8 303.0 131.5 302.2 132.8 301.4 134.1 301.0 135.4 300.9 136.7 301.1 139.3 302.0 140.6 302.9 142.1 304.2 144.1 306.7 144.6 308.0 144.8 309.3 144.2 310.6 143.5 311.3 141.3 312.0zM142.6 311.4 140.0 311.9 136.7 311.7 134.1 311.0 132.3 310.0 131.1 308.7 130.3 306.7 130.3 304.8 130.8 303.5 131.2 302.9 131.9 302.2 132.9 301.6 134.1 301.2 135.4 301.1 138.0 301.7 140.6 303.1 142.9 305.4 143.8 306.7 144.3 308.0 144.4 309.3 144.2 310.0 143.8 310.6 142.6 311.4zM142.0 311.3 139.3 311.7 136.7 311.5 134.7 311.0 132.7 310.0 131.4 308.7 130.6 306.7 130.6 304.8 131.5 303.0 132.3 302.2 133.4 301.6 135.4 301.3 136.7 301.5 138.0 301.9 140.6 303.4 142.6 305.4 143.5 306.7 144.0 308.0 144.0 309.3 143.8 310.0 143.2 310.6 142.0 311.3zM140.6 311.3 138.7 311.5 136.1 311.2 134.1 310.5 132.4 309.3 131.4 308.0 130.8 306.1 131.1 304.2 132.0 302.9 132.8 302.2 134.1 301.7 136.1 301.6 138.7 302.4 141.2 304.2 142.3 305.4 143.2 306.7 143.7 308.7 143.3 310.0 142.7 310.6 140.6 311.3zM142.0 310.6 140.0 311.2 137.4 311.2 135.0 310.6 133.4 309.8 132.1 308.6 131.2 306.7 131.2 304.8 131.8 303.5 132.4 302.9 133.4 302.2 135.4 301.9 137.6 302.2 140.0 303.5 142.0 305.4 143.1 307.4 143.4 308.7 143.2 309.3 142.8 310.0 142.0 310.6zM140.6 310.8 138.7 311.0 136.7 310.8 134.7 310.2 133.2 309.3 132.1 308.0 131.5 306.1 131.6 304.8 132.2 303.5 132.9 302.9 134.1 302.3 136.1 302.1 138.5 302.9 140.5 304.2 142.2 306.1 143.0 308.0 142.8 309.3 142.3 310.0 140.6 310.8zM140.0 310.6 138.0 310.7 136.1 310.4 134.7 309.9 133.0 308.7 132.2 307.4 131.9 306.1 132.0 304.8 132.7 303.5 133.6 302.9 134.7 302.5 136.7 302.5 138.7 303.2 140.8 304.8 142.2 306.7 142.6 308.0 142.6 308.7 142.3 309.3 141.7 310.0 140.0 310.6zM140.6 310.1 139.3 310.4 137.4 310.4 135.6 310.0 134.1 309.1 133.0 308.0 132.4 306.7 132.3 305.4 132.8 304.1 133.3 303.5 134.1 303.1 134.7 302.8 136.1 302.8 138.0 303.2 139.6 304.2 141.3 305.8 142.1 307.4 142.2 308.0 142.0 309.1 141.3 309.8 140.6 310.1zM140.0 310.0 138.7 310.2 136.7 310.0 135.0 309.3 134.1 308.7 133.2 307.4 132.8 306.1 133.0 304.8 133.4 304.2 134.2 303.5 136.1 303.1 138.0 303.6 140.0 304.8 141.3 306.4 141.8 308.0 141.7 308.7 141.2 309.3 140.0 310.0zM140.0 309.6 138.7 309.8 137.4 309.8 135.8 309.3 134.8 308.7 134.2 308.0 133.6 306.7 133.5 305.4 134.1 304.3 135.4 303.6 136.7 303.6 138.0 304.0 139.5 304.8 140.7 306.1 141.3 307.4 141.3 308.0 141.1 308.7 140.6 309.2 140.0 309.6zM139.3 309.3 138.0 309.5 136.7 309.2 135.6 308.7 134.9 308.0 134.3 306.7 134.4 305.4 134.8 304.8 135.9 304.2 137.3 304.2 138.7 304.7 139.7 305.4 140.6 306.7 140.8 308.0 140.5 308.7 139.3 309.3zM139.3 308.8 138.7 309.0 137.4 308.9 136.6 308.7 135.8 308.0 135.4 307.4 135.3 306.7 135.6 305.4 136.1 305.0 136.7 304.7 138.0 304.9 139.0 305.4 139.7 306.1 140.3 307.4 140.2 308.0 139.3 308.8zM138.7 308.3 137.4 308.2 136.7 307.8 136.4 307.4 136.3 306.7 136.7 305.9 137.4 305.6 138.0 305.7 138.7 306.0 139.3 306.7 139.5 307.4 139.3 307.9 138.7 308.3z"/>
</g>
<line x1="164.50" y1="228.60" x2="164.50" y2="314.50" stroke="#505050" stroke-width="0.8"/>
<line x1="130.80" y1="277.50" x2="218.00" y2="277.50" stroke="#505050" stroke-width="0.8"/>
<rect x="130.50" y="228.50" width="88.00" height="86.00" fill="none" stroke="#444" stroke-width="1"/>
<line x1="130.50" y1="228.60" x2="130.50" y2="314.50" stroke="#111" stroke-width="1.2"/>
<line x1="130.80" y1="314.50" x2="218.00" y2="314.50" stroke="#111" stroke-width="1.1"/>
<line x1="130.80" y1="314.50" x2="130.80" y2="316.50" stroke="#111" stroke-width="0.5"/>
<line x1="137.36" y1="314.50" x2="137.36" y2="315.70" stroke="#111" stroke-width="0.5"/>
<line x1="141.20" y1="314.50" x2="141.20" y2="315.70" stroke="#111" stroke-width="0.5"/>
<line x1="143.92" y1="314.50" x2="143.92" y2="315.70" stroke="#111" stroke-width="0.5"/>
<line x1="146.04" y1="314.50" x2="146.04" y2="315.70" stroke="#111" stroke-width="0.5"/>
<line x1="147.76" y1="314.50" x2="147.76" y2="315.70" stroke="#111" stroke-width="0.5"/>
<line x1="149.22" y1="314.50" x2="149.22" y2="315.70" stroke="#111" stroke-width="0.5"/>
<line x1="150.49" y1="314.50" x2="150.49" y2="315.70" stroke="#111" stroke-width="0.5"/>
<line x1="151.60" y1="314.50" x2="151.60" y2="315.70" stroke="#111" stroke-width="0.5"/>
<line x1="152.60" y1="314.50" x2="152.60" y2="316.50" stroke="#111" stroke-width="0.5"/>
<line x1="159.16" y1="314.50" x2="159.16" y2="315.70" stroke="#111" stroke-width="0.5"/>
<line x1="163.00" y1="314.50" x2="163.00" y2="315.70" stroke="#111" stroke-width="0.5"/>
<line x1="165.72" y1="314.50" x2="165.72" y2="315.70" stroke="#111" stroke-width="0.5"/>
<line x1="167.84" y1="314.50" x2="167.84" y2="315.70" stroke="#111" stroke-width="0.5"/>
<line x1="169.56" y1="314.50" x2="169.56" y2="315.70" stroke="#111" stroke-width="0.5"/>
<line x1="171.02" y1="314.50" x2="171.02" y2="315.70" stroke="#111" stroke-width="0.5"/>
<line x1="172.29" y1="314.50" x2="172.29" y2="315.70" stroke="#111" stroke-width="0.5"/>
<line x1="173.40" y1="314.50" x2="173.40" y2="315.70" stroke="#111" stroke-width="0.5"/>
<line x1="174.40" y1="314.50" x2="174.40" y2="316.50" stroke="#111" stroke-width="0.5"/>
<line x1="180.96" y1="314.50" x2="180.96" y2="315.70" stroke="#111" stroke-width="0.5"/>
<line x1="184.80" y1="314.50" x2="184.80" y2="315.70" stroke="#111" stroke-width="0.5"/>
<line x1="187.52" y1="314.50" x2="187.52" y2="315.70" stroke="#111" stroke-width="0.5"/>
<line x1="189.64" y1="314.50" x2="189.64" y2="315.70" stroke="#111" stroke-width="0.5"/>
<line x1="191.36" y1="314.50" x2="191.36" y2="315.70" stroke="#111" stroke-width="0.5"/>
<line x1="192.82" y1="314.50" x2="192.82" y2="315.70" stroke="#111" stroke-width="0.5"/>
<line x1="194.09" y1="314.50" x2="194.09" y2="315.70" stroke="#111" stroke-width="0.5"/>
<line x1="195.20" y1="314.50" x2="195.20" y2="315.70" stroke="#111" stroke-width="0.5"/>
<line x1="196.20" y1="314.50" x2="196.20" y2="316.50" stroke="#111" stroke-width="0.5"/>
<line x1="202.76" y1="314.50" x2="202.76" y2="315.70" stroke="#111" stroke-width="0.5"/>
<line x1="206.60" y1="314.50" x2="206.60" y2="315.70" stroke="#111" stroke-width="0.5"/>
<line x1="209.32" y1="314.50" x2="209.32" y2="315.70" stroke="#111" stroke-width="0.5"/>
<line x1="211.44" y1="314.50" x2="211.44" y2="315.70" stroke="#111" stroke-width="0.5"/>
<line x1="213.16" y1="314.50" x2="213.16" y2="315.70" stroke="#111" stroke-width="0.5"/>
<line x1="214.62" y1="314.50" x2="214.62" y2="315.70" stroke="#111" stroke-width="0.5"/>
<line x1="215.89" y1="314.50" x2="215.89" y2="315.70" stroke="#111" stroke-width="0.5"/>
<line x1="217.00" y1="314.50" x2="217.00" y2="315.70" stroke="#111" stroke-width="0.5"/>
<line x1="218.00" y1="314.50" x2="218.00" y2="316.50" stroke="#111" stroke-width="0.5"/>
<line x1="128.80" y1="314.50" x2="130.80" y2="314.50" stroke="#111" stroke-width="0.5"/>
<line x1="129.60" y1="308.04" x2="130.80" y2="308.04" stroke="#111" stroke-width="0.5"/>
<line x1="129.60" y1="304.25" x2="130.80" y2="304.25" stroke="#111" stroke-width="0.5"/>
<line x1="129.60" y1="301.57" x2="130.80" y2="301.57" stroke="#111" stroke-width="0.5"/>
<line x1="129.60" y1="299.49" x2="130.80" y2="299.49" stroke="#111" stroke-width="0.5"/>
<line x1="129.60" y1="297.79" x2="130.80" y2="297.79" stroke="#111" stroke-width="0.5"/>
<line x1="129.60" y1="296.35" x2="130.80" y2="296.35" stroke="#111" stroke-width="0.5"/>
<line x1="129.60" y1="295.11" x2="130.80" y2="295.11" stroke="#111" stroke-width="0.5"/>
<line x1="129.60" y1="294.01" x2="130.80" y2="294.01" stroke="#111" stroke-width="0.5"/>
<line x1="128.80" y1="293.02" x2="130.80" y2="293.02" stroke="#111" stroke-width="0.5"/>
<line x1="129.60" y1="286.56" x2="130.80" y2="286.56" stroke="#111" stroke-width="0.5"/>
<line x1="129.60" y1="282.78" x2="130.80" y2="282.78" stroke="#111" stroke-width="0.5"/>
<line x1="129.60" y1="280.10" x2="130.80" y2="280.10" stroke="#111" stroke-width="0.5"/>
<line x1="129.60" y1="278.01" x2="130.80" y2="278.01" stroke="#111" stroke-width="0.5"/>
<line x1="129.60" y1="276.31" x2="130.80" y2="276.31" stroke="#111" stroke-width="0.5"/>
<line x1="129.60" y1="274.88" x2="130.80" y2="274.88" stroke="#111" stroke-width="0.5"/>
<line x1="129.60" y1="273.63" x2="130.80" y2="273.63" stroke="#111" stroke-width="0.5"/>
<line x1="129.60" y1="272.53" x2="130.80" y2="272.53" stroke="#111" stroke-width="0.5"/>
<line x1="128.80" y1="271.55" x2="130.80" y2="271.55" stroke="#111" stroke-width="0.5"/>
<line x1="129.60" y1="265.09" x2="130.80" y2="265.09" stroke="#111" stroke-width="0.5"/>
<line x1="129.60" y1="261.30" x2="130.80" y2="261.30" stroke="#111" stroke-width="0.5"/>
<line x1="129.60" y1="258.62" x2="130.80" y2="258.62" stroke="#111" stroke-width="0.5"/>
<line x1="129.60" y1="256.54" x2="130.80" y2="256.54" stroke="#111" stroke-width="0.5"/>
<line x1="129.60" y1="254.84" x2="130.80" y2="254.84" stroke="#111" stroke-width="0.5"/>
<line x1="129.60" y1="253.40" x2="130.80" y2="253.40" stroke="#111" stroke-width="0.5"/>
<line x1="129.60" y1="252.16" x2="130.80" y2="252.16" stroke="#111" stroke-width="0.5"/>
<line x1="129.60" y1="251.06" x2="130.80" y2="251.06" stroke="#111" stroke-width="0.5"/>
<line x1="128.80" y1="250.07" x2="130.80" y2="250.07" stroke="#111" stroke-width="0.5"/>
<line x1="129.60" y1="243.61" x2="130.80" y2="243.61" stroke="#111" stroke-width="0.5"/>
<line x1="129.60" y1="239.83" x2="130.80" y2="239.83" stroke="#111" stroke-width="0.5"/>
<line x1="129.60" y1="237.15" x2="130.80" y2="237.15" stroke="#111" stroke-width="0.5"/>
<line x1="129.60" y1="235.06" x2="130.80" y2="235.06" stroke="#111" stroke-width="0.5"/>
<line x1="129.60" y1="233.36" x2="130.80" y2="233.36" stroke="#111" stroke-width="0.5"/>
<line x1="129.60" y1="231.93" x2="130.80" y2="231.93" stroke="#111" stroke-width="0.5"/>
<line x1="129.60" y1="230.68" x2="130.80" y2="230.68" stroke="#111" stroke-width="0.5"/>
<line x1="129.60" y1="229.58" x2="130.80" y2="229.58" stroke="#111" stroke-width="0.5"/>
<line x1="128.80" y1="228.60" x2="130.80" y2="228.60" stroke="#111" stroke-width="0.5"/>
<text x="130.80" y="321.80" font-family='"Liberation Serif", serif' font-size="3.6" font-weight="bold" text-anchor="middle">1</text>
<text x="126.40" y="315.80" font-family='"Liberation Serif", serif' font-size="3.6" font-weight="bold" text-anchor="end">1</text>
<text x="152.60" y="321.80" font-family='"Liberation Serif", serif' font-size="3.6" font-weight="bold" text-anchor="middle">10</text>
<text x="126.40" y="294.32" font-family='"Liberation Serif", serif' font-size="3.6" font-weight="bold" text-anchor="end">10</text>
<text x="174.40" y="321.80" font-family='"Liberation Serif", serif' font-size="3.6" font-weight="bold" text-anchor="middle">100</text>
<text x="126.40" y="272.85" font-family='"Liberation Serif", serif' font-size="3.6" font-weight="bold" text-anchor="end">100</text>
<text x="196.20" y="321.80" font-family='"Liberation Serif", serif' font-size="3.6" font-weight="bold" text-anchor="middle">1000</text>
<text x="126.40" y="251.38" font-family='"Liberation Serif", serif' font-size="3.6" font-weight="bold" text-anchor="end">1000</text>
<text x="218.00" y="321.80" font-family='"Liberation Serif", serif' font-size="3.6" font-weight="bold" text-anchor="middle">10000</text>
<text x="126.40" y="229.90" font-family='"Liberation Serif", serif' font-size="3.6" font-weight="bold" text-anchor="end">10000</text>
<text x="134.80" y="236.80" font-family='"Liberation Serif", serif' font-size="7.6" font-weight="normal" text-anchor="start">4</text>
<text x="214.90" y="236.00" font-family='"Liberation Serif", serif' font-size="7.6" font-weight="normal" text-anchor="end">2</text>
<rect x="131.20" y="302.20" width="11.40" height="11.70" fill="#fff" stroke="#222" stroke-width="0.5"/>
<text x="136.70" y="311.30" font-family='"Liberation Serif", serif' font-size="7.6" font-weight="normal" text-anchor="middle">93</text>
<text x="214.40" y="311.50" font-family='"Liberation Serif", serif' font-size="7.6" font-weight="normal" text-anchor="end">0.12</text>
<g clip-path="url(#c5)" fill="none" stroke="#111" stroke-width="0.72" stroke-linejoin="round">
<path d="M16.8 364.9 18.2 364.1 19.6 362.7 23.3 354.8 24.0 353.9 24.6 353.4 25.2 353.3 26.5 353.8 28.5 355.8 29.4 357.4 31.1 361.3 31.7 362.1 32.8 362.7 35.6 363.3 39.5 363.5 40.6 363.4 41.4 363.0 44.6 360.2 46.6 359.5 48.5 359.4 49.8 359.7 53.0 361.9 53.7 362.2 54.3 361.9 58.0 358.1 61.6 355.4 63.5 353.4 65.3 352.5 66.6 352.4 67.3 353.1 67.9 354.1 69.0 354.7 72.4 355.1 73.7 355.1 78.1 353.4 83.4 350.4 86.4 350.1 89.2 349.2 91.2 349.1 91.8 349.3 93.3 350.7 95.0 352.1 100.2 355.4 101.4 356.7 104.1 361.5 107.5 365.4 109.0 366.7 113.2 369.0M16.8 397.7 17.6 394.7 17.6 383.4 17.5 381.4 17.1 378.7 17.1 376.0 16.8 374.7M113.2 375.3 112.2 377.4 111.4 378.7 108.7 381.4 107.3 383.2 105.4 386.5 104.5 388.7 104.6 390.0 105.4 392.7 105.0 396.0 105.1 398.7 105.4 401.4 106.0 402.9 106.7 403.5 108.6 404.5 109.4 405.4 110.2 407.3 111.0 410.0 111.5 413.3 111.8 418.0 111.5 423.3 110.8 427.3 110.3 428.7 109.3 430.5 108.6 431.1 108.0 431.2 107.3 431.1 106.3 430.0 105.6 428.7 105.0 426.7 104.6 424.7 104.1 419.9 103.5 418.6 102.8 418.8 100.5 420.7 97.6 424.0 96.4 424.9 93.8 426.1 88.7 431.3 83.4 435.7 81.5 436.9 78.3 437.9 77.0 438.0 73.7 437.8 68.6 438.5 66.0 438.7 63.8 439.3M34.6 439.3 29.0 438.0 27.2 438.0 23.3 438.6 19.4 438.3 16.8 437.9M16.8 365.5 20.1 363.4 21.1 362.1 23.3 357.9 24.0 357.1 24.6 356.6 25.2 356.4 25.9 356.4 27.2 357.1 28.5 358.6 30.4 362.2 30.9 362.7 32.4 363.3 37.4 364.1 41.0 364.1 42.5 363.4 45.3 361.1 46.6 360.8 47.9 360.7 49.2 361.0 50.5 361.6 53.7 364.8 54.3 365.2 55.0 365.4 55.6 364.6 56.3 362.7 57.3 361.4 60.2 358.6 62.1 357.5 65.3 356.6 71.8 357.0 73.1 356.9 75.0 356.2 81.5 353.0 82.8 352.6 84.1 352.3 88.6 352.0 90.5 352.4 93.8 353.6 96.4 354.9 98.0 356.1 99.4 357.4 100.7 359.4 103.0 364.1 104.8 368.9 105.4 369.9 107.3 369.4 108.6 369.4 109.9 369.9 110.7 370.7 110.9 371.4 110.8 372.1 109.9 373.4 108.0 375.4 107.1 378.0 105.4 380.3 104.4 383.4 102.2 388.3 102.2 390.0 103.0 392.7 102.9 395.4 103.3 398.7 104.0 402.7 104.8 405.4 104.9 406.7 104.4 408.0 103.4 409.3 102.8 410.7 102.7 414.7 102.5 415.3 101.7 416.7 100.0 418.7 98.0 420.7 96.4 422.7 92.2 425.3 90.5 427.3 85.1 432.7 82.8 434.6 81.5 435.4 80.2 435.9 77.6 436.4 73.7 436.3 71.6 436.7 64.7 437.9 58.8 439.3M16.8 402.7 18.3 395.4 18.5 383.4 17.8 378.7 17.7 375.4 17.5 374.4 16.8 373.6M81.0 393.4 81.3 392.7 80.8 391.9 80.2 391.6 79.5 391.8 79.5 392.7 80.2 393.3 81.0 393.4zM108.6 430.0 108.0 430.2 107.3 430.0 106.2 428.7 105.7 427.3 104.9 424.0 104.3 416.0 104.4 413.3 105.9 408.0 106.7 407.0 107.3 406.7 108.0 406.7 108.6 407.0 109.3 407.8 110.3 410.0 111.0 412.7 111.4 417.3 111.3 420.7 110.8 425.3 110.3 427.3 109.7 428.7 108.6 430.0zM38.7 439.3 36.2 438.4 30.4 437.1 27.8 436.9 22.0 437.1 18.8 436.8 16.8 436.4M16.8 366.0 21.2 363.4 24.0 359.4 24.6 358.9 25.2 358.6 25.9 358.5 27.2 359.1 27.8 359.7 29.8 362.7 30.8 363.4 34.1 364.1 38.8 364.6 40.8 364.6 42.7 364.1 44.6 362.6 45.9 361.8 47.2 361.6 49.2 361.9 50.5 362.7 51.1 363.2 54.3 367.0 55.6 367.8 56.4 367.4 57.2 364.1 57.9 362.7 59.5 361.0 61.4 359.4 62.7 359.0 68.6 358.4 69.8 358.4 71.8 358.7 72.4 358.6 80.8 354.3 82.8 353.6 84.1 353.5 89.2 353.5 92.5 354.3 94.4 355.0 96.4 356.1 97.6 357.2 98.9 358.7 99.8 360.1 102.1 364.7 102.5 366.1 102.9 368.1 102.6 371.4 101.1 376.7 100.8 378.0 101.3 379.4 102.3 380.7 102.4 382.0 101.1 386.0 100.6 389.4 100.8 390.7 101.5 392.7 102.2 399.4 103.4 406.0 103.1 407.3 101.4 410.0 100.7 414.7 100.1 416.0 98.7 418.0 96.6 420.0 95.0 422.0 91.5 424.7 89.1 427.3 86.0 430.0 83.5 432.7 81.5 434.2 79.5 434.8 77.0 435.2 72.7 435.3 67.3 436.6 60.2 437.9 55.4 439.3M16.8 409.9 17.5 408.8 17.7 408.0 17.9 405.4 17.9 401.4 18.8 396.0 19.2 383.4 18.4 378.7 18.3 374.7 18.0 374.0 16.8 372.8M84.3 400.7 85.4 400.2 86.0 398.9 86.5 394.0 86.4 393.4 86.0 392.7 84.3 391.4 83.0 389.4 81.3 388.0 80.2 387.5 78.9 387.3 76.3 388.1 75.7 388.6 75.1 389.4 74.7 390.7 75.1 392.0 75.7 393.1 76.5 394.0 78.5 395.4 79.5 396.3 80.4 397.4 81.9 400.0 82.8 400.6 84.3 400.7zM108.0 429.4 107.3 429.2 106.7 428.5 105.6 426.0 105.0 422.7 104.8 417.3 105.0 414.0 105.8 410.7 106.7 408.8 107.3 408.2 108.0 408.0 108.6 408.3 109.3 409.1 110.3 411.3 111.0 414.7 111.1 418.7 110.9 422.7 110.3 426.0 109.3 428.5 108.6 429.2 108.0 429.4zM45.7 439.3 44.0 439.0 40.8 438.9 37.5 437.6 34.3 437.0 31.7 436.3 20.7 435.8 18.8 435.5 16.8 434.9M16.8 366.5 21.2 364.1 22.8 362.7 24.6 360.5 25.2 360.1 25.9 360.0 27.2 360.6 28.9 362.7 29.8 363.4 31.9 364.1 36.2 364.7 39.5 365.0 42.1 364.8 43.7 364.1 45.9 362.6 47.2 362.3 48.5 362.4 49.8 363.0 50.5 363.5 55.0 369.2 56.3 370.2 56.9 370.2 57.4 369.4 58.0 365.4 58.7 363.4 60.2 361.8 62.1 360.4 63.4 360.1 68.6 360.0 69.2 360.1 71.1 360.8 71.8 360.6 75.0 358.2 78.3 356.3 80.8 355.0 83.4 354.3 86.0 354.2 89.2 354.3 91.8 354.9 93.8 355.6 96.4 357.1 98.5 359.4 100.7 363.4 101.9 366.7 102.0 369.4 101.6 371.4 101.0 373.4 98.3 380.7 98.5 381.4 99.6 382.9 99.9 384.0 99.5 390.0 100.6 393.4 101.3 400.0 102.2 406.0 101.9 407.3 100.5 409.3 100.2 410.0 99.3 414.7 97.7 417.3 93.5 422.0 90.4 424.7 87.9 427.3 84.6 430.0 82.1 432.5 80.2 433.5 76.3 434.3 73.1 434.3 67.3 435.9 60.2 437.0 54.3 438.6 49.2 439.2 47.9 439.1 44.0 438.1 41.4 438.0 37.5 436.7 34.3 436.2 32.4 435.6 20.7 434.8 18.8 434.4 16.8 433.7M16.8 411.3 17.6 410.7 18.1 410.0 18.8 406.7 18.6 401.4 19.3 395.4 19.4 392.0 19.8 387.4 19.8 384.0 19.7 382.0 18.9 378.7 18.8 374.7 18.1 373.5 16.8 372.2M85.9 402.7 86.7 402.3 87.3 401.4 88.1 399.4 88.1 395.4 88.9 392.0 88.6 390.8 87.8 390.0 85.4 388.8 83.4 387.4 79.5 385.3 77.0 384.5 75.7 384.9 74.4 385.8 73.6 386.7 71.1 391.4 70.8 392.7 70.9 393.4 71.8 394.4 73.2 395.4 74.4 395.9 77.0 396.5 77.6 396.9 78.5 398.0 79.6 400.7 80.8 402.2 81.5 402.5 82.8 402.8 84.7 402.9 85.9 402.7zM71.3 407.3 72.4 406.5 73.1 405.7 73.7 404.2 73.6 403.4 73.1 402.6 72.4 402.3 71.8 402.4 71.0 403.4 70.4 406.7 70.5 407.3 71.3 407.3zM52.5 412.7 53.3 412.0 53.6 411.3 53.6 410.7 53.0 409.5 52.4 409.2 51.7 409.2 51.1 409.8 50.6 410.7 50.5 411.9 51.1 412.7 51.7 412.8 52.5 412.7zM108.0 428.7 107.3 428.5 106.7 427.7 105.7 425.3 105.2 421.3 105.0 418.0 105.1 415.3 105.8 412.0 106.7 409.9 107.3 409.1 108.0 408.9 108.6 409.2 109.3 410.0 110.1 412.0 110.8 415.3 110.9 418.7 110.8 422.0 110.2 425.3 109.3 427.7 108.6 428.5 108.0 428.7zM16.8 367.0 18.8 365.6 22.1 364.1 25.2 361.4 25.9 361.2 26.7 361.4 28.9 363.4 30.4 364.1 38.8 365.3 40.8 365.2 42.7 364.9 43.3 364.7 45.9 363.1 46.6 362.9 47.9 362.9 49.2 363.2 50.5 364.2 55.6 371.1 56.3 371.7 56.9 371.9 57.6 371.7 58.3 370.7 58.6 369.4 58.8 366.1 59.5 364.1 60.4 362.7 61.4 361.8 63.4 361.0 66.0 361.1 67.9 361.4 69.8 362.6 70.5 362.8 71.1 362.6 71.8 362.2 75.0 358.9 78.9 356.5 80.8 355.6 82.8 355.0 86.0 354.7 89.2 355.0 92.5 355.7 94.4 356.5 96.4 357.9 97.8 359.4 99.8 362.7 101.2 366.1 101.4 368.1 101.2 370.7 100.1 374.0 98.3 377.9 96.2 380.7 95.8 382.0 96.3 382.7 97.6 383.5 98.1 384.0 98.4 384.7 98.8 390.7 100.0 394.0 100.5 397.4 101.2 405.4 101.1 406.7 99.2 409.3 98.5 414.0 96.6 417.3 92.5 421.9 89.9 424.2 87.7 426.7 84.1 429.3 81.5 431.8 80.2 432.4 76.3 433.3 73.1 433.6 66.6 435.5 60.2 436.2 52.4 438.2 49.2 438.5 47.9 438.4 44.6 437.6 41.4 437.1 38.2 436.1 34.9 435.6 32.4 435.0 27.8 434.9 20.1 433.9 16.8 432.8M16.8 412.1 18.1 411.3 18.6 410.7 19.1 408.7 19.4 406.0 19.0 401.4 19.5 396.0 19.7 392.0 20.3 388.0 20.3 384.0 20.2 382.0 19.2 378.0 19.2 374.7 18.5 373.4 16.8 371.6M73.1 411.3 74.4 410.7 75.0 410.0 75.2 409.3 75.4 406.0 76.3 404.5 77.6 403.4 78.3 403.4 80.2 404.4 81.5 404.7 86.7 404.4 87.3 404.1 88.2 403.4 88.6 402.7 89.1 401.4 89.3 398.7 89.3 395.4 90.2 391.4 89.9 389.8 88.6 388.2 85.4 386.5 82.8 385.5 80.5 384.0 79.1 382.7 77.7 380.7 77.0 380.0 75.7 379.4 75.0 379.4 74.7 380.0 74.1 382.7 73.5 384.0 70.5 387.9 69.8 388.2 69.2 388.3 66.0 388.3 63.4 388.1 62.7 388.5 62.5 389.4 62.7 390.7 63.4 391.6 65.3 393.4 67.3 394.2 67.7 394.7 68.3 397.4 69.2 398.2 70.4 398.7 70.7 399.4 69.8 400.3 69.3 401.4 68.7 404.7 66.9 406.7 66.6 407.3 66.5 408.0 66.9 409.3 67.8 410.7 69.0 411.3 71.1 411.6 73.1 411.3zM76.3 402.2 75.0 401.6 73.8 400.7 72.4 399.4 72.3 398.7 73.1 398.0 74.4 397.6 75.7 397.7 76.5 398.0 77.0 398.7 77.3 400.7 77.0 402.0 76.3 402.2zM55.0 414.0 56.0 413.3 56.1 412.7 55.0 409.3 54.3 408.5 53.0 407.6 51.7 407.3 51.1 407.6 49.8 409.1 48.9 410.7 48.8 412.0 49.1 412.7 50.3 414.0 51.7 414.7 53.0 414.6 55.0 414.0zM108.0 428.2 107.3 427.9 106.7 427.1 105.8 424.7 105.5 422.7 105.2 418.0 105.5 414.7 105.9 412.7 106.7 410.7 107.3 409.8 108.0 409.5 108.6 409.8 109.3 410.7 110.1 412.7 110.5 414.7 110.8 418.7 110.5 422.7 110.2 424.7 109.3 427.1 108.6 427.9 108.0 428.2zM16.8 367.5 18.8 365.9 22.9 364.1 25.9 362.3 26.5 362.4 28.1 363.4 29.8 364.1 36.2 365.2 38.8 365.5 42.1 365.3 44.0 364.7 45.9 363.6 47.2 363.3 47.9 363.3 49.2 363.7 50.4 364.7 55.6 372.1 56.9 373.0 57.6 373.1 58.2 372.8 58.9 371.9 59.4 370.1 59.8 366.7 60.2 365.4 61.1 363.4 62.1 362.4 63.4 361.8 65.3 361.8 66.6 362.1 69.8 363.9 70.5 364.0 71.1 363.8 71.8 363.3 75.0 359.5 77.6 357.7 81.5 355.8 83.4 355.3 85.4 355.1 89.2 355.5 91.8 356.0 94.4 357.1 96.4 358.5 97.8 360.1 99.7 363.4 100.7 366.1 101.0 368.1 100.5 371.4 99.9 373.4 98.6 376.0 97.4 378.0 92.3 383.4 92.0 384.0 92.5 384.5 95.7 384.6 96.4 384.9 96.8 385.4 97.6 388.0 98.1 391.4 99.5 394.7 100.0 398.0 100.3 402.7 100.2 404.7 99.9 406.0 99.6 406.6 98.2 407.3 97.7 408.0 98.0 412.0 97.8 413.3 97.3 414.7 96.1 416.7 92.2 421.3 86.9 426.7 83.1 429.3 81.5 430.8 80.2 431.4 78.3 431.7 73.1 433.0 66.6 435.1 63.4 435.5 60.2 435.6 51.7 437.6 49.2 437.9 47.2 437.7 41.4 436.4 38.2 435.5 34.9 435.1 33.0 434.6 27.8 434.5 22.7 433.6 20.7 433.4 19.4 433.1 16.8 432.1M16.8 412.7 18.1 412.1 18.8 411.6 19.5 410.0 19.7 406.0 19.4 402.7 19.4 400.7 20.0 392.7 20.8 388.0 20.8 386.7 20.7 382.7 19.5 378.0 19.6 374.7 18.9 373.4 16.8 371.1M72.8 412.7 75.0 412.3 75.7 411.7 76.4 410.0 76.6 407.3 77.0 406.6 77.6 406.2 78.9 405.9 80.8 406.0 83.4 405.7 86.0 405.9 87.3 405.6 88.6 404.7 89.6 403.4 90.1 402.0 90.1 395.4 90.3 394.0 91.1 390.7 91.0 389.4 90.5 388.2 89.9 386.9 89.2 386.1 86.7 384.8 84.1 384.3 82.8 383.8 80.8 382.3 77.6 379.4 75.7 378.0 75.0 377.8 74.4 377.8 73.7 378.4 72.7 382.7 71.8 384.1 70.5 385.4 69.2 386.3 67.3 386.9 66.0 386.9 63.4 385.9 62.7 386.0 62.1 386.8 61.7 388.7 61.7 390.0 62.1 391.4 64.4 395.4 65.9 396.7 66.2 397.4 66.5 398.7 66.4 399.4 65.5 401.4 65.8 402.0 66.7 403.4 66.4 404.0 63.4 407.3 63.4 408.0 64.0 410.0 63.5 410.7 61.7 412.0 62.1 412.7 64.7 411.8 69.7 412.7 72.8 412.7zM53.9 415.3 57.6 414.5 58.2 414.0 58.7 413.3 58.6 412.7 57.3 410.7 56.5 408.7 56.3 408.4 53.7 406.5 52.4 406.1 51.7 406.1 50.5 406.8 49.2 408.5 47.9 410.7 47.8 412.0 48.4 413.3 50.5 415.1 51.7 415.5 53.9 415.3zM108.6 427.5 108.0 427.7 107.3 427.5 106.4 426.0 105.7 423.3 105.5 420.0 105.5 416.0 105.9 413.3 106.7 411.2 107.3 410.3 108.0 410.1 108.6 410.3 109.7 412.0 110.3 414.7 110.6 417.3 110.5 421.3 110.2 424.0 109.6 426.0 108.6 427.5zM16.8 368.3 17.5 367.3 19.4 365.9 24.6 363.8 25.9 363.5 27.2 363.6 28.4 364.1 31.1 364.7 36.2 365.5 39.5 365.8 43.0 365.4 46.6 363.9 47.9 363.8 49.2 364.3 50.5 365.5 55.6 372.9 56.9 374.0 58.2 374.5 58.9 374.4 59.6 373.4 61.4 366.7 62.2 364.7 63.0 363.4 64.0 362.9 65.3 363.0 69.8 365.3 70.5 365.5 71.1 365.3 71.8 364.7 74.6 360.7 76.0 359.4 77.6 358.2 79.5 357.1 81.5 356.3 83.4 355.8 85.4 355.6 88.6 355.9 91.2 356.3 93.1 357.0 95.7 358.6 97.6 360.7 99.2 363.4 100.0 365.4 100.5 368.1 100.3 370.1 99.8 372.1 98.7 374.7 97.5 376.7 95.9 378.7 93.8 380.6 92.5 381.6 89.9 383.1 88.6 383.3 85.4 382.9 83.4 382.4 80.8 380.9 75.7 377.0 74.4 376.4 73.7 376.5 73.1 377.2 71.8 381.5 70.6 383.4 69.2 384.6 67.9 385.3 66.6 385.5 63.4 384.4 62.7 384.3 62.1 384.5 61.4 385.3 61.3 386.0 61.0 389.4 62.6 396.7 63.0 398.0 63.1 398.7 63.0 399.4 60.8 402.0 59.5 404.7 58.9 405.4 58.2 405.8 56.9 406.2 56.3 406.2 53.7 405.0 52.4 404.9 51.1 405.1 50.5 405.5 47.6 409.3 46.7 411.3 46.9 412.7 47.8 414.0 50.5 415.9 52.4 416.4 55.0 416.1 57.6 416.3 60.8 414.8 65.3 413.5 67.9 413.4 73.1 413.7 75.0 414.0 75.7 414.0 76.3 413.6 77.0 412.4 77.8 408.7 78.3 407.9 78.9 407.4 83.4 406.8 86.0 406.9 87.3 406.7 88.7 406.0 90.1 404.7 90.8 403.4 91.2 402.0 90.9 397.4 91.0 394.7 91.2 393.4 92.2 390.7 92.5 387.8 93.1 386.7 94.4 386.2 95.1 386.3 95.7 386.7 96.4 387.7 96.7 388.7 97.0 391.4 97.2 392.0 98.6 394.0 99.0 395.4 99.3 398.0 99.4 402.0 99.3 403.4 98.9 404.1 96.5 406.0 95.8 407.3 95.7 408.7 96.6 411.3 96.8 412.7 96.6 414.0 96.0 415.3 95.2 416.7 91.8 420.7 87.3 425.5 85.9 426.7 80.8 430.1 80.2 430.3 77.0 430.8 67.3 434.4 64.0 434.9 59.5 434.9 56.9 435.4 51.7 436.9 49.2 437.2 47.2 437.1 38.2 434.7 34.9 434.5 32.4 434.0 27.2 433.9 22.7 432.9 20.7 432.7 19.4 432.4 16.8 431.3M16.8 413.4 18.5 412.7 19.3 412.0 19.9 410.7 20.2 406.0 19.7 402.0 19.8 398.7 20.3 392.7 21.4 388.0 21.4 386.7 21.1 382.7 19.9 378.0 20.0 374.7 19.4 373.4 17.6 371.4 16.8 370.2M48.8 396.0 49.3 395.4 49.4 393.4 49.2 392.4 48.5 391.9 47.9 392.2 47.5 392.7 47.1 393.4 46.8 394.7 46.9 395.4 47.3 396.0 47.9 396.3 48.5 396.3 48.8 396.0zM108.6 427.0 108.0 427.2 107.3 426.9 106.7 426.0 105.9 423.3 105.6 420.0 105.7 416.0 106.2 413.3 107.0 411.3 107.3 410.9 108.0 410.6 108.6 410.9 109.7 412.7 110.2 414.7 110.4 417.3 110.4 420.7 110.1 423.3 109.6 425.3 108.6 427.0zM16.8 414.4 19.4 413.1 20.1 412.4 20.5 411.3 20.7 406.0 20.2 400.7 20.5 394.0 20.9 392.0 22.0 388.7 22.3 387.4 21.8 382.7 20.3 378.0 20.7 374.7 20.0 373.4 17.7 370.7 17.2 369.4 17.6 368.1 18.9 366.7 22.7 365.1 25.9 364.3 27.2 364.3 36.9 366.0 39.5 366.1 42.7 365.8 44.3 365.4 46.6 364.5 47.9 364.5 49.2 365.1 50.5 366.4 52.2 368.7 55.0 373.2 57.6 376.0 58.9 378.4 59.5 379.3 60.2 379.7 60.8 379.6 61.3 378.7 60.8 376.0 61.1 374.0 62.0 370.7 63.4 366.7 64.0 365.8 64.7 365.3 65.3 365.1 66.6 365.3 68.0 366.1 69.8 368.0 70.5 368.3 71.1 368.1 71.8 367.2 73.6 363.4 74.9 361.4 76.9 359.4 79.5 357.7 81.5 356.9 84.1 356.3 86.7 356.2 89.9 356.7 91.8 357.2 94.4 358.5 95.7 359.4 97.4 361.4 98.6 363.4 99.4 365.4 99.8 367.4 99.8 369.4 99.2 372.1 98.0 374.7 96.7 376.7 95.1 378.5 91.8 380.9 89.9 381.8 88.6 381.9 85.4 381.7 83.4 381.2 81.5 380.3 78.9 378.6 74.4 374.9 73.7 374.5 73.1 374.4 72.4 375.3 71.1 380.3 69.8 382.1 68.6 383.3 67.3 383.9 66.0 383.9 62.1 382.6 61.4 382.7 60.8 383.4 60.5 384.7 60.3 387.4 61.0 394.0 61.0 398.0 60.5 399.4 58.2 403.3 57.6 404.0 56.9 404.3 56.3 404.3 53.7 403.6 52.4 403.4 51.1 403.5 50.5 403.9 44.9 410.7 44.7 411.3 45.2 412.7 46.1 414.0 47.2 415.0 48.9 416.0 51.7 417.2 56.9 418.3 58.2 418.0 60.2 416.6 62.1 415.6 64.0 414.9 66.0 414.5 68.6 414.5 73.1 414.8 75.7 415.4 77.2 415.3 78.1 414.7 78.3 414.3 78.8 410.0 79.2 409.3 80.0 408.7 83.4 408.0 87.3 407.7 88.9 407.3 92.5 405.8 93.0 406.0 93.5 408.0 95.3 412.7 95.4 413.3 95.1 414.7 94.4 416.0 91.2 420.0 87.7 424.0 86.0 425.6 84.1 427.0 80.8 428.8 76.3 429.6 73.7 431.1 66.6 434.0 64.0 434.3 60.2 433.9 58.1 434.0 56.3 434.4 51.7 435.9 49.2 436.4 46.6 436.2 41.4 434.6 38.2 433.9 34.9 433.7 32.4 433.3 29.1 433.4 26.5 433.1 22.7 432.1 20.1 431.7 16.8 430.3M33.0 376.0 33.7 375.4 33.3 374.7 32.4 374.6 31.4 374.7 31.1 375.4 31.5 376.0 32.4 376.3 33.0 376.0zM45.4 382.0 45.8 381.4 45.7 380.0 45.0 378.7 43.9 377.4 43.1 376.7 41.7 376.0 39.5 375.4 38.2 375.2 37.1 375.4 37.4 376.0 38.7 377.4 40.5 380.0 44.0 382.1 44.6 382.2 45.4 382.0zM48.8 398.0 49.7 397.4 50.0 396.7 50.3 395.4 50.4 393.4 50.2 392.0 49.8 390.9 49.2 390.1 48.5 389.9 47.9 390.1 47.2 390.7 45.8 392.7 45.2 394.0 45.1 395.4 45.4 396.7 45.9 397.4 47.2 398.0 48.8 398.0zM93.8 405.4 93.1 405.8 92.0 398.7 91.9 396.7 92.2 393.4 93.1 391.9 94.4 390.8 95.1 391.0 97.9 394.7 98.3 396.0 98.4 398.0 98.2 401.4 97.8 402.7 95.7 404.4 93.8 405.4zM108.6 426.3 108.0 426.6 107.3 426.3 106.7 425.2 106.2 423.3 105.8 420.0 105.8 416.7 106.2 414.0 107.1 412.0 107.3 411.6 108.0 411.3 108.6 411.6 109.6 413.3 110.2 417.3 110.2 420.7 109.8 423.3 109.3 425.2 108.6 426.3zM89.9 380.9 87.9 381.1 85.4 381.0 83.4 380.4 81.5 379.6 79.5 378.4 76.7 376.0 73.6 372.7 72.6 371.4 72.6 369.4 73.0 366.7 73.6 364.7 74.6 362.7 76.2 360.7 77.7 359.4 79.5 358.2 82.1 357.1 84.7 356.7 87.3 356.8 90.5 357.4 93.1 358.3 95.1 359.6 96.4 360.8 97.7 362.7 98.9 365.4 99.3 367.4 99.2 370.1 98.6 372.1 97.4 374.7 96.0 376.7 94.4 378.3 91.8 380.1 89.9 380.9zM16.8 415.9 17.5 415.2 20.1 413.5 20.7 412.7 21.0 412.0 21.1 410.7 21.0 406.0 20.6 400.0 20.8 394.0 21.3 392.0 22.8 388.7 23.0 387.4 23.0 386.0 22.3 382.7 20.8 378.0 20.9 376.7 21.3 374.7 21.1 374.0 18.3 370.7 17.8 369.4 17.8 368.7 18.6 367.4 20.1 366.4 24.0 365.1 26.5 364.8 33.0 365.5 36.2 366.2 38.8 366.4 42.9 366.1 46.6 365.1 47.9 365.2 48.5 365.4 49.8 366.4 51.2 368.1 54.3 373.1 57.1 376.7 57.7 378.0 58.7 380.7 59.7 385.4 60.3 393.4 60.2 396.0 59.9 398.0 58.4 401.4 57.6 402.4 56.9 402.8 55.6 402.9 53.0 402.4 50.5 401.0 49.8 402.1 48.7 404.7 47.9 406.0 45.3 408.7 43.5 410.0 43.0 410.7 42.9 411.3 43.4 412.7 44.5 414.0 46.0 415.3 47.2 416.1 49.9 417.3 53.0 418.5 55.0 419.5 56.3 419.7 58.2 419.1 60.8 417.2 62.1 416.4 64.0 415.7 66.6 415.2 68.6 415.2 73.1 415.8 76.3 416.6 77.6 416.7 78.9 416.0 79.5 415.1 79.8 414.0 79.8 411.3 80.2 410.3 80.8 409.7 83.4 408.8 90.5 408.3 91.2 408.3 91.8 408.6 92.5 409.3 93.4 410.7 94.2 413.3 94.2 414.0 93.8 415.3 91.8 417.5 87.6 423.3 84.7 425.8 82.8 427.0 80.8 427.8 76.3 428.6 73.1 430.6 69.2 432.4 66.0 433.6 63.4 433.7 60.2 433.1 58.2 433.1 56.3 433.4 51.1 435.4 47.2 435.7 45.3 435.3 41.8 434.0 38.8 433.3 34.9 433.1 32.4 432.7 29.1 432.8 26.5 432.6 22.7 431.3 20.1 430.9 16.8 429.3M67.3 382.7 66.6 382.9 65.3 382.7 64.0 382.0 63.5 381.4 63.2 380.7 63.1 378.0 62.3 376.0 62.4 374.7 63.0 372.7 64.8 370.1 64.9 367.4 65.3 366.8 66.0 366.6 66.6 366.8 67.2 367.4 67.9 370.6 69.8 371.3 70.8 372.1 71.2 374.0 71.1 377.4 70.5 379.6 69.2 381.4 67.9 382.5 67.3 382.7zM46.5 383.4 46.9 382.7 47.1 382.0 46.6 380.0 45.3 377.6 43.8 376.0 42.2 375.4 39.9 374.7 37.5 374.3 31.7 373.8 30.6 374.0 29.9 374.7 29.8 375.4 30.4 376.7 31.1 377.6 31.7 378.0 32.4 378.1 34.3 376.7 34.9 376.5 35.6 376.5 37.1 377.4 39.4 380.7 40.1 381.3 44.6 383.4 45.9 383.6 46.5 383.4zM50.0 399.4 50.5 398.5 50.8 396.7 50.9 392.0 50.5 390.5 49.8 389.2 49.2 388.5 48.5 388.2 47.9 388.3 47.2 389.1 45.0 392.0 43.3 394.8 42.1 396.0 42.0 396.7 42.7 397.8 44.1 398.7 49.8 399.6 50.0 399.4zM33.7 396.0 34.4 395.4 34.5 394.7 33.0 393.3 32.4 393.1 32.0 393.4 31.7 394.0 31.7 394.9 32.1 396.0 32.4 396.4 33.0 396.4 33.7 396.0zM95.1 402.7 94.4 402.4 94.2 402.0 93.0 398.0 93.2 394.0 93.8 393.1 94.4 392.9 95.1 393.1 96.9 394.7 97.3 395.4 97.6 396.7 97.5 398.0 96.6 401.4 96.3 402.0 95.7 402.5 95.1 402.7zM108.0 426.1 107.3 425.7 106.5 424.0 106.2 422.0 106.0 418.7 106.1 416.0 106.5 414.0 107.3 412.2 108.0 411.8 108.6 412.1 109.5 414.0 110.0 416.7 110.1 418.7 109.9 422.0 109.5 424.0 108.6 425.7 108.0 426.1zM89.9 380.3 87.9 380.5 85.4 380.4 83.4 379.9 81.5 379.1 79.0 377.4 76.8 375.4 75.1 373.4 73.8 371.4 73.4 369.4 73.5 367.4 73.9 365.4 74.8 363.4 76.2 361.4 77.6 360.1 79.5 358.7 81.5 357.8 84.1 357.2 86.7 357.1 89.9 357.6 92.5 358.5 94.4 359.6 96.3 361.4 97.6 363.4 98.5 365.4 98.9 367.4 98.8 369.4 98.2 372.1 97.2 374.0 95.9 376.0 94.4 377.6 92.5 379.0 89.9 380.3zM16.8 422.1 17.4 420.7 17.4 418.0 17.7 416.7 18.8 415.3 21.0 413.3 21.6 412.0 21.3 406.0 20.9 400.0 21.1 394.7 21.6 392.0 23.3 388.8 23.6 387.4 23.6 386.0 22.8 382.7 21.2 378.0 21.3 376.7 21.9 374.7 21.7 374.0 19.7 372.1 18.7 370.7 18.3 369.4 18.3 368.7 18.6 368.1 19.2 367.4 20.2 366.7 23.3 365.7 25.9 365.2 27.8 365.2 32.4 365.6 36.9 366.6 38.8 366.7 41.4 366.5 46.6 365.6 47.9 365.7 49.2 366.4 51.1 368.5 53.7 372.9 56.5 376.7 57.1 378.0 57.8 380.7 58.1 382.7 59.2 386.0 59.8 392.0 59.8 394.0 59.4 397.4 58.3 400.0 57.6 401.2 56.9 401.8 55.6 402.1 54.3 401.9 53.0 401.4 52.2 400.7 51.8 400.0 51.4 398.7 51.3 392.0 51.1 390.7 49.8 387.7 48.2 385.4 48.0 384.7 48.2 382.7 47.9 381.4 46.6 378.6 44.7 376.0 43.7 375.4 41.7 374.7 37.5 373.8 31.1 373.4 29.2 374.0 28.8 374.7 28.8 375.4 29.8 377.3 31.1 379.6 31.7 380.2 32.4 380.3 33.0 380.0 34.0 379.4 34.9 378.4 35.6 378.1 36.2 378.5 39.5 382.2 41.4 382.8 44.6 384.3 46.1 385.4 46.5 386.0 46.8 386.7 46.7 388.0 45.8 390.0 43.0 393.4 40.6 394.7 40.3 395.4 40.1 396.7 40.5 398.0 41.4 398.9 42.7 399.8 43.3 400.1 44.6 400.3 47.2 400.1 48.3 400.7 48.5 401.4 48.1 404.0 47.5 405.4 44.8 408.0 41.9 410.0 41.3 411.3 41.4 412.0 41.7 412.7 43.7 414.7 45.4 416.0 47.8 417.3 52.4 419.0 55.0 420.6 56.3 420.7 57.6 420.3 58.9 419.6 62.1 417.1 64.0 416.4 66.6 415.8 68.6 415.8 72.4 416.5 76.3 417.6 77.0 417.7 78.3 417.4 79.5 416.6 80.5 415.3 80.8 414.0 81.0 411.3 81.4 410.7 82.3 410.0 83.4 409.6 87.9 409.6 91.2 410.2 91.8 410.7 92.2 411.3 93.1 414.0 92.9 414.7 91.2 416.7 87.5 422.7 86.7 423.6 84.7 425.1 82.8 426.3 81.5 426.9 78.3 427.2 76.3 427.7 73.1 429.9 69.2 431.9 66.0 433.2 63.4 433.3 59.5 432.3 57.6 432.3 56.3 432.6 51.1 434.7 49.2 435.0 46.6 435.1 45.3 434.9 41.7 433.3 38.2 432.6 34.9 432.5 32.4 432.2 28.5 432.3 26.5 432.1 22.7 430.7 19.9 430.0 18.1 429.1 16.8 427.9M67.3 381.4 66.0 381.4 65.1 380.7 65.0 378.7 64.2 376.0 64.1 375.4 64.7 374.2 65.3 373.7 66.6 373.3 68.6 373.4 69.2 373.6 69.8 374.0 70.1 374.7 70.2 376.0 70.0 378.0 69.8 378.9 69.2 380.1 68.6 380.7 67.3 381.4zM33.5 398.0 36.4 396.0 36.8 395.4 36.9 394.7 36.2 393.8 34.6 392.7 33.0 391.2 32.4 391.0 31.7 391.2 30.8 392.0 30.4 393.4 30.5 394.7 31.1 397.3 31.5 398.0 32.4 398.3 33.5 398.0zM95.7 398.4 95.1 398.6 94.4 398.1 94.2 397.4 94.4 395.4 95.1 394.8 95.7 395.0 96.2 395.4 96.6 396.0 96.5 397.4 95.7 398.4zM38.5 412.0 38.4 411.3 37.5 411.1 35.6 410.8 34.9 411.3 37.5 412.2 38.5 412.0zM108.0 425.6 107.3 425.2 106.6 423.3 106.2 421.3 106.1 418.7 106.2 416.7 106.5 414.7 107.3 412.7 108.0 412.3 108.6 412.7 109.3 414.0 109.8 416.0 109.9 418.7 109.8 421.3 109.4 423.3 108.6 425.2 108.0 425.6zM90.5 379.5 88.6 380.0 86.7 380.0 84.7 379.8 82.1 378.9 79.7 377.4 77.4 375.4 75.7 373.4 74.5 371.4 74.0 369.4 74.0 367.4 74.2 366.1 74.9 364.1 76.1 362.1 77.4 360.7 78.9 359.5 80.8 358.4 83.4 357.6 85.4 357.5 88.6 357.8 91.2 358.4 93.1 359.3 95.1 360.7 96.4 362.1 97.5 364.1 98.3 366.1 98.5 368.1 98.2 370.7 97.4 372.7 95.8 375.4 94.4 377.0 92.5 378.5 90.5 379.5zM16.8 424.4 18.0 421.3 18.3 417.3 19.1 416.0 21.4 413.7 22.0 412.2 21.1 399.4 21.3 394.7 21.5 393.4 22.0 392.0 23.9 388.7 24.2 386.7 23.3 382.7 21.9 379.4 21.6 378.0 21.8 376.7 22.5 374.7 22.3 374.0 19.6 371.4 18.9 370.1 18.8 368.7 19.4 367.7 20.7 366.8 22.7 366.2 25.2 365.6 27.8 365.5 31.7 365.8 38.2 367.0 40.1 366.9 46.6 366.0 47.9 366.2 48.5 366.5 49.8 367.5 51.1 369.1 53.7 373.5 56.3 377.4 57.1 380.0 57.6 383.4 58.7 386.0 59.2 389.4 59.5 392.7 59.2 396.0 58.9 397.4 57.7 400.0 56.9 400.9 55.6 401.4 54.3 401.2 53.0 400.5 52.4 399.6 52.1 398.7 51.7 395.4 51.7 391.4 49.4 384.7 48.9 382.0 47.2 378.7 45.3 376.0 44.6 375.4 43.1 374.7 39.5 373.8 37.0 373.4 31.1 373.0 29.1 373.4 27.7 374.0 27.5 374.7 29.4 378.0 31.0 382.0 31.2 382.7 30.6 384.7 30.7 386.0 31.1 387.0 32.2 388.7 32.0 389.4 30.4 390.9 29.8 392.0 29.7 392.7 29.8 394.6 30.3 397.4 30.9 398.7 31.7 399.2 33.0 399.2 36.9 397.3 37.5 397.0 38.2 397.2 40.1 399.4 42.1 401.0 42.7 401.3 44.0 401.5 46.6 401.3 47.3 402.0 47.1 404.0 46.6 405.4 44.0 407.6 40.1 409.9 38.8 410.0 34.9 409.5 34.3 409.7 33.6 410.2 33.2 411.3 33.3 412.0 33.6 412.4 34.3 412.8 36.9 413.6 40.1 413.5 40.8 413.7 46.2 417.3 47.9 418.1 51.1 419.0 52.4 419.7 54.3 421.3 55.6 421.6 56.9 421.4 58.2 420.7 61.4 418.1 62.7 417.4 66.6 416.3 67.9 416.3 69.2 416.4 73.1 417.3 76.3 418.6 77.6 418.5 79.5 417.4 81.0 416.0 81.5 414.7 81.9 412.0 82.1 411.3 82.8 410.7 84.1 410.3 86.7 410.5 87.9 410.9 89.1 412.0 90.4 414.7 90.4 416.0 89.6 418.0 86.9 422.7 85.4 424.0 82.1 426.0 80.8 426.2 78.9 426.1 76.3 426.9 75.0 427.6 73.1 429.1 69.3 431.3 66.6 432.5 65.3 432.9 63.4 432.8 62.1 432.5 59.5 431.6 57.6 431.5 55.6 432.0 51.7 433.9 50.5 434.4 47.2 434.7 45.9 434.6 44.6 434.2 42.1 432.9 38.2 432.0 34.9 432.0 32.4 431.8 28.5 431.9 26.5 431.6 20.1 429.0 18.1 427.7 16.8 426.0M68.6 378.8 67.9 379.2 67.3 379.0 66.5 378.0 66.0 376.7 66.0 376.0 66.6 375.1 67.3 374.9 67.9 374.9 68.7 375.4 68.9 376.0 69.0 377.4 68.6 378.8zM40.8 393.4 38.8 393.9 38.2 393.7 35.6 392.0 34.9 391.4 34.5 390.0 35.2 388.7 35.0 387.4 32.5 383.4 32.4 382.7 32.6 382.0 33.6 381.2 34.9 380.7 36.2 380.8 37.2 381.4 38.8 383.3 41.4 383.8 43.3 384.4 44.6 385.1 45.4 386.0 45.7 386.7 45.9 388.0 45.3 389.7 42.7 392.5 42.1 392.9 40.8 393.4zM108.6 424.7 108.0 425.1 107.3 424.7 106.6 422.7 106.3 420.0 106.3 417.3 106.5 415.3 107.3 413.3 108.0 412.8 108.6 413.1 109.1 414.0 109.5 415.3 109.8 417.3 109.5 422.0 109.2 423.3 108.6 424.7zM89.2 379.4 87.3 379.6 84.7 379.3 82.8 378.8 80.8 377.8 78.9 376.3 77.0 374.3 75.8 372.7 74.8 370.7 74.5 368.7 74.5 366.7 74.8 365.4 75.7 363.4 76.6 362.1 78.3 360.4 79.8 359.4 81.5 358.6 84.1 357.9 86.0 357.8 89.2 358.3 91.8 359.1 93.8 360.1 95.3 361.4 96.8 363.4 97.7 365.4 98.1 367.4 98.0 369.4 97.3 372.1 96.2 374.0 94.8 376.0 93.4 377.4 91.2 378.7 89.2 379.4zM49.8 434.0 47.2 434.3 45.9 434.2 44.6 433.7 42.7 432.6 37.5 431.4 29.1 431.4 26.5 431.1 21.3 428.7 18.1 426.0 17.8 425.3 17.8 424.7 18.8 421.3 18.8 418.7 19.0 417.3 19.9 416.0 21.7 414.0 22.3 412.7 22.4 411.3 21.9 408.0 21.3 399.4 21.5 394.7 22.0 392.7 23.7 390.0 24.3 388.7 24.8 386.7 24.6 385.4 23.8 382.7 22.3 379.4 22.0 378.0 22.2 376.7 23.1 374.7 23.1 374.0 22.5 373.4 20.7 372.2 20.0 371.4 19.3 370.1 19.2 369.4 19.3 368.7 19.6 368.1 20.3 367.4 21.4 366.9 24.6 366.0 27.2 365.8 32.4 366.1 36.9 367.1 38.8 367.3 45.3 366.4 47.2 366.4 49.2 367.4 51.0 369.4 52.4 372.1 55.8 377.4 56.3 378.7 56.9 383.3 58.0 385.4 58.3 386.7 58.9 390.0 59.1 392.7 58.8 396.0 58.2 398.0 56.9 400.1 56.3 400.6 55.6 400.7 54.3 400.5 53.7 400.1 53.0 399.4 52.7 398.7 52.0 395.4 52.0 391.4 49.8 382.7 47.2 378.0 45.2 375.4 44.0 374.6 40.8 373.7 36.9 373.1 30.4 372.7 26.9 373.4 26.1 374.0 26.2 374.7 27.8 376.5 28.8 378.0 30.0 382.0 29.6 385.4 30.5 388.7 29.3 391.4 29.1 392.7 29.1 394.0 29.8 397.3 30.4 399.1 31.1 399.7 32.4 400.0 33.6 399.8 36.2 398.6 37.5 398.4 38.2 398.8 42.1 402.3 42.7 402.6 45.3 402.9 45.7 403.4 46.0 404.0 45.9 404.7 45.3 405.6 42.7 407.7 40.8 408.7 38.8 409.2 34.9 408.8 34.3 408.9 33.6 409.2 32.9 410.0 32.4 411.3 32.4 412.0 32.7 412.7 33.4 413.3 36.2 414.5 39.5 414.4 40.8 414.6 47.2 418.5 51.7 419.9 54.3 422.2 55.0 422.4 56.3 422.3 57.6 421.8 62.7 417.9 66.6 416.8 68.6 416.8 72.4 417.7 75.7 419.4 76.3 419.6 77.6 419.4 79.7 418.0 81.5 416.4 82.1 415.3 82.8 412.0 83.4 411.3 84.1 411.1 85.8 411.3 87.3 412.0 87.9 412.8 89.2 415.2 89.4 416.0 89.1 417.3 86.9 422.0 85.4 423.5 82.8 425.1 81.5 425.5 79.5 425.1 78.3 425.2 75.0 426.8 69.2 430.9 66.0 432.3 64.7 432.5 62.7 432.3 58.9 430.8 57.4 430.7 55.0 431.3 51.7 433.3 49.8 434.0zM42.1 392.1 40.8 392.6 39.5 392.6 38.2 392.0 37.0 390.7 36.7 390.0 36.2 386.6 34.3 384.2 33.9 383.4 33.9 382.7 34.3 382.3 34.9 382.0 36.2 382.3 37.5 383.9 38.2 384.3 42.7 384.9 44.0 385.4 44.6 386.0 45.0 386.7 45.3 388.0 44.9 389.4 44.0 390.5 42.1 392.1zM108.0 424.7 107.3 424.2 106.8 422.7 106.4 418.7 106.5 416.7 106.9 414.7 107.3 413.7 108.0 413.2 108.6 413.6 109.3 415.1 109.7 418.7 109.2 422.7 108.6 424.3 108.0 424.7zM89.9 378.8 88.6 379.1 86.7 379.2 84.1 378.8 82.1 378.1 80.2 376.9 78.3 375.2 76.7 373.4 75.5 371.4 75.1 370.1 74.8 368.1 74.9 366.7 75.4 364.7 76.5 362.7 77.6 361.5 79.3 360.1 80.8 359.2 82.8 358.5 85.4 358.1 87.9 358.3 90.5 359.0 92.5 359.8 94.4 361.0 95.7 362.4 96.8 364.1 97.5 366.1 97.8 368.1 97.5 370.1 96.9 372.1 95.4 374.7 93.8 376.6 91.8 377.9 89.9 378.8zM55.6 400.1 54.9 400.0 53.8 399.4 52.8 397.4 52.3 394.7 52.4 391.4 50.5 382.7 47.2 377.6 45.3 375.0 44.0 374.3 40.1 373.2 36.9 372.8 29.8 372.5 26.5 372.7 24.8 373.4 24.6 373.7 24.0 373.6 21.4 372.3 20.4 371.4 20.0 370.7 19.6 369.4 19.7 368.7 20.0 368.1 21.4 367.2 23.3 366.6 25.2 366.2 27.8 366.1 32.4 366.3 36.9 367.4 38.8 367.6 44.6 366.7 46.6 366.6 47.9 367.0 49.2 367.8 50.6 369.4 55.7 378.0 56.0 379.4 56.3 383.4 57.7 386.0 58.5 389.4 58.8 392.7 58.3 396.7 57.7 398.0 56.9 399.3 56.3 399.9 55.6 400.1zM50.5 433.4 47.2 433.9 45.9 433.8 45.3 433.6 42.7 432.2 37.5 430.9 34.9 431.1 32.4 430.9 29.1 431.0 26.5 430.7 25.0 430.0 22.1 428.0 20.7 426.4 19.3 425.3 18.9 424.7 19.0 423.3 19.4 421.3 19.4 418.0 20.0 416.7 22.1 414.0 22.7 412.7 22.7 411.3 22.2 408.0 21.5 399.4 21.8 394.7 22.3 392.7 24.2 390.0 24.8 388.7 25.4 386.7 25.5 386.0 24.4 382.7 22.7 379.4 22.4 378.0 22.7 376.9 23.3 375.7 24.0 374.8 24.6 374.5 27.8 377.4 28.7 379.4 29.2 382.7 28.6 385.4 29.5 388.0 29.5 388.7 28.6 391.4 28.5 392.7 29.1 396.3 30.1 399.4 31.1 400.4 32.4 400.8 33.6 400.5 36.2 399.5 37.5 399.6 42.1 403.4 44.1 404.7 42.8 406.7 42.1 407.4 40.8 408.1 38.2 408.6 34.3 408.3 33.6 408.5 33.0 409.1 31.9 410.7 31.7 412.0 32.4 413.5 34.3 415.0 35.6 415.4 39.5 415.1 40.8 415.4 47.9 419.3 51.1 420.0 52.1 420.7 53.7 422.7 54.3 423.2 55.0 423.5 56.3 423.2 57.6 422.6 62.7 418.4 67.3 417.2 68.6 417.3 72.4 418.3 75.0 420.0 76.3 420.5 77.0 420.5 77.6 420.3 82.1 416.7 83.0 415.3 83.5 413.3 84.1 412.5 84.7 412.4 86.7 413.3 87.3 413.9 88.2 415.3 88.5 416.0 88.5 417.3 86.7 421.6 85.4 423.0 82.8 424.6 81.5 424.9 78.9 424.2 78.3 424.3 74.1 426.7 71.8 428.3 69.0 430.7 66.0 432.0 64.7 432.2 62.7 431.9 61.4 431.4 58.9 430.1 57.6 429.8 54.3 430.7 51.8 432.7 50.5 433.4zM41.4 391.7 40.1 391.9 39.5 391.7 38.8 391.3 37.8 390.0 37.4 388.7 37.3 387.4 37.5 386.2 38.2 385.7 40.1 385.4 42.7 385.6 43.8 386.0 44.4 386.7 44.8 388.0 44.3 389.4 43.3 390.3 41.4 391.7zM108.0 424.3 107.3 423.7 107.0 422.7 106.6 420.7 106.5 418.7 106.9 415.3 107.3 414.1 108.0 413.6 108.6 414.0 109.2 415.3 109.6 418.7 109.4 420.7 109.1 422.7 108.6 423.8 108.0 424.3zM88.6 378.8 86.7 378.9 84.7 378.6 82.8 378.0 81.5 377.4 79.5 376.0 77.6 374.0 76.6 372.7 75.6 370.7 75.3 369.4 75.2 367.4 75.3 366.1 76.1 364.1 76.9 362.7 78.3 361.3 80.2 359.9 82.1 359.0 84.1 358.5 86.7 358.5 89.2 358.9 91.8 359.8 93.8 360.9 95.0 362.1 96.0 363.4 97.0 365.4 97.4 367.4 97.3 369.4 96.8 371.4 95.4 374.0 93.8 376.0 92.5 377.1 90.5 378.2 88.6 378.8zM55.6 399.4 55.0 399.3 54.1 398.7 53.3 397.4 52.8 396.0 52.6 394.7 52.7 391.4 51.9 388.0 51.5 384.0 51.1 382.7 46.6 376.2 45.4 374.7 44.0 374.0 40.8 373.1 38.2 372.6 33.6 372.5 30.4 372.1 25.9 372.3 24.0 372.7 22.7 372.6 21.4 371.9 20.4 370.7 20.1 369.4 20.2 368.7 20.6 368.1 22.0 367.2 24.6 366.6 29.8 366.3 33.0 366.5 38.2 367.9 39.5 367.8 44.0 366.9 46.6 366.9 47.9 367.3 49.2 368.2 50.8 370.1 51.7 372.1 55.2 378.0 55.6 379.4 55.5 382.7 55.7 383.4 57.2 386.0 58.2 389.6 58.6 392.7 58.1 396.0 57.7 397.4 56.9 398.5 56.3 399.2 55.6 399.4zM27.2 384.3 26.5 384.6 25.9 384.1 24.8 382.0 23.6 380.0 23.0 378.7 22.9 378.0 23.3 376.8 24.0 376.0 24.6 375.7 25.2 375.9 26.5 376.9 27.5 378.0 27.9 378.7 28.2 380.0 28.1 382.0 27.8 383.4 27.2 384.3zM41.4 390.9 40.1 391.1 39.5 390.9 38.6 390.0 38.3 389.4 38.0 388.0 38.2 387.2 38.8 386.5 40.1 386.1 42.7 386.2 43.3 386.5 44.0 387.2 44.2 388.0 44.1 388.7 43.7 389.4 41.4 390.9zM49.2 433.3 45.9 433.5 42.7 431.7 38.2 430.5 36.9 430.4 34.9 430.6 29.8 430.6 27.8 430.5 26.5 430.2 25.1 429.3 24.4 428.7 23.1 426.7 20.5 424.0 20.1 423.3 20.0 418.0 20.6 416.7 22.7 413.7 23.1 412.0 22.4 408.0 21.7 399.4 22.0 394.5 22.7 392.6 24.2 390.7 25.9 387.8 26.5 387.0 27.2 386.9 27.8 387.4 28.2 388.0 28.3 388.7 28.0 391.4 28.5 395.0 29.4 398.7 29.8 399.7 30.4 400.5 31.1 401.1 32.4 401.6 33.6 401.4 36.2 400.4 37.5 400.6 40.4 402.7 41.6 404.0 42.3 405.4 42.2 406.0 41.8 406.7 40.8 407.4 38.8 408.0 37.5 408.1 34.3 407.6 33.6 407.8 32.1 409.3 31.2 410.7 31.1 411.3 31.2 412.7 32.4 414.8 33.6 416.0 35.6 416.2 38.8 415.8 40.1 415.8 42.7 417.0 47.9 419.8 51.1 420.5 52.1 421.3 54.6 425.3 55.0 425.7 55.6 425.9 56.3 425.8 56.7 425.3 57.3 424.0 59.8 421.3 62.1 419.2 63.4 418.5 66.6 417.8 67.9 417.7 72.4 418.8 75.7 421.1 77.0 421.5 77.6 421.5 83.0 416.7 84.7 414.9 85.4 414.7 86.0 414.8 86.7 415.1 87.5 416.0 87.7 417.3 87.4 418.7 86.4 421.3 85.2 422.7 83.4 423.8 82.1 424.2 80.8 424.2 78.9 423.4 78.3 423.3 77.6 423.6 76.3 424.7 73.9 426.0 71.8 427.4 69.3 430.0 67.9 430.8 65.3 431.8 63.4 431.7 61.4 431.1 58.2 429.0 57.6 428.8 54.3 429.8 51.0 432.7 49.2 433.3zM108.6 423.3 108.0 423.9 107.3 423.3 107.0 422.0 106.7 420.0 106.6 418.0 106.9 416.0 107.3 414.5 108.0 414.0 108.8 414.7 109.4 417.3 109.3 420.7 108.6 423.3zM89.9 378.0 88.6 378.4 86.7 378.5 84.1 378.1 82.1 377.4 80.2 376.1 78.7 374.7 77.5 373.4 76.3 371.4 75.8 370.1 75.5 368.1 75.5 366.7 76.1 364.7 76.8 363.4 77.9 362.1 79.4 360.7 80.8 359.9 82.8 359.1 84.7 358.8 86.7 358.8 89.2 359.2 91.8 360.2 93.8 361.3 95.1 362.6 96.0 364.1 96.8 366.1 97.1 368.1 96.8 370.1 96.1 372.1 94.9 374.0 93.3 376.0 91.8 377.1 89.9 378.0zM56.3 398.4 55.6 398.7 55.0 398.6 54.3 398.1 53.7 397.2 53.0 395.7 52.9 394.0 53.0 391.4 52.3 388.0 52.1 383.4 51.3 382.0 49.2 379.6 45.7 374.7 44.6 374.0 40.1 372.5 38.8 372.3 33.6 372.2 30.4 371.9 26.5 371.7 25.2 371.8 24.0 372.2 22.7 372.2 21.4 371.5 20.8 370.7 20.5 369.4 20.6 368.7 21.2 368.1 22.5 367.4 25.2 366.8 31.1 366.5 33.6 366.9 38.2 368.3 39.5 368.2 42.7 367.3 45.9 367.0 47.9 367.6 49.2 368.5 50.5 370.1 51.4 372.1 53.1 374.7 54.8 378.0 55.1 379.4 54.7 382.7 56.7 386.0 58.0 390.0 58.3 392.7 58.0 395.4 57.6 396.8 56.9 397.8 56.3 398.4zM26.5 381.7 25.9 381.7 25.2 381.3 24.6 380.6 23.8 379.4 23.6 378.0 23.7 377.4 24.0 377.0 24.6 376.6 25.2 376.8 25.9 377.2 27.2 378.7 27.3 380.0 27.2 380.7 26.5 381.7zM41.4 390.2 40.1 390.4 39.5 390.0 39.0 389.4 38.7 388.0 39.0 387.4 39.5 387.0 40.8 386.8 42.1 386.8 42.7 386.9 43.4 387.4 43.6 388.0 43.4 388.7 42.7 389.5 41.4 390.2zM49.8 432.8 47.2 433.2 45.9 433.2 42.7 431.3 38.2 429.9 34.3 430.2 27.2 430.0 25.9 429.3 25.4 428.7 24.7 426.7 22.5 424.7 20.9 422.7 20.5 419.3 20.5 418.0 21.0 416.7 22.9 414.0 23.4 412.0 22.6 407.3 21.9 399.4 22.2 394.7 22.9 392.7 25.9 389.2 26.5 388.9 27.2 389.5 28.4 396.0 29.1 399.0 29.8 400.4 30.4 401.2 31.7 402.3 32.4 402.5 33.6 402.4 36.2 401.4 37.5 401.6 38.8 402.2 40.1 403.2 41.1 404.7 41.3 405.4 41.2 406.0 40.7 406.7 39.1 407.3 36.9 407.5 34.3 406.7 33.6 406.8 33.0 407.5 30.9 410.0 30.4 411.3 30.6 412.7 31.3 414.7 31.7 416.8 32.4 417.2 38.8 416.4 40.1 416.5 42.7 417.5 47.9 420.3 50.5 420.7 51.5 421.3 52.8 423.3 53.8 426.0 54.3 426.7 55.4 427.3 55.8 428.0 53.7 429.5 51.1 432.0 49.8 432.8zM108.0 423.5 107.3 422.8 107.1 422.0 106.7 418.7 106.9 416.7 107.2 415.3 107.3 415.0 108.0 414.3 108.6 414.8 108.8 415.3 109.2 416.7 109.3 418.7 108.9 422.0 108.6 422.9 108.0 423.5zM82.8 423.6 81.5 423.8 80.2 423.3 79.3 422.7 79.0 422.0 79.1 421.3 79.5 420.7 80.7 419.3 83.4 417.1 84.7 416.4 86.0 416.4 86.5 416.7 86.8 417.3 86.8 418.7 86.2 420.7 85.4 422.1 84.1 423.0 82.8 423.6zM65.3 431.5 63.4 431.4 61.4 430.7 59.0 428.7 58.4 428.0 58.2 427.3 58.3 424.7 58.8 423.3 59.7 422.0 62.1 419.7 62.7 419.2 64.0 418.7 67.3 418.2 69.8 418.9 71.8 419.0 73.1 419.7 74.4 421.1 76.4 422.7 76.4 423.3 75.9 424.0 71.8 426.4 69.5 429.3 68.8 430.0 66.6 431.1 65.3 431.5zM88.6 378.1 86.7 378.2 84.7 377.9 82.8 377.3 81.5 376.7 79.8 375.4 78.5 374.0 77.4 372.7 76.4 370.7 76.0 369.4 75.8 367.4 76.1 365.4 76.7 364.1 77.6 362.7 78.9 361.5 80.2 360.6 82.1 359.6 84.1 359.1 86.7 359.1 89.2 359.6 91.2 360.2 93.1 361.3 94.4 362.3 95.7 364.1 96.3 365.4 96.7 367.4 96.6 369.4 96.0 371.4 95.0 373.4 93.8 375.0 92.5 376.3 90.5 377.4 88.6 378.1zM53.0 382.3 51.7 381.7 49.8 379.9 46.1 374.7 44.6 373.8 42.1 373.0 40.1 372.2 38.8 371.9 33.6 372.0 25.9 371.2 24.0 371.7 22.7 371.8 21.8 371.4 21.2 370.7 21.0 369.4 21.2 368.7 22.0 368.0 24.0 367.3 25.9 367.0 30.4 366.7 33.6 367.1 38.2 368.7 39.5 368.6 41.4 367.8 44.0 367.3 45.9 367.3 47.2 367.6 49.1 368.7 50.2 370.1 51.4 372.7 53.2 375.4 54.3 378.0 54.6 379.4 54.5 380.0 53.7 381.8 53.0 382.3zM25.9 379.5 25.2 379.7 24.6 378.8 24.6 378.5 25.2 378.0 25.9 378.7 25.9 379.5zM56.3 397.8 55.6 398.0 55.0 397.8 54.3 397.3 53.7 396.4 53.3 395.4 53.1 394.0 53.3 391.4 52.6 387.4 53.0 384.6 53.7 383.8 54.3 384.0 55.0 384.4 56.2 386.0 57.6 389.7 58.0 391.4 58.0 393.4 57.6 395.8 56.9 397.2 56.3 397.8zM41.4 389.4 40.8 389.6 39.9 389.4 39.5 388.7 39.6 388.0 40.1 387.7 40.8 387.5 42.1 387.6 42.6 388.0 42.4 388.7 41.4 389.4zM49.2 432.7 47.2 432.9 45.9 432.8 45.3 432.6 43.3 431.1 38.2 429.3 36.9 429.3 33.6 429.7 28.5 429.6 27.2 429.4 26.2 428.7 25.6 426.7 25.2 426.0 23.3 424.6 21.7 422.7 21.2 421.3 21.0 418.0 21.5 416.7 23.2 414.0 23.6 412.0 22.8 408.0 22.5 404.7 22.0 398.7 22.3 395.4 22.6 394.0 23.2 392.7 25.2 390.8 25.9 390.4 26.5 390.7 26.9 391.4 27.6 393.4 29.1 399.9 29.8 401.0 31.1 402.7 31.7 403.2 33.0 403.7 33.6 403.7 35.6 402.6 36.2 402.4 37.5 402.5 39.3 403.4 40.2 404.7 40.3 405.4 40.0 406.0 38.9 406.7 38.2 406.8 36.7 406.7 34.3 405.2 33.6 405.2 33.0 405.9 32.0 408.0 30.4 410.0 29.9 411.3 30.0 412.7 30.6 414.7 30.6 417.3 31.0 418.7 31.7 418.9 34.3 417.6 38.2 417.0 39.5 417.0 42.7 418.0 47.9 420.8 50.5 421.2 51.1 421.5 51.7 422.3 52.6 424.0 53.9 428.0 53.1 429.3 51.1 431.5 50.5 432.1 49.2 432.7zM108.0 423.0 107.3 422.0 106.9 418.7 107.2 416.0 107.3 415.4 108.0 414.7 108.6 415.3 108.9 416.0 109.2 418.7 108.8 422.0 108.6 422.4 108.0 423.0zM83.4 422.8 82.1 423.2 80.8 423.0 80.4 422.7 80.0 422.0 80.0 421.3 80.9 420.0 82.8 418.3 84.1 417.6 85.4 417.7 86.0 418.7 85.8 420.7 84.9 422.0 83.4 422.8zM66.6 430.8 64.7 431.2 62.7 430.9 61.0 430.0 59.7 428.7 59.0 427.3 59.0 426.0 59.2 424.0 59.8 422.7 62.1 420.1 62.7 419.6 64.0 419.1 67.3 418.7 69.2 419.6 71.1 419.5 72.4 419.9 73.3 420.7 74.1 422.0 74.3 422.7 74.2 423.3 71.1 425.9 70.0 428.0 69.0 429.3 68.2 430.0 66.6 430.8zM89.2 377.6 87.9 377.8 86.0 377.8 84.1 377.5 82.1 376.7 80.2 375.4 78.9 374.0 77.6 372.4 76.7 370.7 76.3 369.4 76.1 367.4 76.3 366.1 76.7 364.7 77.5 363.4 78.7 362.1 80.2 360.9 81.5 360.2 83.4 359.5 85.4 359.3 87.3 359.4 89.9 360.1 91.8 360.9 93.7 362.1 94.9 363.4 95.7 364.7 96.3 366.7 96.4 368.1 96.1 370.1 95.3 372.1 94.1 374.0 93.0 375.4 91.2 376.7 89.2 377.6zM53.0 381.1 52.4 381.2 51.7 381.0 49.8 379.5 46.6 375.0 45.7 374.0 44.6 373.5 42.0 372.7 39.5 371.5 33.6 371.8 28.5 371.1 25.9 370.6 23.3 371.4 22.7 371.4 21.7 370.7 21.5 370.1 21.5 369.4 22.0 368.5 23.3 367.9 25.6 367.4 31.1 366.9 32.4 367.0 34.1 367.4 38.2 369.4 38.8 369.5 41.3 368.1 42.7 367.7 45.3 367.4 47.2 367.8 48.5 368.5 49.8 369.9 51.1 372.7 52.9 375.4 53.9 378.0 54.1 379.4 53.7 380.5 53.0 381.1zM56.3 397.1 55.6 397.3 55.0 397.2 54.3 396.7 53.7 395.6 53.5 394.7 53.5 390.7 53.1 388.7 53.0 387.4 53.6 385.4 54.3 385.0 55.0 385.3 55.7 386.0 57.3 390.0 57.8 392.0 57.8 393.4 57.4 395.4 56.9 396.5 56.3 397.1zM49.8 432.1 47.9 432.6 45.9 432.5 43.3 430.7 41.3 430.0 39.5 429.1 38.2 428.8 36.2 428.7 34.3 429.2 32.4 429.3 27.8 429.0 27.1 428.7 26.6 428.0 25.9 425.8 23.3 423.9 22.3 422.7 21.7 421.3 21.4 418.0 21.9 416.7 23.5 414.0 23.9 412.0 22.9 407.3 22.2 398.0 22.8 394.0 23.3 393.0 24.6 391.8 25.2 391.4 25.9 391.3 26.5 391.8 27.5 394.0 28.9 400.0 31.1 403.7 31.9 404.7 32.1 405.4 31.8 407.3 29.9 410.0 29.5 411.3 29.5 412.7 29.9 414.0 30.0 415.3 29.3 419.3 29.4 420.0 30.0 420.7 31.1 420.8 32.4 420.0 33.6 418.7 34.9 418.0 38.2 417.5 39.5 417.5 42.7 418.4 45.9 420.1 47.9 421.4 50.5 421.7 51.1 422.1 52.1 424.0 53.1 428.0 52.5 429.3 50.7 431.3 49.8 432.1zM38.2 405.4 37.5 405.3 36.9 404.8 36.6 404.0 37.5 403.8 38.2 404.0 38.7 404.7 38.2 405.4zM108.0 422.6 107.3 421.7 107.0 418.7 107.3 416.0 108.0 415.1 108.7 416.0 109.1 418.7 108.6 421.8 108.0 422.6zM84.1 422.0 82.1 422.6 81.5 422.5 80.9 422.0 80.9 421.3 82.3 419.3 83.4 418.5 84.1 418.4 84.9 418.7 85.4 419.3 85.4 420.0 84.9 421.3 84.1 422.0zM66.0 430.7 64.7 430.9 62.7 430.6 61.4 429.9 60.2 428.7 59.8 428.0 59.5 426.7 59.8 424.0 60.3 422.7 61.3 421.3 62.7 420.0 63.4 419.6 64.7 419.3 66.6 419.1 67.3 419.3 69.2 420.6 69.8 420.6 71.1 420.2 71.8 420.2 72.4 420.6 73.0 421.3 73.1 422.0 73.0 422.7 72.6 423.3 70.5 425.6 69.2 428.7 67.9 429.8 66.0 430.7zM88.6 377.4 86.7 377.5 84.7 377.3 83.4 377.0 81.6 376.0 80.2 375.0 78.7 373.4 77.6 371.9 76.7 370.1 76.4 368.1 76.4 366.7 76.7 365.4 77.3 364.1 78.3 362.9 79.5 361.7 82.1 360.2 84.1 359.7 86.0 359.6 87.9 359.8 90.5 360.6 92.5 361.6 93.8 362.6 95.0 364.1 95.6 365.4 96.1 367.4 96.0 368.7 95.5 370.7 94.6 372.7 93.1 374.7 91.8 375.9 90.5 376.7 88.6 377.4zM35.6 371.5 33.6 371.6 32.4 371.5 28.5 370.7 25.9 369.8 25.2 369.9 23.6 370.7 22.7 370.8 22.0 370.1 22.0 369.4 22.7 368.7 24.8 368.1 31.1 367.2 33.0 367.3 34.9 368.0 36.2 368.7 37.0 369.4 37.5 370.1 37.6 370.7 36.9 371.1 35.6 371.5zM53.0 380.3 52.4 380.6 51.7 380.5 50.5 379.8 49.4 378.7 46.0 374.0 44.8 373.4 42.1 372.5 40.4 371.4 39.9 370.7 39.8 370.1 40.0 369.4 40.6 368.7 42.0 368.1 44.6 367.6 46.6 367.8 48.5 368.8 49.7 370.1 50.8 372.7 52.3 374.7 52.9 376.0 53.6 378.7 53.6 379.4 53.0 380.3zM55.6 396.8 55.0 396.6 54.3 396.0 53.8 394.7 53.9 390.7 53.4 388.0 53.7 386.7 54.3 386.0 55.0 386.2 55.6 387.1 56.9 390.0 57.5 392.0 57.6 393.4 56.9 395.7 56.3 396.6 55.6 396.8zM49.2 432.1 47.2 432.4 45.9 432.2 43.3 430.3 41.4 429.6 39.5 428.6 36.9 428.0 35.6 428.0 33.7 428.7 32.4 428.8 29.1 428.7 27.8 428.4 27.2 427.6 26.4 425.3 25.9 424.8 24.0 423.8 22.7 422.4 22.0 420.7 21.8 418.0 22.3 416.7 23.8 414.0 24.2 412.0 23.0 406.7 22.4 398.0 23.1 394.0 23.9 392.7 24.6 392.2 25.2 391.9 25.9 391.9 26.7 392.7 27.2 394.0 28.6 400.0 31.0 404.7 31.5 406.0 31.3 407.3 29.8 409.5 29.1 411.3 29.0 412.7 29.5 414.7 29.3 416.0 28.5 418.7 28.5 420.3 28.9 421.3 29.8 421.9 31.1 422.3 32.4 421.2 33.9 419.3 34.6 418.7 36.2 418.2 38.8 418.0 42.7 418.8 45.9 420.5 47.9 422.1 48.5 422.2 49.8 422.1 50.5 422.3 51.1 422.9 51.7 424.2 52.6 428.0 52.0 429.3 50.3 431.3 49.2 432.1zM108.0 422.2 107.3 421.0 107.1 418.7 107.3 416.5 108.0 415.5 108.6 416.2 108.9 418.7 108.6 421.2 108.0 422.2zM84.1 421.4 82.8 421.8 82.1 421.3 82.6 420.0 83.4 419.3 84.1 419.2 84.7 420.0 84.6 420.7 84.1 421.4zM66.6 430.2 64.7 430.6 62.7 430.3 61.2 429.3 60.6 428.7 60.0 427.3 60.0 425.3 60.7 422.7 62.4 420.7 64.0 419.7 65.3 419.5 66.6 419.6 67.5 420.0 69.2 421.8 69.8 421.9 71.1 421.3 71.8 421.3 72.0 422.0 71.7 422.7 69.9 425.3 69.4 427.3 68.7 428.7 67.9 429.4 66.6 430.2zM89.2 376.9 87.9 377.2 86.0 377.2 84.1 376.9 82.8 376.4 81.2 375.4 79.7 374.0 78.3 372.3 77.3 370.7 76.9 369.4 76.6 368.1 76.7 366.7 77.0 365.4 77.7 364.1 78.8 362.7 80.2 361.6 81.5 360.8 82.8 360.3 84.7 359.9 86.7 359.9 88.6 360.3 90.5 361.0 92.6 362.1 94.1 363.4 95.0 364.7 95.5 366.1 95.7 368.1 95.5 369.4 94.8 371.4 93.7 373.4 92.5 374.9 91.0 376.0 89.2 376.9zM34.3 371.4 32.4 371.3 28.4 370.1 27.6 369.4 27.3 368.7 31.0 367.4 32.4 367.4 33.6 367.6 35.7 368.7 36.3 369.4 36.7 370.1 36.5 370.7 35.6 371.1 34.3 371.4zM52.4 379.9 51.7 380.0 51.1 379.8 49.8 378.8 46.9 374.7 45.9 373.7 45.3 373.3 42.7 372.5 41.0 371.4 40.6 370.7 40.4 370.1 40.5 369.4 41.1 368.7 42.7 368.1 45.3 367.8 47.2 368.2 48.9 369.4 49.8 370.7 50.5 372.8 52.0 374.7 52.6 376.0 53.1 378.7 53.0 379.4 52.4 379.9zM55.6 396.2 55.0 396.0 54.4 395.4 54.0 394.0 54.3 390.7 54.0 388.0 54.3 387.3 55.0 387.4 56.9 390.9 57.3 392.0 57.3 393.4 56.9 394.8 56.3 395.9 55.6 396.2zM47.9 432.0 46.6 432.1 45.9 431.9 43.3 429.8 41.4 429.1 39.5 428.1 36.8 427.3 35.6 427.2 32.4 428.2 28.5 427.9 27.8 427.3 27.5 424.7 27.2 424.2 24.6 423.6 24.0 423.2 23.0 422.0 22.2 419.3 22.2 418.0 24.1 414.0 24.5 412.0 23.4 408.0 23.1 406.0 22.6 398.0 23.3 394.0 24.0 393.0 24.6 392.5 25.2 392.3 25.9 392.4 26.7 393.4 28.5 400.4 29.6 402.7 30.9 406.0 30.8 407.3 29.2 410.0 28.6 412.0 28.6 413.3 29.0 414.7 28.9 415.3 28.1 417.3 27.8 418.7 27.8 422.0 28.2 423.3 29.8 425.0 30.4 425.3 31.1 425.2 31.7 424.5 32.8 422.0 34.9 419.2 36.2 418.7 38.8 418.5 41.4 418.8 42.7 419.2 45.9 420.9 47.2 422.4 47.9 422.9 49.8 422.7 50.5 423.0 51.1 423.8 51.5 424.7 52.1 427.3 52.0 428.7 49.8 431.3 49.2 431.7 47.9 432.0zM108.0 421.6 107.3 420.2 107.2 418.7 107.3 417.2 108.0 415.9 108.6 416.9 108.8 418.7 108.6 420.5 108.0 421.6zM66.0 430.2 64.7 430.4 62.7 430.0 61.7 429.3 61.0 428.7 60.4 427.3 60.5 425.3 61.1 422.7 62.7 420.8 63.4 420.3 64.7 419.9 66.0 419.9 67.3 420.4 68.6 422.4 69.5 423.3 69.6 424.0 68.7 428.0 67.6 429.3 66.0 430.2zM88.6 376.7 87.3 376.9 85.4 376.8 83.4 376.3 82.1 375.7 80.8 374.7 79.5 373.4 78.3 371.8 77.4 370.1 77.0 368.7 76.9 367.4 77.1 366.1 77.6 364.7 78.5 363.4 79.5 362.4 82.1 360.8 83.4 360.4 85.4 360.1 87.3 360.3 89.2 360.8 91.2 361.6 93.0 362.7 94.2 364.1 95.0 365.4 95.3 366.7 95.3 368.7 95.0 370.1 94.1 372.1 93.1 373.6 91.8 375.0 90.3 376.0 88.6 376.7zM35.6 370.7 33.6 371.2 31.2 370.7 29.8 370.1 29.2 369.4 29.3 368.7 30.1 368.1 31.1 367.7 32.4 367.6 33.6 367.9 35.2 368.7 35.8 369.4 36.0 370.1 35.6 370.7zM51.7 379.5 50.5 379.0 49.8 378.4 47.2 374.7 45.9 373.5 42.7 372.3 41.5 371.4 40.9 370.1 41.0 369.4 41.6 368.7 43.3 368.1 45.3 368.0 47.2 368.4 48.6 369.4 49.5 370.7 50.5 373.4 51.7 374.8 52.4 376.0 52.7 377.4 52.6 378.7 52.4 379.1 51.7 379.5zM55.6 395.6 55.0 395.3 54.6 394.7 54.3 393.4 54.4 392.0 55.0 390.1 55.6 390.0 56.3 390.6 56.7 391.4 57.1 392.7 56.9 393.8 56.6 394.7 56.3 395.2 55.6 395.6zM25.9 422.8 25.2 422.9 24.6 422.8 24.0 422.3 23.3 421.3 22.5 418.7 22.8 417.3 24.2 414.7 24.9 412.7 24.7 411.3 23.6 408.0 23.2 406.0 22.7 398.0 23.6 394.0 24.6 392.9 25.2 392.7 25.9 392.8 26.7 394.0 28.1 400.0 30.1 404.7 30.6 406.7 30.1 408.0 28.9 410.0 28.1 412.0 27.9 413.3 28.2 414.7 28.2 415.3 27.4 417.3 27.2 420.7 26.7 422.0 25.9 422.8zM108.0 421.1 107.6 420.0 107.4 418.7 107.6 417.3 108.0 416.4 108.5 417.3 108.7 418.7 108.5 420.0 108.0 421.1zM49.2 431.4 47.2 431.8 45.9 431.6 43.3 429.4 41.4 428.7 40.1 427.9 36.9 426.8 35.6 426.7 32.4 427.4 31.8 427.3 31.3 426.7 31.7 426.2 33.2 422.7 35.1 420.0 35.6 419.5 36.2 419.2 38.2 418.9 42.1 419.3 45.8 421.3 47.2 423.3 47.9 423.6 49.8 423.4 50.5 423.7 51.1 424.7 51.6 426.7 51.7 428.0 51.1 429.3 49.2 431.4zM65.3 430.1 63.6 430.0 62.1 429.3 61.1 428.0 60.8 426.7 61.2 423.3 61.9 422.0 63.4 420.6 64.0 420.3 65.3 420.1 66.6 420.4 67.3 421.1 68.8 424.0 68.9 424.7 68.3 428.0 67.9 428.7 67.1 429.3 65.3 430.1zM89.2 376.2 87.9 376.6 86.0 376.6 84.1 376.2 82.8 375.7 81.5 374.9 80.2 373.8 78.9 372.2 78.0 370.7 77.4 369.4 77.2 368.1 77.2 366.7 77.6 365.4 78.9 363.3 80.2 362.2 81.5 361.4 83.3 360.7 84.7 360.5 86.0 360.4 87.9 360.7 89.9 361.4 91.8 362.3 93.3 363.4 94.3 364.7 94.8 366.1 95.0 367.4 94.9 368.7 94.3 370.7 93.3 372.7 92.3 374.0 90.8 375.4 89.2 376.2zM34.3 370.8 32.4 370.8 31.1 370.3 30.6 370.1 30.1 369.4 30.1 368.7 30.9 368.1 31.7 367.8 33.6 368.1 34.7 368.7 35.3 369.4 35.4 370.1 34.9 370.6 34.3 370.8zM51.7 378.9 51.1 378.9 50.5 378.7 49.8 378.1 47.5 374.7 46.2 373.4 42.8 372.1 41.9 371.4 41.3 370.1 41.5 369.4 42.2 368.7 42.7 368.5 45.3 368.1 47.2 368.6 48.3 369.4 49.3 370.7 50.1 373.4 51.7 375.2 52.1 376.0 52.3 378.0 51.7 378.9zM55.6 394.9 55.0 394.4 54.7 393.4 55.0 391.5 55.6 391.0 56.3 391.3 56.7 392.7 56.3 394.4 55.6 394.9zM25.9 421.6 25.2 421.9 24.6 421.7 24.0 421.0 23.3 420.0 22.9 418.7 23.2 417.3 25.3 413.3 25.0 411.3 24.0 408.6 23.5 406.7 22.9 398.7 23.4 395.4 23.8 394.0 24.6 393.2 25.2 393.0 25.9 393.2 26.5 394.1 27.9 400.0 29.3 403.4 30.2 406.0 30.2 406.7 30.1 407.3 26.9 413.3 26.8 414.0 27.1 415.3 26.8 420.0 26.5 420.8 25.9 421.6zM108.0 420.4 107.7 418.7 108.0 417.0 108.4 418.7 108.0 420.4zM48.5 431.3 47.2 431.6 46.1 431.3 43.3 429.0 42.1 428.5 40.1 427.4 36.9 426.2 36.2 426.2 33.6 426.5 33.0 426.2 32.8 425.3 33.5 423.3 34.3 422.3 35.5 421.3 36.4 420.0 36.9 419.8 38.2 419.4 39.5 419.4 41.4 419.5 42.7 420.0 45.3 421.4 45.9 422.0 46.6 423.4 47.2 424.0 47.9 424.2 49.8 424.0 50.6 424.7 51.1 426.2 51.3 428.0 51.0 428.7 49.5 430.7 48.5 431.3zM66.0 429.6 64.7 429.9 62.7 429.3 61.9 428.7 61.3 427.3 61.3 424.7 61.8 422.7 62.9 421.3 63.9 420.7 64.7 420.5 66.0 420.5 66.6 420.9 67.3 422.0 68.4 424.7 68.3 426.7 67.9 428.0 67.3 428.8 66.0 429.6zM88.6 376.1 87.3 376.3 85.4 376.2 84.1 375.9 82.7 375.4 81.5 374.6 80.2 373.3 78.9 371.7 78.0 370.1 77.6 368.7 77.4 367.4 77.9 365.4 78.6 364.1 79.5 363.1 80.8 362.1 82.1 361.4 84.1 360.9 85.4 360.7 86.7 360.8 88.6 361.2 90.7 362.1 92.5 363.2 93.4 364.1 94.2 365.4 94.6 366.7 94.6 368.1 94.4 369.4 93.6 371.4 92.5 373.3 91.2 374.7 89.9 375.5 88.6 376.1zM34.3 370.5 33.0 370.6 31.2 370.1 30.7 369.4 30.8 368.7 31.9 368.1 33.0 368.1 33.6 368.4 34.2 368.7 34.8 369.4 34.8 370.1 34.3 370.5zM51.7 378.2 51.1 378.5 50.2 378.0 47.8 374.7 46.6 373.4 45.3 372.7 43.3 372.1 42.3 371.4 41.9 370.7 41.7 370.1 41.9 369.4 42.8 368.7 45.3 368.3 46.6 368.6 48.0 369.4 49.1 370.7 49.7 373.4 51.1 374.8 51.9 376.0 52.0 377.4 51.7 378.2zM56.3 393.4 55.6 394.0 55.2 393.4 55.2 392.7 55.6 391.8 56.3 392.3 56.3 393.4zM26.5 412.2 25.9 412.0 24.6 409.7 23.8 407.3 23.4 404.7 23.1 398.7 23.2 397.4 24.0 394.4 24.6 393.6 25.2 393.4 25.9 393.6 26.5 394.7 27.8 400.7 29.0 403.4 29.7 405.4 29.9 406.7 29.5 408.0 27.8 410.8 27.2 411.8 26.5 412.2zM25.2 420.7 24.6 420.5 24.0 419.9 23.4 418.7 23.4 418.0 24.0 417.0 25.2 415.7 25.9 416.1 26.4 418.7 26.2 420.0 25.9 420.4 25.2 420.7zM108.0 419.3 108.0 418.0 108.0 419.3zM48.5 431.0 47.2 431.3 45.9 430.9 44.0 428.9 42.1 428.1 40.1 426.9 37.5 425.8 36.2 425.6 34.3 425.9 33.5 425.3 33.7 424.0 34.3 423.2 36.2 422.2 37.1 420.7 37.9 420.0 39.5 419.7 42.1 420.0 45.2 422.0 46.4 424.0 47.2 424.7 47.9 424.8 49.2 424.6 49.8 424.6 50.4 425.3 50.7 426.7 50.7 428.0 49.6 430.0 48.5 431.0zM65.3 429.5 64.0 429.5 62.7 428.9 61.9 428.0 61.6 426.7 61.7 424.0 62.1 422.7 63.4 421.3 64.7 420.8 66.0 420.9 66.5 421.3 67.9 424.7 67.9 426.7 67.5 428.0 66.6 428.9 65.3 429.5zM89.2 375.5 87.9 375.9 86.7 376.0 84.7 375.8 83.4 375.4 81.3 374.0 80.1 372.7 78.9 371.2 78.3 370.1 77.9 368.7 77.7 367.4 77.9 366.1 79.0 364.1 80.8 362.5 82.1 361.8 84.1 361.2 85.4 361.0 87.3 361.2 89.2 361.8 91.2 362.7 92.5 363.6 93.5 364.7 94.1 366.1 94.3 367.4 94.1 368.7 93.5 370.7 92.9 372.1 91.8 373.5 90.5 374.7 89.2 375.5zM33.6 370.3 33.0 370.3 31.9 370.1 31.2 369.4 31.4 368.7 32.4 368.4 33.7 368.7 34.2 369.4 34.1 370.1 33.6 370.3zM51.1 378.0 50.5 377.9 49.8 377.2 48.3 374.7 47.0 373.4 45.9 372.8 43.8 372.1 42.7 371.4 42.3 370.7 42.1 370.1 42.4 369.4 43.5 368.7 45.3 368.5 46.6 368.7 47.9 369.5 48.8 370.7 49.3 373.4 49.7 374.0 51.1 375.2 51.6 376.0 51.6 377.4 51.1 378.0zM27.2 411.0 26.5 411.3 25.9 411.1 25.2 410.3 24.1 408.0 23.6 405.4 23.3 398.0 24.1 394.7 24.6 393.9 25.2 393.7 25.9 394.0 26.2 394.7 27.6 400.7 28.8 403.4 29.6 406.0 29.5 407.3 29.2 408.0 27.2 411.0zM25.2 419.6 24.6 419.5 23.9 418.7 24.0 418.0 24.6 417.3 25.2 417.3 25.7 418.0 25.8 418.7 25.6 419.3 25.2 419.6zM47.9 430.9 47.2 431.0 46.1 430.7 44.0 428.4 41.6 427.3 37.5 424.7 36.9 424.7 34.9 425.3 34.3 424.9 34.2 424.7 34.5 424.0 34.9 423.6 36.9 423.2 37.6 421.3 38.2 420.5 38.8 420.2 40.1 420.1 42.1 420.4 44.6 422.2 45.1 422.7 45.9 424.3 46.6 425.0 47.9 425.5 49.2 425.4 49.8 425.8 50.1 427.3 49.8 428.7 49.1 430.0 48.5 430.6 47.9 430.9zM66.0 429.0 64.7 429.3 63.4 429.0 62.4 428.0 62.0 426.7 62.0 424.0 62.5 422.7 63.4 421.7 64.7 421.1 66.0 421.4 66.6 422.3 67.5 424.7 67.4 427.3 67.1 428.0 66.0 429.0zM87.9 375.6 85.4 375.6 84.1 375.3 82.8 374.7 80.5 372.7 78.6 370.1 78.1 368.7 78.0 367.4 78.4 365.4 78.9 364.6 80.1 363.4 82.1 362.1 84.7 361.4 86.6 361.4 87.9 361.7 89.9 362.4 91.6 363.4 92.5 364.1 93.4 365.4 93.8 366.7 93.8 368.1 93.4 370.1 92.8 371.4 92.0 372.7 90.8 374.0 89.2 375.1 87.9 375.6zM33.0 369.9 31.9 369.4 32.3 368.7 33.0 368.9 33.6 369.4 33.0 369.9zM48.5 374.1 46.3 372.7 43.1 371.4 42.6 370.7 42.5 370.1 42.8 369.4 44.0 368.8 45.3 368.7 46.6 368.9 47.9 369.7 48.6 370.7 48.8 371.4 48.8 373.4 48.5 374.1zM49.2 374.9 49.2 374.7 49.3 374.7 49.2 374.9zM51.1 377.4 50.5 377.4 49.8 376.7 49.2 375.4 49.8 374.8 50.7 375.4 51.2 376.0 51.3 376.7 51.1 377.4zM27.2 410.4 26.5 410.7 25.9 410.5 25.2 409.8 24.3 408.0 23.7 405.4 23.5 398.0 24.4 394.7 24.6 394.4 25.2 394.1 26.0 394.7 27.4 400.7 28.6 403.4 29.3 406.0 29.4 406.7 28.9 408.0 27.2 410.4zM47.2 430.7 46.6 430.5 45.9 430.1 44.0 427.8 42.1 427.1 40.0 425.3 38.1 422.7 38.1 422.0 38.2 421.3 38.8 420.8 40.8 420.4 42.1 420.7 44.4 422.7 45.4 424.7 45.9 425.2 48.5 427.1 49.0 428.0 49.0 429.3 48.5 430.1 47.9 430.5 47.2 430.7zM65.3 428.9 64.0 428.9 63.4 428.6 62.9 428.0 62.4 426.7 62.4 424.0 62.7 422.9 63.5 422.0 64.7 421.5 65.3 421.5 66.0 422.0 66.8 424.0 67.1 425.3 67.1 426.7 66.7 428.0 66.0 428.7 65.3 428.9zM88.6 375.0 87.3 375.3 86.0 375.3 83.4 374.7 81.5 373.3 79.4 370.7 78.7 369.4 78.3 368.1 78.5 366.1 79.5 364.3 81.5 362.8 83.1 362.1 84.7 361.7 87.3 361.9 89.2 362.5 90.9 363.4 91.8 364.1 92.9 365.4 93.4 366.7 93.4 368.1 92.7 370.7 92.0 372.1 90.9 373.4 89.9 374.3 88.6 375.0zM47.9 373.2 43.6 371.4 43.0 370.7 42.9 370.1 43.3 369.4 44.6 368.9 45.9 369.0 47.1 369.4 47.9 370.0 48.4 370.7 48.6 372.1 48.5 372.7 47.9 373.2zM50.5 376.7 50.2 376.0 50.5 375.9 50.6 376.0 50.5 376.7zM26.5 410.2 25.9 409.9 25.2 409.3 24.6 408.3 24.1 406.7 23.8 404.7 23.7 398.0 24.6 395.0 25.2 394.6 25.9 395.3 27.1 400.7 28.4 403.4 29.1 406.0 29.0 407.3 28.7 408.0 27.2 409.9 26.5 410.2zM47.9 430.1 47.2 430.3 46.6 430.1 45.9 429.6 44.6 427.5 44.0 426.9 42.5 426.7 41.4 426.0 39.0 422.7 38.8 422.0 39.0 421.3 40.1 420.9 41.4 420.9 42.1 421.1 43.1 422.0 44.1 423.3 44.8 425.3 45.3 425.8 47.2 426.9 48.1 428.0 48.4 428.7 48.4 429.3 47.9 430.1zM64.7 428.7 64.0 428.5 63.4 428.0 62.9 426.7 62.8 425.3 62.8 424.0 63.3 422.7 64.0 422.1 64.7 421.9 65.3 422.1 66.0 423.0 66.6 424.7 66.7 426.0 66.5 427.3 66.2 428.0 65.3 428.6 64.7 428.7zM87.9 374.8 86.7 375.0 85.4 374.9 84.1 374.6 82.9 374.0 80.8 372.1 79.0 369.4 78.6 367.4 78.9 365.8 79.5 364.7 80.2 364.1 82.1 362.8 84.7 362.0 87.3 362.2 88.8 362.7 90.5 363.6 91.8 364.6 92.5 365.5 92.9 366.7 93.0 368.1 92.3 370.7 91.5 372.1 90.4 373.4 89.2 374.3 87.9 374.8zM47.9 372.6 47.2 372.6 44.1 371.4 43.4 370.7 43.3 370.1 44.0 369.4 44.6 369.2 45.9 369.2 46.6 369.4 47.6 370.1 48.1 370.7 48.3 371.4 48.3 372.1 47.9 372.6zM27.2 409.5 26.5 409.7 25.9 409.5 25.2 408.9 24.4 407.3 24.0 405.4 23.8 398.7 24.6 396.1 25.2 395.3 25.9 396.7 26.9 400.7 28.2 403.4 28.9 406.0 28.9 406.7 28.5 407.9 27.2 409.5zM43.3 425.7 42.7 426.0 42.1 425.7 41.4 425.1 39.8 422.7 39.6 422.0 40.1 421.3 40.8 421.2 41.6 421.3 42.5 422.0 43.0 422.7 43.4 423.3 43.7 424.7 43.6 425.3 43.3 425.7zM65.3 428.1 64.7 428.2 64.0 427.9 63.6 427.3 63.3 426.0 63.4 423.8 64.0 422.8 64.7 422.6 65.3 423.1 66.2 425.3 66.0 427.3 65.3 428.1zM47.2 429.7 46.6 429.6 45.8 428.7 45.6 428.0 45.7 427.3 45.9 427.2 46.6 427.3 47.3 428.0 47.7 428.7 47.7 429.3 47.2 429.7zM88.6 374.2 86.7 374.7 85.4 374.6 84.1 374.2 82.1 373.0 80.2 370.8 79.1 368.7 79.0 366.7 79.5 365.3 80.8 364.0 83.4 362.7 85.4 362.4 86.7 362.5 89.3 363.4 90.5 364.1 91.9 365.4 92.3 366.1 92.5 367.4 92.4 368.7 92.1 370.1 91.4 371.4 90.5 372.7 88.6 374.2zM47.2 372.2 44.6 371.3 43.9 370.7 43.9 370.1 44.6 369.5 45.3 369.4 45.9 369.4 47.2 370.0 47.8 370.7 48.0 371.4 47.9 372.0 47.2 372.2zM27.2 409.1 26.5 409.3 25.9 409.2 25.2 408.6 24.6 407.3 24.1 405.4 24.1 398.7 24.6 397.3 25.2 396.8 25.9 398.0 26.9 401.4 28.2 404.0 28.7 406.0 28.5 407.5 27.8 408.5 27.2 409.1zM42.7 424.6 42.1 424.6 41.4 423.9 40.6 422.7 40.5 422.0 41.4 421.8 42.1 422.2 42.7 423.3 42.7 424.6zM64.7 427.4 64.1 426.7 64.0 426.0 64.0 424.9 64.7 424.2 65.3 424.9 65.5 426.0 65.3 427.1 64.7 427.4zM87.3 374.2 85.4 374.2 83.2 373.4 81.5 371.8 79.8 369.4 79.3 367.4 79.5 366.1 80.5 364.7 82.1 363.6 84.7 362.8 86.0 362.8 87.3 363.1 89.9 364.3 91.2 365.3 91.7 366.1 91.9 366.7 92.1 368.1 91.8 369.4 91.2 371.0 90.5 372.1 89.2 373.3 87.3 374.2zM47.2 371.7 45.6 371.4 44.6 370.8 44.5 370.7 44.5 370.1 45.3 369.7 45.9 369.7 46.8 370.1 47.4 370.7 47.5 371.4 47.2 371.7zM27.2 408.8 26.5 409.0 25.9 408.8 25.2 408.2 24.7 407.3 24.3 406.0 24.2 404.0 24.4 399.4 24.6 398.3 25.2 398.0 25.9 399.2 26.6 401.4 27.8 403.5 28.4 405.4 28.5 406.7 28.3 407.3 27.8 408.2 27.2 408.8zM87.9 373.6 86.0 373.9 84.1 373.4 82.8 372.5 81.1 370.7 80.2 369.3 79.7 367.4 80.0 366.1 81.0 364.7 82.1 364.0 83.4 363.5 84.7 363.2 86.0 363.2 87.3 363.5 88.6 364.1 89.9 364.8 91.1 366.1 91.4 366.7 91.5 368.1 91.1 370.1 89.9 372.1 89.2 372.8 87.9 373.6zM46.6 371.1 45.3 370.7 45.9 370.1 46.8 370.7 46.6 371.1zM27.2 408.5 26.5 408.7 25.9 408.5 24.9 407.3 24.5 406.0 24.4 403.4 24.8 400.0 25.2 399.2 27.6 403.4 28.2 405.4 28.3 406.7 28.1 407.3 27.2 408.5zM86.7 373.4 85.4 373.4 83.8 372.7 82.2 371.4 80.7 369.4 80.2 368.1 80.2 366.7 80.9 365.4 82.1 364.5 83.4 364.0 84.7 363.7 86.7 363.9 87.9 364.3 89.2 365.1 90.3 366.1 90.7 366.7 90.9 367.4 90.9 368.7 90.6 370.1 89.9 371.3 88.5 372.7 86.7 373.4zM27.2 408.2 26.5 408.4 25.9 408.2 25.2 407.6 24.6 406.0 24.5 404.7 24.6 403.4 25.2 400.8 25.9 401.3 27.2 403.1 27.9 404.7 28.1 406.7 27.8 407.4 27.2 408.2zM87.3 372.8 86.0 372.9 84.7 372.6 83.4 371.8 81.8 370.1 81.0 368.7 80.7 367.4 80.8 366.5 81.7 365.4 82.8 364.8 84.1 364.4 86.0 364.3 87.3 364.7 88.6 365.3 89.9 366.6 90.4 368.1 90.0 370.1 89.2 371.3 88.6 372.0 87.3 372.8zM26.5 408.1 25.9 407.9 25.3 407.3 24.8 406.0 24.6 404.0 25.2 402.0 25.9 401.9 26.5 402.6 27.5 404.0 27.9 405.4 27.8 406.9 27.2 407.8 26.5 408.1zM87.3 372.1 86.0 372.3 84.8 372.1 83.8 371.4 82.8 370.3 82.1 369.4 81.5 368.1 81.5 366.7 82.1 365.9 83.0 365.4 84.1 365.1 86.0 365.1 87.3 365.4 88.3 366.1 89.0 366.7 89.6 368.1 89.5 369.4 88.6 371.1 87.3 372.1zM27.2 407.5 26.5 407.8 25.9 407.7 25.2 406.9 24.9 406.0 24.8 404.7 25.0 403.4 25.2 402.7 25.9 402.5 26.5 402.9 27.2 403.8 27.7 405.4 27.7 406.7 27.2 407.5zM86.7 371.5 85.2 371.4 84.1 370.7 83.5 370.1 82.5 368.1 82.5 367.4 82.8 366.7 84.0 366.1 85.4 365.9 86.2 366.1 87.3 366.6 88.2 367.4 88.6 368.4 88.6 369.4 87.9 370.7 86.7 371.5zM26.5 407.5 25.9 407.4 25.3 406.7 25.0 405.4 25.2 403.4 25.9 402.9 26.5 403.3 27.0 404.0 27.5 405.4 27.5 406.7 27.2 407.2 26.5 407.5zM86.0 370.1 85.4 369.9 84.7 369.4 84.5 368.7 84.7 368.0 85.4 367.9 85.9 368.1 86.6 368.7 86.7 369.4 86.0 370.1zM27.2 406.8 26.5 407.2 25.9 407.0 25.3 406.0 25.2 404.1 25.9 403.4 26.5 403.7 27.2 404.7 27.4 406.0 27.2 406.8zM26.5 406.9 25.9 406.7 25.3 405.4 25.4 404.7 25.9 403.8 26.5 404.1 27.2 405.4 27.2 406.0 26.5 406.9zM26.5 406.5 25.9 406.3 25.8 406.0 25.6 405.4 25.9 404.4 26.5 404.6 26.8 405.4 26.8 406.0 26.5 406.5z"/>
</g>
<line x1="58.50" y1="345.40" x2="58.50" y2="434.00" stroke="#505050" stroke-width="0.8"/>
<line x1="22.00" y1="397.50" x2="108.00" y2="397.50" stroke="#505050" stroke-width="0.8"/>
<rect x="22.50" y="345.50" width="86.00" height="89.00" fill="none" stroke="#444" stroke-width="1"/>
<line x1="22.50" y1="345.40" x2="22.50" y2="434.00" stroke="#111" stroke-width="1.2"/>
<line x1="22.00" y1="434.50" x2="108.00" y2="434.50" stroke="#111" stroke-width="1.1"/>
<line x1="22.00" y1="434.00" x2="22.00" y2="436.00" stroke="#111" stroke-width="0.5"/>
<line x1="28.47" y1="434.00" x2="28.47" y2="435.20" stroke="#111" stroke-width="0.5"/>
<line x1="32.26" y1="434.00" x2="32.26" y2="435.20" stroke="#111" stroke-width="0.5"/>
<line x1="34.94" y1="434.00" x2="34.94" y2="435.20" stroke="#111" stroke-width="0.5"/>
<line x1="37.03" y1="434.00" x2="37.03" y2="435.20" stroke="#111" stroke-width="0.5"/>
<line x1="38.73" y1="434.00" x2="38.73" y2="435.20" stroke="#111" stroke-width="0.5"/>
<line x1="40.17" y1="434.00" x2="40.17" y2="435.20" stroke="#111" stroke-width="0.5"/>
<line x1="41.42" y1="434.00" x2="41.42" y2="435.20" stroke="#111" stroke-width="0.5"/>
<line x1="42.52" y1="434.00" x2="42.52" y2="435.20" stroke="#111" stroke-width="0.5"/>
<line x1="43.50" y1="434.00" x2="43.50" y2="436.00" stroke="#111" stroke-width="0.5"/>
<line x1="49.97" y1="434.00" x2="49.97" y2="435.20" stroke="#111" stroke-width="0.5"/>
<line x1="53.76" y1="434.00" x2="53.76" y2="435.20" stroke="#111" stroke-width="0.5"/>
<line x1="56.44" y1="434.00" x2="56.44" y2="435.20" stroke="#111" stroke-width="0.5"/>
<line x1="58.53" y1="434.00" x2="58.53" y2="435.20" stroke="#111" stroke-width="0.5"/>
<line x1="60.23" y1="434.00" x2="60.23" y2="435.20" stroke="#111" stroke-width="0.5"/>
<line x1="61.67" y1="434.00" x2="61.67" y2="435.20" stroke="#111" stroke-width="0.5"/>
<line x1="62.92" y1="434.00" x2="62.92" y2="435.20" stroke="#111" stroke-width="0.5"/>
<line x1="64.02" y1="434.00" x2="64.02" y2="435.20" stroke="#111" stroke-width="0.5"/>
<line x1="65.00" y1="434.00" x2="65.00" y2="436.00" stroke="#111" stroke-width="0.5"/>
<line x1="71.47" y1="434.00" x2="71.47" y2="435.20" stroke="#111" stroke-width="0.5"/>
<line x1="75.26" y1="434.00" x2="75.26" y2="435.20" stroke="#111" stroke-width="0.5"/>
<line x1="77.94" y1="434.00" x2="77.94" y2="435.20" stroke="#111" stroke-width="0.5"/>
<line x1="80.03" y1="434.00" x2="80.03" y2="435.20" stroke="#111" stroke-width="0.5"/>
<line x1="81.73" y1="434.00" x2="81.73" y2="435.20" stroke="#111" stroke-width="0.5"/>
<line x1="83.17" y1="434.00" x2="83.17" y2="435.20" stroke="#111" stroke-width="0.5"/>
<line x1="84.42" y1="434.00" x2="84.42" y2="435.20" stroke="#111" stroke-width="0.5"/>
<line x1="85.52" y1="434.00" x2="85.52" y2="435.20" stroke="#111" stroke-width="0.5"/>
<line x1="86.50" y1="434.00" x2="86.50" y2="436.00" stroke="#111" stroke-width="0.5"/>
<line x1="92.97" y1="434.00" x2="92.97" y2="435.20" stroke="#111" stroke-width="0.5"/>
<line x1="96.76" y1="434.00" x2="96.76" y2="435.20" stroke="#111" stroke-width="0.5"/>
<line x1="99.44" y1="434.00" x2="99.44" y2="435.20" stroke="#111" stroke-width="0.5"/>
<line x1="101.53" y1="434.00" x2="101.53" y2="435.20" stroke="#111" stroke-width="0.5"/>
<line x1="103.23" y1="434.00" x2="103.23" y2="435.20" stroke="#111" stroke-width="0.5"/>
<line x1="104.67" y1="434.00" x2="104.67" y2="435.20" stroke="#111" stroke-width="0.5"/>
<line x1="105.92" y1="434.00" x2="105.92" y2="435.20" stroke="#111" stroke-width="0.5"/>
<line x1="107.02" y1="434.00" x2="107.02" y2="435.20" stroke="#111" stroke-width="0.5"/>
<line x1="108.00" y1="434.00" x2="108.00" y2="436.00" stroke="#111" stroke-width="0.5"/>
<line x1="20.00" y1="434.00" x2="22.00" y2="434.00" stroke="#111" stroke-width="0.5"/>
<line x1="20.80" y1="427.33" x2="22.00" y2="427.33" stroke="#111" stroke-width="0.5"/>
<line x1="20.80" y1="423.43" x2="22.00" y2="423.43" stroke="#111" stroke-width="0.5"/>
<line x1="20.80" y1="420.66" x2="22.00" y2="420.66" stroke="#111" stroke-width="0.5"/>
<line x1="20.80" y1="418.52" x2="22.00" y2="418.52" stroke="#111" stroke-width="0.5"/>
<line x1="20.80" y1="416.76" x2="22.00" y2="416.76" stroke="#111" stroke-width="0.5"/>
<line x1="20.80" y1="415.28" x2="22.00" y2="415.28" stroke="#111" stroke-width="0.5"/>
<line x1="20.80" y1="414.00" x2="22.00" y2="414.00" stroke="#111" stroke-width="0.5"/>
<line x1="20.80" y1="412.86" x2="22.00" y2="412.86" stroke="#111" stroke-width="0.5"/>
<line x1="20.00" y1="411.85" x2="22.00" y2="411.85" stroke="#111" stroke-width="0.5"/>
<line x1="20.80" y1="405.18" x2="22.00" y2="405.18" stroke="#111" stroke-width="0.5"/>
<line x1="20.80" y1="401.28" x2="22.00" y2="401.28" stroke="#111" stroke-width="0.5"/>
<line x1="20.80" y1="398.51" x2="22.00" y2="398.51" stroke="#111" stroke-width="0.5"/>
<line x1="20.80" y1="396.37" x2="22.00" y2="396.37" stroke="#111" stroke-width="0.5"/>
<line x1="20.80" y1="394.61" x2="22.00" y2="394.61" stroke="#111" stroke-width="0.5"/>
<line x1="20.80" y1="393.13" x2="22.00" y2="393.13" stroke="#111" stroke-width="0.5"/>
<line x1="20.80" y1="391.85" x2="22.00" y2="391.85" stroke="#111" stroke-width="0.5"/>
<line x1="20.80" y1="390.71" x2="22.00" y2="390.71" stroke="#111" stroke-width="0.5"/>
<line x1="20.00" y1="389.70" x2="22.00" y2="389.70" stroke="#111" stroke-width="0.5"/>
<line x1="20.80" y1="383.03" x2="22.00" y2="383.03" stroke="#111" stroke-width="0.5"/>
<line x1="20.80" y1="379.13" x2="22.00" y2="379.13" stroke="#111" stroke-width="0.5"/>
<line x1="20.80" y1="376.36" x2="22.00" y2="376.36" stroke="#111" stroke-width="0.5"/>
<line x1="20.80" y1="374.22" x2="22.00" y2="374.22" stroke="#111" stroke-width="0.5"/>
<line x1="20.80" y1="372.46" x2="22.00" y2="372.46" stroke="#111" stroke-width="0.5"/>
<line x1="20.80" y1="370.98" x2="22.00" y2="370.98" stroke="#111" stroke-width="0.5"/>
<line x1="20.80" y1="369.70" x2="22.00" y2="369.70" stroke="#111" stroke-width="0.5"/>
<line x1="20.80" y1="368.56" x2="22.00" y2="368.56" stroke="#111" stroke-width="0.5"/>
<line x1="20.00" y1="367.55" x2="22.00" y2="367.55" stroke="#111" stroke-width="0.5"/>
<line x1="20.80" y1="360.88" x2="22.00" y2="360.88" stroke="#111" stroke-width="0.5"/>
<line x1="20.80" y1="356.98" x2="22.00" y2="356.98" stroke="#111" stroke-width="0.5"/>
<line x1="20.80" y1="354.21" x2="22.00" y2="354.21" stroke="#111" stroke-width="0.5"/>
<line x1="20.80" y1="352.07" x2="22.00" y2="352.07" stroke="#111" stroke-width="0.5"/>
<line x1="20.80" y1="350.31" x2="22.00" y2="350.31" stroke="#111" stroke-width="0.5"/>
<line x1="20.80" y1="348.83" x2="22.00" y2="348.83" stroke="#111" stroke-width="0.5"/>
<line x1="20.80" y1="347.55" x2="22.00" y2="347.55" stroke="#111" stroke-width="0.5"/>
<line x1="20.80" y1="346.41" x2="22.00" y2="346.41" stroke="#111" stroke-width="0.5"/>
<line x1="20.00" y1="345.40" x2="22.00" y2="345.40" stroke="#111" stroke-width="0.5"/>
<text x="22.00" y="441.30" font-family='"Liberation Serif", serif' font-size="3.6" font-weight="bold" text-anchor="middle">1</text>
<text x="17.60" y="435.30" font-family='"Liberation Serif", serif' font-size="3.6" font-weight="bold" text-anchor="end">1</text>
<text x="43.50" y="441.30" font-family='"Liberation Serif", serif' font-size="3.6" font-weight="bold" text-anchor="middle">10</text>
<text x="17.60" y="413.15" font-family='"Liberation Serif", serif' font-size="3.6" font-weight="bold" text-anchor="end">10</text>
<text x="65.00" y="441.30" font-family='"Liberation Serif", serif' font-size="3.6" font-weight="bold" text-anchor="middle">100</text>
<text x="17.60" y="391.00" font-family='"Liberation Serif", serif' font-size="3.6" font-weight="bold" text-anchor="end">100</text>
<text x="86.50" y="441.30" font-family='"Liberation Serif", serif' font-size="3.6" font-weight="bold" text-anchor="middle">1000</text>
<text x="17.60" y="368.85" font-family='"Liberation Serif", serif' font-size="3.6" font-weight="bold" text-anchor="end">1000</text>
<text x="108.00" y="441.30" font-family='"Liberation Serif", serif' font-size="3.6" font-weight="bold" text-anchor="middle">10000</text>
<text x="17.60" y="346.70" font-family='"Liberation Serif", serif' font-size="3.6" font-weight="bold" text-anchor="end">10000</text>
<text x="26.20" y="353.80" font-family='"Liberation Serif", serif' font-size="7.6" font-weight="normal" text-anchor="start">11</text>
<text x="105.00" y="354.00" font-family='"Liberation Serif", serif' font-size="7.6" font-weight="normal" text-anchor="end">24</text>
<rect x="23.60" y="421.40" width="11.80" height="12.00" fill="#fff" stroke="#222" stroke-width="0.5"/>
<text x="29.80" y="431.20" font-family='"Liberation Serif", serif' font-size="7.6" font-weight="normal" text-anchor="middle">56</text>
<rect x="91.00" y="425.00" width="9.60" height="8.00" fill="#fff" stroke="none" stroke-width="0"/>
<text x="99.80" y="431.30" font-family='"Liberation Serif", serif' font-size="7.6" font-weight="normal" text-anchor="end">10</text>
<g clip-path="url(#c6)" fill="none" stroke="#111" stroke-width="0.72" stroke-linejoin="round">
<path d="M124.9 368.0 125.2 364.4 125.8 361.7 126.6 359.1 127.2 357.7 128.2 356.4 129.5 355.5 130.1 355.4 131.4 355.9 132.5 357.1 134.0 359.2 134.7 359.7 136.0 359.8 138.6 359.2 141.9 359.3 144.5 360.2 145.8 361.0 147.1 362.0 149.3 364.4 150.1 365.7 151.1 369.7 151.3 372.3 152.1 375.6 152.2 377.0 152.0 378.3 151.0 382.3 151.1 383.6 151.7 384.4 154.6 386.9 155.8 388.2 156.4 389.6 157.4 394.2 158.2 395.5 160.3 397.5 165.4 400.4 167.7 402.2 168.6 403.5 170.0 406.8 170.2 407.5 170.0 408.8 168.3 411.4 166.7 413.0 164.6 414.1 164.3 414.8 164.8 415.4 166.0 416.1 167.3 416.5 168.7 416.7 174.0 416.8 176.8 416.1 178.4 415.0 179.2 414.1 181.0 410.1 180.9 409.5 175.6 402.2 175.3 400.2 177.2 392.9 177.2 391.6 174.6 385.6 173.6 380.9 173.5 378.3 173.2 377.3 172.6 376.3 171.0 374.3 170.4 371.7 170.0 370.9 168.2 369.0 167.5 367.7 167.0 366.4 167.2 363.7 167.2 361.1 167.4 360.4 168.7 358.7 169.6 356.4 171.3 354.2 173.2 352.5 175.8 351.1 177.8 350.6 178.4 350.7 180.4 351.4 183.0 351.5 188.9 352.4 192.2 352.1 193.5 352.2 196.7 353.3 198.7 353.5 199.4 353.8 201.3 355.3 205.9 357.7 206.7 358.4 207.1 359.1 207.3 360.4 206.2 363.0 205.8 369.0 205.3 370.3 203.9 372.3 202.9 376.3 202.8 377.6 203.3 379.3 206.3 385.6 207.7 389.6 208.9 396.2 208.9 397.5 208.4 399.5 207.8 400.7 205.6 404.2 203.9 407.4 202.2 409.5 202.0 410.1 202.6 415.0 205.3 424.0 205.4 426.7 204.8 429.3 202.3 434.0 199.4 437.7 198.0 438.7 196.7 439.3M124.9 388.9 128.1 385.6 128.4 384.9 128.4 384.3 125.8 379.0 124.9 376.3M217.6 419.0 216.3 419.4 214.4 419.1 211.8 417.7 210.5 416.3 209.9 414.8 209.9 412.8 210.5 411.4 211.8 410.1 213.7 409.1 215.7 408.8 217.0 409.2 218.7 410.8 219.4 412.8 219.5 416.1 218.9 417.7 218.3 418.5 217.6 419.0zM156.8 439.3 150.1 436.6 145.8 435.6 145.1 435.7 144.5 436.1 141.4 439.3M124.9 407.8 127.8 406.8 128.5 406.1 128.5 405.5 127.0 402.8 126.4 400.8 126.7 397.5 126.2 392.9 126.8 391.3 130.1 388.1 131.0 386.9 131.2 386.3 131.2 385.6 130.7 384.3 128.2 381.1 126.5 378.3 125.7 376.3 125.1 373.7 125.3 367.7 125.9 363.0 127.2 359.1 128.0 357.7 128.8 356.9 129.5 356.5 130.1 356.4 130.8 356.6 131.4 357.0 132.2 357.7 134.0 360.5 134.7 361.0 135.3 361.1 138.0 360.4 139.3 360.2 141.2 360.2 143.2 360.7 144.5 361.3 145.8 362.2 148.3 365.0 148.9 366.4 151.0 376.3 151.0 377.6 150.8 379.0 149.2 382.9 149.3 384.3 150.4 385.6 153.0 387.7 154.0 388.9 155.0 391.6 155.6 394.9 156.3 396.2 158.2 398.2 161.8 400.2 165.0 402.8 166.3 404.8 167.2 407.5 167.2 408.8 166.3 410.1 165.4 410.8 162.1 411.8 160.2 412.8 159.8 413.4 160.0 414.1 160.8 414.8 162.9 416.1 166.1 417.4 168.0 417.8 173.2 417.9 177.1 417.4 178.4 416.8 179.7 416.1 183.0 412.9 186.3 410.1 186.9 408.8 187.0 407.5 186.8 405.5 186.3 404.7 185.4 404.2 180.4 402.6 179.8 402.0 179.2 400.8 179.0 399.5 179.3 397.5 180.9 393.5 181.1 392.2 180.9 390.9 179.8 388.5 179.1 387.2 177.9 385.6 177.6 384.9 177.7 384.3 178.1 383.6 179.8 382.2 181.1 380.4 181.4 379.0 181.1 378.1 178.6 375.6 176.5 374.5 174.7 373.0 170.9 367.0 170.7 365.7 171.1 362.4 171.9 359.7 172.4 357.1 173.4 355.8 174.5 354.9 175.8 354.2 177.1 353.9 179.1 354.5 180.4 354.6 186.9 353.8 190.2 354.0 193.5 354.7 197.4 356.2 198.7 357.2 202.2 361.1 203.4 363.0 203.8 364.4 203.8 366.4 203.4 368.4 201.7 371.0 199.3 375.6 198.7 377.0 198.5 378.3 198.6 379.0 199.0 379.6 200.7 381.6 202.3 384.3 204.5 386.9 205.1 388.2 205.4 389.6 205.4 390.9 204.8 394.9 204.9 398.2 203.9 399.9 201.9 401.5 201.3 402.3 200.5 404.8 199.2 407.5 198.8 409.5 199.1 410.8 200.7 413.1 201.6 415.4 202.3 417.4 203.3 421.0 204.2 423.4 204.5 425.4 204.3 428.0 203.5 430.0 201.2 434.0 198.7 437.1 196.7 438.4 194.8 439.0 193.5 439.0 183.7 438.2 178.5 439.3M216.3 417.5 215.0 417.3 213.1 416.7 212.1 416.1 211.5 415.4 211.2 414.1 211.5 412.8 212.4 411.4 213.1 410.9 215.0 410.4 216.3 410.5 217.6 411.4 218.1 412.1 218.3 414.1 218.0 416.1 217.6 416.8 217.0 417.3 216.3 417.5zM159.2 439.3 153.0 436.4 150.4 434.9 148.4 434.1 145.8 431.6 145.1 431.7 143.8 433.0 141.0 437.3 139.9 438.6 139.0 439.3M128.5 439.3 126.8 438.0 125.8 436.6 124.9 435.1M185.6 376.4 185.0 376.2 182.8 375.0 178.4 373.3 177.1 372.5 174.8 370.3 172.9 367.7 172.3 365.7 172.3 364.4 172.8 362.4 174.7 357.7 175.2 357.0 176.5 356.1 179.8 356.0 186.9 354.7 188.9 354.8 192.2 355.4 196.1 356.9 198.0 358.3 200.3 361.1 201.8 363.7 202.2 365.7 201.8 367.7 199.8 371.0 198.0 372.9 196.7 373.6 189.8 375.0 186.9 376.1 185.6 376.4zM124.9 408.7 126.8 408.3 130.8 408.1 134.7 408.9 138.0 409.1 139.7 408.8 140.2 408.1 140.2 407.5 139.4 406.1 138.0 404.8 136.6 404.1 135.3 403.8 132.1 404.1 130.8 403.9 129.1 402.8 128.3 401.5 128.2 400.2 129.2 396.9 129.8 395.5 131.4 393.5 132.5 390.2 133.9 388.2 134.1 386.9 133.7 385.6 133.3 384.9 129.5 381.2 127.7 379.0 126.4 376.3 125.7 373.7 125.7 367.0 126.5 362.4 127.8 359.1 128.8 357.8 129.5 357.4 130.1 357.3 130.8 357.4 131.4 357.9 132.4 359.1 134.0 361.7 134.7 362.2 135.3 362.2 138.0 361.3 139.3 361.0 141.2 361.0 142.5 361.3 143.8 361.9 145.1 362.7 146.1 363.7 147.5 365.7 148.0 367.0 149.1 372.3 150.0 375.6 150.1 377.6 149.8 379.0 149.2 380.3 146.8 383.6 146.5 384.3 146.5 384.9 147.2 385.6 149.1 386.5 150.4 387.4 152.6 389.6 153.3 391.6 153.4 394.9 153.6 395.6 154.6 396.9 156.2 398.7 157.2 399.5 160.8 401.2 161.8 402.2 163.7 404.8 164.3 406.8 164.4 407.5 164.2 408.1 163.3 408.8 158.2 411.4 157.4 412.1 156.9 412.8 157.1 413.4 157.8 414.1 164.1 417.6 166.7 418.4 168.7 418.6 173.2 418.7 177.8 418.2 180.5 416.8 184.3 413.3 188.3 410.8 189.3 409.5 189.8 408.1 189.8 406.1 189.1 404.2 188.5 403.5 187.6 402.9 185.0 402.3 182.4 401.0 181.4 400.2 181.1 399.5 181.1 398.2 182.4 395.5 182.9 392.9 182.8 391.6 181.5 387.6 181.5 386.3 182.0 384.3 184.3 380.5 185.0 379.8 185.6 379.5 186.9 380.1 189.6 382.9 190.9 383.6 192.2 383.8 195.4 383.1 196.7 383.3 197.4 383.7 198.7 384.8 201.7 388.2 202.1 388.9 202.1 389.6 200.7 394.2 200.4 396.9 198.5 400.8 198.1 404.2 196.8 408.1 196.6 409.5 196.6 410.1 197.3 411.4 200.0 414.2 201.1 416.1 201.6 417.4 202.4 420.7 203.7 424.7 203.7 426.7 203.2 428.7 201.1 432.7 198.8 436.0 197.4 437.3 196.1 437.9 194.8 438.3 193.5 438.3 183.7 437.3 179.8 437.9 175.5 439.3M215.7 415.6 214.4 415.5 213.1 414.7 212.8 414.1 212.8 413.4 213.1 412.8 213.9 412.1 215.0 411.8 215.7 411.8 216.4 412.1 216.9 412.8 217.0 413.8 216.7 414.8 216.3 415.3 215.7 415.6zM172.6 439.3 169.3 438.4 160.2 438.6 157.5 437.6 154.3 435.8 148.9 432.0 148.4 431.3 148.0 430.0 148.2 427.4 147.8 426.7 147.1 426.3 145.8 426.1 145.1 426.3 144.5 426.9 143.2 431.3 140.0 436.6 138.6 438.2 136.8 439.3M131.4 439.3 128.8 438.3 127.5 437.3 125.7 434.7 124.9 432.5M188.2 374.4 186.9 374.7 185.6 374.6 179.8 372.9 177.1 371.4 174.7 369.0 173.9 367.7 173.4 366.4 173.2 365.0 173.3 363.7 174.0 361.7 174.9 359.7 175.8 358.4 176.5 357.8 177.8 357.2 183.0 356.0 186.9 355.4 188.9 355.4 192.2 356.1 195.4 357.3 197.4 358.7 199.0 360.4 200.5 363.0 200.9 364.4 201.0 365.7 200.5 367.7 198.9 370.3 197.4 371.7 195.4 372.7 192.8 373.5 188.2 374.4zM139.3 385.7 137.3 385.8 136.0 385.4 132.1 382.6 129.5 380.1 128.2 378.6 127.3 377.0 126.5 375.0 126.1 373.0 126.0 371.0 126.0 367.7 126.4 364.4 127.0 361.7 127.6 360.4 128.4 359.1 129.5 358.1 130.1 358.0 130.8 358.2 131.4 358.6 132.3 359.7 134.0 362.7 134.7 363.2 136.0 363.1 138.0 362.2 139.3 361.8 141.2 361.7 143.2 362.3 144.3 363.0 145.1 363.8 146.6 365.7 147.2 367.0 148.3 372.3 149.3 376.3 149.3 377.6 148.9 379.0 147.7 380.7 144.5 383.7 143.2 384.4 139.3 385.7zM194.1 407.5 193.5 406.8 193.9 404.8 193.9 404.2 193.2 402.8 191.5 402.1 189.6 401.0 188.2 400.8 186.3 400.8 185.0 400.5 183.7 399.5 183.4 398.9 184.9 394.2 184.9 393.5 183.3 389.6 183.0 388.2 183.0 386.9 183.2 385.6 183.8 384.3 184.6 382.9 185.6 382.1 186.3 382.0 186.9 382.3 188.9 384.3 190.9 385.4 192.2 385.5 194.1 385.1 195.4 385.3 196.9 386.3 197.6 386.9 198.4 388.2 198.6 390.2 198.0 392.9 197.8 394.9 196.9 397.5 195.3 400.8 195.4 402.9 194.9 404.8 194.8 406.6 194.1 407.5zM155.6 411.0 154.3 411.3 153.0 411.2 149.7 409.9 145.8 408.7 144.8 408.1 143.2 405.5 142.5 405.0 140.6 403.8 137.1 402.2 134.7 401.7 132.1 402.4 131.4 402.4 130.8 402.1 130.2 401.5 130.0 400.8 130.0 400.2 130.6 398.9 133.8 394.9 136.0 390.9 137.3 390.3 138.6 390.2 141.2 391.3 143.2 391.6 143.8 391.4 144.4 390.9 145.5 388.9 146.4 388.0 147.1 387.8 148.4 387.8 149.1 388.0 150.2 388.9 151.1 390.2 151.4 390.9 151.4 391.6 151.1 393.5 151.1 394.9 151.3 395.5 152.1 396.9 155.1 400.2 156.3 400.8 158.9 401.6 159.9 402.2 161.4 404.2 162.0 405.5 161.9 406.8 160.8 408.1 159.5 409.0 155.6 411.0zM124.9 409.3 126.8 409.0 130.1 409.0 135.3 409.9 141.2 410.0 143.8 410.4 148.8 412.1 154.3 413.2 163.4 418.0 165.4 418.7 167.3 419.1 171.3 419.4 177.1 419.1 178.4 418.8 181.8 416.8 184.3 414.5 186.3 413.1 190.2 411.6 192.2 411.2 193.5 411.4 195.4 411.9 196.7 412.6 198.7 414.0 200.0 415.4 201.0 417.4 202.0 421.3 203.0 424.0 203.1 425.4 203.0 427.4 202.5 428.7 200.3 432.7 198.6 435.3 196.7 437.0 195.4 437.6 194.1 437.8 191.5 437.6 185.0 436.7 183.0 436.6 179.8 437.0 175.8 438.4 173.9 438.7 172.6 438.6 169.3 437.6 160.8 437.8 159.5 437.6 157.5 436.8 155.2 435.3 150.9 431.3 150.4 430.7 150.2 430.0 150.6 428.0 150.6 427.4 150.2 426.7 149.2 426.0 147.7 425.5 145.8 425.2 144.5 425.3 143.7 426.0 142.2 431.3 138.9 436.6 138.0 437.5 136.6 438.4 135.3 438.9 134.0 439.0 130.8 438.2 129.5 437.7 128.2 436.8 126.3 434.0 124.9 430.0M124.9 423.2 125.4 420.7 125.2 419.4 124.9 418.8M188.9 373.8 186.3 374.0 181.1 372.8 179.1 372.0 177.8 371.2 175.4 369.0 174.2 367.0 173.9 365.7 173.9 364.4 174.1 363.0 174.6 361.7 175.7 359.7 176.5 358.8 177.8 358.0 182.4 356.6 186.3 355.9 188.9 355.9 192.2 356.6 194.8 357.5 196.7 358.7 198.4 360.4 199.6 362.4 200.3 365.0 200.0 367.0 199.0 369.0 197.4 370.8 195.4 372.0 192.2 373.2 188.9 373.8zM140.6 384.3 138.6 384.6 137.3 384.6 135.3 384.0 134.0 383.3 132.1 381.8 129.1 379.0 128.2 377.7 127.4 376.3 126.7 374.3 126.3 372.3 126.2 369.0 126.4 365.7 126.9 363.0 127.6 361.1 128.3 359.7 129.5 358.7 130.1 358.6 130.8 358.7 131.4 359.2 132.3 360.4 134.0 363.7 134.7 364.2 136.0 364.0 139.3 362.4 140.6 362.3 141.9 362.4 143.2 362.9 144.2 363.7 145.8 365.7 146.6 367.0 147.0 368.4 147.6 372.3 148.6 375.6 148.7 377.0 148.5 378.3 147.1 380.3 144.5 382.5 143.2 383.4 140.6 384.3zM193.5 395.7 192.2 396.0 190.2 395.9 189.6 395.7 188.6 394.9 187.6 392.9 185.6 391.7 185.0 391.0 184.3 389.6 184.2 387.6 184.6 386.3 185.6 384.7 186.3 384.4 186.9 384.6 188.9 386.3 189.9 387.6 190.2 389.6 191.5 389.8 191.8 389.6 191.7 388.2 192.1 387.6 193.1 386.9 194.1 386.7 194.8 386.7 195.7 387.6 196.0 388.9 195.4 390.6 194.8 391.0 193.5 391.1 193.2 391.6 194.0 394.2 194.0 394.9 193.5 395.7zM139.9 400.2 139.3 400.3 135.6 399.5 134.6 398.9 134.6 398.2 136.0 396.3 138.6 395.3 140.6 393.8 141.9 393.6 143.8 394.2 145.4 394.2 145.8 393.7 146.4 390.9 146.7 390.2 147.1 389.8 147.7 389.4 148.5 389.6 148.9 390.2 149.0 390.9 148.4 393.1 147.7 394.0 146.3 394.9 144.6 398.9 143.8 399.4 141.9 399.3 139.9 400.2zM155.6 409.6 153.6 410.0 152.3 409.8 147.7 407.9 147.0 407.5 146.5 406.8 146.5 403.5 146.7 402.2 148.0 399.5 148.4 398.2 148.7 397.5 149.1 397.3 149.7 397.3 151.0 398.1 154.0 401.5 154.9 401.9 158.6 402.8 159.5 403.5 159.9 404.2 160.3 405.5 160.2 406.1 159.5 407.4 158.6 408.1 155.6 409.6zM124.9 409.9 126.8 409.5 129.5 409.5 134.7 410.3 140.6 410.5 143.2 411.0 149.0 412.8 154.9 414.2 158.9 415.9 162.8 418.2 164.7 419.0 166.7 419.6 170.6 419.9 177.1 419.6 178.3 419.4 181.7 417.4 185.0 414.8 186.9 413.6 190.9 412.5 192.8 412.5 194.8 412.8 196.1 413.1 198.0 414.3 199.4 415.4 200.0 416.4 200.5 417.4 201.3 420.7 202.5 424.0 202.5 426.7 201.9 428.7 198.9 434.0 197.4 436.0 196.1 436.9 194.8 437.3 193.5 437.3 190.9 437.1 184.3 436.2 181.7 436.0 179.8 436.3 175.8 437.7 173.9 438.1 172.6 438.0 169.3 437.0 166.7 437.2 160.8 437.1 159.5 436.9 158.2 436.4 155.7 434.7 152.7 431.3 152.1 430.0 152.1 427.4 151.9 426.7 151.2 426.0 149.6 425.4 147.1 424.8 144.2 424.7 143.1 425.4 141.4 431.3 138.5 436.0 137.9 436.6 136.6 437.5 135.3 438.0 134.0 438.1 131.4 437.7 129.5 436.8 128.2 435.6 126.7 433.3 125.5 430.0 125.1 428.0 125.0 425.4 126.1 420.7 125.9 419.4 124.9 417.9M190.9 373.1 188.2 373.5 186.3 373.6 182.4 372.8 179.1 371.5 176.6 369.7 175.0 367.7 174.5 366.4 174.3 365.0 174.4 363.7 174.8 362.4 175.5 361.1 176.5 359.6 177.8 358.6 181.1 357.3 183.7 356.6 187.6 356.1 190.9 356.5 193.5 357.3 195.4 358.3 197.3 359.7 198.9 361.7 199.6 363.7 199.7 365.7 199.2 367.7 197.9 369.7 196.1 371.2 194.1 372.2 190.9 373.1zM140.6 383.7 138.6 384.0 137.3 383.9 135.3 383.3 134.0 382.7 132.6 381.6 129.5 378.7 128.6 377.6 127.8 376.3 127.0 374.3 126.6 372.3 126.4 369.7 126.5 366.4 127.0 363.7 127.6 361.7 128.2 360.4 129.5 359.2 130.1 359.0 130.8 359.2 131.4 359.7 132.4 361.1 134.0 364.5 134.7 365.1 135.3 365.1 136.0 364.9 139.3 363.1 141.2 362.8 142.5 363.2 143.4 363.7 144.6 365.0 146.0 367.0 146.6 369.0 147.1 372.2 148.1 375.6 148.1 377.6 147.7 378.5 146.9 379.6 144.5 381.7 142.5 383.0 140.6 383.7zM154.3 408.9 153.0 408.7 151.7 407.9 149.7 407.1 149.1 406.8 148.7 406.1 148.7 405.5 149.4 402.8 149.7 402.1 150.4 401.7 151.0 401.8 153.0 403.3 156.2 403.7 157.6 404.2 158.2 404.8 158.3 406.1 157.9 406.8 156.1 408.1 154.3 408.9zM124.9 410.3 126.8 409.9 128.8 409.9 134.7 410.7 140.6 410.9 142.5 411.2 149.9 413.4 154.3 414.5 158.9 416.3 162.8 418.7 164.7 419.5 166.7 420.0 170.0 420.3 177.8 420.0 179.1 419.6 180.4 418.8 185.6 414.9 187.6 414.0 190.9 413.1 195.4 413.5 198.0 414.9 199.4 416.1 199.8 416.8 200.3 418.1 202.0 424.0 202.1 426.7 201.4 428.7 198.0 434.7 196.7 436.1 195.4 436.8 194.1 437.0 192.2 436.9 186.2 436.0 181.7 435.5 179.1 435.8 175.2 437.3 173.2 437.5 169.3 436.5 166.0 436.7 161.5 436.6 160.2 436.5 158.9 436.1 156.7 434.7 154.1 431.3 153.4 430.0 153.2 427.4 153.0 426.7 152.5 426.0 151.5 425.4 148.8 424.7 145.8 424.3 143.8 424.3 143.2 424.5 142.5 425.1 140.8 431.3 138.0 435.7 137.3 436.3 136.0 437.1 134.7 437.4 132.7 437.3 130.8 436.8 129.5 436.0 127.7 434.0 127.0 432.7 125.7 428.7 125.4 426.7 125.6 424.7 126.6 421.4 126.7 420.1 126.2 418.7 124.9 417.2M188.9 373.0 186.3 373.1 181.7 372.2 179.8 371.4 178.4 370.6 176.5 368.9 175.5 367.7 175.0 366.4 174.8 364.4 175.1 363.0 175.6 361.7 177.1 359.7 178.4 358.8 182.4 357.3 185.6 356.6 188.2 356.5 190.9 356.9 194.1 358.0 196.1 359.2 197.4 360.4 198.7 362.4 199.2 364.4 199.1 366.4 198.2 368.4 196.7 370.1 194.8 371.4 191.5 372.6 188.9 373.0zM140.6 383.1 138.6 383.4 137.3 383.3 134.7 382.4 132.7 381.0 129.5 377.9 127.9 375.6 127.1 373.7 126.9 372.3 126.6 369.7 126.7 367.0 127.0 364.4 127.6 362.4 128.7 360.4 129.5 359.7 130.1 359.6 130.8 359.8 131.4 360.3 132.4 361.7 134.0 365.6 134.7 366.1 136.0 365.9 139.9 363.7 141.2 363.6 142.5 364.0 143.2 364.4 145.6 367.7 146.0 369.0 146.6 372.3 147.5 375.6 147.4 377.6 146.4 379.1 143.8 381.4 142.5 382.3 140.6 383.1zM124.9 411.0 126.8 410.4 128.8 410.4 134.0 411.1 139.9 411.3 142.5 411.6 154.3 414.9 156.9 415.9 159.5 417.1 162.8 419.2 164.7 420.1 166.7 420.5 170.0 420.8 177.8 420.6 179.1 420.1 180.3 419.4 185.6 415.5 188.2 414.3 190.9 413.7 195.4 414.2 196.7 414.7 198.0 415.5 198.8 416.1 199.7 417.4 201.6 424.0 201.6 426.7 201.1 428.0 197.9 434.0 196.7 435.5 195.4 436.4 194.1 436.6 191.5 436.5 184.8 435.3 181.7 435.0 179.1 435.2 174.5 436.7 173.2 436.9 169.3 435.9 163.4 436.2 160.8 435.9 159.5 435.6 157.9 434.7 156.3 432.7 154.9 430.0 154.3 426.7 153.9 426.0 153.1 425.4 151.4 424.7 147.7 424.1 143.2 423.8 142.4 424.0 141.8 424.7 140.6 430.0 140.1 431.3 137.3 435.2 136.6 435.8 135.3 436.3 132.1 436.3 130.8 435.9 129.5 434.8 128.2 433.4 127.4 432.0 126.3 428.7 125.9 426.7 126.2 424.7 127.3 421.4 127.3 420.1 126.9 418.7 124.9 416.3M190.2 372.4 186.9 372.7 183.0 372.1 179.8 370.8 177.3 369.0 175.8 367.0 175.3 365.0 175.5 363.7 175.9 362.4 177.3 360.4 179.1 359.1 181.7 357.9 184.3 357.3 187.6 356.9 190.2 357.2 192.8 357.9 194.8 358.8 196.1 359.8 197.3 361.1 198.4 363.0 198.7 365.0 198.3 367.0 197.0 369.0 195.4 370.4 193.5 371.5 190.2 372.4zM140.6 382.4 138.6 382.7 137.3 382.6 136.0 382.2 134.7 381.6 133.4 380.6 131.4 378.6 129.5 377.0 128.1 375.0 127.3 373.0 127.1 371.7 126.9 369.0 127.0 366.4 127.3 364.4 128.0 362.4 128.8 361.0 129.5 360.4 130.1 360.2 130.8 360.4 131.4 361.0 132.3 362.4 133.8 366.4 134.0 366.8 134.7 367.3 135.3 367.3 136.6 367.0 139.3 365.5 141.2 364.9 141.9 365.0 142.5 365.4 144.0 367.0 144.9 368.4 146.6 375.0 146.6 377.0 146.0 378.3 144.0 380.3 142.3 381.6 140.6 382.4zM124.9 412.1 126.2 411.3 128.2 411.0 130.1 411.1 133.4 411.6 139.9 411.7 141.9 412.0 153.6 415.3 157.5 416.7 159.5 417.6 163.4 420.3 164.7 420.9 166.7 421.3 170.0 421.5 177.8 421.2 179.1 420.8 180.3 420.1 185.0 416.6 188.2 415.1 189.6 414.6 190.9 414.5 194.8 414.7 196.1 415.1 197.4 415.8 198.6 416.8 199.1 417.4 199.6 418.7 200.9 423.4 201.0 426.0 200.4 428.0 197.2 434.0 196.1 435.3 195.4 435.8 194.1 436.1 191.5 436.0 181.7 434.2 179.1 434.4 173.9 436.0 172.6 436.1 169.3 435.2 164.1 435.7 162.1 435.4 160.2 434.9 158.8 434.0 157.8 432.7 156.6 429.3 156.7 426.7 156.4 426.0 155.5 425.4 154.0 424.7 151.3 424.0 144.5 423.3 142.5 423.3 141.9 423.5 141.2 424.0 139.5 430.7 138.7 432.0 137.3 433.6 136.6 434.3 135.3 434.9 132.1 434.9 130.8 434.3 128.8 432.7 127.0 428.7 126.7 427.4 126.6 426.0 126.9 424.7 128.1 421.4 128.2 420.1 127.7 418.7 125.7 416.1 124.9 414.2M191.5 371.8 188.2 372.3 185.0 372.1 181.7 371.2 179.1 369.9 177.3 368.4 176.1 366.4 175.8 365.0 176.0 363.7 176.8 361.7 177.9 360.4 179.8 359.2 182.4 358.1 185.0 357.5 187.6 357.3 189.6 357.4 192.2 358.1 194.8 359.2 196.2 360.4 197.7 362.4 198.2 364.4 198.0 366.4 197.0 368.4 195.8 369.7 194.1 370.8 191.5 371.8zM140.6 381.8 139.3 382.1 138.0 382.2 136.6 381.9 135.3 381.3 133.4 379.8 131.4 377.6 129.5 376.2 128.2 374.3 127.7 373.0 127.3 371.0 127.2 367.0 127.5 365.0 128.0 363.0 128.8 361.6 129.5 361.0 130.1 360.8 130.8 361.0 131.4 361.6 132.5 363.7 133.4 366.6 134.0 367.8 134.7 368.2 136.6 368.2 139.3 366.8 141.2 366.5 141.9 366.7 143.2 367.5 144.3 369.0 145.9 375.0 146.0 376.3 145.9 377.0 145.1 378.3 143.8 379.6 142.3 380.9 140.6 381.8zM194.8 435.5 193.5 435.7 190.9 435.6 183.0 433.6 181.7 433.5 178.4 433.9 173.2 435.4 168.7 434.6 164.7 435.2 162.8 435.0 160.2 434.0 159.4 433.3 159.0 432.7 158.0 428.7 158.0 426.0 157.6 425.4 156.9 424.8 153.0 423.8 143.2 422.8 141.9 422.9 141.2 423.1 140.6 423.8 139.7 428.0 139.3 429.4 138.6 430.8 137.3 432.3 136.0 433.3 135.3 433.6 133.4 433.6 131.4 433.2 130.1 432.5 129.5 432.0 128.8 431.0 127.4 428.0 127.2 426.7 127.3 425.4 128.6 422.1 128.9 420.1 128.4 418.7 126.5 416.1 126.2 415.4 125.7 413.4 125.7 412.8 126.3 412.1 126.8 411.9 128.8 411.6 130.1 411.6 133.4 412.2 139.3 412.0 141.9 412.3 145.1 413.1 157.5 417.1 159.5 418.1 163.4 421.0 164.7 421.6 166.7 422.0 169.3 422.2 177.8 421.8 179.1 421.3 181.1 420.1 185.0 417.2 188.9 415.5 190.9 415.1 195.4 415.4 197.9 416.8 199.0 418.1 200.3 422.7 200.5 424.7 200.4 426.0 200.0 427.3 197.8 432.0 196.1 434.7 194.8 435.5zM190.2 371.8 186.9 372.0 183.7 371.5 181.1 370.6 178.4 368.9 176.8 367.0 176.3 365.0 176.6 363.0 177.8 361.1 179.5 359.7 181.7 358.6 184.3 357.9 186.9 357.6 188.9 357.7 191.5 358.2 193.5 358.9 195.4 360.1 196.9 361.7 197.6 363.0 197.8 365.0 197.3 367.0 196.5 368.4 194.8 370.0 192.2 371.3 190.2 371.8zM139.3 381.7 138.0 381.7 136.6 381.4 134.7 380.3 133.3 379.0 132.1 377.0 130.1 376.0 129.5 375.5 128.2 373.7 127.7 372.3 127.4 370.3 127.4 367.0 128.0 363.7 128.8 362.2 129.5 361.5 130.1 361.3 130.8 361.5 131.4 362.2 132.4 364.4 133.4 367.6 134.0 368.6 134.7 369.0 136.0 369.2 137.3 369.1 139.3 368.1 141.2 367.9 142.5 368.3 143.2 368.9 143.8 370.0 145.2 375.0 145.3 376.3 145.1 377.0 144.3 378.3 142.3 380.3 140.6 381.3 139.3 381.7zM192.8 435.3 190.2 435.1 185.0 433.7 183.0 433.0 181.7 432.8 179.1 433.2 173.2 434.9 168.7 434.0 164.7 434.7 162.8 434.5 160.8 433.6 159.9 432.7 159.7 432.0 159.1 428.7 159.0 426.0 158.7 425.4 157.5 424.3 156.2 423.8 153.9 423.4 143.2 422.4 141.2 422.6 140.6 422.9 140.1 423.4 139.8 424.0 139.5 426.7 139.0 428.7 138.0 430.6 136.6 431.9 136.0 432.3 134.7 432.5 131.4 432.0 130.1 431.3 129.5 430.7 128.6 429.3 128.0 428.0 127.7 426.7 127.9 425.4 129.2 422.1 129.5 420.1 129.0 418.7 127.0 415.4 126.7 413.4 127.1 412.8 127.5 412.5 129.5 412.1 133.4 412.7 139.9 412.4 143.2 412.9 153.0 415.9 157.5 417.6 160.2 419.0 163.4 421.8 165.4 422.6 167.3 422.9 177.8 422.4 179.8 421.5 185.0 417.6 189.6 415.8 190.9 415.6 194.1 415.7 195.4 415.9 197.4 416.9 198.5 418.1 199.0 419.4 199.9 422.7 200.1 424.7 199.6 426.7 197.9 430.7 196.1 434.0 195.4 434.7 194.8 435.1 192.8 435.3zM188.2 371.7 185.0 371.5 182.4 370.8 180.4 369.9 178.3 368.4 177.3 367.0 176.6 365.0 177.0 363.0 177.7 361.7 178.4 360.9 180.1 359.7 182.4 358.7 185.0 358.0 187.6 357.9 190.2 358.1 192.8 358.9 194.8 360.0 196.0 361.1 196.9 362.4 197.5 364.4 197.2 366.4 196.1 368.4 194.8 369.6 192.8 370.7 190.9 371.3 188.2 371.7zM139.9 381.1 138.0 381.2 136.6 380.9 135.5 380.3 134.0 379.0 133.5 378.3 132.7 375.6 130.8 375.6 130.1 375.4 129.5 374.9 128.5 373.7 127.7 371.0 127.6 367.0 127.9 365.0 128.3 363.7 128.8 362.7 129.5 362.0 130.1 361.8 130.8 362.0 131.4 362.8 132.1 364.4 133.4 368.5 134.0 369.5 134.7 369.9 137.3 370.3 141.2 369.2 141.9 369.2 142.5 369.6 143.2 370.5 144.6 375.0 144.7 376.3 144.1 377.6 142.3 379.6 141.2 380.5 139.9 381.1zM194.1 434.9 192.2 435.0 190.9 434.9 185.4 433.3 183.0 432.3 181.7 432.0 180.4 432.2 174.5 434.1 173.2 434.3 168.7 433.5 165.4 434.2 163.4 434.2 161.5 433.3 160.8 432.7 160.4 432.0 160.1 430.0 159.9 426.0 159.1 424.7 158.2 424.0 156.9 423.3 155.6 423.1 146.4 422.5 142.5 422.1 141.2 422.2 139.9 422.7 139.3 424.0 139.1 426.7 138.8 428.0 138.0 429.7 136.6 431.0 135.3 431.6 134.7 431.7 131.4 431.0 130.1 430.4 129.5 429.8 128.8 428.7 128.3 427.4 128.4 425.4 129.8 422.1 130.1 420.1 129.7 418.7 127.9 416.1 127.6 415.4 127.6 414.1 128.2 413.2 129.5 412.7 133.4 413.2 136.0 412.8 139.9 412.6 143.2 413.2 153.0 416.3 157.5 418.0 158.9 418.7 160.8 420.1 162.8 422.1 163.4 422.6 166.0 423.7 166.7 423.8 172.6 423.1 177.8 422.9 179.1 422.4 182.3 420.1 184.3 418.4 185.6 417.7 190.2 416.1 194.1 416.1 195.4 416.4 197.4 417.5 198.4 418.7 199.6 422.7 199.7 424.0 199.4 425.9 197.2 431.3 195.6 434.0 194.8 434.6 194.1 434.9zM190.9 371.1 188.2 371.5 185.0 371.2 182.4 370.5 179.6 369.0 178.1 367.7 177.1 365.7 177.1 363.7 178.1 361.7 179.6 360.4 181.7 359.2 183.7 358.6 186.3 358.1 188.9 358.2 190.9 358.5 192.8 359.2 194.8 360.3 196.2 361.7 196.9 363.0 197.2 364.4 196.9 366.4 196.2 367.7 194.8 369.3 192.8 370.4 190.9 371.1zM140.6 380.4 139.3 380.8 137.3 380.7 136.0 380.1 134.6 379.0 134.1 378.3 133.7 377.0 134.0 373.5 133.4 373.4 132.1 374.5 130.8 375.0 130.1 374.9 129.5 374.5 128.8 373.6 128.2 372.3 127.9 371.0 127.7 367.7 128.3 364.4 128.8 363.2 129.5 362.4 130.1 362.2 130.8 362.5 131.4 363.3 132.1 365.0 133.4 369.5 134.0 370.7 134.7 371.3 138.0 371.4 141.2 370.6 141.9 370.7 142.5 371.2 144.0 375.0 144.1 376.3 143.8 377.0 142.9 378.3 141.6 379.6 140.6 380.4zM192.8 434.7 190.9 434.6 189.6 434.2 185.6 432.9 183.0 431.5 181.7 431.2 180.4 431.5 177.1 432.9 173.9 433.8 171.9 433.7 168.7 432.9 168.0 433.0 165.4 433.8 163.4 433.7 162.1 433.1 161.0 432.0 160.7 430.0 161.1 427.4 161.0 426.7 160.2 424.7 159.5 424.0 158.2 423.3 156.9 422.7 155.6 422.6 147.1 422.3 142.5 421.8 141.2 421.8 140.1 422.1 139.2 422.7 138.9 423.4 138.6 427.4 138.1 428.7 137.3 429.7 136.6 430.3 135.3 430.9 134.0 430.9 131.4 430.3 130.8 430.1 129.8 429.3 129.3 428.7 128.8 427.4 128.9 425.4 130.7 421.4 130.8 420.1 130.3 418.7 128.5 416.1 128.2 414.8 128.4 414.1 129.3 413.4 130.1 413.3 133.4 413.7 136.0 413.1 139.3 412.9 141.2 413.0 144.5 413.8 153.0 416.6 158.0 418.7 160.8 420.7 162.2 422.7 165.4 424.7 166.0 424.9 168.7 424.3 172.6 423.7 177.1 423.5 178.4 423.3 179.8 422.4 184.3 418.7 185.6 418.0 190.2 416.6 193.5 416.4 194.8 416.6 196.7 417.5 198.0 418.7 199.1 422.1 199.3 424.0 199.0 425.4 198.0 427.6 197.2 430.7 196.1 432.7 195.4 433.7 194.8 434.2 194.1 434.5 192.8 434.7zM189.6 371.1 186.9 371.3 183.7 370.7 181.1 369.6 179.2 368.4 178.0 367.0 177.4 365.7 177.3 365.0 177.7 363.0 178.5 361.7 179.8 360.6 181.7 359.5 183.7 358.8 186.3 358.4 188.2 358.4 190.9 358.8 192.8 359.4 194.8 360.6 196.1 362.1 196.8 363.7 196.9 365.0 196.3 367.0 195.4 368.4 193.5 369.8 191.5 370.7 189.6 371.1zM130.8 374.5 130.1 374.4 129.5 374.0 128.8 373.2 128.2 371.3 127.8 369.0 128.0 366.4 128.5 364.4 129.5 362.9 130.1 362.6 130.8 362.9 131.7 364.4 133.4 371.0 133.2 372.3 132.7 373.0 132.1 373.8 131.4 374.3 130.8 374.5zM139.3 380.4 137.3 380.3 136.0 379.6 135.2 379.0 134.4 377.6 134.2 377.0 134.4 375.6 135.2 373.7 136.0 372.8 141.2 371.9 141.9 372.2 142.5 373.1 143.3 375.0 143.4 376.3 142.7 377.6 141.2 379.4 140.6 379.9 139.3 380.4zM136.0 430.1 134.7 430.4 131.4 429.7 130.1 428.8 129.6 428.0 129.3 426.7 129.4 425.4 131.8 420.7 131.7 420.1 131.5 419.4 129.2 416.1 129.0 415.4 129.1 414.8 129.8 414.1 130.8 414.0 132.7 414.2 136.0 413.5 139.3 413.1 141.2 413.3 143.8 413.9 152.3 416.7 155.6 418.1 159.0 420.1 160.4 421.4 160.6 422.1 160.5 422.7 160.2 422.9 159.5 422.9 156.2 422.1 152.3 422.2 147.1 422.0 141.9 421.5 139.9 421.7 139.0 422.1 138.5 422.7 138.3 423.4 138.4 426.7 138.0 428.0 137.3 429.1 136.0 430.1zM194.1 434.1 192.2 434.4 190.2 434.1 185.6 432.5 182.4 430.4 181.7 430.1 181.1 430.1 178.2 432.0 176.5 432.7 173.9 433.3 171.9 433.2 168.7 432.3 168.0 432.4 165.4 433.4 164.1 433.4 163.4 433.3 162.1 432.6 161.3 431.3 161.2 430.0 162.3 427.4 162.4 426.7 161.8 424.7 162.1 424.4 162.8 424.4 163.4 424.8 164.3 426.0 165.4 426.3 166.0 426.2 168.7 425.0 173.2 424.3 178.4 423.9 179.1 423.5 184.3 419.1 185.6 418.3 190.9 416.9 193.5 416.7 194.8 416.9 196.1 417.6 197.5 418.7 198.4 420.7 199.0 423.4 198.8 424.7 197.9 426.7 196.8 430.7 195.4 433.2 194.8 433.8 194.1 434.1zM188.2 371.0 185.6 370.9 183.0 370.2 180.5 369.0 178.9 367.7 178.0 366.4 177.7 365.0 177.7 364.4 178.4 362.4 179.6 361.1 181.1 360.1 183.0 359.2 185.0 358.7 187.6 358.5 190.2 358.8 192.2 359.4 194.1 360.4 195.4 361.6 196.3 363.0 196.6 364.4 196.3 366.4 195.6 367.7 194.3 369.0 192.8 369.9 190.9 370.6 188.2 371.0zM131.4 373.8 130.8 374.1 130.1 374.0 129.5 373.6 128.7 372.3 128.0 369.7 128.1 367.0 128.5 365.0 128.8 364.2 129.5 363.3 130.1 363.0 130.8 363.4 131.7 365.0 132.9 370.3 132.8 371.7 132.6 372.3 131.4 373.8zM139.9 379.7 138.6 380.0 137.3 379.9 136.0 379.1 135.2 378.3 134.9 377.6 134.7 376.3 135.2 375.0 136.0 373.9 136.6 373.5 140.6 372.9 141.2 373.1 141.9 373.7 142.6 375.0 142.6 376.3 141.2 378.7 139.9 379.7zM136.0 429.6 134.7 429.8 132.1 429.3 130.8 428.6 130.2 428.0 129.9 427.4 129.8 426.0 130.2 424.7 131.4 422.8 133.0 421.4 133.3 420.7 132.7 419.4 130.8 417.3 130.0 416.1 129.9 415.4 130.1 415.2 130.8 414.9 132.7 414.9 136.0 413.8 137.3 413.6 139.9 413.4 141.9 413.6 145.1 414.5 153.3 417.4 155.9 418.7 158.1 420.7 157.5 421.3 152.3 421.9 146.4 421.7 141.2 421.2 139.9 421.2 138.6 421.6 137.8 422.1 137.6 422.7 138.1 426.0 138.0 427.4 137.3 428.5 136.0 429.6zM192.8 434.1 191.5 434.1 190.2 433.8 186.3 432.3 185.0 431.6 181.7 429.2 181.1 429.0 180.4 429.1 179.2 430.7 177.8 431.7 175.8 432.4 173.9 432.8 171.9 432.7 168.7 431.6 168.0 431.7 165.4 432.9 164.1 433.0 163.1 432.7 162.2 432.0 161.8 431.3 161.7 430.7 162.1 429.3 162.6 428.7 163.4 427.9 164.1 427.6 166.0 427.3 168.7 425.8 170.6 425.6 173.2 425.0 175.4 424.7 178.4 424.6 179.1 424.3 181.1 422.1 185.0 418.9 190.2 417.4 193.5 417.0 194.8 417.3 195.4 417.6 197.4 419.2 198.1 420.7 198.7 423.4 198.4 424.7 197.4 426.7 197.0 429.3 196.2 431.3 194.8 433.4 194.1 433.8 192.8 434.1zM190.9 370.4 188.2 370.8 185.6 370.7 183.0 370.0 180.4 368.7 178.7 367.0 178.1 365.7 178.0 365.0 178.1 363.7 178.7 362.4 180.0 361.1 181.7 360.0 183.7 359.2 185.6 358.8 188.2 358.8 190.2 359.0 192.2 359.6 193.7 360.4 195.3 361.7 196.1 363.0 196.4 364.4 196.2 365.7 195.7 367.0 194.7 368.4 192.8 369.7 190.9 370.4zM131.4 373.3 130.8 373.6 130.1 373.6 129.5 373.2 128.6 371.7 128.2 369.7 128.2 367.0 128.7 365.0 129.5 363.7 130.1 363.4 130.8 363.8 131.4 364.9 132.4 369.0 132.5 370.3 132.4 371.7 132.2 372.3 131.4 373.3zM139.9 379.2 138.6 379.6 137.3 379.4 136.4 379.0 135.7 378.3 135.3 377.6 135.2 376.3 135.4 375.6 136.0 374.7 137.3 374.1 139.9 373.9 140.6 373.9 141.2 374.4 141.8 375.6 141.8 376.3 140.9 378.3 139.9 379.2zM153.0 421.5 146.4 421.5 139.9 420.9 136.6 421.3 135.3 421.2 131.8 416.8 132.0 416.1 135.3 414.4 136.6 413.9 139.9 413.6 143.8 414.3 152.3 417.3 155.1 418.7 155.7 419.4 156.0 420.1 155.6 420.6 154.3 421.2 153.0 421.5zM194.1 433.4 192.8 433.8 191.5 433.8 189.6 433.3 185.6 431.5 181.7 428.5 180.4 428.0 179.8 428.2 179.3 428.7 178.7 430.0 177.8 431.1 176.5 431.8 175.2 432.1 173.9 432.2 172.0 432.0 170.3 431.3 168.7 430.4 168.0 430.4 166.0 432.1 164.7 432.5 164.1 432.5 162.8 431.8 162.4 431.3 162.3 430.7 162.8 429.5 163.4 428.9 164.7 428.4 166.7 428.2 169.3 426.8 171.3 426.6 173.9 425.8 176.5 425.5 178.4 425.6 179.1 425.3 181.5 422.1 185.0 419.2 190.9 417.6 193.5 417.3 194.8 417.6 195.4 418.0 197.1 419.4 197.8 420.7 198.3 422.7 198.2 424.0 197.0 426.7 196.7 429.3 196.3 430.7 195.1 432.7 194.1 433.4zM136.0 429.1 134.7 429.3 132.7 429.0 131.4 428.3 130.6 427.4 130.4 426.0 130.8 424.7 132.1 423.2 134.0 422.2 135.3 422.1 136.0 422.4 136.6 423.1 137.5 424.7 137.8 426.0 137.6 427.4 137.3 428.0 136.0 429.1zM190.2 370.4 187.6 370.6 185.0 370.3 182.4 369.5 180.4 368.4 179.1 367.0 178.4 365.7 178.3 364.4 178.7 363.0 179.0 362.4 180.4 361.1 182.4 359.9 184.3 359.3 186.3 359.0 188.9 359.0 190.9 359.4 192.8 360.1 194.1 360.9 195.5 362.4 196.0 363.7 196.1 365.0 195.8 366.4 195.0 367.7 193.6 369.0 192.2 369.8 190.2 370.4zM130.8 373.2 130.1 373.2 129.5 372.8 129.2 372.3 128.6 371.0 128.3 369.0 128.4 367.0 128.8 365.2 129.5 364.1 130.1 363.8 130.8 364.2 131.4 365.4 132.0 367.7 132.3 369.7 132.1 371.7 131.4 372.8 130.8 373.2zM138.6 379.1 137.2 379.0 136.2 378.3 135.8 377.6 135.7 376.3 136.0 375.5 136.6 375.0 137.3 374.7 139.3 374.7 140.3 375.0 140.8 375.6 140.8 377.0 140.2 378.3 139.3 378.9 138.6 379.1zM153.6 421.0 152.3 421.2 146.4 421.3 140.6 420.6 136.6 420.4 135.3 419.8 134.7 419.2 133.5 417.4 133.3 416.8 133.7 416.1 134.5 415.4 135.4 414.8 136.6 414.3 139.9 413.8 143.2 414.4 147.7 415.8 153.3 418.1 154.3 418.7 154.9 419.4 154.9 420.1 154.2 420.7 153.6 421.0zM193.5 433.4 192.2 433.5 190.9 433.5 189.6 433.0 187.3 432.0 185.0 430.6 180.4 426.7 180.1 426.0 180.2 425.4 180.9 423.4 181.9 422.1 185.0 419.4 186.3 418.9 188.2 418.6 190.9 417.9 193.5 417.6 194.8 418.0 195.4 418.4 197.1 420.1 197.8 422.1 197.9 423.4 196.8 426.0 196.3 430.0 195.7 431.3 194.8 432.6 193.5 433.4zM135.3 428.8 134.0 428.8 132.7 428.4 131.4 427.4 131.1 426.7 131.2 425.4 131.5 424.7 132.1 424.0 133.4 423.3 134.7 423.1 135.3 423.3 136.6 424.2 137.2 425.4 137.4 426.7 137.2 427.4 136.6 428.2 135.3 428.8zM175.8 431.5 173.9 431.5 171.5 430.7 170.8 430.0 170.4 429.3 170.4 428.7 173.2 427.1 176.5 427.1 177.6 427.4 177.9 428.0 177.9 430.0 177.1 430.9 175.8 431.5zM165.4 431.6 164.7 431.9 164.1 431.9 163.4 431.6 163.2 431.3 163.0 430.7 163.3 430.0 164.1 429.5 164.7 429.3 165.4 429.4 166.0 429.8 166.1 430.7 165.4 431.6zM188.9 370.4 186.3 370.4 183.7 369.8 181.7 368.9 180.0 367.7 178.9 366.4 178.5 365.0 178.7 363.7 178.9 363.0 179.9 361.7 181.7 360.4 183.3 359.7 185.0 359.3 187.6 359.1 189.6 359.3 191.5 359.8 193.5 360.7 194.7 361.7 195.5 363.0 195.9 364.4 195.8 365.7 195.2 367.0 194.1 368.3 192.8 369.2 190.9 370.0 188.9 370.4zM130.8 372.8 130.1 372.9 129.4 372.3 128.8 371.0 128.5 369.0 128.5 367.7 128.8 365.8 129.5 364.5 130.1 364.2 130.8 364.7 131.3 365.7 132.0 369.0 132.0 370.3 131.8 371.7 131.4 372.3 130.8 372.8zM138.6 378.6 137.3 378.5 136.3 377.6 136.1 377.0 136.2 376.3 136.6 375.6 137.3 375.3 138.6 375.3 139.6 375.6 139.9 376.1 140.0 377.0 139.8 377.6 139.3 378.3 138.6 378.6zM153.0 420.8 146.4 421.0 137.3 419.9 136.0 419.4 135.2 418.7 134.4 417.4 134.4 416.8 135.3 415.4 136.2 414.8 137.3 414.4 139.9 414.1 143.2 414.6 147.7 416.0 153.0 418.3 153.6 418.7 154.1 419.4 154.1 420.1 153.0 420.8zM194.1 432.8 192.2 433.3 190.2 433.0 186.8 431.3 183.0 428.5 181.3 426.7 180.9 425.4 181.2 423.4 182.2 422.1 184.3 420.2 185.6 419.4 188.9 418.8 191.5 418.0 192.8 417.9 194.1 418.1 196.0 419.4 196.7 420.3 197.3 421.4 197.5 422.7 197.5 423.4 196.4 426.0 196.0 430.0 195.4 431.3 194.1 432.8zM136.0 428.1 135.3 428.4 134.0 428.3 133.2 428.0 132.3 427.4 131.9 426.7 131.8 426.0 132.0 425.4 132.4 424.7 133.4 424.1 134.0 423.9 135.3 424.1 136.0 424.5 136.7 425.4 137.0 426.7 136.6 427.5 136.0 428.1zM175.8 430.8 174.5 430.7 173.6 430.0 173.4 429.3 173.9 428.8 175.2 428.4 175.8 428.5 176.5 428.8 176.9 429.3 176.9 430.0 176.5 430.5 175.8 430.8zM190.9 369.8 188.9 370.2 186.3 370.2 183.7 369.6 181.7 368.7 180.3 367.7 179.1 366.0 178.8 364.4 179.2 363.0 180.3 361.7 181.7 360.7 183.0 360.0 185.0 359.5 186.9 359.3 189.6 359.5 191.5 360.0 192.8 360.5 194.4 361.7 195.3 363.0 195.6 364.4 195.5 365.7 194.9 367.0 193.8 368.4 192.2 369.3 190.9 369.8zM130.8 372.4 130.1 372.5 129.5 371.9 128.8 370.4 128.6 369.0 128.8 366.4 129.5 364.9 130.1 364.6 130.8 365.1 131.3 366.4 131.8 369.0 131.7 371.0 131.4 371.7 130.8 372.4zM138.6 377.8 138.0 378.0 137.3 377.9 136.9 377.6 136.6 377.0 136.8 376.3 137.3 376.0 138.0 375.9 138.9 376.3 139.1 377.0 138.6 377.8zM147.7 420.7 143.8 420.6 137.5 419.4 136.0 418.6 135.2 417.4 135.2 416.8 135.4 416.1 136.0 415.4 137.1 414.8 139.3 414.4 141.2 414.4 144.5 415.1 147.4 416.1 151.9 418.1 153.0 418.7 153.5 419.4 153.3 420.1 152.3 420.5 149.7 420.5 147.7 420.7zM193.5 432.8 192.2 433.0 190.9 433.0 188.9 432.2 183.7 428.7 181.8 426.7 181.3 424.7 181.6 423.4 182.5 422.1 185.0 419.9 186.3 419.4 188.2 419.2 191.5 418.3 192.8 418.1 193.5 418.2 194.7 418.7 196.5 420.7 196.8 421.4 197.0 422.7 196.1 425.5 196.0 428.7 195.8 430.0 194.8 431.9 193.5 432.8zM136.0 427.5 135.3 427.8 134.7 427.9 133.3 427.4 132.8 426.7 132.7 426.3 133.0 425.4 134.0 424.8 134.7 424.7 136.0 425.4 136.4 426.0 136.4 426.7 136.0 427.5zM190.2 369.8 188.2 370.1 185.6 369.9 183.0 369.1 181.1 368.0 179.6 366.4 179.1 365.0 179.2 363.7 180.0 362.4 181.1 361.4 182.7 360.4 184.3 359.8 186.3 359.5 188.2 359.5 190.2 359.8 192.1 360.4 193.5 361.2 194.7 362.4 195.3 363.7 195.4 365.0 195.1 366.4 194.2 367.7 193.4 368.4 192.2 369.1 190.2 369.8zM130.8 372.0 130.1 372.1 129.5 371.5 129.0 370.3 128.8 369.0 128.8 367.7 129.0 366.4 129.5 365.4 130.1 365.0 130.8 365.7 131.6 368.4 131.6 369.7 131.4 371.0 130.8 372.0zM152.3 420.1 146.4 420.5 142.2 420.1 139.2 419.4 137.3 418.7 136.5 418.1 136.0 417.4 135.9 416.8 136.1 416.1 136.7 415.4 138.0 414.9 140.6 414.6 143.2 414.9 146.8 416.1 152.3 418.7 152.8 419.4 152.3 420.1zM192.8 432.7 190.9 432.7 188.9 431.9 183.7 428.3 182.2 426.7 181.7 424.7 181.9 423.4 182.8 422.1 185.0 420.2 186.3 419.6 188.9 419.3 191.5 418.6 192.8 418.4 194.1 418.8 194.9 419.4 195.9 420.7 196.4 422.1 195.6 425.4 195.8 428.7 195.6 430.0 194.9 431.3 194.3 432.0 192.8 432.7zM135.3 426.9 134.7 427.1 134.0 426.7 134.2 426.0 134.7 425.9 135.3 426.1 135.5 426.7 135.3 426.9zM189.6 369.8 187.6 369.9 185.0 369.6 183.0 368.9 181.0 367.7 179.9 366.4 179.4 365.0 179.5 363.7 180.3 362.4 181.7 361.2 183.0 360.5 184.3 360.0 186.3 359.7 188.2 359.7 190.2 359.9 192.2 360.6 193.5 361.4 194.4 362.4 195.1 363.7 195.2 365.0 194.8 366.4 193.9 367.7 192.8 368.6 191.5 369.2 189.6 369.8zM130.1 371.7 129.5 371.0 129.2 370.3 128.9 368.4 129.1 367.0 129.5 365.9 130.1 365.5 130.9 366.4 131.4 369.0 131.1 371.0 130.8 371.5 130.1 371.7zM148.4 420.1 146.4 420.3 143.8 420.1 139.3 419.0 137.3 417.9 136.9 417.4 136.6 416.8 136.8 416.1 137.5 415.4 139.9 414.9 141.2 414.9 143.8 415.3 147.8 416.8 151.2 418.7 151.8 419.4 148.4 420.1zM193.5 432.2 191.5 432.6 189.6 432.0 188.4 431.3 185.8 429.3 184.3 428.5 183.0 427.3 182.6 426.7 182.1 425.4 182.0 424.0 182.2 423.4 183.1 422.1 185.0 420.4 186.3 419.8 188.9 419.6 191.5 418.9 192.8 418.7 194.1 419.2 194.9 420.1 195.5 421.4 195.6 422.1 194.9 424.7 195.5 428.0 195.5 429.3 194.8 431.1 194.1 431.8 193.5 432.2zM188.2 369.7 186.3 369.6 183.9 369.0 182.4 368.3 180.7 367.0 179.8 365.7 179.7 364.4 180.1 363.0 181.3 361.7 182.4 361.0 184.3 360.2 186.3 359.9 188.2 359.8 190.2 360.1 191.5 360.5 192.8 361.2 194.1 362.3 194.6 363.0 195.0 364.4 194.8 365.7 194.1 367.1 192.8 368.3 191.5 369.0 190.2 369.4 188.2 369.7zM130.1 371.2 129.4 370.3 129.1 368.4 129.5 366.4 130.1 365.9 130.8 366.6 131.2 369.0 131.0 370.3 130.8 371.0 130.1 371.2zM149.1 419.5 147.7 419.8 145.8 420.0 143.8 419.9 141.7 419.4 139.8 418.7 138.5 418.1 137.8 417.4 137.5 416.8 137.6 416.1 138.9 415.4 140.6 415.2 142.5 415.2 144.5 415.6 147.3 416.8 149.2 418.1 149.8 418.7 149.1 419.5zM192.8 432.2 190.9 432.3 189.6 431.8 187.9 430.7 186.3 429.2 184.2 428.0 182.9 426.7 182.3 424.7 182.4 423.4 183.3 422.1 185.0 420.6 186.3 420.1 189.6 419.8 192.2 419.1 193.5 419.3 194.3 420.1 194.8 421.4 194.8 422.1 194.1 424.0 194.1 424.7 195.1 427.4 195.2 429.3 194.8 430.6 194.2 431.3 192.8 432.2zM190.9 369.1 188.9 369.5 186.3 369.4 184.3 369.0 182.4 368.1 181.0 367.0 180.1 365.7 179.9 364.4 180.4 363.0 181.6 361.7 182.6 361.1 184.2 360.4 185.6 360.1 187.6 360.0 189.6 360.1 192.3 361.1 193.5 361.9 194.3 363.0 194.6 363.7 194.7 365.0 194.4 366.4 193.5 367.5 192.2 368.5 190.9 369.1zM130.1 370.7 129.5 369.8 129.3 368.4 129.5 367.1 130.1 366.4 130.8 367.3 131.0 369.0 130.8 370.3 130.1 370.7zM147.7 419.4 145.1 419.8 142.6 419.4 140.8 418.7 139.6 418.1 138.9 417.4 138.6 416.8 139.0 416.1 141.0 415.4 142.5 415.4 144.5 415.8 146.8 416.8 148.5 418.1 148.7 418.7 147.7 419.4zM192.2 432.1 190.9 432.1 189.6 431.6 188.3 430.7 186.3 428.9 184.3 427.8 183.3 426.7 182.6 424.7 182.7 423.4 183.6 422.1 185.0 420.9 186.3 420.3 189.6 420.1 192.2 419.5 192.8 419.5 193.7 420.1 194.2 421.4 194.2 422.1 193.4 424.0 193.4 424.7 194.8 427.5 195.0 429.3 194.8 430.1 194.1 431.1 193.5 431.6 192.2 432.1zM190.2 369.1 188.2 369.3 186.3 369.2 184.3 368.8 182.4 367.8 181.3 367.0 180.4 365.7 180.2 364.4 180.7 363.0 181.7 361.9 183.0 361.1 185.6 360.3 187.6 360.1 189.6 360.3 192.2 361.2 193.5 362.2 194.1 363.0 194.5 364.4 194.4 365.7 193.7 367.0 193.0 367.7 191.5 368.6 190.2 369.1zM130.1 370.1 129.6 369.0 129.5 368.4 129.7 367.7 130.1 367.0 130.7 368.4 130.8 369.0 130.5 369.7 130.1 370.1zM145.8 419.5 143.8 419.4 141.7 418.7 140.6 418.1 140.0 417.4 139.9 416.8 140.6 416.0 142.5 415.7 144.5 416.0 146.2 416.8 147.3 417.4 147.8 418.1 147.8 418.7 147.1 419.1 145.8 419.5zM192.8 431.6 191.5 431.9 190.9 431.9 189.6 431.3 188.6 430.7 186.6 428.7 184.3 427.5 183.6 426.7 182.9 424.7 183.0 423.4 183.9 422.1 185.0 421.1 186.3 420.5 189.6 420.4 192.2 420.0 192.8 420.1 193.4 420.7 193.6 421.4 193.5 422.1 192.9 423.4 192.8 424.7 194.6 428.0 194.7 429.3 194.1 430.7 192.8 431.6zM189.6 369.0 187.6 369.2 185.6 368.9 183.8 368.4 182.4 367.6 181.1 366.4 180.7 365.7 180.5 364.4 181.0 363.0 182.3 361.7 183.5 361.1 186.3 360.4 189.6 360.5 191.5 361.1 192.6 361.7 193.5 362.5 194.2 363.7 194.3 365.0 194.1 365.8 193.5 367.0 192.7 367.7 191.5 368.4 189.6 369.0zM130.1 369.1 130.1 368.1 130.1 369.1zM146.4 418.9 144.5 419.2 142.5 418.8 141.4 418.1 140.8 417.4 140.7 416.8 141.3 416.1 141.9 416.0 143.2 415.9 144.5 416.2 145.7 416.8 146.7 417.4 147.1 418.1 146.8 418.7 146.4 418.9zM192.8 431.3 191.5 431.7 190.0 431.3 188.9 430.6 186.9 428.6 184.7 427.4 183.9 426.7 183.4 425.4 183.2 424.0 183.3 423.4 183.7 422.7 185.0 421.4 186.3 420.7 187.6 420.6 190.2 420.9 192.2 420.7 192.8 421.4 192.8 422.1 192.2 423.4 192.1 424.0 192.5 425.4 194.1 427.9 194.4 428.7 194.1 430.1 193.7 430.7 192.8 431.3zM190.9 368.5 189.6 368.8 187.6 369.0 185.6 368.7 183.7 368.1 182.1 367.0 181.1 365.8 180.8 365.0 181.0 363.7 181.7 362.6 182.7 361.7 185.0 360.8 188.2 360.5 190.2 360.8 191.5 361.3 192.8 362.1 193.6 363.0 193.9 363.7 194.1 365.0 193.6 366.4 193.2 367.0 192.2 367.9 190.9 368.5zM145.8 418.8 144.5 419.0 143.2 418.7 142.0 418.1 141.4 417.4 141.4 416.8 141.9 416.4 143.2 416.1 145.2 416.8 146.2 417.4 146.5 418.1 145.8 418.8zM192.2 431.3 190.9 431.4 189.6 430.8 186.9 428.2 184.3 426.7 183.7 425.4 183.7 423.4 184.6 422.1 185.3 421.4 186.3 420.9 187.6 420.8 189.9 421.4 191.5 422.1 191.4 423.4 191.5 424.0 194.0 428.7 194.0 429.3 193.8 430.0 193.3 430.7 192.2 431.3zM190.2 368.5 188.2 368.8 186.3 368.6 184.3 368.1 183.0 367.4 181.8 366.4 181.1 365.0 181.1 364.4 181.6 363.0 182.4 362.3 183.7 361.4 185.0 361.0 186.3 360.7 189.6 360.8 191.9 361.7 192.8 362.4 193.7 363.7 193.8 364.4 193.7 365.7 192.9 367.0 192.2 367.6 190.2 368.5zM145.8 418.1 145.1 418.5 144.5 418.6 143.2 418.4 142.6 418.1 142.0 417.4 142.1 416.8 143.2 416.5 144.5 416.7 145.6 417.4 145.8 418.1zM192.8 430.7 191.5 431.2 190.2 431.0 188.9 430.0 186.9 427.9 184.8 426.7 184.2 426.0 183.9 424.0 184.4 422.7 185.0 422.0 185.8 421.4 186.9 421.1 188.7 421.4 189.7 422.1 193.5 428.7 193.6 429.3 193.4 430.0 192.8 430.7zM189.6 368.5 187.6 368.6 185.9 368.4 184.3 367.9 182.8 367.0 181.7 365.8 181.4 365.0 181.6 363.7 182.0 363.0 183.7 361.7 185.0 361.2 186.3 360.9 189.6 361.0 190.9 361.4 192.2 362.1 193.1 363.0 193.4 363.7 193.6 364.4 193.5 365.7 192.8 366.8 192.2 367.4 190.9 368.1 189.6 368.5zM144.5 418.2 143.5 418.1 142.7 417.4 143.2 416.8 143.8 416.8 145.0 417.4 144.9 418.1 144.5 418.2zM192.2 430.8 190.9 431.0 190.1 430.7 189.2 430.0 187.5 428.0 185.4 426.7 184.7 426.0 184.3 424.7 184.5 423.4 184.8 422.7 185.6 421.8 186.6 421.4 187.6 421.4 188.9 422.1 189.9 424.0 191.5 426.0 193.1 428.7 193.2 429.3 192.9 430.0 192.2 430.8zM188.2 368.4 186.9 368.3 185.0 367.9 183.7 367.3 182.5 366.4 182.0 365.7 181.7 364.4 182.3 363.0 183.0 362.4 185.0 361.4 186.3 361.1 188.2 361.0 190.9 361.6 192.2 362.4 192.8 363.0 193.2 363.7 193.4 365.0 192.8 366.4 192.2 367.1 190.9 367.9 188.2 368.4zM191.5 430.7 190.7 430.7 189.6 430.0 187.6 427.6 185.2 426.0 184.9 425.4 185.0 423.4 185.3 422.7 185.9 422.1 186.9 421.7 188.2 422.1 188.7 422.7 189.2 424.0 190.9 425.9 192.2 427.8 192.6 428.7 192.7 429.3 192.5 430.0 191.5 430.7zM190.2 367.9 188.9 368.1 186.9 368.1 185.2 367.7 183.7 367.0 182.4 365.7 182.1 365.0 182.3 363.7 183.4 362.4 184.6 361.7 185.6 361.4 188.2 361.2 189.6 361.4 190.9 361.8 192.5 363.0 192.9 363.7 193.1 365.0 192.8 366.0 192.2 366.8 191.5 367.3 190.2 367.9zM191.5 430.4 190.9 430.4 189.9 430.0 187.8 427.4 185.9 426.0 185.6 425.6 185.4 424.7 185.6 423.4 185.9 422.7 186.3 422.3 186.9 422.1 187.6 422.3 188.0 422.7 189.0 424.7 190.9 426.6 191.9 428.0 192.3 429.3 192.1 430.0 191.5 430.4zM189.6 367.8 188.2 367.9 186.3 367.7 185.0 367.3 183.7 366.6 182.8 365.7 182.5 365.0 182.5 364.4 183.0 363.2 183.9 362.4 185.0 361.9 186.9 361.4 189.6 361.6 191.5 362.4 192.6 363.7 192.9 364.4 192.7 365.7 192.3 366.4 191.5 367.1 189.6 367.8zM191.5 430.0 190.9 430.1 190.2 429.8 189.7 429.3 188.2 427.2 186.3 425.4 186.4 424.0 186.6 423.4 186.9 423.0 187.6 423.7 188.1 424.7 191.5 428.2 191.9 429.3 191.5 430.0zM190.9 367.1 189.6 367.6 188.2 367.7 186.9 367.6 185.0 367.0 183.9 366.4 183.3 365.7 182.9 365.0 182.9 364.4 183.1 363.7 183.6 363.0 184.4 362.4 186.3 361.7 188.2 361.6 190.2 362.0 191.9 363.0 192.6 364.4 192.4 365.7 191.9 366.4 190.9 367.1zM190.9 429.6 190.2 429.3 189.6 428.1 189.6 427.7 190.2 427.7 191.2 428.7 191.3 429.3 190.9 429.6zM190.2 367.1 188.9 367.4 187.6 367.3 185.9 367.0 185.0 366.6 183.8 365.7 183.4 365.0 183.3 364.4 183.6 363.7 184.1 363.0 185.0 362.4 186.3 362.0 188.2 361.8 189.6 362.0 190.6 362.4 191.5 363.0 192.0 363.7 192.3 365.0 192.1 365.7 191.6 366.4 190.2 367.1zM188.9 367.1 186.9 366.9 185.0 366.2 184.4 365.7 184.0 365.0 183.9 364.4 184.1 363.7 185.0 362.9 186.0 362.4 186.9 362.2 188.9 362.2 189.9 362.4 190.9 362.9 191.7 363.7 191.9 364.4 192.0 365.0 191.7 365.7 190.9 366.5 188.9 367.1zM190.2 366.5 188.2 366.7 186.3 366.3 185.3 365.7 184.7 365.0 184.6 364.4 184.8 363.7 185.6 363.0 187.6 362.4 188.9 362.4 190.2 362.8 191.2 363.7 191.6 364.4 191.6 365.0 191.3 365.7 190.2 366.5zM190.2 366.0 189.6 366.3 188.2 366.3 186.5 365.7 185.6 364.8 185.5 364.4 185.7 363.7 186.7 363.0 187.6 362.8 188.9 362.8 189.9 363.0 190.7 363.7 191.1 364.4 191.1 365.0 190.9 365.5 190.2 366.0zM189.6 365.7 188.2 365.7 187.3 365.0 186.9 364.4 187.1 363.7 188.2 363.2 188.9 363.2 190.0 363.7 190.5 364.4 190.4 365.0 189.6 365.7z"/>
</g>
<line x1="168.50" y1="345.80" x2="168.50" y2="434.00" stroke="#505050" stroke-width="0.8"/>
<line x1="130.10" y1="397.50" x2="217.00" y2="397.50" stroke="#505050" stroke-width="0.8"/>
<rect x="130.50" y="345.50" width="87.00" height="89.00" fill="none" stroke="#444" stroke-width="1"/>
<line x1="130.50" y1="345.80" x2="130.50" y2="434.00" stroke="#111" stroke-width="1.2"/>
<line x1="130.10" y1="434.50" x2="217.00" y2="434.50" stroke="#111" stroke-width="1.1"/>
<line x1="130.10" y1="434.00" x2="130.10" y2="436.00" stroke="#111" stroke-width="0.5"/>
<line x1="136.64" y1="434.00" x2="136.64" y2="435.20" stroke="#111" stroke-width="0.5"/>
<line x1="140.47" y1="434.00" x2="140.47" y2="435.20" stroke="#111" stroke-width="0.5"/>
<line x1="143.18" y1="434.00" x2="143.18" y2="435.20" stroke="#111" stroke-width="0.5"/>
<line x1="145.29" y1="434.00" x2="145.29" y2="435.20" stroke="#111" stroke-width="0.5"/>
<line x1="147.01" y1="434.00" x2="147.01" y2="435.20" stroke="#111" stroke-width="0.5"/>
<line x1="148.46" y1="434.00" x2="148.46" y2="435.20" stroke="#111" stroke-width="0.5"/>
<line x1="149.72" y1="434.00" x2="149.72" y2="435.20" stroke="#111" stroke-width="0.5"/>
<line x1="150.83" y1="434.00" x2="150.83" y2="435.20" stroke="#111" stroke-width="0.5"/>
<line x1="151.82" y1="434.00" x2="151.82" y2="436.00" stroke="#111" stroke-width="0.5"/>
<line x1="158.36" y1="434.00" x2="158.36" y2="435.20" stroke="#111" stroke-width="0.5"/>
<line x1="162.19" y1="434.00" x2="162.19" y2="435.20" stroke="#111" stroke-width="0.5"/>
<line x1="164.90" y1="434.00" x2="164.90" y2="435.20" stroke="#111" stroke-width="0.5"/>
<line x1="167.01" y1="434.00" x2="167.01" y2="435.20" stroke="#111" stroke-width="0.5"/>
<line x1="168.73" y1="434.00" x2="168.73" y2="435.20" stroke="#111" stroke-width="0.5"/>
<line x1="170.18" y1="434.00" x2="170.18" y2="435.20" stroke="#111" stroke-width="0.5"/>
<line x1="171.44" y1="434.00" x2="171.44" y2="435.20" stroke="#111" stroke-width="0.5"/>
<line x1="172.56" y1="434.00" x2="172.56" y2="435.20" stroke="#111" stroke-width="0.5"/>
<line x1="173.55" y1="434.00" x2="173.55" y2="436.00" stroke="#111" stroke-width="0.5"/>
<line x1="180.09" y1="434.00" x2="180.09" y2="435.20" stroke="#111" stroke-width="0.5"/>
<line x1="183.92" y1="434.00" x2="183.92" y2="435.20" stroke="#111" stroke-width="0.5"/>
<line x1="186.63" y1="434.00" x2="186.63" y2="435.20" stroke="#111" stroke-width="0.5"/>
<line x1="188.74" y1="434.00" x2="188.74" y2="435.20" stroke="#111" stroke-width="0.5"/>
<line x1="190.46" y1="434.00" x2="190.46" y2="435.20" stroke="#111" stroke-width="0.5"/>
<line x1="191.91" y1="434.00" x2="191.91" y2="435.20" stroke="#111" stroke-width="0.5"/>
<line x1="193.17" y1="434.00" x2="193.17" y2="435.20" stroke="#111" stroke-width="0.5"/>
<line x1="194.28" y1="434.00" x2="194.28" y2="435.20" stroke="#111" stroke-width="0.5"/>
<line x1="195.28" y1="434.00" x2="195.28" y2="436.00" stroke="#111" stroke-width="0.5"/>
<line x1="201.81" y1="434.00" x2="201.81" y2="435.20" stroke="#111" stroke-width="0.5"/>
<line x1="205.64" y1="434.00" x2="205.64" y2="435.20" stroke="#111" stroke-width="0.5"/>
<line x1="208.35" y1="434.00" x2="208.35" y2="435.20" stroke="#111" stroke-width="0.5"/>
<line x1="210.46" y1="434.00" x2="210.46" y2="435.20" stroke="#111" stroke-width="0.5"/>
<line x1="212.18" y1="434.00" x2="212.18" y2="435.20" stroke="#111" stroke-width="0.5"/>
<line x1="213.63" y1="434.00" x2="213.63" y2="435.20" stroke="#111" stroke-width="0.5"/>
<line x1="214.89" y1="434.00" x2="214.89" y2="435.20" stroke="#111" stroke-width="0.5"/>
<line x1="216.01" y1="434.00" x2="216.01" y2="435.20" stroke="#111" stroke-width="0.5"/>
<line x1="217.00" y1="434.00" x2="217.00" y2="436.00" stroke="#111" stroke-width="0.5"/>
<line x1="128.10" y1="434.00" x2="130.10" y2="434.00" stroke="#111" stroke-width="0.5"/>
<line x1="128.90" y1="427.36" x2="130.10" y2="427.36" stroke="#111" stroke-width="0.5"/>
<line x1="128.90" y1="423.48" x2="130.10" y2="423.48" stroke="#111" stroke-width="0.5"/>
<line x1="128.90" y1="420.72" x2="130.10" y2="420.72" stroke="#111" stroke-width="0.5"/>
<line x1="128.90" y1="418.59" x2="130.10" y2="418.59" stroke="#111" stroke-width="0.5"/>
<line x1="128.90" y1="416.84" x2="130.10" y2="416.84" stroke="#111" stroke-width="0.5"/>
<line x1="128.90" y1="415.37" x2="130.10" y2="415.37" stroke="#111" stroke-width="0.5"/>
<line x1="128.90" y1="414.09" x2="130.10" y2="414.09" stroke="#111" stroke-width="0.5"/>
<line x1="128.90" y1="412.96" x2="130.10" y2="412.96" stroke="#111" stroke-width="0.5"/>
<line x1="128.10" y1="411.95" x2="130.10" y2="411.95" stroke="#111" stroke-width="0.5"/>
<line x1="128.90" y1="405.31" x2="130.10" y2="405.31" stroke="#111" stroke-width="0.5"/>
<line x1="128.90" y1="401.43" x2="130.10" y2="401.43" stroke="#111" stroke-width="0.5"/>
<line x1="128.90" y1="398.67" x2="130.10" y2="398.67" stroke="#111" stroke-width="0.5"/>
<line x1="128.90" y1="396.54" x2="130.10" y2="396.54" stroke="#111" stroke-width="0.5"/>
<line x1="128.90" y1="394.79" x2="130.10" y2="394.79" stroke="#111" stroke-width="0.5"/>
<line x1="128.90" y1="393.32" x2="130.10" y2="393.32" stroke="#111" stroke-width="0.5"/>
<line x1="128.90" y1="392.04" x2="130.10" y2="392.04" stroke="#111" stroke-width="0.5"/>
<line x1="128.90" y1="390.91" x2="130.10" y2="390.91" stroke="#111" stroke-width="0.5"/>
<line x1="128.10" y1="389.90" x2="130.10" y2="389.90" stroke="#111" stroke-width="0.5"/>
<line x1="128.90" y1="383.26" x2="130.10" y2="383.26" stroke="#111" stroke-width="0.5"/>
<line x1="128.90" y1="379.38" x2="130.10" y2="379.38" stroke="#111" stroke-width="0.5"/>
<line x1="128.90" y1="376.62" x2="130.10" y2="376.62" stroke="#111" stroke-width="0.5"/>
<line x1="128.90" y1="374.49" x2="130.10" y2="374.49" stroke="#111" stroke-width="0.5"/>
<line x1="128.90" y1="372.74" x2="130.10" y2="372.74" stroke="#111" stroke-width="0.5"/>
<line x1="128.90" y1="371.27" x2="130.10" y2="371.27" stroke="#111" stroke-width="0.5"/>
<line x1="128.90" y1="369.99" x2="130.10" y2="369.99" stroke="#111" stroke-width="0.5"/>
<line x1="128.90" y1="368.86" x2="130.10" y2="368.86" stroke="#111" stroke-width="0.5"/>
<line x1="128.10" y1="367.85" x2="130.10" y2="367.85" stroke="#111" stroke-width="0.5"/>
<line x1="128.90" y1="361.21" x2="130.10" y2="361.21" stroke="#111" stroke-width="0.5"/>
<line x1="128.90" y1="357.33" x2="130.10" y2="357.33" stroke="#111" stroke-width="0.5"/>
<line x1="128.90" y1="354.57" x2="130.10" y2="354.57" stroke="#111" stroke-width="0.5"/>
<line x1="128.90" y1="352.44" x2="130.10" y2="352.44" stroke="#111" stroke-width="0.5"/>
<line x1="128.90" y1="350.69" x2="130.10" y2="350.69" stroke="#111" stroke-width="0.5"/>
<line x1="128.90" y1="349.22" x2="130.10" y2="349.22" stroke="#111" stroke-width="0.5"/>
<line x1="128.90" y1="347.94" x2="130.10" y2="347.94" stroke="#111" stroke-width="0.5"/>
<line x1="128.90" y1="346.81" x2="130.10" y2="346.81" stroke="#111" stroke-width="0.5"/>
<line x1="128.10" y1="345.80" x2="130.10" y2="345.80" stroke="#111" stroke-width="0.5"/>
<text x="130.10" y="441.30" font-family='"Liberation Serif", serif' font-size="3.6" font-weight="bold" text-anchor="middle">1</text>
<text x="125.70" y="435.30" font-family='"Liberation Serif", serif' font-size="3.6" font-weight="bold" text-anchor="end">1</text>
<text x="151.82" y="441.30" font-family='"Liberation Serif", serif' font-size="3.6" font-weight="bold" text-anchor="middle">10</text>
<text x="125.70" y="413.25" font-family='"Liberation Serif", serif' font-size="3.6" font-weight="bold" text-anchor="end">10</text>
<text x="173.55" y="441.30" font-family='"Liberation Serif", serif' font-size="3.6" font-weight="bold" text-anchor="middle">100</text>
<text x="125.70" y="391.20" font-family='"Liberation Serif", serif' font-size="3.6" font-weight="bold" text-anchor="end">100</text>
<text x="195.28" y="441.30" font-family='"Liberation Serif", serif' font-size="3.6" font-weight="bold" text-anchor="middle">1000</text>
<text x="125.70" y="369.15" font-family='"Liberation Serif", serif' font-size="3.6" font-weight="bold" text-anchor="end">1000</text>
<text x="217.00" y="441.30" font-family='"Liberation Serif", serif' font-size="3.6" font-weight="bold" text-anchor="middle">10000</text>
<text x="125.70" y="347.10" font-family='"Liberation Serif", serif' font-size="3.6" font-weight="bold" text-anchor="end">10000</text>
<text x="134.30" y="354.00" font-family='"Liberation Serif", serif' font-size="7.6" font-weight="normal" text-anchor="start">8</text>
<text x="208.00" y="354.20" font-family='"Liberation Serif", serif' font-size="7.6" font-weight="normal" text-anchor="end">11</text>
<rect x="131.50" y="421.00" width="11.10" height="12.40" fill="#fff" stroke="#222" stroke-width="0.5"/>
<text x="136.90" y="431.60" font-family='"Liberation Serif", serif' font-size="7.6" font-weight="normal" text-anchor="middle">67</text>
<rect x="205.60" y="422.00" width="10.80" height="11.40" fill="#fff" stroke="#222" stroke-width="0.5"/>
<text x="211.60" y="431.60" font-family='"Liberation Serif", serif' font-size="7.6" font-weight="normal" text-anchor="middle">14</text>
<path d="M22.0 201.6L22.0 170.9L22.4 170.7L22.8 175.1L23.2 168.9L23.6 175.5L24.0 174.1L24.4 172.2L24.8 175.4L25.2 175.4L25.6 175.4L26.0 173.5L26.4 170.9L26.8 174.8L27.2 177.0L27.6 174.7L28.0 176.7L28.4 176.0L28.8 174.5L29.2 177.7L29.6 176.9L30.0 178.6L30.4 177.6L30.8 177.4L31.2 179.5L31.6 179.0L32.0 179.4L32.4 180.6L32.8 181.9L33.2 182.7L33.6 182.2L34.0 183.2L34.4 181.4L34.8 187.3L35.2 185.4L35.6 186.4L36.0 186.4L36.4 188.2L36.8 189.9L37.2 189.7L37.6 190.2L38.0 191.4L38.4 191.6L38.8 193.7L39.2 192.4L39.6 193.2L40.0 194.7L40.4 194.5L40.8 195.3L41.2 196.1L41.6 196.3L42.0 196.5L42.4 197.2L42.8 197.7L43.2 198.1L43.6 198.6L44.0 198.7L44.4 198.8L44.8 198.6L45.2 198.6L45.6 199.0L46.0 198.6L46.4 198.4L46.8 198.4L47.2 198.1L47.6 198.6L48.0 198.1L48.4 198.1L48.8 198.1L49.2 197.7L49.6 197.3L50.0 197.7L50.4 197.2L50.8 197.4L51.2 197.2L51.6 197.1L52.0 195.7L52.4 196.6L52.8 195.2L53.2 194.2L53.6 194.8L54.0 193.6L54.4 192.8L54.8 191.7L55.2 190.5L55.6 190.8L56.0 190.7L56.4 187.8L56.8 187.0L57.2 187.6L57.6 186.1L58.0 185.3L58.4 183.8L58.8 183.0L59.2 180.7L59.6 183.3L60.0 178.7L60.4 178.4L60.8 178.3L61.2 173.2L61.6 176.2L62.0 167.1L62.4 165.5L62.8 166.0L63.2 159.2L63.6 157.9L64.0 146.8L64.4 145.2L64.8 146.9L65.2 149.7L65.6 148.3L66.0 146.5L66.4 146.2L66.8 147.4L67.2 147.0L67.6 146.7L68.0 148.1L68.4 150.4L68.8 154.6L69.2 148.9L69.6 163.4L70.0 166.0L70.4 168.2L70.8 174.8L71.2 178.7L71.6 182.7L72.0 185.3L72.4 188.8L72.8 193.0L73.2 194.7L73.6 196.5L74.0 196.5L74.4 197.6L74.8 198.4L75.2 198.8L75.6 199.6L76.0 199.7L76.4 200.0L76.8 199.9L77.2 200.1L77.6 200.2L78.0 200.3L78.4 200.3L78.8 200.6L79.2 200.6L79.6 200.7L80.0 200.8L80.4 200.6L80.8 200.8L81.2 200.8L81.6 200.7L82.0 200.8L82.4 200.7L82.8 200.8L83.2 200.8L83.6 200.8L84.0 200.7L84.4 200.8L84.8 200.7L85.2 200.7L85.6 201.0L86.0 200.8L86.4 200.7L86.8 201.0L87.2 200.8L87.6 200.8L88.0 200.7L88.4 200.9L88.8 200.7L89.2 200.7L89.6 200.8L90.0 200.7L90.4 200.9L90.8 200.8L91.2 201.0L91.6 200.9L92.0 200.8L92.4 200.9L92.8 200.9L93.2 200.9L93.6 200.9L94.0 200.8L94.4 200.9L94.8 201.0L95.2 200.8L95.6 201.0L96.0 200.9L96.4 201.0L96.8 200.8L97.2 200.9L97.6 200.9L98.0 201.0L98.4 200.9L98.8 201.0L99.2 200.8L99.6 201.0L100.0 200.8L100.4 200.9L100.8 200.8L101.2 201.1L101.6 200.9L102.0 200.9L102.4 201.1L102.8 201.1L103.2 201.0L103.6 200.9L104.0 201.0L104.4 201.0L104.8 200.9L105.2 201.0L105.6 200.9L106.0 201.0L106.4 201.1L106.8 200.9L107.2 200.9L107.6 201.1L108.0 201.0L108.4 201.0L108.8 201.1L109.2 201.0L109.6 201.0L109.6 201.6z" fill="#d9d9d9" stroke="#111" stroke-width="0.7" stroke-linejoin="round"/>
<rect x="22.50" y="132.50" width="87.00" height="69.00" fill="none" stroke="#666" stroke-width="1"/>
<line x1="22.50" y1="132.30" x2="22.50" y2="201.60" stroke="#111" stroke-width="1.3"/>
<line x1="22.00" y1="201.50" x2="109.60" y2="201.50" stroke="#111" stroke-width="1"/>
<line x1="22.00" y1="201.60" x2="22.00" y2="203.20" stroke="#111" stroke-width="0.5"/>
<line x1="28.59" y1="201.60" x2="28.59" y2="202.56" stroke="#111" stroke-width="0.5"/>
<line x1="32.45" y1="201.60" x2="32.45" y2="202.56" stroke="#111" stroke-width="0.5"/>
<line x1="35.19" y1="201.60" x2="35.19" y2="202.56" stroke="#111" stroke-width="0.5"/>
<line x1="37.31" y1="201.60" x2="37.31" y2="202.56" stroke="#111" stroke-width="0.5"/>
<line x1="39.04" y1="201.60" x2="39.04" y2="202.56" stroke="#111" stroke-width="0.5"/>
<line x1="40.51" y1="201.60" x2="40.51" y2="202.56" stroke="#111" stroke-width="0.5"/>
<line x1="41.78" y1="201.60" x2="41.78" y2="202.56" stroke="#111" stroke-width="0.5"/>
<line x1="42.90" y1="201.60" x2="42.90" y2="202.56" stroke="#111" stroke-width="0.5"/>
<line x1="43.90" y1="201.60" x2="43.90" y2="203.20" stroke="#111" stroke-width="0.5"/>
<line x1="50.49" y1="201.60" x2="50.49" y2="202.56" stroke="#111" stroke-width="0.5"/>
<line x1="54.35" y1="201.60" x2="54.35" y2="202.56" stroke="#111" stroke-width="0.5"/>
<line x1="57.09" y1="201.60" x2="57.09" y2="202.56" stroke="#111" stroke-width="0.5"/>
<line x1="59.21" y1="201.60" x2="59.21" y2="202.56" stroke="#111" stroke-width="0.5"/>
<line x1="60.94" y1="201.60" x2="60.94" y2="202.56" stroke="#111" stroke-width="0.5"/>
<line x1="62.41" y1="201.60" x2="62.41" y2="202.56" stroke="#111" stroke-width="0.5"/>
<line x1="63.68" y1="201.60" x2="63.68" y2="202.56" stroke="#111" stroke-width="0.5"/>
<line x1="64.80" y1="201.60" x2="64.80" y2="202.56" stroke="#111" stroke-width="0.5"/>
<line x1="65.80" y1="201.60" x2="65.80" y2="203.20" stroke="#111" stroke-width="0.5"/>
<line x1="72.39" y1="201.60" x2="72.39" y2="202.56" stroke="#111" stroke-width="0.5"/>
<line x1="76.25" y1="201.60" x2="76.25" y2="202.56" stroke="#111" stroke-width="0.5"/>
<line x1="78.99" y1="201.60" x2="78.99" y2="202.56" stroke="#111" stroke-width="0.5"/>
<line x1="81.11" y1="201.60" x2="81.11" y2="202.56" stroke="#111" stroke-width="0.5"/>
<line x1="82.84" y1="201.60" x2="82.84" y2="202.56" stroke="#111" stroke-width="0.5"/>
<line x1="84.31" y1="201.60" x2="84.31" y2="202.56" stroke="#111" stroke-width="0.5"/>
<line x1="85.58" y1="201.60" x2="85.58" y2="202.56" stroke="#111" stroke-width="0.5"/>
<line x1="86.70" y1="201.60" x2="86.70" y2="202.56" stroke="#111" stroke-width="0.5"/>
<line x1="87.70" y1="201.60" x2="87.70" y2="203.20" stroke="#111" stroke-width="0.5"/>
<line x1="94.29" y1="201.60" x2="94.29" y2="202.56" stroke="#111" stroke-width="0.5"/>
<line x1="98.15" y1="201.60" x2="98.15" y2="202.56" stroke="#111" stroke-width="0.5"/>
<line x1="100.89" y1="201.60" x2="100.89" y2="202.56" stroke="#111" stroke-width="0.5"/>
<line x1="103.01" y1="201.60" x2="103.01" y2="202.56" stroke="#111" stroke-width="0.5"/>
<line x1="104.74" y1="201.60" x2="104.74" y2="202.56" stroke="#111" stroke-width="0.5"/>
<line x1="106.21" y1="201.60" x2="106.21" y2="202.56" stroke="#111" stroke-width="0.5"/>
<line x1="107.48" y1="201.60" x2="107.48" y2="202.56" stroke="#111" stroke-width="0.5"/>
<line x1="108.60" y1="201.60" x2="108.60" y2="202.56" stroke="#111" stroke-width="0.5"/>
<line x1="109.60" y1="201.60" x2="109.60" y2="203.20" stroke="#111" stroke-width="0.5"/>
<line x1="20.50" y1="201.60" x2="22.00" y2="201.60" stroke="#333" stroke-width="0.35"/>
<text x="17.60" y="202.90" font-family='"Liberation Serif", serif' font-size="3.6" font-weight="bold" text-anchor="end">0</text>
<line x1="20.50" y1="188.68" x2="22.00" y2="188.68" stroke="#333" stroke-width="0.35"/>
<text x="17.60" y="189.98" font-family='"Liberation Serif", serif' font-size="3.6" font-weight="bold" text-anchor="end">20</text>
<line x1="20.50" y1="175.76" x2="22.00" y2="175.76" stroke="#333" stroke-width="0.35"/>
<text x="17.60" y="177.06" font-family='"Liberation Serif", serif' font-size="3.6" font-weight="bold" text-anchor="end">40</text>
<line x1="20.50" y1="162.84" x2="22.00" y2="162.84" stroke="#333" stroke-width="0.35"/>
<text x="17.60" y="164.14" font-family='"Liberation Serif", serif' font-size="3.6" font-weight="bold" text-anchor="end">60</text>
<line x1="20.50" y1="149.92" x2="22.00" y2="149.92" stroke="#333" stroke-width="0.35"/>
<text x="17.60" y="151.22" font-family='"Liberation Serif", serif' font-size="3.6" font-weight="bold" text-anchor="end">80</text>
<line x1="20.50" y1="137.00" x2="22.00" y2="137.00" stroke="#333" stroke-width="0.35"/>
<text x="17.60" y="138.30" font-family='"Liberation Serif", serif' font-size="3.6" font-weight="bold" text-anchor="end">100</text>
<text x="22.00" y="207.40" font-family='"Liberation Serif", serif' font-size="3.6" font-weight="bold" text-anchor="middle">1</text>
<text x="43.90" y="207.40" font-family='"Liberation Serif", serif' font-size="3.6" font-weight="bold" text-anchor="middle">10</text>
<text x="65.80" y="207.40" font-family='"Liberation Serif", serif' font-size="3.6" font-weight="bold" text-anchor="middle">100</text>
<text x="87.70" y="207.40" font-family='"Liberation Serif", serif' font-size="3.6" font-weight="bold" text-anchor="middle">1000</text>
<text x="109.60" y="207.40" font-family='"Liberation Serif", serif' font-size="3.6" font-weight="bold" text-anchor="middle">10000</text>
<line x1="60.80" y1="171.50" x2="109.60" y2="171.50" stroke="#111" stroke-width="0.9"/>
<line x1="60.80" y1="168.40" x2="60.80" y2="175.80" stroke="#111" stroke-width="0.9"/>
<path d="M130.8 202.3L130.8 188.3L131.2 186.9L131.6 187.4L132.0 184.8L132.4 184.9L132.8 186.3L133.2 185.9L133.6 185.2L134.0 186.0L134.4 188.0L134.8 186.8L135.2 186.8L135.6 186.0L136.0 185.7L136.4 186.7L136.8 184.9L137.2 184.9L137.6 181.6L138.0 181.7L138.4 181.5L138.8 181.9L139.2 180.7L139.6 180.7L140.0 182.8L140.4 178.8L140.8 181.3L141.2 179.9L141.6 183.5L142.0 180.1L142.4 183.7L142.8 183.0L143.2 181.3L143.6 182.1L144.0 185.0L144.4 183.6L144.8 182.2L145.2 181.8L145.6 183.7L146.0 185.7L146.4 185.7L146.8 187.6L147.2 186.4L147.6 188.3L148.0 187.5L148.4 187.7L148.8 187.1L149.2 188.5L149.6 187.5L150.0 188.6L150.4 187.8L150.8 188.0L151.2 190.1L151.6 188.7L152.0 188.8L152.4 189.5L152.8 189.0L153.2 189.8L153.6 187.9L154.0 187.7L154.4 187.4L154.8 185.0L155.2 186.7L155.6 186.7L156.0 187.1L156.4 185.3L156.8 185.7L157.2 182.4L157.6 183.9L158.0 182.2L158.4 178.4L158.8 177.7L159.2 177.1L159.6 173.4L160.0 174.0L160.4 170.4L160.8 169.3L161.2 168.6L161.6 163.1L162.0 159.1L162.4 160.0L162.8 159.4L163.2 155.3L163.6 158.5L164.0 150.5L164.4 149.7L164.8 138.6L165.2 148.1L165.6 152.0L166.0 144.8L166.4 148.3L166.8 145.7L167.2 143.5L167.6 141.7L168.0 142.2L168.4 139.5L168.8 143.1L169.2 148.5L169.6 150.3L170.0 157.6L170.4 159.3L170.8 163.5L171.2 167.9L171.6 171.6L172.0 176.5L172.4 177.6L172.8 183.0L173.2 185.1L173.6 187.7L174.0 189.6L174.4 191.4L174.9 191.6L175.3 193.9L175.7 196.1L176.1 197.0L176.5 198.2L176.9 198.1L177.3 198.3L177.7 199.1L178.1 199.2L178.5 199.7L178.9 199.9L179.3 200.3L179.7 200.8L180.1 201.0L180.5 200.9L180.9 200.7L181.3 200.9L181.7 201.0L182.1 201.2L182.5 201.2L182.9 201.0L183.3 201.1L183.7 201.3L184.1 201.4L184.5 201.2L184.9 201.5L185.3 201.5L185.7 201.6L186.1 201.5L186.5 201.6L186.9 201.6L187.3 201.7L187.7 201.5L188.1 201.6L188.5 201.4L188.9 201.6L189.3 201.5L189.7 201.5L190.1 201.6L190.5 201.6L190.9 201.5L191.3 201.7L191.7 201.6L192.1 201.6L192.5 201.4L192.9 201.5L193.3 201.6L193.7 201.5L194.1 201.5L194.5 201.7L194.9 201.7L195.3 201.5L195.7 201.6L196.1 201.7L196.5 201.7L196.9 201.6L197.3 201.5L197.7 201.7L198.1 201.7L198.5 201.7L198.9 201.5L199.3 201.6L199.7 201.5L200.1 201.7L200.5 201.5L200.9 201.5L201.3 201.5L201.7 201.7L202.1 201.5L202.5 201.7L202.9 201.7L203.3 201.7L203.7 201.6L204.1 201.5L204.5 201.6L204.9 201.7L205.3 201.7L205.7 201.7L206.1 201.5L206.5 201.7L206.9 201.7L207.3 201.7L207.7 201.7L208.1 201.7L208.5 201.6L208.9 201.6L209.3 201.7L209.7 201.7L210.1 201.6L210.5 201.7L210.9 201.7L211.3 201.6L211.7 201.6L212.1 201.7L212.5 201.8L212.9 201.7L213.3 201.6L213.7 201.6L214.1 201.6L214.5 201.8L214.9 201.6L215.3 201.7L215.7 201.8L216.1 201.8L216.5 201.7L216.9 201.6L217.3 201.7L217.7 201.8L218.1 201.8L218.5 201.8L218.5 202.3z" fill="#d9d9d9" stroke="#111" stroke-width="0.7" stroke-linejoin="round"/>
<rect x="130.50" y="134.50" width="88.00" height="68.00" fill="none" stroke="#666" stroke-width="1"/>
<line x1="130.50" y1="134.20" x2="130.50" y2="202.30" stroke="#111" stroke-width="1.3"/>
<line x1="130.80" y1="202.50" x2="218.50" y2="202.50" stroke="#111" stroke-width="1"/>
<line x1="130.80" y1="202.30" x2="130.80" y2="203.90" stroke="#111" stroke-width="0.5"/>
<line x1="137.40" y1="202.30" x2="137.40" y2="203.26" stroke="#111" stroke-width="0.5"/>
<line x1="141.26" y1="202.30" x2="141.26" y2="203.26" stroke="#111" stroke-width="0.5"/>
<line x1="144.00" y1="202.30" x2="144.00" y2="203.26" stroke="#111" stroke-width="0.5"/>
<line x1="146.12" y1="202.30" x2="146.12" y2="203.26" stroke="#111" stroke-width="0.5"/>
<line x1="147.86" y1="202.30" x2="147.86" y2="203.26" stroke="#111" stroke-width="0.5"/>
<line x1="149.33" y1="202.30" x2="149.33" y2="203.26" stroke="#111" stroke-width="0.5"/>
<line x1="150.60" y1="202.30" x2="150.60" y2="203.26" stroke="#111" stroke-width="0.5"/>
<line x1="151.72" y1="202.30" x2="151.72" y2="203.26" stroke="#111" stroke-width="0.5"/>
<line x1="152.73" y1="202.30" x2="152.73" y2="203.90" stroke="#111" stroke-width="0.5"/>
<line x1="159.33" y1="202.30" x2="159.33" y2="203.26" stroke="#111" stroke-width="0.5"/>
<line x1="163.19" y1="202.30" x2="163.19" y2="203.26" stroke="#111" stroke-width="0.5"/>
<line x1="165.93" y1="202.30" x2="165.93" y2="203.26" stroke="#111" stroke-width="0.5"/>
<line x1="168.05" y1="202.30" x2="168.05" y2="203.26" stroke="#111" stroke-width="0.5"/>
<line x1="169.79" y1="202.30" x2="169.79" y2="203.26" stroke="#111" stroke-width="0.5"/>
<line x1="171.25" y1="202.30" x2="171.25" y2="203.26" stroke="#111" stroke-width="0.5"/>
<line x1="172.53" y1="202.30" x2="172.53" y2="203.26" stroke="#111" stroke-width="0.5"/>
<line x1="173.65" y1="202.30" x2="173.65" y2="203.26" stroke="#111" stroke-width="0.5"/>
<line x1="174.65" y1="202.30" x2="174.65" y2="203.90" stroke="#111" stroke-width="0.5"/>
<line x1="181.25" y1="202.30" x2="181.25" y2="203.26" stroke="#111" stroke-width="0.5"/>
<line x1="185.11" y1="202.30" x2="185.11" y2="203.26" stroke="#111" stroke-width="0.5"/>
<line x1="187.85" y1="202.30" x2="187.85" y2="203.26" stroke="#111" stroke-width="0.5"/>
<line x1="189.97" y1="202.30" x2="189.97" y2="203.26" stroke="#111" stroke-width="0.5"/>
<line x1="191.71" y1="202.30" x2="191.71" y2="203.26" stroke="#111" stroke-width="0.5"/>
<line x1="193.18" y1="202.30" x2="193.18" y2="203.26" stroke="#111" stroke-width="0.5"/>
<line x1="194.45" y1="202.30" x2="194.45" y2="203.26" stroke="#111" stroke-width="0.5"/>
<line x1="195.57" y1="202.30" x2="195.57" y2="203.26" stroke="#111" stroke-width="0.5"/>
<line x1="196.57" y1="202.30" x2="196.57" y2="203.90" stroke="#111" stroke-width="0.5"/>
<line x1="203.18" y1="202.30" x2="203.18" y2="203.26" stroke="#111" stroke-width="0.5"/>
<line x1="207.04" y1="202.30" x2="207.04" y2="203.26" stroke="#111" stroke-width="0.5"/>
<line x1="209.78" y1="202.30" x2="209.78" y2="203.26" stroke="#111" stroke-width="0.5"/>
<line x1="211.90" y1="202.30" x2="211.90" y2="203.26" stroke="#111" stroke-width="0.5"/>
<line x1="213.64" y1="202.30" x2="213.64" y2="203.26" stroke="#111" stroke-width="0.5"/>
<line x1="215.10" y1="202.30" x2="215.10" y2="203.26" stroke="#111" stroke-width="0.5"/>
<line x1="216.38" y1="202.30" x2="216.38" y2="203.26" stroke="#111" stroke-width="0.5"/>
<line x1="217.50" y1="202.30" x2="217.50" y2="203.26" stroke="#111" stroke-width="0.5"/>
<line x1="218.50" y1="202.30" x2="218.50" y2="203.90" stroke="#111" stroke-width="0.5"/>
<line x1="129.30" y1="202.30" x2="130.80" y2="202.30" stroke="#333" stroke-width="0.35"/>
<text x="126.40" y="203.60" font-family='"Liberation Serif", serif' font-size="3.6" font-weight="bold" text-anchor="end">0</text>
<line x1="129.30" y1="189.62" x2="130.80" y2="189.62" stroke="#333" stroke-width="0.35"/>
<text x="126.40" y="190.92" font-family='"Liberation Serif", serif' font-size="3.6" font-weight="bold" text-anchor="end">20</text>
<line x1="129.30" y1="176.94" x2="130.80" y2="176.94" stroke="#333" stroke-width="0.35"/>
<text x="126.40" y="178.24" font-family='"Liberation Serif", serif' font-size="3.6" font-weight="bold" text-anchor="end">40</text>
<line x1="129.30" y1="164.26" x2="130.80" y2="164.26" stroke="#333" stroke-width="0.35"/>
<text x="126.40" y="165.56" font-family='"Liberation Serif", serif' font-size="3.6" font-weight="bold" text-anchor="end">60</text>
<line x1="129.30" y1="151.58" x2="130.80" y2="151.58" stroke="#333" stroke-width="0.35"/>
<text x="126.40" y="152.88" font-family='"Liberation Serif", serif' font-size="3.6" font-weight="bold" text-anchor="end">80</text>
<line x1="129.30" y1="138.90" x2="130.80" y2="138.90" stroke="#333" stroke-width="0.35"/>
<text x="126.40" y="140.20" font-family='"Liberation Serif", serif' font-size="3.6" font-weight="bold" text-anchor="end">100</text>
<text x="130.80" y="208.10" font-family='"Liberation Serif", serif' font-size="3.6" font-weight="bold" text-anchor="middle">1</text>
<text x="152.73" y="208.10" font-family='"Liberation Serif", serif' font-size="3.6" font-weight="bold" text-anchor="middle">10</text>
<text x="174.65" y="208.10" font-family='"Liberation Serif", serif' font-size="3.6" font-weight="bold" text-anchor="middle">100</text>
<text x="196.57" y="208.10" font-family='"Liberation Serif", serif' font-size="3.6" font-weight="bold" text-anchor="middle">1000</text>
<text x="218.50" y="208.10" font-family='"Liberation Serif", serif' font-size="3.6" font-weight="bold" text-anchor="middle">10000</text>
<line x1="166.70" y1="171.50" x2="215.70" y2="171.50" stroke="#111" stroke-width="0.9"/>
<line x1="166.70" y1="167.30" x2="166.70" y2="175.80" stroke="#111" stroke-width="0.9"/>
<text x="0.60" y="13.90" font-family='"Liberation Sans", sans-serif' font-size="18.5" font-weight="bold" text-anchor="start">A</text>
<text x="70.50" y="14.10" font-family='"Liberation Serif", serif' font-size="14.3" font-weight="bold" text-anchor="middle" textLength="42.6" lengthAdjust="spacingAndGlyphs" stroke="#000" stroke-width="0.3">Control</text>
<text x="175.00" y="14.60" font-family='"Liberation Serif", serif' font-size="14.6" font-weight="bold" text-anchor="middle" textLength="34.8" lengthAdjust="spacingAndGlyphs" stroke="#000" stroke-width="0.3">Delta4</text>
<text x="68.30" y="128.30" font-family='"Liberation Serif", serif' font-size="11.8" font-weight="bold" text-anchor="middle" textLength="21.2" lengthAdjust="spacingAndGlyphs" stroke="#000" stroke-width="0.35">CD4</text>
<text x="175.90" y="128.30" font-family='"Liberation Serif", serif' font-size="11.8" font-weight="bold" text-anchor="middle" textLength="21.2" lengthAdjust="spacingAndGlyphs" stroke="#000" stroke-width="0.35">CD4</text>
<text x="68.30" y="222.70" font-family='"Liberation Serif", serif' font-size="11.8" font-weight="bold" text-anchor="middle" textLength="21.2" lengthAdjust="spacingAndGlyphs" stroke="#000" stroke-width="0.35">CD3</text>
<text x="173.20" y="222.50" font-family='"Liberation Serif", serif' font-size="11.8" font-weight="bold" text-anchor="middle" textLength="21.2" lengthAdjust="spacingAndGlyphs" stroke="#000" stroke-width="0.35">CD3</text>
<text x="63.40" y="336.20" font-family='"Liberation Serif", serif' font-size="11.8" font-weight="bold" text-anchor="middle" textLength="17.4" lengthAdjust="spacingAndGlyphs" stroke="#000" stroke-width="0.35">IgD</text>
<text x="170.30" y="336.50" font-family='"Liberation Serif", serif' font-size="11.8" font-weight="bold" text-anchor="middle" textLength="17.4" lengthAdjust="spacingAndGlyphs" stroke="#000" stroke-width="0.35">IgD</text>
<text x="67.10" y="456.60" font-family='"Liberation Serif", serif' font-size="11.8" font-weight="bold" text-anchor="middle" textLength="28.2" lengthAdjust="spacingAndGlyphs" stroke="#000" stroke-width="0.35">Mac-1</text>
<text x="171.20" y="457.40" font-family='"Liberation Serif", serif' font-size="11.8" font-weight="bold" text-anchor="middle" textLength="28.2" lengthAdjust="spacingAndGlyphs" stroke="#000" stroke-width="0.35">Mac-1</text>
<text x="9.70" y="58.30" font-family='"Liberation Serif", serif' font-size="11.8" font-weight="bold" text-anchor="middle" transform="rotate(-90 9.70 58.30)">CD8</text>
<text x="9.70" y="162.60" font-family='"Liberation Serif", serif' font-size="11.8" font-weight="bold" text-anchor="middle" transform="rotate(-90 9.70 162.60)">Relative cell number</text>
<text x="9.70" y="261.50" font-family='"Liberation Serif", serif' font-size="11.8" font-weight="bold" text-anchor="middle" transform="rotate(-90 9.70 261.50)">B220</text>
<text x="9.70" y="382.00" font-family='"Liberation Serif", serif' font-size="11.8" font-weight="bold" text-anchor="middle" transform="rotate(-90 9.70 382.00)">Gr-1</text>
<text x="245.60" y="14.00" font-family='"Liberation Sans", sans-serif' font-size="16.7" font-weight="bold" text-anchor="start" textLength="13" lengthAdjust="spacingAndGlyphs">B</text>
<text x="301.20" y="10.60" font-family='"Liberation Serif", serif' font-size="13.4" font-weight="normal" text-anchor="start" letter-spacing="0.3">5 weeks</text>
<text x="302.80" y="194.40" font-family='"Liberation Serif", serif' font-size="13.4" font-weight="normal" text-anchor="start" letter-spacing="0.3">15 weeks</text>
<text x="255.00" y="179.00" font-family='"Liberation Serif", serif' font-size="14" font-weight="bold" text-anchor="middle" transform="rotate(-90 255.00 179.00)">Cell number / <tspan font-style="italic">µ</tspan>L</text>
<rect x="299.40" y="21.30" width="218.60" height="153.70" fill="#fff" stroke="none" stroke-width="0.6"/>
<line x1="296.90" y1="175.50" x2="299.40" y2="175.50" stroke="#333" stroke-width="1"/>
<text x="293.00" y="179.40" font-family='"Liberation Sans", sans-serif' font-size="11" font-weight="normal" text-anchor="end" textLength="5.4" lengthAdjust="spacingAndGlyphs" stroke="#111" stroke-width="0.4">0</text>
<line x1="299.40" y1="153.50" x2="518.00" y2="153.50" stroke="#808080" stroke-width="1"/>
<line x1="296.90" y1="153.50" x2="299.40" y2="153.50" stroke="#333" stroke-width="1"/>
<text x="293.00" y="157.44" font-family='"Liberation Sans", sans-serif' font-size="11" font-weight="normal" text-anchor="end" textLength="17.1" lengthAdjust="spacingAndGlyphs" stroke="#111" stroke-width="0.4">500</text>
<line x1="299.40" y1="131.50" x2="518.00" y2="131.50" stroke="#808080" stroke-width="1"/>
<line x1="296.90" y1="131.50" x2="299.40" y2="131.50" stroke="#333" stroke-width="1"/>
<text x="293.00" y="135.49" font-family='"Liberation Sans", sans-serif' font-size="11" font-weight="normal" text-anchor="end" textLength="23.0" lengthAdjust="spacingAndGlyphs" stroke="#111" stroke-width="0.4">1000</text>
<line x1="299.40" y1="109.50" x2="518.00" y2="109.50" stroke="#808080" stroke-width="1"/>
<line x1="296.90" y1="109.50" x2="299.40" y2="109.50" stroke="#333" stroke-width="1"/>
<text x="293.00" y="113.53" font-family='"Liberation Sans", sans-serif' font-size="11" font-weight="normal" text-anchor="end" textLength="23.0" lengthAdjust="spacingAndGlyphs" stroke="#111" stroke-width="0.4">1500</text>
<line x1="299.40" y1="87.50" x2="518.00" y2="87.50" stroke="#808080" stroke-width="1"/>
<line x1="296.90" y1="87.50" x2="299.40" y2="87.50" stroke="#333" stroke-width="1"/>
<text x="293.00" y="91.57" font-family='"Liberation Sans", sans-serif' font-size="11" font-weight="normal" text-anchor="end" textLength="23.0" lengthAdjust="spacingAndGlyphs" stroke="#111" stroke-width="0.4">2000</text>
<line x1="299.40" y1="65.50" x2="518.00" y2="65.50" stroke="#808080" stroke-width="1"/>
<line x1="296.90" y1="65.50" x2="299.40" y2="65.50" stroke="#333" stroke-width="1"/>
<text x="293.00" y="69.61" font-family='"Liberation Sans", sans-serif' font-size="11" font-weight="normal" text-anchor="end" textLength="23.0" lengthAdjust="spacingAndGlyphs" stroke="#111" stroke-width="0.4">2500</text>
<line x1="299.40" y1="43.50" x2="518.00" y2="43.50" stroke="#808080" stroke-width="1"/>
<line x1="296.90" y1="43.50" x2="299.40" y2="43.50" stroke="#333" stroke-width="1"/>
<text x="293.00" y="47.66" font-family='"Liberation Sans", sans-serif' font-size="11" font-weight="normal" text-anchor="end" textLength="23.0" lengthAdjust="spacingAndGlyphs" stroke="#111" stroke-width="0.4">3000</text>
<line x1="296.90" y1="21.50" x2="299.40" y2="21.50" stroke="#333" stroke-width="1"/>
<text x="293.00" y="25.70" font-family='"Liberation Sans", sans-serif' font-size="11" font-weight="normal" text-anchor="end" textLength="23.0" lengthAdjust="spacingAndGlyphs" stroke="#111" stroke-width="0.4">3500</text>
<rect x="299.50" y="21.50" width="219.00" height="154.00" fill="none" stroke="#686868" stroke-width="1"/>
<line x1="299.50" y1="21.30" x2="299.50" y2="175.50" stroke="#333" stroke-width="1"/>
<line x1="299.40" y1="175.50" x2="518.00" y2="175.50" stroke="#333" stroke-width="1"/>
<line x1="299.50" y1="175.00" x2="299.50" y2="177.50" stroke="#333" stroke-width="1"/>
<line x1="326.50" y1="175.00" x2="326.50" y2="177.50" stroke="#333" stroke-width="1"/>
<line x1="354.50" y1="175.00" x2="354.50" y2="177.50" stroke="#333" stroke-width="1"/>
<line x1="381.50" y1="175.00" x2="381.50" y2="177.50" stroke="#333" stroke-width="1"/>
<line x1="408.50" y1="175.00" x2="408.50" y2="177.50" stroke="#333" stroke-width="1"/>
<line x1="436.50" y1="175.00" x2="436.50" y2="177.50" stroke="#333" stroke-width="1"/>
<line x1="463.50" y1="175.00" x2="463.50" y2="177.50" stroke="#333" stroke-width="1"/>
<line x1="490.50" y1="175.00" x2="490.50" y2="177.50" stroke="#333" stroke-width="1"/>
<line x1="518.50" y1="175.00" x2="518.50" y2="177.50" stroke="#333" stroke-width="1"/>
<rect x="305.60" y="140.00" width="8.10" height="35.00" fill="#bdbdbd" stroke="#111" stroke-width="0.9"/>
<line x1="309.65" y1="127.00" x2="309.65" y2="140.00" stroke="#111" stroke-width="0.9"/>
<line x1="305.95" y1="127.00" x2="313.35" y2="127.00" stroke="#111" stroke-width="1.1"/>
<rect x="313.70" y="139.00" width="8.10" height="36.00" fill="#000" stroke="#111" stroke-width="0.9"/>
<line x1="317.75" y1="105.00" x2="317.75" y2="139.00" stroke="#111" stroke-width="0.9"/>
<line x1="314.05" y1="105.00" x2="321.45" y2="105.00" stroke="#111" stroke-width="1.1"/>
<rect x="332.92" y="157.00" width="8.10" height="18.00" fill="#bdbdbd" stroke="#111" stroke-width="0.9"/>
<line x1="336.97" y1="148.75" x2="336.97" y2="157.00" stroke="#111" stroke-width="0.9"/>
<line x1="333.27" y1="148.75" x2="340.67" y2="148.75" stroke="#111" stroke-width="1.1"/>
<rect x="341.02" y="150.00" width="8.10" height="25.00" fill="#000" stroke="#111" stroke-width="0.9"/>
<line x1="345.07" y1="126.00" x2="345.07" y2="150.00" stroke="#111" stroke-width="0.9"/>
<line x1="341.38" y1="126.00" x2="348.77" y2="126.00" stroke="#111" stroke-width="1.1"/>
<rect x="360.25" y="171.75" width="8.10" height="3.25" fill="#bdbdbd" stroke="#111" stroke-width="0.9"/>
<line x1="364.30" y1="171.00" x2="364.30" y2="171.75" stroke="#111" stroke-width="0.9"/>
<line x1="360.60" y1="171.00" x2="368.00" y2="171.00" stroke="#111" stroke-width="1.1"/>
<rect x="368.35" y="161.00" width="8.10" height="14.00" fill="#000" stroke="#111" stroke-width="0.9"/>
<line x1="372.40" y1="145.50" x2="372.40" y2="161.00" stroke="#111" stroke-width="0.9"/>
<line x1="368.70" y1="145.50" x2="376.10" y2="145.50" stroke="#111" stroke-width="1.1"/>
<rect x="414.90" y="67.40" width="8.10" height="107.60" fill="#bdbdbd" stroke="#111" stroke-width="0.9"/>
<line x1="418.95" y1="29.40" x2="418.95" y2="67.40" stroke="#111" stroke-width="0.9"/>
<line x1="415.25" y1="29.40" x2="422.65" y2="29.40" stroke="#111" stroke-width="1.1"/>
<rect x="423.00" y="169.30" width="8.10" height="5.70" fill="#000" stroke="#111" stroke-width="0.9"/>
<line x1="427.05" y1="165.40" x2="427.05" y2="169.30" stroke="#111" stroke-width="0.9"/>
<line x1="423.35" y1="165.40" x2="430.75" y2="165.40" stroke="#111" stroke-width="1.1"/>
<rect x="442.22" y="105.00" width="8.10" height="70.00" fill="#bdbdbd" stroke="#111" stroke-width="0.9"/>
<line x1="446.27" y1="75.80" x2="446.27" y2="105.00" stroke="#111" stroke-width="0.9"/>
<line x1="442.57" y1="75.80" x2="449.97" y2="75.80" stroke="#111" stroke-width="1.1"/>
<rect x="450.32" y="172.60" width="8.10" height="2.40" fill="#000" stroke="#111" stroke-width="0.9"/>
<rect x="469.55" y="92.90" width="8.10" height="82.10" fill="#bdbdbd" stroke="#111" stroke-width="0.9"/>
<line x1="473.60" y1="72.70" x2="473.60" y2="92.90" stroke="#111" stroke-width="0.9"/>
<line x1="469.90" y1="72.70" x2="477.30" y2="72.70" stroke="#111" stroke-width="1.1"/>
<rect x="477.65" y="146.30" width="8.10" height="28.70" fill="#000" stroke="#111" stroke-width="0.9"/>
<line x1="481.70" y1="124.00" x2="481.70" y2="146.30" stroke="#111" stroke-width="0.9"/>
<line x1="478.00" y1="124.00" x2="485.40" y2="124.00" stroke="#111" stroke-width="1.1"/>
<rect x="496.88" y="119.80" width="8.10" height="55.20" fill="#bdbdbd" stroke="#111" stroke-width="0.9"/>
<line x1="500.93" y1="104.40" x2="500.93" y2="119.80" stroke="#111" stroke-width="0.9"/>
<line x1="497.23" y1="104.40" x2="504.62" y2="104.40" stroke="#111" stroke-width="1.1"/>
<rect x="504.98" y="156.40" width="8.10" height="18.60" fill="#000" stroke="#111" stroke-width="0.9"/>
<line x1="509.03" y1="144.50" x2="509.03" y2="156.40" stroke="#111" stroke-width="0.9"/>
<line x1="505.33" y1="144.50" x2="512.73" y2="144.50" stroke="#111" stroke-width="1.1"/>
<text x="397.30" y="173.80" font-family='"Liberation Serif", serif' font-size="13" font-weight="normal" text-anchor="middle">nd</text>
<rect x="298.80" y="201.20" width="219.20" height="146.60" fill="#fff" stroke="none" stroke-width="0.6"/>
<line x1="296.30" y1="347.50" x2="298.80" y2="347.50" stroke="#333" stroke-width="1"/>
<text x="292.40" y="352.20" font-family='"Liberation Sans", sans-serif' font-size="11" font-weight="normal" text-anchor="end" textLength="5.4" lengthAdjust="spacingAndGlyphs" stroke="#111" stroke-width="0.4">0</text>
<line x1="298.80" y1="323.50" x2="518.00" y2="323.50" stroke="#808080" stroke-width="1"/>
<line x1="296.30" y1="323.50" x2="298.80" y2="323.50" stroke="#333" stroke-width="1"/>
<text x="292.40" y="327.77" font-family='"Liberation Sans", sans-serif' font-size="11" font-weight="normal" text-anchor="end" textLength="28.9" lengthAdjust="spacingAndGlyphs" stroke="#111" stroke-width="0.4">10000</text>
<line x1="298.80" y1="298.50" x2="518.00" y2="298.50" stroke="#808080" stroke-width="1"/>
<line x1="296.30" y1="298.50" x2="298.80" y2="298.50" stroke="#333" stroke-width="1"/>
<text x="292.40" y="303.33" font-family='"Liberation Sans", sans-serif' font-size="11" font-weight="normal" text-anchor="end" textLength="28.9" lengthAdjust="spacingAndGlyphs" stroke="#111" stroke-width="0.4">20000</text>
<line x1="298.80" y1="274.50" x2="518.00" y2="274.50" stroke="#808080" stroke-width="1"/>
<line x1="296.30" y1="274.50" x2="298.80" y2="274.50" stroke="#333" stroke-width="1"/>
<text x="292.40" y="278.90" font-family='"Liberation Sans", sans-serif' font-size="11" font-weight="normal" text-anchor="end" textLength="28.9" lengthAdjust="spacingAndGlyphs" stroke="#111" stroke-width="0.4">30000</text>
<line x1="298.80" y1="250.50" x2="518.00" y2="250.50" stroke="#808080" stroke-width="1"/>
<line x1="296.30" y1="250.50" x2="298.80" y2="250.50" stroke="#333" stroke-width="1"/>
<text x="292.40" y="254.47" font-family='"Liberation Sans", sans-serif' font-size="11" font-weight="normal" text-anchor="end" textLength="28.9" lengthAdjust="spacingAndGlyphs" stroke="#111" stroke-width="0.4">40000</text>
<line x1="298.80" y1="225.50" x2="518.00" y2="225.50" stroke="#808080" stroke-width="1"/>
<line x1="296.30" y1="225.50" x2="298.80" y2="225.50" stroke="#333" stroke-width="1"/>
<text x="292.40" y="230.03" font-family='"Liberation Sans", sans-serif' font-size="11" font-weight="normal" text-anchor="end" textLength="28.9" lengthAdjust="spacingAndGlyphs" stroke="#111" stroke-width="0.4">50000</text>
<line x1="296.30" y1="201.50" x2="298.80" y2="201.50" stroke="#333" stroke-width="1"/>
<text x="292.40" y="205.60" font-family='"Liberation Sans", sans-serif' font-size="11" font-weight="normal" text-anchor="end" textLength="28.9" lengthAdjust="spacingAndGlyphs" stroke="#111" stroke-width="0.4">60000</text>
<rect x="298.50" y="201.50" width="220.00" height="146.00" fill="none" stroke="#686868" stroke-width="1"/>
<line x1="298.50" y1="201.20" x2="298.50" y2="348.30" stroke="#333" stroke-width="1"/>
<line x1="298.80" y1="347.50" x2="518.00" y2="347.50" stroke="#333" stroke-width="1"/>
<line x1="298.50" y1="347.80" x2="298.50" y2="350.30" stroke="#333" stroke-width="1"/>
<line x1="326.50" y1="347.80" x2="326.50" y2="350.30" stroke="#333" stroke-width="1"/>
<line x1="353.50" y1="347.80" x2="353.50" y2="350.30" stroke="#333" stroke-width="1"/>
<line x1="381.50" y1="347.80" x2="381.50" y2="350.30" stroke="#333" stroke-width="1"/>
<line x1="408.50" y1="347.80" x2="408.50" y2="350.30" stroke="#333" stroke-width="1"/>
<line x1="435.50" y1="347.80" x2="435.50" y2="350.30" stroke="#333" stroke-width="1"/>
<line x1="463.50" y1="347.80" x2="463.50" y2="350.30" stroke="#333" stroke-width="1"/>
<line x1="490.50" y1="347.80" x2="490.50" y2="350.30" stroke="#333" stroke-width="1"/>
<line x1="518.50" y1="347.80" x2="518.50" y2="350.30" stroke="#333" stroke-width="1"/>
<rect x="305.00" y="341.20" width="8.10" height="6.60" fill="#bdbdbd" stroke="#111" stroke-width="0.9"/>
<line x1="309.05" y1="337.30" x2="309.05" y2="341.20" stroke="#111" stroke-width="0.9"/>
<line x1="305.35" y1="337.30" x2="312.75" y2="337.30" stroke="#111" stroke-width="1.1"/>
<rect x="313.10" y="282.00" width="8.10" height="65.80" fill="#000" stroke="#111" stroke-width="0.9"/>
<line x1="317.15" y1="229.70" x2="317.15" y2="282.00" stroke="#111" stroke-width="0.9"/>
<line x1="313.45" y1="229.70" x2="320.85" y2="229.70" stroke="#111" stroke-width="1.1"/>
<rect x="332.40" y="341.20" width="8.10" height="6.60" fill="#bdbdbd" stroke="#111" stroke-width="0.9"/>
<line x1="336.45" y1="338.70" x2="336.45" y2="341.20" stroke="#111" stroke-width="0.9"/>
<line x1="332.75" y1="338.70" x2="340.15" y2="338.70" stroke="#111" stroke-width="1.1"/>
<rect x="340.50" y="280.80" width="8.10" height="67.00" fill="#000" stroke="#111" stroke-width="0.9"/>
<line x1="344.55" y1="226.40" x2="344.55" y2="280.80" stroke="#111" stroke-width="0.9"/>
<line x1="340.85" y1="226.40" x2="348.25" y2="226.40" stroke="#111" stroke-width="1.1"/>
<line x1="359.80" y1="347.50" x2="367.90" y2="347.50" stroke="#111" stroke-width="0.6"/>
<rect x="367.90" y="295.80" width="8.10" height="52.00" fill="#000" stroke="#111" stroke-width="0.9"/>
<line x1="371.95" y1="241.00" x2="371.95" y2="295.80" stroke="#111" stroke-width="0.9"/>
<line x1="368.25" y1="241.00" x2="375.65" y2="241.00" stroke="#111" stroke-width="1.1"/>
<rect x="387.20" y="339.20" width="8.10" height="8.60" fill="#bdbdbd" stroke="#111" stroke-width="0.9"/>
<line x1="391.25" y1="334.30" x2="391.25" y2="339.20" stroke="#111" stroke-width="0.9"/>
<line x1="387.55" y1="334.30" x2="394.95" y2="334.30" stroke="#111" stroke-width="1.1"/>
<rect x="395.30" y="280.80" width="8.10" height="67.00" fill="#000" stroke="#111" stroke-width="0.9"/>
<line x1="399.35" y1="241.00" x2="399.35" y2="280.80" stroke="#111" stroke-width="0.9"/>
<line x1="395.65" y1="241.00" x2="403.05" y2="241.00" stroke="#111" stroke-width="1.1"/>
<rect x="414.60" y="336.80" width="8.10" height="11.00" fill="#bdbdbd" stroke="#111" stroke-width="0.9"/>
<line x1="418.65" y1="335.50" x2="418.65" y2="336.80" stroke="#111" stroke-width="0.9"/>
<line x1="414.95" y1="335.50" x2="422.35" y2="335.50" stroke="#111" stroke-width="1.1"/>
<rect x="422.70" y="344.70" width="8.10" height="3.10" fill="#000" stroke="#111" stroke-width="0.9"/>
<rect x="442.00" y="340.30" width="8.10" height="7.50" fill="#bdbdbd" stroke="#111" stroke-width="0.9"/>
<line x1="446.05" y1="337.50" x2="446.05" y2="340.30" stroke="#111" stroke-width="0.9"/>
<line x1="442.35" y1="337.50" x2="449.75" y2="337.50" stroke="#111" stroke-width="1.1"/>
<rect x="450.10" y="347.50" width="8.10" height="0.30" fill="#000" stroke="#111" stroke-width="0.9"/>
<rect x="469.40" y="338.90" width="8.10" height="8.90" fill="#bdbdbd" stroke="#111" stroke-width="0.9"/>
<rect x="477.50" y="335.20" width="8.10" height="12.60" fill="#000" stroke="#111" stroke-width="0.9"/>
<line x1="481.55" y1="324.60" x2="481.55" y2="335.20" stroke="#111" stroke-width="0.9"/>
<line x1="477.85" y1="324.60" x2="485.25" y2="324.60" stroke="#111" stroke-width="1.1"/>
<rect x="496.80" y="344.20" width="8.10" height="3.60" fill="#bdbdbd" stroke="#111" stroke-width="0.9"/>
<rect x="504.90" y="341.70" width="8.10" height="6.10" fill="#000" stroke="#111" stroke-width="0.9"/>
<line x1="508.95" y1="335.50" x2="508.95" y2="341.70" stroke="#111" stroke-width="0.9"/>
<line x1="505.25" y1="335.50" x2="512.65" y2="335.50" stroke="#111" stroke-width="1.1"/>
<text x="318.60" y="356.20" font-family='"Liberation Serif", serif' font-size="11.9" font-weight="bold" text-anchor="end" transform="rotate(-90 318.60 356.20)">CD4</text>
<text x="345.50" y="356.20" font-family='"Liberation Serif", serif' font-size="11.9" font-weight="bold" text-anchor="end" transform="rotate(-90 345.50 356.20)">CD8</text>
<text x="372.50" y="356.20" font-family='"Liberation Serif", serif' font-size="11.9" font-weight="bold" text-anchor="end" transform="rotate(-90 372.50 356.20)">CD4/8 DP</text>
<text x="398.90" y="356.20" font-family='"Liberation Serif", serif' font-size="11.9" font-weight="bold" text-anchor="end" transform="rotate(-90 398.90 356.20)">CD3</text>
<text x="426.20" y="356.20" font-family='"Liberation Serif", serif' font-size="11.9" font-weight="bold" text-anchor="end" transform="rotate(-90 426.20 356.20)">B220</text>
<text x="453.20" y="356.20" font-family='"Liberation Serif", serif' font-size="11.9" font-weight="bold" text-anchor="end" transform="rotate(-90 453.20 356.20)">B220/IgD DP</text>
<text x="481.50" y="356.20" font-family='"Liberation Serif", serif' font-size="11.9" font-weight="bold" text-anchor="end" transform="rotate(-90 481.50 356.20)">Mac1</text>
<text x="507.70" y="356.20" font-family='"Liberation Serif", serif' font-size="11.9" font-weight="bold" text-anchor="end" transform="rotate(-90 507.70 356.20)">Mac1/Gr1 DP</text>
<rect x="344.10" y="432.90" width="120.80" height="22.20" fill="#fff" stroke="#444" stroke-width="0.8"/>
<rect x="351.40" y="440.80" width="7.40" height="7.40" fill="#bdbdbd" stroke="#333" stroke-width="0.6"/>
<text x="367.00" y="448.20" font-family='"Liberation Serif", serif' font-size="12" font-weight="normal" text-anchor="start">Control</text>
<rect x="416.20" y="441.00" width="7.40" height="7.20" fill="#000" stroke="#000" stroke-width="0.6"/>
<text x="430.30" y="448.20" font-family='"Liberation Serif", serif' font-size="12" font-weight="normal" text-anchor="start">Delta4</text>
</svg>
</body></html>
